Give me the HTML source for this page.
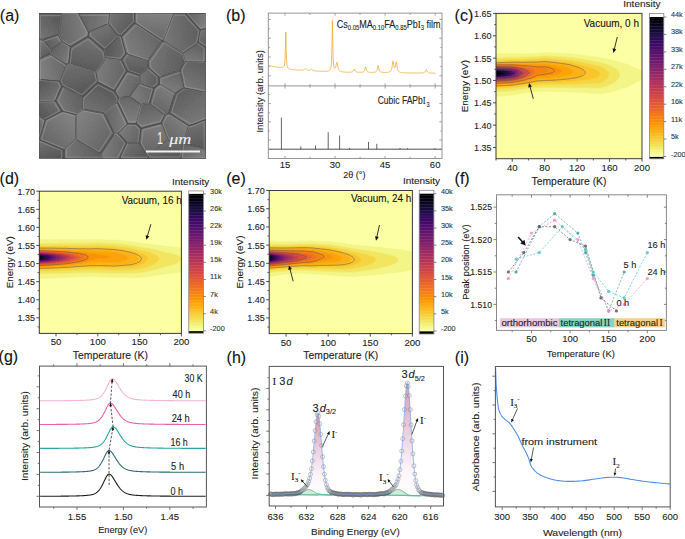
<!DOCTYPE html>
<html><head><meta charset="utf-8"><style>
html,body{margin:0;padding:0;background:#fff;}
svg{display:block;font-family:"Liberation Sans", sans-serif;}
</style></head><body>
<svg width="685" height="539" viewBox="0 0 685 539">
<rect width="685" height="539" fill="#fff"/>
<text x="-0.2" y="21.1" font-size="16" fill="#111" stroke="#111" stroke-width="0.1">(a)</text>
<text x="226" y="21.4" font-size="16" fill="#111" stroke="#111" stroke-width="0.1">(b)</text>
<text x="454.6" y="21.4" font-size="16" fill="#111" stroke="#111" stroke-width="0.1">(c)</text>
<text x="-0.4" y="184.3" font-size="16" fill="#111" stroke="#111" stroke-width="0.1">(d)</text>
<text x="226.2" y="184.1" font-size="16" fill="#111" stroke="#111" stroke-width="0.1">(e)</text>
<text x="454.6" y="184" font-size="16" fill="#111" stroke="#111" stroke-width="0.1">(f)</text>
<text x="-1.4" y="362.4" font-size="16" fill="#111" stroke="#111" stroke-width="0.1">(g)</text>
<text x="226.6" y="363.3" font-size="16" fill="#111" stroke="#111" stroke-width="0.1">(h)</text>
<text x="454.8" y="363.4" font-size="16" fill="#111" stroke="#111" stroke-width="0.1">(i)</text>
<defs><clipPath id="semclip"><rect x="39" y="13" width="167" height="146"/></clipPath><filter id="semblur" x="-5%" y="-5%" width="110%" height="110%"><feGaussianBlur stdDeviation="0.7"/></filter><filter id="semnoise" x="0" y="0" width="100%" height="100%"><feTurbulence type="fractalNoise" baseFrequency="0.7" numOctaves="2" seed="4"/><feColorMatrix type="matrix" values="0 0 0 0 0.5  0 0 0 0 0.5  0 0 0 0 0.5  0 0 0 0.5 0"/></filter><linearGradient id="sg0" x1="0.16" y1="0.86" x2="0.84" y2="0.14"><stop offset="0" stop-color="#6e6e6e"/><stop offset="1" stop-color="#525252"/></linearGradient><linearGradient id="sg1" x1="1" y1="0.46" x2="0" y2="0.54"><stop offset="0" stop-color="#7c7c7c"/><stop offset="1" stop-color="#606060"/></linearGradient><linearGradient id="sg2" x1="1" y1="0.56" x2="0" y2="0.44"><stop offset="0" stop-color="#797979"/><stop offset="1" stop-color="#5d5d5d"/></linearGradient><linearGradient id="sg3" x1="0.06" y1="0.26" x2="0.94" y2="0.74"><stop offset="0" stop-color="#6d6d6d"/><stop offset="1" stop-color="#515151"/></linearGradient><linearGradient id="sg4" x1="0.23" y1="0.08" x2="0.77" y2="0.92"><stop offset="0" stop-color="#727272"/><stop offset="1" stop-color="#565656"/></linearGradient><linearGradient id="sg5" x1="0.93" y1="0.24" x2="0.07" y2="0.76"><stop offset="0" stop-color="#6f6f6f"/><stop offset="1" stop-color="#535353"/></linearGradient><linearGradient id="sg6" x1="0.94" y1="0.74" x2="0.06" y2="0.26"><stop offset="0" stop-color="#767676"/><stop offset="1" stop-color="#5a5a5a"/></linearGradient><linearGradient id="sg7" x1="0.61" y1="0.01" x2="0.39" y2="0.99"><stop offset="0" stop-color="#6f6f6f"/><stop offset="1" stop-color="#535353"/></linearGradient><linearGradient id="sg8" x1="0.19" y1="0.11" x2="0.81" y2="0.89"><stop offset="0" stop-color="#707070"/><stop offset="1" stop-color="#545454"/></linearGradient><linearGradient id="sg9" x1="0.02" y1="0.62" x2="0.98" y2="0.38"><stop offset="0" stop-color="#7d7d7d"/><stop offset="1" stop-color="#616161"/></linearGradient><linearGradient id="sg10" x1="0.36" y1="0.02" x2="0.64" y2="0.98"><stop offset="0" stop-color="#6a6a6a"/><stop offset="1" stop-color="#4e4e4e"/></linearGradient><linearGradient id="sg11" x1="0.01" y1="0.43" x2="0.99" y2="0.57"><stop offset="0" stop-color="#797979"/><stop offset="1" stop-color="#5d5d5d"/></linearGradient><linearGradient id="sg12" x1="1" y1="0.55" x2="0" y2="0.45"><stop offset="0" stop-color="#6a6a6a"/><stop offset="1" stop-color="#4e4e4e"/></linearGradient><linearGradient id="sg13" x1="0.53" y1="0" x2="0.47" y2="1"><stop offset="0" stop-color="#7d7d7d"/><stop offset="1" stop-color="#616161"/></linearGradient><linearGradient id="sg14" x1="0.06" y1="0.73" x2="0.94" y2="0.27"><stop offset="0" stop-color="#7b7b7b"/><stop offset="1" stop-color="#5f5f5f"/></linearGradient><linearGradient id="sg15" x1="0" y1="0.56" x2="1" y2="0.44"><stop offset="0" stop-color="#737373"/><stop offset="1" stop-color="#575757"/></linearGradient><linearGradient id="sg16" x1="0.98" y1="0.64" x2="0.02" y2="0.36"><stop offset="0" stop-color="#7a7a7a"/><stop offset="1" stop-color="#5e5e5e"/></linearGradient><linearGradient id="sg17" x1="0.01" y1="0.41" x2="0.99" y2="0.59"><stop offset="0" stop-color="#737373"/><stop offset="1" stop-color="#575757"/></linearGradient><linearGradient id="sg18" x1="0.5" y1="0" x2="0.5" y2="1"><stop offset="0" stop-color="#6c6c6c"/><stop offset="1" stop-color="#505050"/></linearGradient><linearGradient id="sg19" x1="0.3" y1="0.96" x2="0.7" y2="0.04"><stop offset="0" stop-color="#767676"/><stop offset="1" stop-color="#5a5a5a"/></linearGradient><linearGradient id="sg20" x1="0.31" y1="0.96" x2="0.69" y2="0.04"><stop offset="0" stop-color="#767676"/><stop offset="1" stop-color="#5a5a5a"/></linearGradient><linearGradient id="sg21" x1="0.27" y1="0.95" x2="0.73" y2="0.05"><stop offset="0" stop-color="#7c7c7c"/><stop offset="1" stop-color="#606060"/></linearGradient><linearGradient id="sg22" x1="0.01" y1="0.39" x2="0.99" y2="0.61"><stop offset="0" stop-color="#717171"/><stop offset="1" stop-color="#555555"/></linearGradient><linearGradient id="sg23" x1="0.03" y1="0.34" x2="0.97" y2="0.66"><stop offset="0" stop-color="#797979"/><stop offset="1" stop-color="#5d5d5d"/></linearGradient><linearGradient id="sg24" x1="0.48" y1="0" x2="0.52" y2="1"><stop offset="0" stop-color="#717171"/><stop offset="1" stop-color="#555555"/></linearGradient><linearGradient id="sg25" x1="0.82" y1="0.88" x2="0.18" y2="0.12"><stop offset="0" stop-color="#717171"/><stop offset="1" stop-color="#555555"/></linearGradient><linearGradient id="sg26" x1="0.04" y1="0.69" x2="0.96" y2="0.31"><stop offset="0" stop-color="#757575"/><stop offset="1" stop-color="#595959"/></linearGradient><linearGradient id="sg27" x1="0.22" y1="0.92" x2="0.78" y2="0.08"><stop offset="0" stop-color="#6c6c6c"/><stop offset="1" stop-color="#505050"/></linearGradient><linearGradient id="sg28" x1="0.87" y1="0.17" x2="0.13" y2="0.83"><stop offset="0" stop-color="#6c6c6c"/><stop offset="1" stop-color="#505050"/></linearGradient><linearGradient id="sg29" x1="0.85" y1="0.14" x2="0.15" y2="0.86"><stop offset="0" stop-color="#7d7d7d"/><stop offset="1" stop-color="#616161"/></linearGradient><linearGradient id="sg30" x1="0.12" y1="0.18" x2="0.88" y2="0.82"><stop offset="0" stop-color="#7b7b7b"/><stop offset="1" stop-color="#5f5f5f"/></linearGradient><linearGradient id="sg31" x1="1" y1="0.55" x2="0" y2="0.45"><stop offset="0" stop-color="#7a7a7a"/><stop offset="1" stop-color="#5e5e5e"/></linearGradient><linearGradient id="sg32" x1="0" y1="0.44" x2="1" y2="0.56"><stop offset="0" stop-color="#7a7a7a"/><stop offset="1" stop-color="#5e5e5e"/></linearGradient><linearGradient id="sg33" x1="0" y1="0.55" x2="1" y2="0.45"><stop offset="0" stop-color="#727272"/><stop offset="1" stop-color="#565656"/></linearGradient><linearGradient id="sg34" x1="0.32" y1="0.03" x2="0.68" y2="0.97"><stop offset="0" stop-color="#6b6b6b"/><stop offset="1" stop-color="#4f4f4f"/></linearGradient><linearGradient id="sg35" x1="0.75" y1="0.06" x2="0.25" y2="0.94"><stop offset="0" stop-color="#787878"/><stop offset="1" stop-color="#5c5c5c"/></linearGradient><linearGradient id="sg36" x1="0.02" y1="0.64" x2="0.98" y2="0.36"><stop offset="0" stop-color="#7c7c7c"/><stop offset="1" stop-color="#606060"/></linearGradient><linearGradient id="sg37" x1="0.74" y1="0.06" x2="0.26" y2="0.94"><stop offset="0" stop-color="#7b7b7b"/><stop offset="1" stop-color="#5f5f5f"/></linearGradient><linearGradient id="sg38" x1="0.77" y1="0.92" x2="0.23" y2="0.08"><stop offset="0" stop-color="#747474"/><stop offset="1" stop-color="#585858"/></linearGradient><linearGradient id="sg39" x1="0.44" y1="1" x2="0.56" y2="0"><stop offset="0" stop-color="#7d7d7d"/><stop offset="1" stop-color="#616161"/></linearGradient><linearGradient id="sg40" x1="0.65" y1="0.98" x2="0.35" y2="0.02"><stop offset="0" stop-color="#787878"/><stop offset="1" stop-color="#5c5c5c"/></linearGradient><linearGradient id="sg41" x1="0.85" y1="0.14" x2="0.15" y2="0.86"><stop offset="0" stop-color="#7d7d7d"/><stop offset="1" stop-color="#616161"/></linearGradient><linearGradient id="sg42" x1="0.41" y1="0.01" x2="0.59" y2="0.99"><stop offset="0" stop-color="#6e6e6e"/><stop offset="1" stop-color="#525252"/></linearGradient><linearGradient id="sg43" x1="0.04" y1="0.32" x2="0.96" y2="0.68"><stop offset="0" stop-color="#7a7a7a"/><stop offset="1" stop-color="#5e5e5e"/></linearGradient><linearGradient id="sg44" x1="0.54" y1="0" x2="0.46" y2="1"><stop offset="0" stop-color="#7a7a7a"/><stop offset="1" stop-color="#5e5e5e"/></linearGradient><linearGradient id="sg45" x1="0.07" y1="0.25" x2="0.93" y2="0.75"><stop offset="0" stop-color="#6e6e6e"/><stop offset="1" stop-color="#525252"/></linearGradient><linearGradient id="sg46" x1="0.33" y1="0.03" x2="0.67" y2="0.97"><stop offset="0" stop-color="#6d6d6d"/><stop offset="1" stop-color="#515151"/></linearGradient><linearGradient id="sg47" x1="0.92" y1="0.77" x2="0.08" y2="0.23"><stop offset="0" stop-color="#7a7a7a"/><stop offset="1" stop-color="#5e5e5e"/></linearGradient></defs>
<g clip-path="url(#semclip)">
<rect x="39" y="13" width="167" height="146" fill="#5a5a5a" stroke="none" stroke-width="1" />
<g filter="url(#semblur)"><polygon points="42.5,40 39,38.8 39,13.2 61.5,13 61.7,14.2 61.3,14.5 61,19.2 60.7,19.5 58.7,34.5 58.2,35 55.2,35.7 48.8,38 47.8,38 42.5,40" fill="url(#sg0)" stroke="#4a4a4a" stroke-width="1.4" stroke-linejoin="round"/><polygon points="71.2,46.7 70.2,46.7 62.5,42 61.7,41.2 58.7,34.8 60.7,19.5 61,19.2 61.3,14.5 61.8,13 78.5,13 88.7,31.8 88.7,34.5 88.2,36.7 71.2,46.7" fill="url(#sg1)" stroke="#4a4a4a" stroke-width="1.4" stroke-linejoin="round"/><polygon points="88.8,32.3 81.7,18.5 81,17.8 78.8,13 109.7,13.2 109,22.2 108.7,23.8 108.2,24.3 105.8,25 88.8,32.3" fill="url(#sg2)" stroke="#4a4a4a" stroke-width="1.4" stroke-linejoin="round"/><polygon points="121.5,36.3 118.5,36 109,24.5 108.7,22.5 109,22.2 109.7,13.2 134.5,13 134.7,22.8 121.5,36.3" fill="url(#sg3)" stroke="#4a4a4a" stroke-width="1.4" stroke-linejoin="round"/><polygon points="104.2,50 88.3,36.5 88.7,32.5 108.8,24 118.3,36.2 104.2,50" fill="url(#sg4)" stroke="#4a4a4a" stroke-width="1.4" stroke-linejoin="round"/><polygon points="51.2,49.7 49,47.8 43.3,41.2 42.7,39.8 58.5,34.7 62,41.5 51.2,49.7" fill="url(#sg5)" stroke="#4a4a4a" stroke-width="1.4" stroke-linejoin="round"/><polygon points="67.8,64.3 66.2,64 50.3,53.8 50.7,50.2 61.8,41.7 70.7,46.8 69.3,61.2 69,61.5 69,63.2 67.8,64.3" fill="url(#sg6)" stroke="#4a4a4a" stroke-width="1.4" stroke-linejoin="round"/><polygon points="96.5,71.7 94.2,71.3 86.5,68.7 85.5,68.7 73.5,64.7 72.5,64.7 69,63.2 70.7,46.8 87.8,36.7 88.5,36.7 90.5,38.3 104.3,50.5 104.3,52.2 105.7,57.8 96.5,71.7" fill="url(#sg7)" stroke="#4a4a4a" stroke-width="1.4" stroke-linejoin="round"/><polygon points="39.2,59 39,39.2 39.5,39 42.2,39.7 51,49.8 50.7,50.2 50.3,53.5 49.8,54 39.2,59" fill="url(#sg8)" stroke="#4a4a4a" stroke-width="1.4" stroke-linejoin="round"/><polygon points="59.8,81.7 59.2,81.3 55.8,81.3 55.5,81 44.5,80.3 44.2,80 40.8,80 39,79.5 39,59.2 39.5,58.7 50.2,53.7 67.3,64.5 61.3,78.2 60.7,80.5 59.8,81.7" fill="url(#sg9)" stroke="#4a4a4a" stroke-width="1.4" stroke-linejoin="round"/><polygon points="82.8,97 79.5,95.7 73.8,92.3 63.2,87 62,86.2 60,81.8 67,64.8 68.8,63.3 96.3,71.8 97.3,78.5 98,80.5 98,82.5 82.8,97" fill="url(#sg10)" stroke="#4a4a4a" stroke-width="1.4" stroke-linejoin="round"/><polygon points="114.8,91 98,82.2 96.3,71.8 105.5,58 115.5,59 115.8,59.3 118.5,59.3 118.8,59.7 121.5,59.7 127,70.8 127,71.5 114.8,91" fill="url(#sg11)" stroke="#4a4a4a" stroke-width="1.4" stroke-linejoin="round"/><polygon points="121.8,59.7 118.8,59.7 118.5,59.3 115.8,59.3 115.5,59 105.8,58 105.3,57.5 105,54.2 104,50.2 118.5,36 121.2,36.3 121.7,37.2 126,52.8 126,54.2 121.8,59.7" fill="url(#sg12)" stroke="#4a4a4a" stroke-width="1.4" stroke-linejoin="round"/><polygon points="162.2,41.3 134.7,23.2 134.8,13 173.7,13.2 163.7,40.2 163.2,41 162.2,41.3" fill="url(#sg13)" stroke="#4a4a4a" stroke-width="1.4" stroke-linejoin="round"/><polygon points="147.8,61 126.5,54 126,53.5 121.3,36.5 134.5,23 161.7,41.2 161,42.8 147.8,61" fill="url(#sg14)" stroke="#4a4a4a" stroke-width="1.4" stroke-linejoin="round"/><polygon points="182.5,53.3 163.3,40.8 173.8,13 185.5,13 200.7,29.8 200.7,31.2 200,32.8 200,34.2 198,42.5 182.5,53.3" fill="url(#sg15)" stroke="#4a4a4a" stroke-width="1.4" stroke-linejoin="round"/><polygon points="201.5,30 200.8,30 198,27.2 187,14.8 185.8,13 206,13.2 206,28.5 201.5,30" fill="url(#sg16)" stroke="#4a4a4a" stroke-width="1.4" stroke-linejoin="round"/><polygon points="159.5,77.3 157.5,76 148.3,67.8 147.7,61.2 161.7,41.5 163.5,41 181.5,52.7 182.7,53.8 185,61.2 180.3,69.8 179.5,70.7 159.5,77.3" fill="url(#sg17)" stroke="#4a4a4a" stroke-width="1.4" stroke-linejoin="round"/><polygon points="139.2,75.3 127,71.2 121.7,60.2 122,59.2 126.2,53.7 147.2,60.7 147.7,61.2 148.3,67.8 139.2,75.3" fill="url(#sg18)" stroke="#4a4a4a" stroke-width="1.4" stroke-linejoin="round"/><polygon points="205.8,62.3 185.2,61.3 184.7,60.8 182.3,53.5 196.2,43.7 198.2,42.7 206,48.2 205.8,62.3" fill="url(#sg19)" stroke="#4a4a4a" stroke-width="1.4" stroke-linejoin="round"/><polygon points="205.8,92.7 183.7,88.2 181.3,76.5 180.7,74.8 180,70.2 184.8,61.3 204.2,62 206,62.5 205.8,92.7" fill="url(#sg20)" stroke="#4a4a4a" stroke-width="1.4" stroke-linejoin="round"/><polygon points="175.5,93.3 174.8,93.3 172.5,91.7 159.8,84.7 159,83.8 159,77.5 179.8,70.3 183.7,88.2 175.5,93.3" fill="url(#sg21)" stroke="#4a4a4a" stroke-width="1.4" stroke-linejoin="round"/><polygon points="154.5,87.7 145.2,84.7 144.2,84.7 140.2,83.3 139.7,82.8 139.3,75.2 148.2,68 150.2,69.3 159,77.2 159,84.2 154.5,87.7" fill="url(#sg22)" stroke="#4a4a4a" stroke-width="1.4" stroke-linejoin="round"/><polygon points="123.2,97.7 119.2,97.7 115.7,92.5 115,90.5 126.3,72.2 127.2,71.3 127.8,71.3 138.8,75 139.3,75.5 139.7,83.2 138.7,84.8 129.8,97 123.5,97.3 123.2,97.7" fill="url(#sg23)" stroke="#4a4a4a" stroke-width="1.4" stroke-linejoin="round"/><polygon points="205.8,48 198,42.5 200.7,30.2 205.2,28.7 206,28.8 205.8,48" fill="url(#sg24)" stroke="#4a4a4a" stroke-width="1.4" stroke-linejoin="round"/><polygon points="39.2,102 39.2,79.7 47.8,80.3 48.2,80.7 51.5,80.7 51.8,81 59.2,81.3 60.3,82.2 62,85.8 62,86.8 59.7,91.5 56.7,99.2 55.5,101 39.5,101.7 39.2,102" fill="url(#sg25)" stroke="#4a4a4a" stroke-width="1.4" stroke-linejoin="round"/><polygon points="76.2,115 62.2,111.3 55.7,100.8 62.2,86.3 82.7,97.2 82.7,109.5 76.2,115" fill="url(#sg26)" stroke="#4a4a4a" stroke-width="1.4" stroke-linejoin="round"/><polygon points="104.2,113.3 82.7,109.5 82.7,97.2 98.2,82.3 114.5,90.7 119,97.5 119,98.5 117.7,101.8 104.2,113.3" fill="url(#sg27)" stroke="#4a4a4a" stroke-width="1.4" stroke-linejoin="round"/><polygon points="45.5,119.7 43.5,119 39,116.2 39,102.2 39.5,101.7 55.8,101 62,111.2 45.5,119.7" fill="url(#sg28)" stroke="#4a4a4a" stroke-width="1.4" stroke-linejoin="round"/><polygon points="63.8,150 39,139.8 39,138.8 45,119.8 61.8,111.3 65.5,112 76.3,115.2 76.3,138.8 63.8,150" fill="url(#sg29)" stroke="#4a4a4a" stroke-width="1.4" stroke-linejoin="round"/><polygon points="100.8,153.7 76.3,139.2 76.3,114.8 82.5,109.7 84.5,109.7 86.5,110.3 88.2,110.3 90.2,111 91.8,111 93.8,111.7 104.2,113.3 114,132.8 113.7,134.2 100.8,153.7" fill="url(#sg30)" stroke="#4a4a4a" stroke-width="1.4" stroke-linejoin="round"/><polygon points="116.8,133.3 114,133.2 104.3,113.8 104.3,113.2 117.5,102 128,123.8 118.5,133 116.8,133.3" fill="url(#sg31)" stroke="#4a4a4a" stroke-width="1.4" stroke-linejoin="round"/><polygon points="119.5,159 102.2,159 101.3,156.2 101,154.5 101.3,152.8 114.2,133.3 118.2,133 127,143.2 119.5,159" fill="url(#sg32)" stroke="#4a4a4a" stroke-width="1.4" stroke-linejoin="round"/><polygon points="101.8,159 64.2,159 64,149.8 76.2,139 100.5,153.3 101.3,154.8 101.3,156.2 102,157.8 101.8,159" fill="url(#sg33)" stroke="#4a4a4a" stroke-width="1.4" stroke-linejoin="round"/><polygon points="63.8,159 39.2,159 39,140.2 39.8,140 63.8,150 63.8,159" fill="url(#sg34)" stroke="#4a4a4a" stroke-width="1.4" stroke-linejoin="round"/><polygon points="39.2,138.7 39,116.5 39.5,116.3 44.5,119.3 45,120.2 39.2,138.7" fill="url(#sg35)" stroke="#4a4a4a" stroke-width="1.4" stroke-linejoin="round"/><polygon points="141.8,104.7 140.5,104.7 130,96.8 139.8,83 154.3,87.8 149.7,103.2 141.8,104.7" fill="url(#sg36)" stroke="#4a4a4a" stroke-width="1.4" stroke-linejoin="round"/><polygon points="165.2,115 149.7,103.2 154,88.5 155.5,86.7 159.2,84 175.3,93.5 169.7,110.5 169.3,112.5 168.5,113.7 165.2,115" fill="url(#sg37)" stroke="#4a4a4a" stroke-width="1.4" stroke-linejoin="round"/><polygon points="189.2,126 169,113.5 175,93.8 183.5,88.3 201.8,92 205.2,92.3 206,92.8 206,119.5 204.8,120.3 202.2,121 189.2,126" fill="url(#sg38)" stroke="#4a4a4a" stroke-width="1.4" stroke-linejoin="round"/><polygon points="136.2,124 128,123.8 117.7,102.2 117.7,101.2 119.2,97.7 130.2,97 140.7,104.8 139,113.2 138,116.2 138,117.5 137.3,119.2 137.3,120.5 136.2,124" fill="url(#sg39)" stroke="#4a4a4a" stroke-width="1.4" stroke-linejoin="round"/><polygon points="141.5,128.7 136.3,123.8 140.8,104.7 145.8,104 147.8,103.3 149.8,103.3 165,115.2 161.2,123.3 142.8,128 141.5,128.7" fill="url(#sg40)" stroke="#4a4a4a" stroke-width="1.4" stroke-linejoin="round"/><polygon points="181.8,144 167.7,139.8 163.7,129.2 161.3,124.2 161.3,122.5 164.7,115.5 165.5,114.7 168.8,113.3 189,126.2 183.3,142.8 181.8,144" fill="url(#sg41)" stroke="#4a4a4a" stroke-width="1.4" stroke-linejoin="round"/><polygon points="205.8,149.3 183.3,142.8 188.7,126.5 189.5,125.7 191.2,125 193.8,124.3 205.8,119.7 205.8,149.3" fill="url(#sg42)" stroke="#4a4a4a" stroke-width="1.4" stroke-linejoin="round"/><polygon points="139.2,143.3 127.2,143.3 118.3,133.2 127.8,124 136.5,124 141,128.5 140.3,136.2 140,136.5 140,138.8 139.7,139.2 139.7,141.5 139.2,143.3" fill="url(#sg43)" stroke="#4a4a4a" stroke-width="1.4" stroke-linejoin="round"/><polygon points="147.8,156.7 147.3,156.5 139.3,143.2 141,128.8 142.8,128 161.2,123.3 167.7,139.2 167.7,140.2 147.8,156.7" fill="url(#sg44)" stroke="#4a4a4a" stroke-width="1.4" stroke-linejoin="round"/><polygon points="147.5,159 119.8,159 119.7,158.5 126.8,143.3 139.5,143.3 147,155.5 147.7,156.8 147.5,159" fill="url(#sg45)" stroke="#4a4a4a" stroke-width="1.4" stroke-linejoin="round"/><polygon points="180.2,159 147.8,159 147.7,156.8 166.8,140.7 168.5,140 169.8,140.7 181.7,143.8 180.7,157.8 180.2,159" fill="url(#sg46)" stroke="#4a4a4a" stroke-width="1.4" stroke-linejoin="round"/><polygon points="205.8,159 180.5,159 181.7,144.2 182.8,143 184.2,143 205.8,149.3 205.8,159" fill="url(#sg47)" stroke="#4a4a4a" stroke-width="1.4" stroke-linejoin="round"/><clipPath id="rc0"><polygon points="42.5,40 39,38.8 39,13.2 61.5,13 61.7,14.2 61.3,14.5 61,19.2 60.7,19.5 58.7,34.5 58.2,35 55.2,35.7 48.8,38 47.8,38 42.5,40"/></clipPath><polygon points="43.6,40.5 40.3,39.4 40.3,15.6 61.3,15.4 61.4,16.5 61.1,16.8 60.8,21.1 60.5,21.5 58.6,35.4 58.2,35.9 55.4,36.5 49.5,38.7 48.6,38.7 43.6,40.5" fill="none" stroke="#a4a4a4" stroke-width="1.1" opacity="0.45" clip-path="url(#rc0)"/><clipPath id="rc1"><polygon points="71.2,46.7 70.2,46.7 62.5,42 61.7,41.2 58.7,34.8 60.7,19.5 61,19.2 61.3,14.5 61.8,13 78.5,13 88.7,31.8 88.7,34.5 88.2,36.7 71.2,46.7"/></clipPath><polygon points="70,44.7 69.1,44.7 62,40.4 61.2,39.6 58.4,33.7 60.3,19.4 60.6,19.1 60.9,14.8 61.4,13.4 76.9,13.4 86.3,30.9 86.3,33.4 85.8,35.4 70,44.7" fill="none" stroke="#a4a4a4" stroke-width="1.1" opacity="0.45" clip-path="url(#rc1)"/><clipPath id="rc2"><polygon points="88.8,32.3 81.7,18.5 81,17.8 78.8,13 109.7,13.2 109,22.2 108.7,23.8 108.2,24.3 105.8,25 88.8,32.3"/></clipPath><polygon points="88.9,33 82.3,20.1 81.6,19.5 79.6,15 108.3,15.1 107.7,23.5 107.4,25.1 106.9,25.5 104.7,26.1 88.9,33" fill="none" stroke="#a4a4a4" stroke-width="1.1" opacity="0.45" clip-path="url(#rc2)"/><clipPath id="rc3"><polygon points="121.5,36.3 118.5,36 109,24.5 108.7,22.5 109,22.2 109.7,13.2 134.5,13 134.7,22.8 121.5,36.3"/></clipPath><polygon points="121.2,34.2 118.4,33.8 109.6,23.2 109.3,21.3 109.6,21 110.2,12.6 133.3,12.5 133.4,21.6 121.2,34.2" fill="none" stroke="#a4a4a4" stroke-width="1.1" opacity="0.45" clip-path="url(#rc3)"/><clipPath id="rc4"><polygon points="104.2,50 88.3,36.5 88.7,32.5 108.8,24 118.3,36.2 104.2,50"/></clipPath><polygon points="105,48.2 90.3,35.7 90.6,31.9 109.4,24 118.2,35.3 105,48.2" fill="none" stroke="#a4a4a4" stroke-width="1.1" opacity="0.45" clip-path="url(#rc4)"/><clipPath id="rc5"><polygon points="51.2,49.7 49,47.8 43.3,41.2 42.7,39.8 58.5,34.7 62,41.5 51.2,49.7"/></clipPath><polygon points="50.8,50.6 48.7,48.9 43.5,42.7 42.9,41.4 57.6,36.6 60.8,43 50.8,50.6" fill="none" stroke="#a4a4a4" stroke-width="1.1" opacity="0.45" clip-path="url(#rc5)"/><clipPath id="rc6"><polygon points="67.8,64.3 66.2,64 50.3,53.8 50.7,50.2 61.8,41.7 70.7,46.8 69.3,61.2 69,61.5 69,63.2 67.8,64.3"/></clipPath><polygon points="66.5,63 64.9,62.7 50.2,53.2 50.5,49.8 60.9,41.9 69.1,46.7 67.8,60.1 67.5,60.4 67.5,61.9 66.5,63" fill="none" stroke="#a4a4a4" stroke-width="1.1" opacity="0.45" clip-path="url(#rc6)"/><clipPath id="rc7"><polygon points="96.5,71.7 94.2,71.3 86.5,68.7 85.5,68.7 73.5,64.7 72.5,64.7 69,63.2 70.7,46.8 87.8,36.7 88.5,36.7 90.5,38.3 104.3,50.5 104.3,52.2 105.7,57.8 96.5,71.7"/></clipPath><polygon points="95.9,72.1 93.7,71.8 86.6,69.3 85.7,69.3 74.5,65.6 73.6,65.6 70.3,64.2 71.9,49 87.8,39.5 88.5,39.5 90.3,41.1 103.2,52.4 103.2,53.9 104.4,59.2 95.9,72.1" fill="none" stroke="#a4a4a4" stroke-width="1.1" opacity="0.45" clip-path="url(#rc7)"/><clipPath id="rc8"><polygon points="39.2,59 39,39.2 39.5,39 42.2,39.7 51,49.8 50.7,50.2 50.3,53.5 49.8,54 39.2,59"/></clipPath><polygon points="40.3,59.5 40.1,41.1 40.6,40.9 43,41.5 51.3,51 50.9,51.3 50.6,54.4 50.2,54.9 40.3,59.5" fill="none" stroke="#a4a4a4" stroke-width="1.1" opacity="0.45" clip-path="url(#rc8)"/><clipPath id="rc9"><polygon points="59.8,81.7 59.2,81.3 55.8,81.3 55.5,81 44.5,80.3 44.2,80 40.8,80 39,79.5 39,59.2 39.5,58.7 50.2,53.7 67.3,64.5 61.3,78.2 60.7,80.5 59.8,81.7"/></clipPath><polygon points="59.8,82.5 59.2,82.2 56.1,82.2 55.8,81.9 45.5,81.2 45.2,80.9 42.1,80.9 40.4,80.5 40.4,61.6 40.9,61.1 50.8,56.4 66.8,66.5 61.2,79.2 60.6,81.4 59.8,82.5" fill="none" stroke="#a4a4a4" stroke-width="1.1" opacity="0.45" clip-path="url(#rc9)"/><clipPath id="rc10"><polygon points="82.8,97 79.5,95.7 73.8,92.3 63.2,87 62,86.2 60,81.8 67,64.8 68.8,63.3 96.3,71.8 97.3,78.5 98,80.5 98,82.5 82.8,97"/></clipPath><polygon points="82.1,94.7 79,93.4 73.8,90.3 63.9,85.4 62.8,84.6 60.9,80.6 67.4,64.8 69.1,63.4 94.7,71.3 95.6,77.5 96.3,79.3 96.3,81.2 82.1,94.7" fill="none" stroke="#a4a4a4" stroke-width="1.1" opacity="0.45" clip-path="url(#rc10)"/><clipPath id="rc11"><polygon points="114.8,91 98,82.2 96.3,71.8 105.5,58 115.5,59 115.8,59.3 118.5,59.3 118.8,59.7 121.5,59.7 127,70.8 127,71.5 114.8,91"/></clipPath><polygon points="113.6,88.8 97.9,80.6 96.4,71 104.9,58.1 114.2,59.1 114.5,59.4 117,59.4 117.3,59.7 119.8,59.7 124.9,70.1 124.9,70.7 113.6,88.8" fill="none" stroke="#a4a4a4" stroke-width="1.1" opacity="0.45" clip-path="url(#rc11)"/><clipPath id="rc12"><polygon points="121.8,59.7 118.8,59.7 118.5,59.3 115.8,59.3 115.5,59 105.8,58 105.3,57.5 105,54.2 104,50.2 118.5,36 121.2,36.3 121.7,37.2 126,52.8 126,54.2 121.8,59.7"/></clipPath><polygon points="120.6,58.1 117.8,58.1 117.5,57.8 115,57.8 114.7,57.5 105.7,56.6 105.2,56.1 104.9,53 104,49.3 117.5,36.1 119.9,36.4 120.4,37.2 124.4,51.8 124.4,53 120.6,58.1" fill="none" stroke="#a4a4a4" stroke-width="1.1" opacity="0.45" clip-path="url(#rc12)"/><clipPath id="rc13"><polygon points="162.2,41.3 134.7,23.2 134.8,13 173.7,13.2 163.7,40.2 163.2,41 162.2,41.3"/></clipPath><polygon points="162.2,39.2 136.6,22.4 136.8,12.9 172.9,13.1 163.6,38.2 163.1,38.9 162.2,39.2" fill="none" stroke="#a4a4a4" stroke-width="1.1" opacity="0.45" clip-path="url(#rc13)"/><clipPath id="rc14"><polygon points="147.8,61 126.5,54 126,53.5 121.3,36.5 134.5,23 161.7,41.2 161,42.8 147.8,61"/></clipPath><polygon points="148.7,60 128.9,53.5 128.4,53 124.1,37.2 136.3,24.7 161.6,41.6 161,43.1 148.7,60" fill="none" stroke="#a4a4a4" stroke-width="1.1" opacity="0.45" clip-path="url(#rc14)"/><clipPath id="rc15"><polygon points="182.5,53.3 163.3,40.8 173.8,13 185.5,13 200.7,29.8 200.7,31.2 200,32.8 200,34.2 198,42.5 182.5,53.3"/></clipPath><polygon points="181.8,52.8 164,41.2 173.7,15.3 184.6,15.3 198.7,31 198.7,32.2 198.1,33.8 198.1,35 196.2,42.8 181.8,52.8" fill="none" stroke="#a4a4a4" stroke-width="1.1" opacity="0.45" clip-path="url(#rc15)"/><clipPath id="rc16"><polygon points="201.5,30 200.8,30 198,27.2 187,14.8 185.8,13 206,13.2 206,28.5 201.5,30"/></clipPath><polygon points="201.5,28.1 200.8,28.1 198.2,25.5 188,14 186.9,12.3 205.6,12.5 205.6,26.8 201.5,28.1" fill="none" stroke="#a4a4a4" stroke-width="1.1" opacity="0.45" clip-path="url(#rc16)"/><clipPath id="rc17"><polygon points="159.5,77.3 157.5,76 148.3,67.8 147.7,61.2 161.7,41.5 163.5,41 181.5,52.7 182.7,53.8 185,61.2 180.3,69.8 179.5,70.7 159.5,77.3"/></clipPath><polygon points="161.2,77 159.4,75.8 150.9,68.2 150.2,62 163.3,43.7 165,43.2 181.7,54.1 182.8,55.2 185,62 180.6,70 179.8,70.8 161.2,77" fill="none" stroke="#a4a4a4" stroke-width="1.1" opacity="0.45" clip-path="url(#rc17)"/><clipPath id="rc18"><polygon points="139.2,75.3 127,71.2 121.7,60.2 122,59.2 126.2,53.7 147.2,60.7 147.7,61.2 148.3,67.8 139.2,75.3"/></clipPath><polygon points="140.3,74.3 129,70.4 124,60.2 124.3,59.3 128.2,54.1 147.7,60.7 148.2,61.1 148.8,67.3 140.3,74.3" fill="none" stroke="#a4a4a4" stroke-width="1.1" opacity="0.45" clip-path="url(#rc18)"/><clipPath id="rc19"><polygon points="205.8,62.3 185.2,61.3 184.7,60.8 182.3,53.5 196.2,43.7 198.2,42.7 206,48.2 205.8,62.3"/></clipPath><polygon points="203.8,61.2 184.6,60.3 184.1,59.8 182,53 194.8,43.9 196.7,42.9 204,48 203.8,61.2" fill="none" stroke="#a4a4a4" stroke-width="1.1" opacity="0.45" clip-path="url(#rc19)"/><clipPath id="rc20"><polygon points="205.8,92.7 183.7,88.2 181.3,76.5 180.7,74.8 180,70.2 184.8,61.3 204.2,62 206,62.5 205.8,92.7"/></clipPath><polygon points="206.2,90.9 185.5,86.7 183.4,75.8 182.7,74.3 182.1,69.9 186.6,61.7 204.6,62.3 206.3,62.8 206.2,90.9" fill="none" stroke="#a4a4a4" stroke-width="1.1" opacity="0.45" clip-path="url(#rc20)"/><clipPath id="rc21"><polygon points="175.5,93.3 174.8,93.3 172.5,91.7 159.8,84.7 159,83.8 159,77.5 179.8,70.3 183.7,88.2 175.5,93.3"/></clipPath><polygon points="176.4,93.6 175.7,93.6 173.6,92.1 161.8,85.6 161,84.8 161,78.9 180.4,72.2 183.9,88.8 176.4,93.6" fill="none" stroke="#a4a4a4" stroke-width="1.1" opacity="0.45" clip-path="url(#rc21)"/><clipPath id="rc22"><polygon points="154.5,87.7 145.2,84.7 144.2,84.7 140.2,83.3 139.7,82.8 139.3,75.2 148.2,68 150.2,69.3 159,77.2 159,84.2 154.5,87.7"/></clipPath><polygon points="152.7,86.8 144.1,84 143.1,84 139.4,82.7 138.9,82.3 138.6,75.1 146.9,68.5 148.7,69.7 156.9,77 156.9,83.5 152.7,86.8" fill="none" stroke="#a4a4a4" stroke-width="1.1" opacity="0.45" clip-path="url(#rc22)"/><clipPath id="rc23"><polygon points="123.2,97.7 119.2,97.7 115.7,92.5 115,90.5 126.3,72.2 127.2,71.3 127.8,71.3 138.8,75 139.3,75.5 139.7,83.2 138.7,84.8 129.8,97 123.5,97.3 123.2,97.7"/></clipPath><polygon points="124,98.1 120.3,98.1 117,93.3 116.4,91.5 127,74.4 127.7,73.7 128.3,73.7 138.6,77.1 139,77.5 139.4,84.7 138.4,86.2 130.2,97.5 124.3,97.8 124,98.1" fill="none" stroke="#a4a4a4" stroke-width="1.1" opacity="0.45" clip-path="url(#rc23)"/><clipPath id="rc24"><polygon points="205.8,48 198,42.5 200.7,30.2 205.2,28.7 206,28.8 205.8,48"/></clipPath><polygon points="206.1,45.9 198.8,40.8 201.3,29.3 205.4,28 206.2,28.1 206.1,45.9" fill="none" stroke="#a4a4a4" stroke-width="1.1" opacity="0.45" clip-path="url(#rc24)"/><clipPath id="rc25"><polygon points="39.2,102 39.2,79.7 47.8,80.3 48.2,80.7 51.5,80.7 51.8,81 59.2,81.3 60.3,82.2 62,85.8 62,86.8 59.7,91.5 56.7,99.2 55.5,101 39.5,101.7 39.2,102"/></clipPath><polygon points="38.6,101.2 38.6,80.4 46.7,81 47,81.3 50.1,81.3 50.4,81.6 57.2,81.9 58.3,82.7 59.9,86.1 59.9,87 57.7,91.4 54.9,98.5 53.8,100.2 38.9,100.8 38.6,101.2" fill="none" stroke="#a4a4a4" stroke-width="1.1" opacity="0.45" clip-path="url(#rc25)"/><clipPath id="rc26"><polygon points="76.2,115 62.2,111.3 55.7,100.8 62.2,86.3 82.7,97.2 82.7,109.5 76.2,115"/></clipPath><polygon points="77.1,113.8 64.1,110.4 58.1,100.6 64.1,87.2 83.2,97.2 83.2,108.7 77.1,113.8" fill="none" stroke="#a4a4a4" stroke-width="1.1" opacity="0.45" clip-path="url(#rc26)"/><clipPath id="rc27"><polygon points="104.2,113.3 82.7,109.5 82.7,97.2 98.2,82.3 114.5,90.7 119,97.5 119,98.5 117.7,101.8 104.2,113.3"/></clipPath><polygon points="103.4,113.6 83.4,110 83.4,98.6 97.8,84.8 113,92.5 117.2,98.9 117.2,99.8 116,102.9 103.4,113.6" fill="none" stroke="#a4a4a4" stroke-width="1.1" opacity="0.45" clip-path="url(#rc27)"/><clipPath id="rc28"><polygon points="45.5,119.7 43.5,119 39,116.2 39,102.2 39.5,101.7 55.8,101 62,111.2 45.5,119.7"/></clipPath><polygon points="44.2,119 42.3,118.4 38.1,115.7 38.1,102.7 38.6,102.3 53.8,101.6 59.5,111.1 44.2,119" fill="none" stroke="#a4a4a4" stroke-width="1.1" opacity="0.45" clip-path="url(#rc28)"/><clipPath id="rc29"><polygon points="63.8,150 39,139.8 39,138.8 45,119.8 61.8,111.3 65.5,112 76.3,115.2 76.3,138.8 63.8,150"/></clipPath><polygon points="64.9,148.8 41.8,139.3 41.8,138.4 47.4,120.7 63,112.8 66.4,113.4 76.5,116.4 76.5,138.4 64.9,148.8" fill="none" stroke="#a4a4a4" stroke-width="1.1" opacity="0.45" clip-path="url(#rc29)"/><clipPath id="rc30"><polygon points="100.8,153.7 76.3,139.2 76.3,114.8 82.5,109.7 84.5,109.7 86.5,110.3 88.2,110.3 90.2,111 91.8,111 93.8,111.7 104.2,113.3 114,132.8 113.7,134.2 100.8,153.7"/></clipPath><polygon points="98.9,151.7 76.1,138.2 76.1,115.6 81.9,110.8 83.7,110.8 85.6,111.4 87.1,111.4 89,112 90.5,112 92.4,112.6 102,114.2 111.2,132.3 110.8,133.5 98.9,151.7" fill="none" stroke="#a4a4a4" stroke-width="1.1" opacity="0.45" clip-path="url(#rc30)"/><clipPath id="rc31"><polygon points="116.8,133.3 114,133.2 104.3,113.8 104.3,113.2 117.5,102 128,123.8 118.5,133 116.8,133.3"/></clipPath><polygon points="115.4,133.1 112.8,132.9 103.8,115 103.8,114.3 116,103.9 125.8,124.3 116.9,132.8 115.4,133.1" fill="none" stroke="#a4a4a4" stroke-width="1.1" opacity="0.45" clip-path="url(#rc31)"/><clipPath id="rc32"><polygon points="119.5,159 102.2,159 101.3,156.2 101,154.5 101.3,152.8 114.2,133.3 118.2,133 127,143.2 119.5,159"/></clipPath><polygon points="117.7,157.8 101.6,157.8 100.8,155.1 100.5,153.6 100.8,152 112.7,133.9 116.4,133.6 124.7,143 117.7,157.8" fill="none" stroke="#a4a4a4" stroke-width="1.1" opacity="0.45" clip-path="url(#rc32)"/><clipPath id="rc33"><polygon points="101.8,159 64.2,159 64,149.8 76.2,139 100.5,153.3 101.3,154.8 101.3,156.2 102,157.8 101.8,159"/></clipPath><polygon points="101.5,157.3 66.4,157.3 66.3,148.8 77.6,138.7 100.2,152.1 101,153.5 101,154.7 101.6,156.3 101.5,157.3" fill="none" stroke="#a4a4a4" stroke-width="1.1" opacity="0.45" clip-path="url(#rc33)"/><clipPath id="rc34"><polygon points="63.8,159 39.2,159 39,140.2 39.8,140 63.8,150 63.8,159"/></clipPath><polygon points="61.6,158.9 38.7,158.9 38.5,141.4 39.3,141.2 61.6,150.5 61.6,158.9" fill="none" stroke="#a4a4a4" stroke-width="1.1" opacity="0.45" clip-path="url(#rc34)"/><clipPath id="rc35"><polygon points="39.2,138.7 39,116.5 39.5,116.3 44.5,119.3 45,120.2 39.2,138.7"/></clipPath><polygon points="38.4,138.8 38.3,118.2 38.7,118 43.4,120.8 43.8,121.6 38.4,138.8" fill="none" stroke="#a4a4a4" stroke-width="1.1" opacity="0.45" clip-path="url(#rc35)"/><clipPath id="rc36"><polygon points="141.8,104.7 140.5,104.7 130,96.8 139.8,83 154.3,87.8 149.7,103.2 141.8,104.7"/></clipPath><polygon points="140.7,105 139.5,105 129.7,97.7 138.9,84.8 152.3,89.3 148,103.6 140.7,105" fill="none" stroke="#a4a4a4" stroke-width="1.1" opacity="0.45" clip-path="url(#rc36)"/><clipPath id="rc37"><polygon points="165.2,115 149.7,103.2 154,88.5 155.5,86.7 159.2,84 175.3,93.5 169.7,110.5 169.3,112.5 168.5,113.7 165.2,115"/></clipPath><polygon points="166.2,114.8 151.8,103.8 155.9,90.2 157.3,88.5 160.7,86 175.7,94.8 170.4,110.6 170.1,112.5 169.3,113.6 166.2,114.8" fill="none" stroke="#a4a4a4" stroke-width="1.1" opacity="0.45" clip-path="url(#rc37)"/><clipPath id="rc38"><polygon points="189.2,126 169,113.5 175,93.8 183.5,88.3 201.8,92 205.2,92.3 206,92.8 206,119.5 204.8,120.3 202.2,121 189.2,126"/></clipPath><polygon points="190.6,123.9 171.8,112.2 177.4,93.9 185.3,88.8 202.4,92.2 205.5,92.5 206.2,93 206.2,117.8 205.2,118.6 202.7,119.2 190.6,123.9" fill="none" stroke="#a4a4a4" stroke-width="1.1" opacity="0.45" clip-path="url(#rc38)"/><clipPath id="rc39"><polygon points="136.2,124 128,123.8 117.7,102.2 117.7,101.2 119.2,97.7 130.2,97 140.7,104.8 139,113.2 138,116.2 138,117.5 137.3,119.2 137.3,120.5 136.2,124"/></clipPath><polygon points="136,121.8 128.4,121.6 118.7,101.5 118.7,100.6 120.1,97.3 130.4,96.7 140.1,104 138.6,111.7 137.7,114.5 137.7,115.7 137,117.3 137,118.5 136,121.8" fill="none" stroke="#a4a4a4" stroke-width="1.1" opacity="0.45" clip-path="url(#rc39)"/><clipPath id="rc40"><polygon points="141.5,128.7 136.3,123.8 140.8,104.7 145.8,104 147.8,103.3 149.8,103.3 165,115.2 161.2,123.3 142.8,128 141.5,128.7"/></clipPath><polygon points="142.1,126.4 137.3,121.9 141.4,104.1 146.1,103.5 147.9,102.8 149.8,102.8 163.9,113.9 160.3,121.4 143.3,125.8 142.1,126.4" fill="none" stroke="#a4a4a4" stroke-width="1.1" opacity="0.45" clip-path="url(#rc40)"/><clipPath id="rc41"><polygon points="181.8,144 167.7,139.8 163.7,129.2 161.3,124.2 161.3,122.5 164.7,115.5 165.5,114.7 168.8,113.3 189,126.2 183.3,142.8 181.8,144"/></clipPath><polygon points="182.3,143.6 169.2,139.8 165.4,129.8 163.3,125.2 163.3,123.6 166.4,117.1 167.1,116.3 170.2,115.1 189,127 183.7,142.5 182.3,143.6" fill="none" stroke="#a4a4a4" stroke-width="1.1" opacity="0.45" clip-path="url(#rc41)"/><clipPath id="rc42"><polygon points="205.8,149.3 183.3,142.8 188.7,126.5 189.5,125.7 191.2,125 193.8,124.3 205.8,119.7 205.8,149.3"/></clipPath><polygon points="204.2,149.2 183.3,143.2 188.2,128 189,127.2 190.6,126.6 193,126 204.2,121.6 204.2,149.2" fill="none" stroke="#a4a4a4" stroke-width="1.1" opacity="0.45" clip-path="url(#rc42)"/><clipPath id="rc43"><polygon points="139.2,143.3 127.2,143.3 118.3,133.2 127.8,124 136.5,124 141,128.5 140.3,136.2 140,136.5 140,138.8 139.7,139.2 139.7,141.5 139.2,143.3"/></clipPath><polygon points="137.6,143.3 126.4,143.3 118.2,133.8 127.1,125.3 135.1,125.3 139.3,129.5 138.7,136.6 138.4,136.9 138.4,139.1 138.1,139.4 138.1,141.5 137.6,143.3" fill="none" stroke="#a4a4a4" stroke-width="1.1" opacity="0.45" clip-path="url(#rc43)"/><clipPath id="rc44"><polygon points="147.8,156.7 147.3,156.5 139.3,143.2 141,128.8 142.8,128 161.2,123.3 167.7,139.2 167.7,140.2 147.8,156.7"/></clipPath><polygon points="149.4,156.1 148.9,156 141.5,143.6 143,130.3 144.7,129.5 161.8,125.1 167.8,139.9 167.8,140.8 149.4,156.1" fill="none" stroke="#a4a4a4" stroke-width="1.1" opacity="0.45" clip-path="url(#rc44)"/><clipPath id="rc45"><polygon points="147.5,159 119.8,159 119.7,158.5 126.8,143.3 139.5,143.3 147,155.5 147.7,156.8 147.5,159"/></clipPath><polygon points="147.3,157.4 121.5,157.4 121.4,156.9 128,142.8 139.8,142.8 146.8,154.1 147.4,155.3 147.3,157.4" fill="none" stroke="#a4a4a4" stroke-width="1.1" opacity="0.45" clip-path="url(#rc45)"/><clipPath id="rc46"><polygon points="180.2,159 147.8,159 147.7,156.8 166.8,140.7 168.5,140 169.8,140.7 181.7,143.8 180.7,157.8 180.2,159"/></clipPath><polygon points="180,157.1 149.9,157.1 149.7,155.1 167.6,140.1 169.1,139.5 170.3,140.1 181.4,143 180.4,156.1 180,157.1" fill="none" stroke="#a4a4a4" stroke-width="1.1" opacity="0.45" clip-path="url(#rc46)"/><clipPath id="rc47"><polygon points="205.8,159 180.5,159 181.7,144.2 182.8,143 184.2,143 205.8,149.3 205.8,159"/></clipPath><polygon points="206.1,157.7 182.5,157.7 183.6,143.9 184.7,142.8 185.9,142.8 206.1,148.7 206.1,157.7" fill="none" stroke="#a4a4a4" stroke-width="1.1" opacity="0.45" clip-path="url(#rc47)"/></g>
<rect x="39" y="13" width="167" height="146" fill="#000" stroke="none" stroke-width="1" filter="url(#semnoise)" opacity="0.25"/>
</g>
<rect x="146" y="150.5" width="54" height="2" fill="#f2f2f2" stroke="none" stroke-width="1" />
<text x="157.2" y="144" font-size="16" fill="#f2f2f2" textLength="5.6" lengthAdjust="spacingAndGlyphs" stroke="#f2f2f2" stroke-width="0.1">1</text>
<text x="169.3" y="144" font-size="15.5" fill="#f2f2f2" font-family="Liberation Serif" font-style="italic" textLength="22" lengthAdjust="spacingAndGlyphs" stroke="#f2f2f2" stroke-width="0.1">μm</text>
<defs><clipPath id="hc496"><rect x="496" y="13.4" width="146" height="145.3"/></clipPath></defs>
<g clip-path="url(#hc496)">
<rect x="496" y="13.4" width="146" height="145.3" fill="#fcffa4" stroke="none" stroke-width="1" />
<path d="M497.2 158.7L498.4 158.7L499.6 158.7L500.9 158.7L502.1 158.7L503.3 158.7L504.5 158.7L505.7 158.7L506.9 158.7L508.2 158.7L509.4 158.7L510.6 158.7L511.8 158.7L513 158.7L514.2 158.7L515.5 158.7L516.7 158.7L517.9 158.7L519.1 158.7L520.3 158.7L521.5 158.7L522.8 158.7L524 158.7L525.2 158.7L526.4 158.7L527.6 158.7L528.9 158.7L530.1 158.7L531.3 158.7L532.5 158.7L533.7 158.7L534.9 158.7L536.1 158.7L537.4 158.7L538.6 158.7L539.8 158.7L541 158.7L542.2 158.7L543.5 158.7L544.7 158.7L545.9 158.7L547.1 158.7L548.3 158.7L549.5 158.7L550.8 158.7L552 158.7L553.2 158.7L554.4 158.7L555.6 158.7L556.8 158.7L558 158.7L559.3 158.7L560.5 158.7L561.7 158.7L562.9 158.7L564.1 158.7L565.4 158.7L566.6 158.7L567.8 158.7L569 158.7L570.2 158.7L571.4 158.7L572.6 158.7L573.9 158.7L575.1 158.7L576.3 158.7L577.5 158.7L578.7 158.7L580 158.7L581.2 158.7L582.4 158.7L583.6 158.7L584.8 158.7L586 158.7L587.2 158.7L588.5 158.7L589.7 158.7L590.9 158.7L592.1 158.7L593.3 158.7L594.5 158.7L595.8 158.7L597 158.7L598.2 158.7L599.4 158.7L600.6 158.7L601.9 158.7L603.1 158.7L604.3 158.7L605.5 158.7L606.7 158.7L607.9 158.7L609.1 158.7L610.4 158.7L611.6 158.7L612.8 158.7L614 158.7L615.2 158.7L616.5 158.7L617.7 158.7L618.9 158.7L620.1 158.7L621.3 158.7L622.5 158.7L623.8 158.7L625 158.7L626.2 158.7L627.4 158.7L628.6 158.7L629.8 158.7L631 158.7L632.3 158.7L633.5 158.7L634.7 158.7L635.9 158.7L637.1 158.7L638.4 158.7L639.6 158.7L640.8 158.7L642 158.7L642 158L642 157.2L642 156.5L642 155.8L642 155L642 154.3L642 153.6L642 152.9L642 152.1L642 151.4L642 150.7L642 149.9L642 149.2L642 148.5L642 147.7L642 147L642 146.3L642 145.6L642 144.8L642 144.1L642 143.4L642 142.6L642 141.9L642 141.2L642 140.4L642 139.7L642 139L642 138.3L642 137.5L642 136.8L642 136.1L642 135.3L642 134.6L642 133.9L642 133.1L642 132.4L642 131.7L642 131L642 130.2L642 129.5L642 128.8L642 128L642 127.3L642 126.6L642 125.8L642 125.1L642 124.4L642 123.7L642 122.9L642 122.2L642 121.5L642 120.7L642 120L642 119.3L642 118.5L642 117.8L642 117.1L642 116.4L642 115.6L642 114.9L642 114.2L642 113.4L642 112.7L642 112L642 111.2L642 110.5L642 109.8L642 109L642 108.3L642 107.6L642 106.9L642 106.1L642 105.4L642 104.7L642 103.9L642 103.2L642 102.5L642 101.7L642 101L642 100.3L642 99.6L642 98.8L642 98.1L642 97.4L642 96.6L642 95.9L642 95.2L642 94.4L642 93.7L642 93L642 92.3L642 91.5L642 90.8L642 90.1L642 89.3L642 88.6L642 87.9L642 87.1L642 86.4L642 85.7L642 85L642 84.2L642 83.5L642 82.8L642 82L642 81.3L642 80.6L642 79.8L642 79.1L642 79.1L642 79.1L640.9 79.8L640.8 79.9L639.7 80.6L639.6 80.6L638.4 81.2L638.2 81.3L637.1 81.8L636.5 82L635.9 82.2L634.7 82.7L634.5 82.8L633.5 83.3L633.2 83.5L632.3 84.2L632.2 84.2L631 84.9L631 85L629.8 85.6L629.6 85.7L628.6 86.2L628 86.4L627.4 86.7L626.2 87.1L626.2 87.2L625 87.6L624 87.9L623.8 88L622.5 88.3L621.5 88.6L621.3 88.7L620.1 89L618.9 89.3L618.8 89.3L617.7 89.8L616.9 90.1L616.5 90.2L615.2 90.6L614.6 90.8L614 91L612.8 91.3L611.8 91.5L611.6 91.6L610.4 91.9L609.1 92.1L608.5 92.3L607.9 92.4L606.7 92.7L605.5 92.9L605.1 93L604.3 93.1L603.1 93.4L601.9 93.6L600.6 93.7L599.4 93.7L598.2 93.6L597 93.5L595.8 93.4L594.5 93.3L593.3 93.3L592.1 93.2L590.9 93.1L589.9 93L589.7 93L588.5 92.9L587.2 92.8L586 92.7L584.8 92.6L583.6 92.6L582.4 92.5L581.2 92.5L580 92.4L578.7 92.4L577.5 92.3L576.3 92.3L576.1 92.3L575.1 92.2L573.9 92.1L572.6 92.1L571.4 92L570.2 91.9L569 91.9L567.8 91.8L566.6 91.8L565.4 91.8L564.1 91.7L562.9 91.7L561.7 91.6L560.5 91.6L559.3 91.6L558 91.6L556.8 91.5L556.3 91.5L555.6 91.5L554.4 91.5L553.2 91.5L552 91.4L550.8 91.4L549.5 91.3L548.3 91.3L547.1 91.2L545.9 91.2L544.7 91.2L543.5 91.2L542.2 91.2L541 91.3L539.8 91.3L538.6 91.4L537.4 91.4L536.1 91.5L535.6 91.5L534.9 91.6L533.7 91.8L532.5 91.9L531.3 92L530.1 92.2L529 92.3L528.9 92.3L527.6 92.4L526.4 92.6L525.2 92.8L524 93L523.8 93L522.8 93.1L521.5 93.3L520.3 93.5L519.2 93.7L519.1 93.7L517.9 94L516.7 94.2L515.5 94.4L515.5 94.5L514.2 94.7L513 95L511.8 95.2L511.6 95.2L510.6 95.3L509.4 95.4L508.2 95.5L506.9 95.7L505.7 95.8L504.5 95.9L504.3 95.9L503.3 96L502.1 96.1L500.9 96.2L499.6 96.2L498.4 96.3L497.2 96.4L496 96.5L496 96.6L496 97.4L496 98.1L496 98.8L496 99.6L496 100.3L496 101L496 101.7L496 102.5L496 103.2L496 103.9L496 104.7L496 105.4L496 106.1L496 106.9L496 107.6L496 108.3L496 109L496 109.8L496 110.5L496 111.2L496 112L496 112.7L496 113.4L496 114.2L496 114.9L496 115.6L496 116.4L496 117.1L496 117.8L496 118.5L496 119.3L496 120L496 120.7L496 121.5L496 122.2L496 122.9L496 123.7L496 124.4L496 125.1L496 125.8L496 126.6L496 127.3L496 128L496 128.8L496 129.5L496 130.2L496 131L496 131.7L496 132.4L496 133.1L496 133.9L496 134.6L496 135.3L496 136.1L496 136.8L496 137.5L496 138.3L496 139L496 139.7L496 140.4L496 141.2L496 141.9L496 142.6L496 143.4L496 144.1L496 144.8L496 145.6L496 146.3L496 147L496 147.7L496 148.5L496 149.2L496 149.9L496 150.7L496 151.4L496 152.1L496 152.9L496 153.6L496 154.3L496 155L496 155.8L496 156.5L496 157.2L496 158L496 158.7ZM642 71.4L642 71.1L642 70.4L642 69.6L642 68.9L642 68.2L642 67.4L642 66.7L642 66L642 65.2L642 64.5L642 63.8L642 63.1L642 62.3L642 61.6L642 60.9L642 60.1L642 59.4L642 58.7L642 57.9L642 57.2L642 56.5L642 55.7L642 55L642 54.3L642 53.6L642 52.8L642 52.1L642 51.4L642 50.6L642 49.9L642 49.2L642 48.4L642 47.7L642 47L642 46.3L642 45.5L642 44.8L642 44.1L642 43.3L642 42.6L642 41.9L642 41.1L642 40.4L642 39.7L642 39L642 38.2L642 37.5L642 36.8L642 36L642 35.3L642 34.6L642 33.8L642 33.1L642 32.4L642 31.7L642 30.9L642 30.2L642 29.5L642 28.7L642 28L642 27.3L642 26.5L642 25.8L642 25.1L642 24.4L642 23.6L642 22.9L642 22.2L642 21.4L642 20.7L642 20L642 19.2L642 18.5L642 17.8L642 17.1L642 16.3L642 15.6L642 14.9L642 14.1L642 13.4L640.8 13.4L639.6 13.4L638.4 13.4L637.1 13.4L635.9 13.4L634.7 13.4L633.5 13.4L632.3 13.4L631 13.4L629.8 13.4L628.6 13.4L627.4 13.4L626.2 13.4L625 13.4L623.8 13.4L622.5 13.4L621.3 13.4L620.1 13.4L618.9 13.4L617.7 13.4L616.5 13.4L615.2 13.4L614 13.4L612.8 13.4L611.6 13.4L610.4 13.4L609.1 13.4L607.9 13.4L606.7 13.4L605.5 13.4L604.3 13.4L603.1 13.4L601.9 13.4L600.6 13.4L599.4 13.4L598.2 13.4L597 13.4L595.8 13.4L594.5 13.4L593.3 13.4L592.1 13.4L590.9 13.4L589.7 13.4L588.5 13.4L587.2 13.4L586 13.4L584.8 13.4L583.6 13.4L582.4 13.4L581.2 13.4L580 13.4L578.7 13.4L577.5 13.4L576.3 13.4L575.1 13.4L573.9 13.4L572.6 13.4L571.4 13.4L570.2 13.4L569 13.4L567.8 13.4L566.6 13.4L565.4 13.4L564.1 13.4L562.9 13.4L561.7 13.4L560.5 13.4L559.3 13.4L558 13.4L556.8 13.4L555.6 13.4L554.4 13.4L553.2 13.4L552 13.4L550.8 13.4L549.5 13.4L548.3 13.4L547.1 13.4L545.9 13.4L544.7 13.4L543.5 13.4L542.2 13.4L541 13.4L539.8 13.4L538.6 13.4L537.4 13.4L536.1 13.4L534.9 13.4L533.7 13.4L532.5 13.4L531.3 13.4L530.1 13.4L528.9 13.4L527.6 13.4L526.4 13.4L525.2 13.4L524 13.4L522.8 13.4L521.5 13.4L520.3 13.4L519.1 13.4L517.9 13.4L516.7 13.4L515.5 13.4L514.2 13.4L513 13.4L511.8 13.4L510.6 13.4L509.4 13.4L508.2 13.4L506.9 13.4L505.7 13.4L504.5 13.4L503.3 13.4L502.1 13.4L500.9 13.4L499.6 13.4L498.4 13.4L497.2 13.4L496 13.4L496 14.1L496 14.9L496 15.6L496 16.3L496 17.1L496 17.8L496 18.5L496 19.2L496 20L496 20.7L496 21.4L496 22.2L496 22.9L496 23.6L496 24.4L496 25.1L496 25.8L496 26.5L496 27.3L496 28L496 28.7L496 29.5L496 30.2L496 30.9L496 31.7L496 32.4L496 33.1L496 33.8L496 34.6L496 35.3L496 36L496 36.8L496 37.5L496 38.2L496 39L496 39.7L496 40.4L496 41.1L496 41.9L496 42.6L496 43.3L496 44.1L496 44.8L496 45.5L496 46.3L496 47L496 47.7L496 48.4L496 49.2L496 49.9L496 50.6L496 51.4L496 52.1L496 52.8L496 53.6L496 53.9L497.2 53.9L498.4 53.9L499.6 53.9L500.9 53.9L502.1 53.8L503.3 53.8L504.5 53.8L505.7 53.8L506.9 53.8L508.2 53.8L509.4 53.8L510.6 53.7L511.8 53.7L513 53.7L514.2 53.8L515.5 53.8L516.7 53.9L517.9 53.9L519.1 54L520.3 54L521.5 54L522.8 53.9L524 53.9L525.2 53.9L526.4 53.9L527.6 53.8L528.9 53.8L530.1 53.7L531.3 53.7L532.5 53.6L533.7 53.6L534 53.6L534.9 53.5L536.1 53.4L537.4 53.4L538.6 53.2L539.8 53.1L541 53L542.2 52.9L543.4 52.8L543.5 52.8L544.7 52.7L545.9 52.7L547.1 52.8L548 52.8L548.3 52.8L549.5 52.9L550.8 52.9L552 53L553.2 53L554.4 53.1L555.6 53.1L556.8 53.2L558 53.2L559.3 53.3L560.5 53.4L561.7 53.4L562.9 53.5L564.1 53.5L564.6 53.6L565.4 53.6L566.6 53.6L567.8 53.7L569 53.7L570.2 53.9L571.4 54L572.6 54.1L573.9 54.2L574.2 54.3L575.1 54.4L576.3 54.5L577.5 54.6L578.7 54.8L580 54.9L580.6 55L581.2 55.1L582.4 55.2L583.6 55.4L584.8 55.5L586 55.7L586.3 55.7L587.2 55.9L588.5 56L589.7 56.2L590.9 56.3L591.8 56.5L592.1 56.5L593.3 56.7L594.5 56.9L595.8 57L596.9 57.2L597 57.2L598.2 57.4L599.4 57.6L600.6 57.8L601.1 57.9L601.9 58.1L603.1 58.3L604.3 58.5L605.2 58.7L605.5 58.7L606.7 59L607.9 59.2L608.6 59.4L609.1 59.5L610.4 59.8L611.6 60L612 60.1L612.8 60.3L614 60.6L614.9 60.9L615.2 60.9L616.5 61.3L617.3 61.6L617.7 61.7L618.9 62.1L619.6 62.3L620.1 62.5L621.3 62.8L622.4 63.1L622.5 63.1L623.8 63.4L625 63.8L625 63.8L626.2 64.2L627.2 64.5L627.4 64.6L628.6 65.1L629.1 65.2L629.8 65.6L630.7 66L631 66.2L632 66.7L632.3 66.8L633.2 67.4L633.5 67.6L634.7 68.2L634.7 68.2L635.9 68.5L636.9 68.9L637.1 69L638.4 69.5L638.8 69.6L639.6 70L640.3 70.4L640.8 70.6L641.6 71.1Z" fill="#fcffa4" stroke="#fcffa4" stroke-width="0.6" fill-rule="evenodd"/>
<path d="M497.2 96.4L498.4 96.3L499.6 96.2L500.9 96.2L502.1 96.1L503.3 96L504.3 95.9L504.5 95.9L505.7 95.8L506.9 95.7L508.2 95.5L509.4 95.4L510.6 95.3L511.6 95.2L511.8 95.2L513 95L514.2 94.7L515.5 94.5L515.5 94.4L516.7 94.2L517.9 94L519.1 93.7L519.2 93.7L520.3 93.5L521.5 93.3L522.8 93.1L523.8 93L524 93L525.2 92.8L526.4 92.6L527.6 92.4L528.9 92.3L529 92.3L530.1 92.2L531.3 92L532.5 91.9L533.7 91.8L534.9 91.6L535.6 91.5L536.1 91.5L537.4 91.4L538.6 91.4L539.8 91.3L541 91.3L542.2 91.2L543.5 91.2L544.7 91.2L545.9 91.2L547.1 91.2L548.3 91.3L549.5 91.3L550.8 91.4L552 91.4L553.2 91.5L554.4 91.5L555.6 91.5L556.3 91.5L556.8 91.5L558 91.6L559.3 91.6L560.5 91.6L561.7 91.6L562.9 91.7L564.1 91.7L565.4 91.8L566.6 91.8L567.8 91.8L569 91.9L570.2 91.9L571.4 92L572.6 92.1L573.9 92.1L575.1 92.2L576.1 92.3L576.3 92.3L577.5 92.3L578.7 92.4L580 92.4L581.2 92.5L582.4 92.5L583.6 92.6L584.8 92.6L586 92.7L587.2 92.8L588.5 92.9L589.7 93L589.9 93L590.9 93.1L592.1 93.2L593.3 93.3L594.5 93.3L595.8 93.4L597 93.5L598.2 93.6L599.4 93.7L600.6 93.7L601.9 93.6L603.1 93.4L604.3 93.1L605.1 93L605.5 92.9L606.7 92.7L607.9 92.4L608.5 92.3L609.1 92.1L610.4 91.9L611.6 91.6L611.8 91.5L612.8 91.3L614 91L614.6 90.8L615.2 90.6L616.5 90.2L616.9 90.1L617.7 89.8L618.8 89.3L618.9 89.3L620.1 89L621.3 88.7L621.5 88.6L622.5 88.3L623.8 88L624 87.9L625 87.6L626.2 87.2L626.2 87.1L627.4 86.7L628 86.4L628.6 86.2L629.6 85.7L629.8 85.6L631 85L631 84.9L632.2 84.2L632.3 84.2L633.2 83.5L633.5 83.3L634.5 82.8L634.7 82.7L635.9 82.2L636.5 82L637.1 81.8L638.2 81.3L638.4 81.2L639.6 80.6L639.7 80.6L640.8 79.9L640.9 79.8L642 79.1L642 79.1L642 78.4L642 77.7L642 76.9L642 76.2L642 75.5L642 74.7L642 74L642 73.3L642 72.5L642 71.8L642 71.4L641.6 71.1L640.8 70.6L640.3 70.4L639.6 70L638.8 69.6L638.4 69.5L637.1 69L636.9 68.9L635.9 68.5L634.7 68.2L634.7 68.2L633.5 67.6L633.2 67.4L632.3 66.8L632 66.7L631 66.2L630.7 66L629.8 65.6L629.1 65.2L628.6 65.1L627.4 64.6L627.2 64.5L626.2 64.2L625 63.8L625 63.8L623.8 63.4L622.5 63.1L622.4 63.1L621.3 62.8L620.1 62.5L619.6 62.3L618.9 62.1L617.7 61.7L617.3 61.6L616.5 61.3L615.2 60.9L614.9 60.9L614 60.6L612.8 60.3L612 60.1L611.6 60L610.4 59.8L609.1 59.5L608.6 59.4L607.9 59.2L606.7 59L605.5 58.7L605.2 58.7L604.3 58.5L603.1 58.3L601.9 58.1L601.1 57.9L600.6 57.8L599.4 57.6L598.2 57.4L597 57.2L596.9 57.2L595.8 57L594.5 56.9L593.3 56.7L592.1 56.5L591.8 56.5L590.9 56.3L589.7 56.2L588.5 56L587.2 55.9L586.3 55.7L586 55.7L584.8 55.5L583.6 55.4L582.4 55.2L581.2 55.1L580.6 55L580 54.9L578.7 54.8L577.5 54.6L576.3 54.5L575.1 54.4L574.2 54.3L573.9 54.2L572.6 54.1L571.4 54L570.2 53.9L569 53.7L567.8 53.7L566.6 53.6L565.4 53.6L564.6 53.6L564.1 53.5L562.9 53.5L561.7 53.4L560.5 53.4L559.3 53.3L558 53.2L556.8 53.2L555.6 53.1L554.4 53.1L553.2 53L552 53L550.8 52.9L549.5 52.9L548.3 52.8L548 52.8L547.1 52.8L545.9 52.7L544.7 52.7L543.5 52.8L543.4 52.8L542.2 52.9L541 53L539.8 53.1L538.6 53.2L537.4 53.4L536.1 53.4L534.9 53.5L534 53.6L533.7 53.6L532.5 53.6L531.3 53.7L530.1 53.7L528.9 53.8L527.6 53.8L526.4 53.9L525.2 53.9L524 53.9L522.8 53.9L521.5 54L520.3 54L519.1 54L517.9 53.9L516.7 53.9L515.5 53.8L514.2 53.8L513 53.7L511.8 53.7L510.6 53.7L509.4 53.8L508.2 53.8L506.9 53.8L505.7 53.8L504.5 53.8L503.3 53.8L502.1 53.8L500.9 53.9L499.6 53.9L498.4 53.9L497.2 53.9L496 53.9L496 54.3L496 55L496 55.7L496 56.5L496 57.2L496 57.9L496 58.1L497.2 58.1L498.4 58L499.6 58L500 57.9L500.9 57.9L502.1 57.8L503.3 57.8L504.5 57.7L505.7 57.7L506.9 57.6L508.2 57.6L509.4 57.5L510.6 57.4L511.8 57.4L513 57.4L514.2 57.4L515.5 57.4L516.7 57.4L517.9 57.4L519.1 57.4L520.3 57.4L521.5 57.3L522.8 57.3L524 57.2L524.7 57.2L525.2 57.2L526.4 57.1L527.6 57.1L528.9 57L530.1 57L531.3 56.9L532.5 56.9L533.7 56.8L534.9 56.7L536.1 56.7L537.4 56.6L538.6 56.5L538.9 56.5L539.8 56.4L541 56.3L542.2 56.2L543.5 56.1L544.7 56L545.9 56.1L547.1 56.1L548.3 56.2L549.5 56.3L550.8 56.3L552 56.4L553.2 56.5L553.6 56.5L554.4 56.5L555.6 56.6L556.8 56.7L558 56.8L559.3 56.9L560.5 56.9L561.7 57L562.9 57.1L564.1 57.2L564.4 57.2L565.4 57.3L566.6 57.4L567.8 57.4L569 57.5L570.2 57.7L571.4 57.8L572.1 57.9L572.6 58L573.9 58.2L575.1 58.3L576.3 58.5L577.3 58.7L577.5 58.7L578.7 58.9L580 59.1L581.2 59.3L582 59.4L582.4 59.5L583.6 59.7L584.8 59.9L586 60.1L586.3 60.1L587.2 60.3L588.5 60.5L589.7 60.7L590.6 60.9L590.9 60.9L592.1 61.1L593.3 61.3L594.5 61.6L594.7 61.6L595.8 61.8L597 62L598.2 62.3L598.5 62.3L599.4 62.5L600.6 62.8L601.3 63.1L601.9 63.2L603.1 63.5L603.9 63.8L604.3 63.9L605.5 64.3L606.3 64.5L606.7 64.7L607.9 65.1L608.3 65.2L609.1 65.6L610.2 66L610.4 66L611.6 66.5L612 66.7L612.8 67.1L613.5 67.4L614 67.7L614.7 68.2L615.2 68.5L615.8 68.9L616.5 69.4L616.7 69.6L617.5 70.4L617.7 70.6L618.1 71.1L618.6 71.8L618.9 72.5L618.9 72.5L619.3 73.3L619.4 74L619.5 74.7L619.4 75.5L619.2 76.2L618.9 76.9L618.9 76.9L618.6 77.7L618.2 78.4L617.7 79.1L617.7 79.2L617.1 79.8L616.5 80.5L616.4 80.6L615.6 81.3L615.2 81.6L614.6 82L614 82.4L613.5 82.8L612.8 83.1L612.1 83.5L611.6 83.8L610.6 84.2L610.4 84.3L609.1 84.8L608.9 85L607.9 85.3L607.1 85.7L606.7 85.8L605.5 86.3L605.1 86.4L604.3 86.7L603.1 87.1L602.8 87.1L601.9 87.4L600.6 87.6L599.4 87.7L598.2 87.7L597 87.7L595.8 87.7L594.5 87.7L593.3 87.7L592.1 87.6L590.9 87.6L589.7 87.6L588.5 87.5L587.2 87.5L586 87.4L584.8 87.4L583.6 87.4L582.4 87.4L581.2 87.5L580 87.5L578.7 87.5L577.5 87.5L576.3 87.5L575.1 87.5L573.9 87.4L572.6 87.4L571.4 87.4L570.2 87.4L569 87.3L567.8 87.3L566.6 87.3L565.4 87.3L564.1 87.3L562.9 87.3L561.7 87.3L560.5 87.3L559.3 87.3L558 87.3L556.8 87.3L555.6 87.3L554.4 87.3L553.2 87.3L552 87.3L550.8 87.3L549.5 87.3L548.3 87.3L547.1 87.2L545.9 87.2L544.7 87.2L543.5 87.2L542.2 87.3L541 87.3L539.8 87.4L538.6 87.5L537.4 87.5L536.1 87.6L534.9 87.7L533.7 87.9L533.6 87.9L532.5 88L531.3 88.1L530.1 88.3L528.9 88.4L527.6 88.5L527.1 88.6L526.4 88.7L525.2 88.8L524 89L522.8 89.1L521.5 89.3L521 89.3L520.3 89.4L519.1 89.6L517.9 89.8L516.7 90L516 90.1L515.5 90.2L514.2 90.3L513 90.5L511.8 90.6L510.6 90.7L509.5 90.8L509.4 90.8L508.2 90.9L506.9 91L505.7 91.1L504.5 91.1L503.3 91.2L502.1 91.2L500.9 91.3L499.6 91.3L498.4 91.4L497.2 91.4L496 91.5L496 91.5L496 92.3L496 93L496 93.7L496 94.4L496 95.2L496 95.9L496 96.5Z" fill="#f3f586" stroke="#f3f586" stroke-width="0.6" fill-rule="evenodd"/>
<path d="M497.2 91.4L498.4 91.4L499.6 91.3L500.9 91.3L502.1 91.2L503.3 91.2L504.5 91.1L505.7 91.1L506.9 91L508.2 90.9L509.4 90.8L509.5 90.8L510.6 90.7L511.8 90.6L513 90.5L514.2 90.3L515.5 90.2L516 90.1L516.7 90L517.9 89.8L519.1 89.6L520.3 89.4L521 89.3L521.5 89.3L522.8 89.1L524 89L525.2 88.8L526.4 88.7L527.1 88.6L527.6 88.5L528.9 88.4L530.1 88.3L531.3 88.1L532.5 88L533.6 87.9L533.7 87.9L534.9 87.7L536.1 87.6L537.4 87.5L538.6 87.5L539.8 87.4L541 87.3L542.2 87.3L543.5 87.2L544.7 87.2L545.9 87.2L547.1 87.2L548.3 87.3L549.5 87.3L550.8 87.3L552 87.3L553.2 87.3L554.4 87.3L555.6 87.3L556.8 87.3L558 87.3L559.3 87.3L560.5 87.3L561.7 87.3L562.9 87.3L564.1 87.3L565.4 87.3L566.6 87.3L567.8 87.3L569 87.3L570.2 87.4L571.4 87.4L572.6 87.4L573.9 87.4L575.1 87.5L576.3 87.5L577.5 87.5L578.7 87.5L580 87.5L581.2 87.5L582.4 87.4L583.6 87.4L584.8 87.4L586 87.4L587.2 87.5L588.5 87.5L589.7 87.6L590.9 87.6L592.1 87.6L593.3 87.7L594.5 87.7L595.8 87.7L597 87.7L598.2 87.7L599.4 87.7L600.6 87.6L601.9 87.4L602.8 87.1L603.1 87.1L604.3 86.7L605.1 86.4L605.5 86.3L606.7 85.8L607.1 85.7L607.9 85.3L608.9 85L609.1 84.8L610.4 84.3L610.6 84.2L611.6 83.8L612.1 83.5L612.8 83.1L613.5 82.8L614 82.4L614.6 82L615.2 81.6L615.6 81.3L616.4 80.6L616.5 80.5L617.1 79.8L617.7 79.2L617.7 79.1L618.2 78.4L618.6 77.7L618.9 76.9L618.9 76.9L619.2 76.2L619.4 75.5L619.5 74.7L619.4 74L619.3 73.3L618.9 72.5L618.9 72.5L618.6 71.8L618.1 71.1L617.7 70.6L617.5 70.4L616.7 69.6L616.5 69.4L615.8 68.9L615.2 68.5L614.7 68.2L614 67.7L613.5 67.4L612.8 67.1L612 66.7L611.6 66.5L610.4 66L610.2 66L609.1 65.6L608.3 65.2L607.9 65.1L606.7 64.7L606.3 64.5L605.5 64.3L604.3 63.9L603.9 63.8L603.1 63.5L601.9 63.2L601.3 63.1L600.6 62.8L599.4 62.5L598.5 62.3L598.2 62.3L597 62L595.8 61.8L594.7 61.6L594.5 61.6L593.3 61.3L592.1 61.1L590.9 60.9L590.6 60.9L589.7 60.7L588.5 60.5L587.2 60.3L586.3 60.1L586 60.1L584.8 59.9L583.6 59.7L582.4 59.5L582 59.4L581.2 59.3L580 59.1L578.7 58.9L577.5 58.7L577.3 58.7L576.3 58.5L575.1 58.3L573.9 58.2L572.6 58L572.1 57.9L571.4 57.8L570.2 57.7L569 57.5L567.8 57.4L566.6 57.4L565.4 57.3L564.4 57.2L564.1 57.2L562.9 57.1L561.7 57L560.5 56.9L559.3 56.9L558 56.8L556.8 56.7L555.6 56.6L554.4 56.5L553.6 56.5L553.2 56.5L552 56.4L550.8 56.3L549.5 56.3L548.3 56.2L547.1 56.1L545.9 56.1L544.7 56L543.5 56.1L542.2 56.2L541 56.3L539.8 56.4L538.9 56.5L538.6 56.5L537.4 56.6L536.1 56.7L534.9 56.7L533.7 56.8L532.5 56.9L531.3 56.9L530.1 57L528.9 57L527.6 57.1L526.4 57.1L525.2 57.2L524.7 57.2L524 57.2L522.8 57.3L521.5 57.3L520.3 57.4L519.1 57.4L517.9 57.4L516.7 57.4L515.5 57.4L514.2 57.4L513 57.4L511.8 57.4L510.6 57.4L509.4 57.5L508.2 57.6L506.9 57.6L505.7 57.7L504.5 57.7L503.3 57.8L502.1 57.8L500.9 57.9L500 57.9L499.6 58L498.4 58L497.2 58.1L496 58.1L496 58.7L496 59.4L496 60.1L496 60.3L497.2 60.2L498.4 60.2L499 60.1L499.6 60.1L500.9 60L502.1 60L503.3 59.9L504.5 59.8L505.7 59.8L506.9 59.7L508.2 59.7L509.4 59.6L510.6 59.6L511.8 59.5L513 59.5L514.2 59.5L515.5 59.5L516.7 59.5L517.9 59.5L519.1 59.5L520.3 59.5L521.5 59.4L522.8 59.4L522.8 59.4L524 59.4L525.2 59.3L526.4 59.3L527.6 59.2L528.9 59.2L530.1 59.1L531.3 59.1L532.5 59L533.7 59L534.9 58.9L536.1 58.9L537.4 58.8L538.6 58.7L539.1 58.7L539.8 58.6L541 58.5L542.2 58.4L543.5 58.3L544.7 58.3L545.9 58.3L547.1 58.4L548.3 58.5L549.5 58.6L550.8 58.6L551.3 58.7L552 58.7L553.2 58.8L554.4 58.9L555.6 59L556.8 59.1L558 59.2L559.3 59.3L560.2 59.4L560.5 59.4L561.7 59.5L562.9 59.6L564.1 59.7L565.4 59.8L566.6 60L567.8 60.1L568.3 60.1L569 60.2L570.2 60.4L571.4 60.6L572.6 60.8L573.1 60.9L573.9 61L575.1 61.2L576.3 61.4L577.2 61.6L577.5 61.6L578.7 61.9L580 62.1L581 62.3L581.2 62.4L582.4 62.6L583.6 62.9L584.3 63.1L584.8 63.2L586 63.4L587.2 63.7L587.8 63.8L588.5 63.9L589.7 64.2L590.9 64.5L591.1 64.5L592.1 64.7L593.3 65L594.3 65.2L594.5 65.3L595.8 65.6L597 65.9L597.2 66L598.2 66.2L599.4 66.6L599.7 66.7L600.6 67.1L601.4 67.4L601.9 67.6L603 68.2L603.1 68.2L604.3 68.9L604.3 68.9L605.5 69.6L605.5 69.6L606.4 70.4L606.7 70.6L607.2 71.1L607.8 71.8L607.9 72.1L608.2 72.5L608.5 73.3L608.7 74L608.7 74.7L608.5 75.5L608.3 76.2L608 76.9L607.9 77L607.5 77.7L607 78.4L606.7 78.7L606.3 79.1L605.5 79.8L605.5 79.8L604.5 80.6L604.3 80.7L603.3 81.3L603.1 81.5L602 82L601.9 82.1L600.6 82.6L599.8 82.8L599.4 82.9L598.2 83L597 83.1L595.8 83.1L594.5 83.2L593.3 83.3L592.1 83.3L590.9 83.3L589.7 83.4L588.5 83.4L587.2 83.4L586 83.4L584.8 83.4L584.3 83.5L583.6 83.6L582.4 83.7L581.2 83.7L580 83.8L578.7 83.9L577.5 83.9L576.3 84L575.1 84L573.9 84.1L572.6 84.1L571.4 84.1L570.2 84.1L569 84.1L567.8 84.2L566.6 84.2L566 84.2L565.4 84.2L564.1 84.3L562.9 84.3L561.7 84.3L560.5 84.4L559.3 84.4L558 84.4L556.8 84.5L555.6 84.5L554.4 84.5L553.2 84.5L552 84.5L550.8 84.5L549.5 84.5L548.3 84.5L547.1 84.5L545.9 84.5L544.7 84.5L543.5 84.6L542.2 84.6L541 84.7L539.8 84.7L538.6 84.8L537.4 84.9L536.4 85L536.1 85L534.9 85.1L533.7 85.3L532.5 85.5L531.3 85.6L530.6 85.7L530.1 85.7L528.9 85.9L527.6 86.1L526.4 86.2L525.2 86.4L524.9 86.4L524 86.5L522.8 86.7L521.5 86.8L520.3 87L519.1 87.1L519.1 87.1L517.9 87.3L516.7 87.5L515.5 87.7L514.2 87.8L514 87.9L513 88L511.8 88.1L510.6 88.2L509.4 88.3L508.2 88.4L506.9 88.4L505.7 88.5L504.5 88.6L503.8 88.6L503.3 88.6L502.1 88.7L500.9 88.7L499.6 88.8L498.4 88.8L497.2 88.9L496 88.9L496 89.3L496 90.1L496 90.8L496 91.5Z" fill="#f2e661" stroke="#f2e661" stroke-width="0.6" fill-rule="evenodd"/>
<path d="M497.2 88.9L498.4 88.8L499.6 88.8L500.9 88.7L502.1 88.7L503.3 88.6L503.8 88.6L504.5 88.6L505.7 88.5L506.9 88.4L508.2 88.4L509.4 88.3L510.6 88.2L511.8 88.1L513 88L514 87.9L514.2 87.8L515.5 87.7L516.7 87.5L517.9 87.3L519.1 87.1L519.1 87.1L520.3 87L521.5 86.8L522.8 86.7L524 86.5L524.9 86.4L525.2 86.4L526.4 86.2L527.6 86.1L528.9 85.9L530.1 85.7L530.6 85.7L531.3 85.6L532.5 85.5L533.7 85.3L534.9 85.1L536.1 85L536.4 85L537.4 84.9L538.6 84.8L539.8 84.7L541 84.7L542.2 84.6L543.5 84.6L544.7 84.5L545.9 84.5L547.1 84.5L548.3 84.5L549.5 84.5L550.8 84.5L552 84.5L553.2 84.5L554.4 84.5L555.6 84.5L556.8 84.5L558 84.4L559.3 84.4L560.5 84.4L561.7 84.3L562.9 84.3L564.1 84.3L565.4 84.2L566 84.2L566.6 84.2L567.8 84.2L569 84.1L570.2 84.1L571.4 84.1L572.6 84.1L573.9 84.1L575.1 84L576.3 84L577.5 83.9L578.7 83.9L580 83.8L581.2 83.7L582.4 83.7L583.6 83.6L584.3 83.5L584.8 83.4L586 83.4L587.2 83.4L588.5 83.4L589.7 83.4L590.9 83.3L592.1 83.3L593.3 83.3L594.5 83.2L595.8 83.1L597 83.1L598.2 83L599.4 82.9L599.8 82.8L600.6 82.6L601.9 82.1L602 82L603.1 81.5L603.3 81.3L604.3 80.7L604.5 80.6L605.5 79.8L605.5 79.8L606.3 79.1L606.7 78.7L607 78.4L607.5 77.7L607.9 77L608 76.9L608.3 76.2L608.5 75.5L608.7 74.7L608.7 74L608.5 73.3L608.2 72.5L607.9 72.1L607.8 71.8L607.2 71.1L606.7 70.6L606.4 70.4L605.5 69.6L605.5 69.6L604.3 68.9L604.3 68.9L603.1 68.2L603 68.2L601.9 67.6L601.4 67.4L600.6 67.1L599.7 66.7L599.4 66.6L598.2 66.2L597.2 66L597 65.9L595.8 65.6L594.5 65.3L594.3 65.2L593.3 65L592.1 64.7L591.1 64.5L590.9 64.5L589.7 64.2L588.5 63.9L587.8 63.8L587.2 63.7L586 63.4L584.8 63.2L584.3 63.1L583.6 62.9L582.4 62.6L581.2 62.4L581 62.3L580 62.1L578.7 61.9L577.5 61.6L577.2 61.6L576.3 61.4L575.1 61.2L573.9 61L573.1 60.9L572.6 60.8L571.4 60.6L570.2 60.4L569 60.2L568.3 60.1L567.8 60.1L566.6 60L565.4 59.8L564.1 59.7L562.9 59.6L561.7 59.5L560.5 59.4L560.2 59.4L559.3 59.3L558 59.2L556.8 59.1L555.6 59L554.4 58.9L553.2 58.8L552 58.7L551.3 58.7L550.8 58.6L549.5 58.6L548.3 58.5L547.1 58.4L545.9 58.3L544.7 58.3L543.5 58.3L542.2 58.4L541 58.5L539.8 58.6L539.1 58.7L538.6 58.7L537.4 58.8L536.1 58.9L534.9 58.9L533.7 59L532.5 59L531.3 59.1L530.1 59.1L528.9 59.2L527.6 59.2L526.4 59.3L525.2 59.3L524 59.4L522.8 59.4L522.8 59.4L521.5 59.4L520.3 59.5L519.1 59.5L517.9 59.5L516.7 59.5L515.5 59.5L514.2 59.5L513 59.5L511.8 59.5L510.6 59.6L509.4 59.6L508.2 59.7L506.9 59.7L505.7 59.8L504.5 59.8L503.3 59.9L502.1 60L500.9 60L499.6 60.1L499 60.1L498.4 60.2L497.2 60.2L496 60.3L496 60.9L496 61.6L496 61.7L497.2 61.7L498.4 61.6L499.6 61.6L499.8 61.6L500.9 61.5L502.1 61.5L503.3 61.4L504.5 61.4L505.7 61.3L506.9 61.3L508.2 61.2L509.4 61.2L510.6 61.1L511.8 61.1L513 61.1L514.2 61.1L515.5 61.1L516.7 61.1L517.9 61.1L519.1 61.1L520.3 61.1L521.5 61.1L522.8 61.1L524 61L525.2 61L526.4 61L527.6 60.9L528.9 60.9L529.8 60.9L530.1 60.9L531.3 60.8L532.5 60.8L533.7 60.7L534.9 60.7L536.1 60.7L537.4 60.6L538.6 60.5L539.8 60.4L541 60.4L542.2 60.3L543.5 60.2L544.4 60.1L544.7 60.1L545 60.1L545.9 60.2L547.1 60.3L548.3 60.4L549.5 60.5L550.8 60.6L552 60.7L553.2 60.8L554.1 60.9L554.4 60.9L555.6 61L556.8 61.1L558 61.3L559.3 61.4L560.5 61.5L561 61.6L561.7 61.7L562.9 61.8L564.1 61.9L565.4 62.1L566.6 62.2L567.3 62.3L567.8 62.4L569 62.5L570.2 62.8L571.4 63L571.6 63.1L572.6 63.3L573.9 63.5L575 63.8L575.1 63.8L576.3 64.1L577.5 64.4L578.1 64.5L578.7 64.7L580 65L580.9 65.2L581.2 65.3L582.4 65.7L583.4 66L583.6 66L584.8 66.4L585.8 66.7L586 66.8L587.2 67.1L588.2 67.4L588.5 67.5L589.7 67.9L590.5 68.2L590.9 68.3L592.1 68.7L592.5 68.9L593.3 69.2L594.4 69.6L594.5 69.7L595.8 70.3L595.9 70.4L597 70.9L597.3 71.1L598.2 71.7L598.4 71.8L599.2 72.5L599.4 72.9L599.6 73.3L599.7 74L599.6 74.7L599.4 75.3L599.3 75.5L598.5 76.2L598.2 76.4L597.3 76.9L597 77.1L595.8 77.5L595.5 77.7L594.5 77.9L593.3 78.2L592.7 78.4L592.1 78.5L590.9 78.7L589.7 78.9L588.5 79.1L588.3 79.1L587.2 79.2L586 79.4L584.8 79.5L583.6 79.8L583.3 79.8L582.4 80L581.2 80.2L580 80.4L578.7 80.5L578.4 80.6L577.5 80.7L576.3 80.8L575.1 80.9L573.9 81L572.6 81.1L571.4 81.2L570.2 81.3L569.2 81.3L569 81.3L567.8 81.4L566.6 81.5L565.4 81.6L564.1 81.6L562.9 81.7L561.7 81.8L560.5 81.8L559.3 81.9L558 82L556.8 82L556.3 82L555.6 82.1L554.4 82.1L553.2 82.2L552 82.2L550.8 82.2L549.5 82.2L548.3 82.2L547.1 82.2L545.9 82.3L544.7 82.3L543.5 82.3L542.2 82.4L541 82.5L539.8 82.6L538.6 82.6L537.4 82.7L536.8 82.8L536.1 82.8L534.9 83L533.7 83.2L532.5 83.4L532 83.5L531.3 83.6L530.1 83.8L528.9 83.9L527.6 84.1L527 84.2L526.4 84.3L525.2 84.5L524 84.7L522.8 84.8L521.8 85L521.5 85L520.3 85.2L519.1 85.4L517.9 85.5L516.9 85.7L516.7 85.7L515.5 85.9L514.2 86.1L513 86.2L511.8 86.4L510.8 86.4L510.6 86.4L509.4 86.5L508.2 86.6L506.9 86.7L505.7 86.7L504.5 86.8L503.3 86.9L502.1 86.9L500.9 86.9L499.6 87L498.4 87L497.2 87.1L496 87.1L496 87.1L496 87.9L496 88.6L496 88.9Z" fill="#f6d543" stroke="#f6d543" stroke-width="0.6" fill-rule="evenodd"/>
<path d="M497.2 87.1L498.4 87L499.6 87L500.9 86.9L502.1 86.9L503.3 86.9L504.5 86.8L505.7 86.7L506.9 86.7L508.2 86.6L509.4 86.5L510.6 86.4L510.8 86.4L511.8 86.4L513 86.2L514.2 86.1L515.5 85.9L516.7 85.7L516.9 85.7L517.9 85.5L519.1 85.4L520.3 85.2L521.5 85L521.8 85L522.8 84.8L524 84.7L525.2 84.5L526.4 84.3L527 84.2L527.6 84.1L528.9 83.9L530.1 83.8L531.3 83.6L532 83.5L532.5 83.4L533.7 83.2L534.9 83L536.1 82.8L536.8 82.8L537.4 82.7L538.6 82.6L539.8 82.6L541 82.5L542.2 82.4L543.5 82.3L544.7 82.3L545.9 82.3L547.1 82.2L548.3 82.2L549.5 82.2L550.8 82.2L552 82.2L553.2 82.2L554.4 82.1L555.6 82.1L556.3 82L556.8 82L558 82L559.3 81.9L560.5 81.8L561.7 81.8L562.9 81.7L564.1 81.6L565.4 81.6L566.6 81.5L567.8 81.4L569 81.3L569.2 81.3L570.2 81.3L571.4 81.2L572.6 81.1L573.9 81L575.1 80.9L576.3 80.8L577.5 80.7L578.4 80.6L578.7 80.5L580 80.4L581.2 80.2L582.4 80L583.3 79.8L583.6 79.8L584.8 79.5L586 79.4L587.2 79.2L588.3 79.1L588.5 79.1L589.7 78.9L590.9 78.7L592.1 78.5L592.7 78.4L593.3 78.2L594.5 77.9L595.5 77.7L595.8 77.5L597 77.1L597.3 76.9L598.2 76.4L598.5 76.2L599.3 75.5L599.4 75.3L599.6 74.7L599.7 74L599.6 73.3L599.4 72.9L599.2 72.5L598.4 71.8L598.2 71.7L597.3 71.1L597 70.9L595.9 70.4L595.8 70.3L594.5 69.7L594.4 69.6L593.3 69.2L592.5 68.9L592.1 68.7L590.9 68.3L590.5 68.2L589.7 67.9L588.5 67.5L588.2 67.4L587.2 67.1L586 66.8L585.8 66.7L584.8 66.4L583.6 66L583.4 66L582.4 65.7L581.2 65.3L580.9 65.2L580 65L578.7 64.7L578.1 64.5L577.5 64.4L576.3 64.1L575.1 63.8L575 63.8L573.9 63.5L572.6 63.3L571.6 63.1L571.4 63L570.2 62.8L569 62.5L567.8 62.4L567.3 62.3L566.6 62.2L565.4 62.1L564.1 61.9L562.9 61.8L561.7 61.7L561 61.6L560.5 61.5L559.3 61.4L558 61.3L556.8 61.1L555.6 61L554.4 60.9L554.1 60.9L553.2 60.8L552 60.7L550.8 60.6L549.5 60.5L548.3 60.4L547.1 60.3L545.9 60.2L545 60.1L544.7 60.1L544.4 60.1L543.5 60.2L542.2 60.3L541 60.4L539.8 60.4L538.6 60.5L537.4 60.6L536.1 60.7L534.9 60.7L533.7 60.7L532.5 60.8L531.3 60.8L530.1 60.9L529.8 60.9L528.9 60.9L527.6 60.9L526.4 61L525.2 61L524 61L522.8 61.1L521.5 61.1L520.3 61.1L519.1 61.1L517.9 61.1L516.7 61.1L515.5 61.1L514.2 61.1L513 61.1L511.8 61.1L510.6 61.1L509.4 61.2L508.2 61.2L506.9 61.3L505.7 61.3L504.5 61.4L503.3 61.4L502.1 61.5L500.9 61.5L499.8 61.6L499.6 61.6L498.4 61.6L497.2 61.7L496 61.7L496 62.3L496 62.9L497.2 62.8L498.4 62.8L499.6 62.7L500.9 62.7L502.1 62.6L503.3 62.6L504.5 62.6L505.7 62.5L506.9 62.5L508.2 62.5L509.4 62.4L510.6 62.4L511.8 62.3L513 62.4L514.2 62.4L515.5 62.4L516.7 62.4L517.9 62.4L519.1 62.5L520.3 62.5L521.5 62.5L522.8 62.5L524 62.5L525.2 62.5L526.4 62.4L527.6 62.4L528.9 62.4L530.1 62.4L531.3 62.4L532.5 62.4L533.7 62.3L534.9 62.3L535.1 62.3L536.1 62.3L537.4 62.2L538.6 62.2L539.8 62.1L541 62L542.2 62L543.5 61.9L544.7 61.8L545.9 61.9L547.1 62L548.3 62.1L549.5 62.2L550.3 62.3L550.8 62.4L552 62.5L553.2 62.6L554.4 62.8L555.6 62.9L556.7 63.1L556.8 63.1L558 63.2L559.3 63.4L560.5 63.6L561.7 63.7L562 63.8L562.9 63.9L564.1 64.1L565.4 64.3L566.6 64.5L566.7 64.5L567.8 64.7L569 64.9L570.2 65.2L570.3 65.2L571.4 65.6L572.6 65.9L572.9 66L573.9 66.3L575.1 66.6L575.3 66.7L576.3 67.1L577.4 67.4L577.5 67.5L578.7 68L579.2 68.2L580 68.5L580.7 68.9L581.2 69.2L581.9 69.6L582.4 70L582.9 70.4L583.5 71.1L583.6 71.2L583.9 71.8L584 72.5L583.8 73.3L583.6 73.6L583.3 74L582.5 74.7L582.4 74.8L581.4 75.5L581.2 75.6L580 76.1L579.7 76.2L578.7 76.5L577.5 76.9L577.5 76.9L576.3 77.2L575.1 77.5L574.4 77.7L573.9 77.7L572.6 78L571.4 78.1L570.2 78.3L569.6 78.4L569 78.5L567.8 78.6L566.6 78.8L565.4 78.9L564.1 79L563.5 79.1L562.9 79.2L561.7 79.3L560.5 79.4L559.3 79.5L558 79.6L556.8 79.7L555.6 79.8L554.8 79.8L554.4 79.9L553.2 80L552 80L550.8 80.1L549.5 80.1L548.3 80.1L547.1 80.2L545.9 80.2L544.7 80.2L543.5 80.3L542.2 80.4L541 80.5L539.8 80.6L539.6 80.6L538.6 80.6L537.4 80.7L536.1 80.9L534.9 81.2L534.3 81.3L533.7 81.4L532.5 81.7L531.3 81.9L530.4 82L530.1 82.1L528.9 82.3L527.6 82.5L526.4 82.7L526.3 82.8L525.2 83L524 83.2L522.8 83.4L521.8 83.5L521.5 83.5L520.3 83.7L519.1 83.9L517.9 84.1L517.2 84.2L516.7 84.3L515.5 84.5L514.2 84.7L513 84.8L512 85L511.8 85L510.6 85.1L509.4 85.1L508.2 85.2L506.9 85.3L505.7 85.4L504.5 85.4L503.3 85.5L502.1 85.5L500.9 85.6L499.6 85.6L498.4 85.7L497.4 85.7L497.2 85.7L496 85.7L496 86.4L496 87.1Z" fill="#fac42a" stroke="#fac42a" stroke-width="0.6" fill-rule="evenodd"/>
<path d="M497.2 85.7L497.4 85.7L498.4 85.7L499.6 85.6L500.9 85.6L502.1 85.5L503.3 85.5L504.5 85.4L505.7 85.4L506.9 85.3L508.2 85.2L509.4 85.1L510.6 85.1L511.8 85L512 85L513 84.8L514.2 84.7L515.5 84.5L516.7 84.3L517.2 84.2L517.9 84.1L519.1 83.9L520.3 83.7L521.5 83.5L521.8 83.5L522.8 83.4L524 83.2L525.2 83L526.3 82.8L526.4 82.7L527.6 82.5L528.9 82.3L530.1 82.1L530.4 82L531.3 81.9L532.5 81.7L533.7 81.4L534.3 81.3L534.9 81.2L536.1 80.9L537.4 80.7L538.6 80.6L539.6 80.6L539.8 80.6L541 80.5L542.2 80.4L543.5 80.3L544.7 80.2L545.9 80.2L547.1 80.2L548.3 80.1L549.5 80.1L550.8 80.1L552 80L553.2 80L554.4 79.9L554.8 79.8L555.6 79.8L556.8 79.7L558 79.6L559.3 79.5L560.5 79.4L561.7 79.3L562.9 79.2L563.5 79.1L564.1 79L565.4 78.9L566.6 78.8L567.8 78.6L569 78.5L569.6 78.4L570.2 78.3L571.4 78.1L572.6 78L573.9 77.7L574.4 77.7L575.1 77.5L576.3 77.2L577.5 76.9L577.5 76.9L578.7 76.5L579.7 76.2L580 76.1L581.2 75.6L581.4 75.5L582.4 74.8L582.5 74.7L583.3 74L583.6 73.6L583.8 73.3L584 72.5L583.9 71.8L583.6 71.2L583.5 71.1L582.9 70.4L582.4 70L581.9 69.6L581.2 69.2L580.7 68.9L580 68.5L579.2 68.2L578.7 68L577.5 67.5L577.4 67.4L576.3 67.1L575.3 66.7L575.1 66.6L573.9 66.3L572.9 66L572.6 65.9L571.4 65.6L570.3 65.2L570.2 65.2L569 64.9L567.8 64.7L566.7 64.5L566.6 64.5L565.4 64.3L564.1 64.1L562.9 63.9L562 63.8L561.7 63.7L560.5 63.6L559.3 63.4L558 63.2L556.8 63.1L556.7 63.1L555.6 62.9L554.4 62.8L553.2 62.6L552 62.5L550.8 62.4L550.3 62.3L549.5 62.2L548.3 62.1L547.1 62L545.9 61.9L544.7 61.8L543.5 61.9L542.2 62L541 62L539.8 62.1L538.6 62.2L537.4 62.2L536.1 62.3L535.1 62.3L534.9 62.3L533.7 62.3L532.5 62.4L531.3 62.4L530.1 62.4L528.9 62.4L527.6 62.4L526.4 62.4L525.2 62.5L524 62.5L522.8 62.5L521.5 62.5L520.3 62.5L519.1 62.5L517.9 62.4L516.7 62.4L515.5 62.4L514.2 62.4L513 62.4L511.8 62.3L510.6 62.4L509.4 62.4L508.2 62.5L506.9 62.5L505.7 62.5L504.5 62.6L503.3 62.6L502.1 62.6L500.9 62.7L499.6 62.7L498.4 62.8L497.2 62.8L496 62.9L496 63.1L496 63.8L497.2 63.7L498.4 63.7L499.6 63.7L500.9 63.6L502.1 63.6L503.3 63.6L504.5 63.5L505.7 63.5L506.9 63.5L508.2 63.5L509.4 63.4L510.6 63.4L511.8 63.4L513 63.4L514.2 63.5L515.5 63.5L516.7 63.5L517.9 63.6L519.1 63.6L520.3 63.7L521.5 63.7L522.8 63.7L524 63.8L525.2 63.8L525.4 63.8L526.4 63.8L527.6 63.8L528.9 63.8L530.1 63.8L531.3 63.9L532.5 63.9L533.7 63.9L534.9 63.9L536.1 63.9L537.4 63.9L538.6 63.8L539.2 63.8L539.8 63.7L541 63.7L542.2 63.6L543.5 63.6L544.7 63.5L545.9 63.6L547.1 63.8L547.3 63.8L548.3 63.9L549.5 64L550.8 64.2L552 64.3L553.2 64.5L553.2 64.5L554.4 64.7L555.6 64.9L556.8 65.1L557.6 65.2L558 65.3L559.3 65.6L560.5 65.8L561.4 66L561.7 66L562.9 66.3L564.1 66.6L564.6 66.7L565.4 66.9L566.6 67.2L567.3 67.4L567.8 67.6L569 68L569.4 68.2L570.2 68.6L570.8 68.9L571.4 69.3L571.9 69.6L572.6 70.3L572.7 70.4L573.1 71.1L573.1 71.8L572.7 72.5L572.6 72.6L572 73.3L571.4 73.7L570.9 74L570.2 74.3L569.1 74.7L569 74.8L567.8 75.2L566.7 75.5L566.6 75.5L565.4 75.8L564.1 76.1L563.5 76.2L562.9 76.3L561.7 76.5L560.5 76.7L559.3 76.9L559.2 76.9L558 77.1L556.8 77.2L555.6 77.4L554.4 77.5L553.4 77.7L553.2 77.7L552 77.8L550.8 77.9L549.5 77.9L548.3 78L547.1 78.1L545.9 78.1L544.7 78.2L543.5 78.3L542.4 78.4L542.2 78.4L541 78.5L539.8 78.6L538.6 78.7L537.4 78.8L536.1 79L535.8 79.1L534.9 79.4L533.7 79.7L533.3 79.8L532.5 80.1L531.3 80.3L530.1 80.6L530.1 80.6L528.9 80.8L527.6 81.1L526.8 81.3L526.4 81.4L525.2 81.7L524 81.9L523.1 82L522.8 82.1L521.5 82.3L520.3 82.5L519.1 82.7L518.9 82.8L517.9 83L516.7 83.2L515.5 83.4L514.5 83.5L514.2 83.5L513 83.7L511.8 83.9L510.6 84L509.4 84L508.2 84.1L506.9 84.2L506.1 84.2L505.7 84.2L504.5 84.3L503.3 84.4L502.1 84.4L500.9 84.5L499.6 84.5L498.4 84.6L497.2 84.6L496 84.7L496 85L496 85.7L496 85.7Z" fill="#fcb216" stroke="#fcb216" stroke-width="0.6" fill-rule="evenodd"/>
<path d="M497.2 84.6L498.4 84.6L499.6 84.5L500.9 84.5L502.1 84.4L503.3 84.4L504.5 84.3L505.7 84.2L506.1 84.2L506.9 84.2L508.2 84.1L509.4 84L510.6 84L511.8 83.9L513 83.7L514.2 83.5L514.5 83.5L515.5 83.4L516.7 83.2L517.9 83L518.9 82.8L519.1 82.7L520.3 82.5L521.5 82.3L522.8 82.1L523.1 82L524 81.9L525.2 81.7L526.4 81.4L526.8 81.3L527.6 81.1L528.9 80.8L530.1 80.6L530.1 80.6L531.3 80.3L532.5 80.1L533.3 79.8L533.7 79.7L534.9 79.4L535.8 79.1L536.1 79L537.4 78.8L538.6 78.7L539.8 78.6L541 78.5L542.2 78.4L542.4 78.4L543.5 78.3L544.7 78.2L545.9 78.1L547.1 78.1L548.3 78L549.5 77.9L550.8 77.9L552 77.8L553.2 77.7L553.4 77.7L554.4 77.5L555.6 77.4L556.8 77.2L558 77.1L559.2 76.9L559.3 76.9L560.5 76.7L561.7 76.5L562.9 76.3L563.5 76.2L564.1 76.1L565.4 75.8L566.6 75.5L566.7 75.5L567.8 75.2L569 74.8L569.1 74.7L570.2 74.3L570.9 74L571.4 73.7L572 73.3L572.6 72.6L572.7 72.5L573.1 71.8L573.1 71.1L572.7 70.4L572.6 70.3L571.9 69.6L571.4 69.3L570.8 68.9L570.2 68.6L569.4 68.2L569 68L567.8 67.6L567.3 67.4L566.6 67.2L565.4 66.9L564.6 66.7L564.1 66.6L562.9 66.3L561.7 66L561.4 66L560.5 65.8L559.3 65.6L558 65.3L557.6 65.2L556.8 65.1L555.6 64.9L554.4 64.7L553.2 64.5L553.2 64.5L552 64.3L550.8 64.2L549.5 64L548.3 63.9L547.3 63.8L547.1 63.8L545.9 63.6L544.7 63.5L543.5 63.6L542.2 63.6L541 63.7L539.8 63.7L539.2 63.8L538.6 63.8L537.4 63.9L536.1 63.9L534.9 63.9L533.7 63.9L532.5 63.9L531.3 63.9L530.1 63.8L528.9 63.8L527.6 63.8L526.4 63.8L525.4 63.8L525.2 63.8L524 63.8L522.8 63.7L521.5 63.7L520.3 63.7L519.1 63.6L517.9 63.6L516.7 63.5L515.5 63.5L514.2 63.5L513 63.4L511.8 63.4L510.6 63.4L509.4 63.4L508.2 63.5L506.9 63.5L505.7 63.5L504.5 63.5L503.3 63.6L502.1 63.6L500.9 63.6L499.6 63.7L498.4 63.7L497.2 63.7L496 63.8L496 63.8L496 64.5L496 64.5L496.5 64.5L497.2 64.5L498.4 64.5L499.6 64.4L500.9 64.4L502.1 64.4L503.3 64.4L504.5 64.3L505.7 64.3L506.9 64.3L508.2 64.3L509.4 64.3L510.6 64.3L511.8 64.3L513 64.3L514.2 64.4L515.5 64.5L516.4 64.5L516.7 64.5L517.9 64.6L519.1 64.7L520.3 64.8L521.5 64.8L522.8 64.9L524 64.9L525.2 65L526.4 65.1L527.6 65.1L528.9 65.2L529.4 65.2L530.1 65.3L531.3 65.3L532.5 65.4L533.7 65.5L534.9 65.6L536.1 65.6L537.4 65.7L538.6 65.6L539.8 65.6L541 65.5L542.2 65.5L543.5 65.4L544.7 65.4L545.9 65.5L547.1 65.7L548.3 65.9L548.7 66L549.5 66.1L550.8 66.3L552 66.5L552.8 66.7L553.2 66.8L554.4 67.1L555.6 67.4L555.7 67.4L556.8 67.8L557.9 68.2L558 68.2L559.3 68.7L559.6 68.9L560.5 69.4L560.8 69.6L561.5 70.4L561.6 71.1L561.2 71.8L560.5 72.4L560.3 72.5L559.3 73.1L558.9 73.3L558 73.6L556.9 74L556.8 74L555.6 74.4L554.4 74.7L554.1 74.7L553.2 74.9L552 75.1L550.8 75.3L549.5 75.5L549.5 75.5L548.3 75.6L547.1 75.7L545.9 75.8L544.7 76L543.5 76.1L542.3 76.2L542.2 76.2L541 76.3L539.8 76.4L538.6 76.5L537.4 76.6L536.4 76.9L536.1 77L534.9 77.6L534.8 77.7L533.7 78.1L532.9 78.4L532.5 78.5L531.3 78.9L530.4 79.1L530.1 79.2L528.9 79.5L527.6 79.8L527.6 79.8L526.4 80.2L525.2 80.5L524.8 80.6L524 80.8L522.8 81L521.5 81.2L521.2 81.3L520.3 81.5L519.1 81.7L517.9 82L517.5 82L516.7 82.2L515.5 82.4L514.2 82.6L513.1 82.8L513 82.8L511.8 82.9L510.6 83L509.4 83.1L508.2 83.2L506.9 83.3L505.7 83.3L504.5 83.4L503.3 83.5L502.5 83.5L502.1 83.5L500.9 83.6L499.6 83.6L498.4 83.7L497.2 83.7L496 83.8L496 84.2L496 84.7Z" fill="#fca309" stroke="#fca309" stroke-width="0.6" fill-rule="evenodd"/>
<path d="M497.2 83.7L498.4 83.7L499.6 83.6L500.9 83.6L502.1 83.5L502.5 83.5L503.3 83.5L504.5 83.4L505.7 83.3L506.9 83.3L508.2 83.2L509.4 83.1L510.6 83L511.8 82.9L513 82.8L513.1 82.8L514.2 82.6L515.5 82.4L516.7 82.2L517.5 82L517.9 82L519.1 81.7L520.3 81.5L521.2 81.3L521.5 81.2L522.8 81L524 80.8L524.8 80.6L525.2 80.5L526.4 80.2L527.6 79.8L527.6 79.8L528.9 79.5L530.1 79.2L530.4 79.1L531.3 78.9L532.5 78.5L532.9 78.4L533.7 78.1L534.8 77.7L534.9 77.6L536.1 77L536.4 76.9L537.4 76.6L538.6 76.5L539.8 76.4L541 76.3L542.2 76.2L542.3 76.2L543.5 76.1L544.7 76L545.9 75.8L547.1 75.7L548.3 75.6L549.5 75.5L549.5 75.5L550.8 75.3L552 75.1L553.2 74.9L554.1 74.7L554.4 74.7L555.6 74.4L556.8 74L556.9 74L558 73.6L558.9 73.3L559.3 73.1L560.3 72.5L560.5 72.4L561.2 71.8L561.6 71.1L561.5 70.4L560.8 69.6L560.5 69.4L559.6 68.9L559.3 68.7L558 68.2L557.9 68.2L556.8 67.8L555.7 67.4L555.6 67.4L554.4 67.1L553.2 66.8L552.8 66.7L552 66.5L550.8 66.3L549.5 66.1L548.7 66L548.3 65.9L547.1 65.7L545.9 65.5L544.7 65.4L543.5 65.4L542.2 65.5L541 65.5L539.8 65.6L538.6 65.6L537.4 65.7L536.1 65.6L534.9 65.6L533.7 65.5L532.5 65.4L531.3 65.3L530.1 65.3L529.4 65.2L528.9 65.2L527.6 65.1L526.4 65.1L525.2 65L524 64.9L522.8 64.9L521.5 64.8L520.3 64.8L519.1 64.7L517.9 64.6L516.7 64.5L516.4 64.5L515.5 64.5L514.2 64.4L513 64.3L511.8 64.3L510.6 64.3L509.4 64.3L508.2 64.3L506.9 64.3L505.7 64.3L504.5 64.3L503.3 64.4L502.1 64.4L500.9 64.4L499.6 64.4L498.4 64.5L497.2 64.5L496.5 64.5L496 64.5L496 65.1L497.2 65.1L498.4 65.1L499.6 65.1L500.9 65.1L502.1 65.1L503.3 65L504.5 65L505.7 65L506.9 65L508.2 65L509.4 65L510.6 65.1L511.8 65.1L513 65.1L514.2 65.2L514.8 65.2L515.5 65.3L516.7 65.4L517.9 65.5L519.1 65.6L520.3 65.7L521.5 65.8L522.8 65.9L523.4 66L524 66L525.2 66.1L526.4 66.3L527.6 66.4L528.9 66.6L529.9 66.7L530.1 66.7L531.3 66.9L532.5 67L533.7 67.2L534.7 67.4L534.9 67.5L536.1 67.9L537.4 68L538.6 68L539.8 68L541 68L542.2 68L543.5 68L544.7 68L545.2 68.2L545.9 68.4L547.1 68.8L547.2 68.9L548.3 69.5L548.4 69.6L548.9 70.4L548.5 71.1L548.3 71.2L547.5 71.8L547.1 72L545.9 72.4L545.6 72.5L544.7 72.8L543.5 73L542.2 73.2L541.5 73.3L541 73.3L539.8 73.5L538.6 73.7L537.4 73.8L537.1 74L536.1 74.4L535.9 74.7L535.1 75.5L534.9 75.6L534 76.2L533.7 76.3L532.5 76.9L532.5 76.9L531.3 77.4L530.6 77.7L530.1 77.8L528.9 78.2L528.4 78.4L527.6 78.6L526.4 79.1L526.3 79.1L525.2 79.4L524 79.8L523.6 79.8L522.8 80L521.5 80.3L520.3 80.5L520.2 80.6L519.1 80.8L517.9 81.1L516.8 81.3L516.7 81.3L515.5 81.6L514.2 81.8L513 82L512.5 82L511.8 82.1L510.6 82.2L509.4 82.3L508.2 82.4L506.9 82.5L505.7 82.6L504.5 82.6L503.3 82.7L502.1 82.7L501.4 82.8L500.9 82.8L499.6 82.8L498.4 82.9L497.2 82.9L496 83L496 83.5L496 83.8Z" fill="#fa9207" stroke="#fa9207" stroke-width="0.6" fill-rule="evenodd"/>
<path d="M497.2 82.9L498.4 82.9L499.6 82.8L500.9 82.8L501.4 82.8L502.1 82.7L503.3 82.7L504.5 82.6L505.7 82.6L506.9 82.5L508.2 82.4L509.4 82.3L510.6 82.2L511.8 82.1L512.5 82L513 82L514.2 81.8L515.5 81.6L516.7 81.3L516.8 81.3L517.9 81.1L519.1 80.8L520.2 80.6L520.3 80.5L521.5 80.3L522.8 80L523.6 79.8L524 79.8L525.2 79.4L526.3 79.1L526.4 79.1L527.6 78.6L528.4 78.4L528.9 78.2L530.1 77.8L530.6 77.7L531.3 77.4L532.5 76.9L532.5 76.9L533.7 76.3L534 76.2L534.9 75.6L535.1 75.5L535.9 74.7L536.1 74.4L537.1 74L537.4 73.8L538.6 73.7L539.8 73.5L541 73.3L541.5 73.3L542.2 73.2L543.5 73L544.7 72.8L545.6 72.5L545.9 72.4L547.1 72L547.5 71.8L548.3 71.2L548.5 71.1L548.9 70.4L548.4 69.6L548.3 69.5L547.2 68.9L547.1 68.8L545.9 68.4L545.2 68.2L544.7 68L543.5 68L542.2 68L541 68L539.8 68L538.6 68L537.4 68L536.1 67.9L534.9 67.5L534.7 67.4L533.7 67.2L532.5 67L531.3 66.9L530.1 66.7L529.9 66.7L528.9 66.6L527.6 66.4L526.4 66.3L525.2 66.1L524 66L523.4 66L522.8 65.9L521.5 65.8L520.3 65.7L519.1 65.6L517.9 65.5L516.7 65.4L515.5 65.3L514.8 65.2L514.2 65.2L513 65.1L511.8 65.1L510.6 65.1L509.4 65L508.2 65L506.9 65L505.7 65L504.5 65L503.3 65L502.1 65.1L500.9 65.1L499.6 65.1L498.4 65.1L497.2 65.1L496 65.1L496 65.2L496 65.7L497.2 65.7L498.4 65.7L499.6 65.7L500.9 65.7L502.1 65.6L503.3 65.6L504.5 65.6L505.7 65.7L506.9 65.7L508.2 65.7L509.4 65.7L510.6 65.7L511.8 65.7L513 65.8L514.2 65.9L514.9 66L515.5 66L516.7 66.1L517.9 66.3L519.1 66.4L520.3 66.6L521.2 66.7L521.5 66.7L522.8 66.9L524 67L525.2 67.2L526.3 67.4L526.4 67.4L527.6 67.7L528.9 68L529.6 68.2L530.1 68.3L531.3 68.6L532.2 68.9L532.5 69L533.7 69.6L533.7 69.7L534.4 70.4L534.7 71.1L534.7 71.8L534.6 72.5L534.3 73.3L533.8 74L533.7 74.1L533 74.7L532.5 75.1L532 75.5L531.3 75.9L530.6 76.2L530.1 76.4L528.9 76.9L528.8 76.9L527.6 77.5L527.3 77.7L526.4 78L525.4 78.4L525.2 78.4L524 78.8L522.9 79.1L522.8 79.1L521.5 79.4L520.3 79.7L519.8 79.8L519.1 80L517.9 80.3L516.7 80.6L516.7 80.6L515.5 80.8L514.2 81.1L513 81.3L512.6 81.3L511.8 81.4L510.6 81.5L509.4 81.6L508.2 81.7L506.9 81.8L505.7 81.9L504.5 82L503.3 82L502.7 82L502.1 82.1L500.9 82.1L499.6 82.2L498.4 82.2L497.2 82.3L496 82.3L496 82.8L496 83Z" fill="#f78212" stroke="#f78212" stroke-width="0.6" fill-rule="evenodd"/>
<path d="M497.2 82.3L498.4 82.2L499.6 82.2L500.9 82.1L502.1 82.1L502.7 82L503.3 82L504.5 82L505.7 81.9L506.9 81.8L508.2 81.7L509.4 81.6L510.6 81.5L511.8 81.4L512.6 81.3L513 81.3L514.2 81.1L515.5 80.8L516.7 80.6L516.7 80.6L517.9 80.3L519.1 80L519.8 79.8L520.3 79.7L521.5 79.4L522.8 79.1L522.9 79.1L524 78.8L525.2 78.4L525.4 78.4L526.4 78L527.3 77.7L527.6 77.5L528.8 76.9L528.9 76.9L530.1 76.4L530.6 76.2L531.3 75.9L532 75.5L532.5 75.1L533 74.7L533.7 74.1L533.8 74L534.3 73.3L534.6 72.5L534.7 71.8L534.7 71.1L534.4 70.4L533.7 69.7L533.7 69.6L532.5 69L532.2 68.9L531.3 68.6L530.1 68.3L529.6 68.2L528.9 68L527.6 67.7L526.4 67.4L526.3 67.4L525.2 67.2L524 67L522.8 66.9L521.5 66.7L521.2 66.7L520.3 66.6L519.1 66.4L517.9 66.3L516.7 66.1L515.5 66L514.9 66L514.2 65.9L513 65.8L511.8 65.7L510.6 65.7L509.4 65.7L508.2 65.7L506.9 65.7L505.7 65.7L504.5 65.6L503.3 65.6L502.1 65.6L500.9 65.7L499.6 65.7L498.4 65.7L497.2 65.7L496 65.7L496 66L496 66.2L497.2 66.2L498.4 66.2L499.6 66.2L500.9 66.2L502.1 66.2L503.3 66.2L504.5 66.2L505.7 66.2L506.9 66.2L508.2 66.2L509.4 66.3L510.6 66.3L511.8 66.3L513 66.4L514.2 66.5L515.5 66.7L515.6 66.7L516.7 66.8L517.9 67L519.1 67.2L520.3 67.4L520.5 67.4L521.5 67.6L522.8 67.8L524 68L524.7 68.2L525.2 68.3L526.4 68.6L527.2 68.9L527.6 69.1L528.9 69.6L528.9 69.6L530.1 70.1L530.5 70.4L531.3 71L531.3 71.1L531.7 71.8L531.8 72.5L531.6 73.3L531.3 73.6L531 74L530.2 74.7L530.1 74.8L528.9 75.5L528.9 75.5L527.8 76.2L527.6 76.3L526.5 76.9L526.4 77L525.2 77.5L524.8 77.7L524 77.9L522.8 78.3L522.5 78.4L521.5 78.6L520.3 78.9L519.7 79.1L519.1 79.3L517.9 79.6L516.9 79.8L516.7 79.9L515.5 80.2L514.2 80.4L513.2 80.6L513 80.6L511.8 80.8L510.6 80.9L509.4 81L508.2 81.1L506.9 81.2L505.7 81.3L505 81.3L504.5 81.3L503.3 81.4L502.1 81.5L500.9 81.5L499.6 81.6L498.4 81.6L497.2 81.7L496 81.7L496 82L496 82.3Z" fill="#f1731d" stroke="#f1731d" stroke-width="0.6" fill-rule="evenodd"/>
<path d="M497.2 81.7L498.4 81.6L499.6 81.6L500.9 81.5L502.1 81.5L503.3 81.4L504.5 81.3L505 81.3L505.7 81.3L506.9 81.2L508.2 81.1L509.4 81L510.6 80.9L511.8 80.8L513 80.6L513.2 80.6L514.2 80.4L515.5 80.2L516.7 79.9L516.9 79.8L517.9 79.6L519.1 79.3L519.7 79.1L520.3 78.9L521.5 78.6L522.5 78.4L522.8 78.3L524 77.9L524.8 77.7L525.2 77.5L526.4 77L526.5 76.9L527.6 76.3L527.8 76.2L528.9 75.5L528.9 75.5L530.1 74.8L530.2 74.7L531 74L531.3 73.6L531.6 73.3L531.8 72.5L531.7 71.8L531.3 71.1L531.3 71L530.5 70.4L530.1 70.1L528.9 69.6L528.9 69.6L527.6 69.1L527.2 68.9L526.4 68.6L525.2 68.3L524.7 68.2L524 68L522.8 67.8L521.5 67.6L520.5 67.4L520.3 67.4L519.1 67.2L517.9 67L516.7 66.8L515.6 66.7L515.5 66.7L514.2 66.5L513 66.4L511.8 66.3L510.6 66.3L509.4 66.3L508.2 66.2L506.9 66.2L505.7 66.2L504.5 66.2L503.3 66.2L502.1 66.2L500.9 66.2L499.6 66.2L498.4 66.2L497.2 66.2L496 66.2L496 66.6L497.2 66.6L498.4 66.6L499.6 66.6L500.9 66.6L502.1 66.7L503.3 66.7L504.5 66.7L505.6 66.7L505.7 66.7L506.9 66.7L508.2 66.8L509.4 66.8L510.6 66.8L511.8 66.9L513 67L514.2 67.1L515.5 67.3L516.5 67.4L516.7 67.5L517.9 67.7L519.1 67.9L520.3 68.2L520.4 68.2L521.5 68.4L522.8 68.6L523.9 68.9L524 68.9L525.2 69.3L526 69.6L526.4 69.8L527.4 70.4L527.6 70.6L528.3 71.1L528.8 71.8L528.9 72.1L529 72.5L528.9 73.2L528.8 73.3L528.5 74L527.8 74.7L527.6 74.9L527 75.5L526.4 75.9L525.9 76.2L525.2 76.5L524.3 76.9L524 77.1L522.8 77.5L522.3 77.7L521.5 77.9L520.3 78.2L519.8 78.4L519.1 78.6L517.9 79L517.3 79.1L516.7 79.3L515.5 79.5L514.2 79.8L514 79.8L513 80L511.8 80.2L510.6 80.3L509.4 80.4L508.2 80.5L507.4 80.6L506.9 80.6L505.7 80.7L504.5 80.8L503.3 80.9L502.1 80.9L500.9 81L499.6 81L498.4 81.1L497.2 81.1L496 81.2L496 81.3L496 81.7Z" fill="#eb6429" stroke="#eb6429" stroke-width="0.6" fill-rule="evenodd"/>
<path d="M497.2 81.1L498.4 81.1L499.6 81L500.9 81L502.1 80.9L503.3 80.9L504.5 80.8L505.7 80.7L506.9 80.6L507.4 80.6L508.2 80.5L509.4 80.4L510.6 80.3L511.8 80.2L513 80L514 79.8L514.2 79.8L515.5 79.5L516.7 79.3L517.3 79.1L517.9 79L519.1 78.6L519.8 78.4L520.3 78.2L521.5 77.9L522.3 77.7L522.8 77.5L524 77.1L524.3 76.9L525.2 76.5L525.9 76.2L526.4 75.9L527 75.5L527.6 74.9L527.8 74.7L528.5 74L528.8 73.3L528.9 73.2L529 72.5L528.9 72.1L528.8 71.8L528.3 71.1L527.6 70.6L527.4 70.4L526.4 69.8L526 69.6L525.2 69.3L524 68.9L523.9 68.9L522.8 68.6L521.5 68.4L520.4 68.2L520.3 68.2L519.1 67.9L517.9 67.7L516.7 67.5L516.5 67.4L515.5 67.3L514.2 67.1L513 67L511.8 66.9L510.6 66.8L509.4 66.8L508.2 66.8L506.9 66.7L505.7 66.7L505.6 66.7L504.5 66.7L503.3 66.7L502.1 66.7L500.9 66.6L499.6 66.6L498.4 66.6L497.2 66.6L496 66.6L496 66.7L496 67L497.2 67L498.4 67L499.6 67.1L500.9 67.1L502.1 67.1L503.3 67.1L504.5 67.1L505.7 67.1L506.9 67.2L508.2 67.2L509.4 67.3L510.6 67.3L511.8 67.4L512.3 67.4L513 67.5L514.2 67.7L515.5 67.8L516.7 68L517.3 68.2L517.9 68.3L519.1 68.5L520.3 68.9L520.5 68.9L521.5 69.1L522.8 69.4L523.3 69.6L524 69.8L525.2 70.4L525.2 70.4L526.3 71.1L526.4 71.2L526.9 71.8L527.2 72.5L527.1 73.3L526.8 74L526.4 74.5L526.2 74.7L525.2 75.5L525.2 75.5L524 76.2L523.9 76.2L522.8 76.7L522.2 76.9L521.5 77.1L520.3 77.5L520 77.7L519.1 78L517.9 78.3L517.7 78.4L516.7 78.7L515.5 79L514.8 79.1L514.2 79.2L513 79.5L511.8 79.7L510.6 79.8L510 79.8L509.4 79.9L508.2 80L506.9 80.1L505.7 80.2L504.5 80.3L503.3 80.4L502.1 80.4L500.9 80.5L499.6 80.5L498.6 80.6L498.4 80.6L497.2 80.6L496 80.7L496 81.2Z" fill="#e25734" stroke="#e25734" stroke-width="0.6" fill-rule="evenodd"/>
<path d="M497.2 80.6L498.4 80.6L498.6 80.6L499.6 80.5L500.9 80.5L502.1 80.4L503.3 80.4L504.5 80.3L505.7 80.2L506.9 80.1L508.2 80L509.4 79.9L510 79.8L510.6 79.8L511.8 79.7L513 79.5L514.2 79.2L514.8 79.1L515.5 79L516.7 78.7L517.7 78.4L517.9 78.3L519.1 78L520 77.7L520.3 77.5L521.5 77.1L522.2 76.9L522.8 76.7L523.9 76.2L524 76.2L525.2 75.5L525.2 75.5L526.2 74.7L526.4 74.5L526.8 74L527.1 73.3L527.2 72.5L526.9 71.8L526.4 71.2L526.3 71.1L525.2 70.4L525.2 70.4L524 69.8L523.3 69.6L522.8 69.4L521.5 69.1L520.5 68.9L520.3 68.9L519.1 68.5L517.9 68.3L517.3 68.2L516.7 68L515.5 67.8L514.2 67.7L513 67.5L512.3 67.4L511.8 67.4L510.6 67.3L509.4 67.3L508.2 67.2L506.9 67.2L505.7 67.1L504.5 67.1L503.3 67.1L502.1 67.1L500.9 67.1L499.6 67.1L498.4 67L497.2 67L496 67L496 67.4L497.2 67.4L498.1 67.4L498.4 67.4L499.6 67.4L500.9 67.5L502.1 67.5L503.3 67.5L504.5 67.5L505.7 67.6L506.9 67.6L508.2 67.7L509.4 67.7L510.6 67.8L511.8 67.8L513 68L514.2 68.2L514.3 68.2L515.5 68.4L516.7 68.6L517.9 68.9L518.1 68.9L519.1 69.2L520.3 69.5L520.6 69.6L521.5 69.9L522.8 70.3L522.9 70.4L524 70.9L524.4 71.1L525.2 71.8L525.2 71.8L525.6 72.5L525.6 73.3L525.3 74L525.2 74.1L524.6 74.7L524 75.2L523.5 75.5L522.8 75.8L522 76.2L521.5 76.4L520.3 76.8L520.1 76.9L519.1 77.3L518.1 77.7L517.9 77.7L516.7 78.1L515.6 78.4L515.5 78.4L514.2 78.7L513 79L512.2 79.1L511.8 79.2L510.6 79.3L509.4 79.4L508.2 79.5L506.9 79.6L505.7 79.7L504.5 79.8L504.1 79.8L503.3 79.9L502.1 80L500.9 80L499.6 80.1L498.4 80.1L497.2 80.2L496 80.2L496 80.6L496 80.7Z" fill="#d94d3d" stroke="#d94d3d" stroke-width="0.6" fill-rule="evenodd"/>
<path d="M497.2 80.2L498.4 80.1L499.6 80.1L500.9 80L502.1 80L503.3 79.9L504.1 79.8L504.5 79.8L505.7 79.7L506.9 79.6L508.2 79.5L509.4 79.4L510.6 79.3L511.8 79.2L512.2 79.1L513 79L514.2 78.7L515.5 78.4L515.6 78.4L516.7 78.1L517.9 77.7L518.1 77.7L519.1 77.3L520.1 76.9L520.3 76.8L521.5 76.4L522 76.2L522.8 75.8L523.5 75.5L524 75.2L524.6 74.7L525.2 74.1L525.3 74L525.6 73.3L525.6 72.5L525.2 71.8L525.2 71.8L524.4 71.1L524 70.9L522.9 70.4L522.8 70.3L521.5 69.9L520.6 69.6L520.3 69.5L519.1 69.2L518.1 68.9L517.9 68.9L516.7 68.6L515.5 68.4L514.3 68.2L514.2 68.2L513 68L511.8 67.8L510.6 67.8L509.4 67.7L508.2 67.7L506.9 67.6L505.7 67.6L504.5 67.5L503.3 67.5L502.1 67.5L500.9 67.5L499.6 67.4L498.4 67.4L498.1 67.4L497.2 67.4L496 67.4L496 67.4L496 67.7L497.2 67.8L498.4 67.8L499.6 67.8L500.9 67.8L502.1 67.8L503.3 67.9L504.5 67.9L505.7 68L506.9 68L508.2 68.1L509.4 68.1L509.8 68.2L510.6 68.2L511.8 68.3L513 68.4L514.2 68.6L515.5 68.8L515.7 68.9L516.7 69.1L517.9 69.4L518.6 69.6L519.1 69.8L520.3 70.2L520.7 70.4L521.5 70.7L522.5 71.1L522.8 71.3L523.6 71.8L524 72.4L524.1 72.5L524.1 73.3L524 73.5L523.7 74L523 74.7L522.8 74.9L521.8 75.5L521.5 75.6L520.3 76.1L520.2 76.2L519.1 76.7L518.5 76.9L517.9 77.1L516.7 77.5L516.3 77.7L515.5 77.9L514.2 78.2L513.5 78.4L513 78.5L511.8 78.7L510.6 78.8L509.4 79L508.2 79.1L507.6 79.1L506.9 79.2L505.7 79.3L504.5 79.4L503.3 79.5L502.1 79.5L500.9 79.6L499.6 79.7L498.4 79.7L497.2 79.8L496 79.8L496 79.8L496 80.2Z" fill="#ce4347" stroke="#ce4347" stroke-width="0.6" fill-rule="evenodd"/>
<path d="M497.2 79.8L498.4 79.7L499.6 79.7L500.9 79.6L502.1 79.5L503.3 79.5L504.5 79.4L505.7 79.3L506.9 79.2L507.6 79.1L508.2 79.1L509.4 79L510.6 78.8L511.8 78.7L513 78.5L513.5 78.4L514.2 78.2L515.5 77.9L516.3 77.7L516.7 77.5L517.9 77.1L518.5 76.9L519.1 76.7L520.2 76.2L520.3 76.1L521.5 75.6L521.8 75.5L522.8 74.9L523 74.7L523.7 74L524 73.5L524.1 73.3L524.1 72.5L524 72.4L523.6 71.8L522.8 71.3L522.5 71.1L521.5 70.7L520.7 70.4L520.3 70.2L519.1 69.8L518.6 69.6L517.9 69.4L516.7 69.1L515.7 68.9L515.5 68.8L514.2 68.6L513 68.4L511.8 68.3L510.6 68.2L509.8 68.2L509.4 68.1L508.2 68.1L506.9 68L505.7 68L504.5 67.9L503.3 67.9L502.1 67.8L500.9 67.8L499.6 67.8L498.4 67.8L497.2 67.8L496 67.7L496 68.1L497.2 68.1L498.4 68.1L499.6 68.2L500.1 68.2L500.9 68.2L502.1 68.2L503.3 68.2L504.5 68.3L505.7 68.3L506.9 68.4L508.2 68.5L509.4 68.5L510.6 68.6L511.8 68.7L513 68.8L513.3 68.9L514.2 69.1L515.5 69.3L516.7 69.6L516.7 69.6L517.9 70L519 70.4L519.1 70.4L520.3 71L520.6 71.1L521.5 71.6L521.9 71.8L522.5 72.5L522.6 73.3L522.2 74L521.5 74.6L521.3 74.7L520.3 75.3L520.1 75.5L519.1 76L518.8 76.2L517.9 76.6L516.9 76.9L516.7 77L515.5 77.4L514.5 77.7L514.2 77.7L513 78L511.8 78.3L510.6 78.4L510.6 78.4L509.4 78.5L508.2 78.6L506.9 78.8L505.7 78.9L504.5 79L503.3 79L502.1 79.1L502.1 79.1L500.9 79.2L499.6 79.2L498.4 79.3L497.2 79.4L496 79.4L496 79.8Z" fill="#c13a50" stroke="#c13a50" stroke-width="0.6" fill-rule="evenodd"/>
<path d="M497.2 79.4L498.4 79.3L499.6 79.2L500.9 79.2L502.1 79.1L502.1 79.1L503.3 79L504.5 79L505.7 78.9L506.9 78.8L508.2 78.6L509.4 78.5L510.6 78.4L510.6 78.4L511.8 78.3L513 78L514.2 77.7L514.5 77.7L515.5 77.4L516.7 77L516.9 76.9L517.9 76.6L518.8 76.2L519.1 76L520.1 75.5L520.3 75.3L521.3 74.7L521.5 74.6L522.2 74L522.6 73.3L522.5 72.5L521.9 71.8L521.5 71.6L520.6 71.1L520.3 71L519.1 70.4L519 70.4L517.9 70L516.7 69.6L516.7 69.6L515.5 69.3L514.2 69.1L513.3 68.9L513 68.8L511.8 68.7L510.6 68.6L509.4 68.5L508.2 68.5L506.9 68.4L505.7 68.3L504.5 68.3L503.3 68.2L502.1 68.2L500.9 68.2L500.1 68.2L499.6 68.2L498.4 68.1L497.2 68.1L496 68.1L496 68.2L496 68.4L497.2 68.4L498.4 68.4L499.6 68.5L500.9 68.5L502.1 68.5L503.3 68.6L504.5 68.6L505.7 68.7L506.9 68.7L508.2 68.8L509.2 68.9L509.4 68.9L510.6 69L511.8 69.1L513 69.3L514.2 69.5L514.8 69.6L515.5 69.8L516.7 70.1L517.4 70.4L517.9 70.5L519.1 71.1L519.1 71.1L520.2 71.8L520.3 71.9L521 72.5L521.1 73.3L520.6 74L520.3 74.3L519.9 74.7L519.1 75.3L518.8 75.5L517.9 75.9L517.4 76.2L516.7 76.5L515.5 76.9L515.3 76.9L514.2 77.3L513 77.6L512.6 77.7L511.8 77.8L510.6 78L509.4 78.1L508.2 78.2L506.9 78.3L506.5 78.4L505.7 78.5L504.5 78.6L503.3 78.7L502.1 78.7L500.9 78.8L499.6 78.9L498.4 78.9L497.2 79L496 79L496 79.1L496 79.4Z" fill="#b43359" stroke="#b43359" stroke-width="0.6" fill-rule="evenodd"/>
<path d="M497.2 79L498.4 78.9L499.6 78.9L500.9 78.8L502.1 78.7L503.3 78.7L504.5 78.6L505.7 78.5L506.5 78.4L506.9 78.3L508.2 78.2L509.4 78.1L510.6 78L511.8 77.8L512.6 77.7L513 77.6L514.2 77.3L515.3 76.9L515.5 76.9L516.7 76.5L517.4 76.2L517.9 75.9L518.8 75.5L519.1 75.3L519.9 74.7L520.3 74.3L520.6 74L521.1 73.3L521 72.5L520.3 71.9L520.2 71.8L519.1 71.1L519.1 71.1L517.9 70.5L517.4 70.4L516.7 70.1L515.5 69.8L514.8 69.6L514.2 69.5L513 69.3L511.8 69.1L510.6 69L509.4 68.9L509.2 68.9L508.2 68.8L506.9 68.7L505.7 68.7L504.5 68.6L503.3 68.6L502.1 68.5L500.9 68.5L499.6 68.5L498.4 68.4L497.2 68.4L496 68.4L496 68.7L497.2 68.7L498.4 68.7L499.6 68.8L500.9 68.8L502.1 68.9L503.3 68.9L503.3 68.9L504.5 68.9L505.7 69L506.9 69.1L508.2 69.2L509.4 69.3L510.6 69.4L511.8 69.5L512.8 69.6L513 69.7L514.2 69.9L515.5 70.3L515.8 70.4L516.7 70.7L517.8 71.1L517.9 71.1L519 71.8L519.1 71.9L519.7 72.5L519.8 73.3L519.4 74L519.1 74.3L518.7 74.7L517.9 75.3L517.6 75.5L516.7 75.9L516 76.2L515.5 76.4L514.2 76.8L513.8 76.9L513 77.1L511.8 77.4L510.6 77.5L509.6 77.7L509.4 77.7L508.2 77.8L506.9 78L505.7 78.1L504.5 78.2L503.3 78.3L502.1 78.3L501.5 78.4L500.9 78.4L499.6 78.5L498.4 78.6L497.2 78.6L496 78.7L496 79Z" fill="#a62d60" stroke="#a62d60" stroke-width="0.6" fill-rule="evenodd"/>
<path d="M497.2 78.6L498.4 78.6L499.6 78.5L500.9 78.4L501.5 78.4L502.1 78.3L503.3 78.3L504.5 78.2L505.7 78.1L506.9 78L508.2 77.8L509.4 77.7L509.6 77.7L510.6 77.5L511.8 77.4L513 77.1L513.8 76.9L514.2 76.8L515.5 76.4L516 76.2L516.7 75.9L517.6 75.5L517.9 75.3L518.7 74.7L519.1 74.3L519.4 74L519.8 73.3L519.7 72.5L519.1 71.9L519 71.8L517.9 71.1L517.8 71.1L516.7 70.7L515.8 70.4L515.5 70.3L514.2 69.9L513 69.7L512.8 69.6L511.8 69.5L510.6 69.4L509.4 69.3L508.2 69.2L506.9 69.1L505.7 69L504.5 68.9L503.3 68.9L503.3 68.9L502.1 68.9L500.9 68.8L499.6 68.8L498.4 68.7L497.2 68.7L496 68.7L496 68.9L496 69L497.2 69L498.4 69L499.6 69.1L500.9 69.1L502.1 69.2L503.3 69.2L504.5 69.3L505.7 69.3L506.9 69.4L508.2 69.5L509.4 69.6L509.4 69.6L510.6 69.7L511.8 69.8L513 70.1L514.2 70.4L514.2 70.4L515.5 70.7L516.4 71.1L516.7 71.2L517.8 71.8L517.9 71.9L518.5 72.5L518.7 73.3L518.3 74L517.9 74.4L517.5 74.7L516.7 75.3L516.3 75.5L515.5 75.8L514.5 76.2L514.2 76.3L513 76.7L512 76.9L511.8 77L510.6 77.1L509.4 77.3L508.2 77.4L506.9 77.6L506.1 77.7L505.7 77.7L504.5 77.8L503.3 77.9L502.1 78L500.9 78.1L499.6 78.1L498.4 78.2L497.2 78.3L496 78.3L496 78.4L496 78.7Z" fill="#982766" stroke="#982766" stroke-width="0.6" fill-rule="evenodd"/>
<path d="M497.2 78.3L498.4 78.2L499.6 78.1L500.9 78.1L502.1 78L503.3 77.9L504.5 77.8L505.7 77.7L506.1 77.7L506.9 77.6L508.2 77.4L509.4 77.3L510.6 77.1L511.8 77L512 76.9L513 76.7L514.2 76.3L514.5 76.2L515.5 75.8L516.3 75.5L516.7 75.3L517.5 74.7L517.9 74.4L518.3 74L518.7 73.3L518.5 72.5L517.9 71.9L517.8 71.8L516.7 71.2L516.4 71.1L515.5 70.7L514.2 70.4L514.2 70.4L513 70.1L511.8 69.8L510.6 69.7L509.4 69.6L509.4 69.6L508.2 69.5L506.9 69.4L505.7 69.3L504.5 69.3L503.3 69.2L502.1 69.2L500.9 69.1L499.6 69.1L498.4 69L497.2 69L496 69L496 69.3L497.2 69.3L498.4 69.3L499.6 69.4L500.9 69.4L502.1 69.5L503.3 69.5L504.5 69.6L505.2 69.6L505.7 69.7L506.9 69.8L508.2 69.9L509.4 70L510.6 70.1L511.8 70.2L512.5 70.4L513 70.5L514.2 70.8L515 71.1L515.5 71.3L516.6 71.8L516.7 71.9L517.4 72.5L517.6 73.3L517.2 74L516.7 74.5L516.4 74.7L515.5 75.2L515 75.5L514.2 75.8L513.1 76.2L513 76.2L511.8 76.5L510.6 76.7L509.4 76.9L509.1 76.9L508.2 77L506.9 77.2L505.7 77.3L504.5 77.5L503.3 77.6L502.1 77.6L501.8 77.7L500.9 77.7L499.6 77.8L498.4 77.9L497.2 77.9L496 78L496 78.3Z" fill="#8c2369" stroke="#8c2369" stroke-width="0.6" fill-rule="evenodd"/>
<path d="M497.2 77.9L498.4 77.9L499.6 77.8L500.9 77.7L501.8 77.7L502.1 77.6L503.3 77.6L504.5 77.5L505.7 77.3L506.9 77.2L508.2 77L509.1 76.9L509.4 76.9L510.6 76.7L511.8 76.5L513 76.2L513.1 76.2L514.2 75.8L515 75.5L515.5 75.2L516.4 74.7L516.7 74.5L517.2 74L517.6 73.3L517.4 72.5L516.7 71.9L516.6 71.8L515.5 71.3L515 71.1L514.2 70.8L513 70.5L512.5 70.4L511.8 70.2L510.6 70.1L509.4 70L508.2 69.9L506.9 69.8L505.7 69.7L505.2 69.6L504.5 69.6L503.3 69.5L502.1 69.5L500.9 69.4L499.6 69.4L498.4 69.3L497.2 69.3L496 69.3L496 69.5L497.2 69.6L498.4 69.6L498.5 69.6L499.6 69.7L500.9 69.7L502.1 69.8L503.3 69.8L504.5 69.9L505.7 70L506.9 70.1L508.2 70.2L509.4 70.3L509.7 70.4L510.6 70.5L511.8 70.6L513 70.9L513.7 71.1L514.2 71.3L515.4 71.8L515.5 71.9L516.3 72.5L516.5 73.3L516.1 74L515.5 74.5L515.2 74.7L514.2 75.2L513.8 75.5L513 75.7L511.8 76.1L511.3 76.2L510.6 76.3L509.4 76.5L508.2 76.6L506.9 76.8L506 76.9L505.7 77L504.5 77.1L503.3 77.2L502.1 77.3L500.9 77.4L499.6 77.4L498.4 77.5L497.2 77.6L496.3 77.7L496 77.7L496 78Z" fill="#7d1e6d" stroke="#7d1e6d" stroke-width="0.6" fill-rule="evenodd"/>
<path d="M496.3 77.7L497.2 77.6L498.4 77.5L499.6 77.4L500.9 77.4L502.1 77.3L503.3 77.2L504.5 77.1L505.7 77L506 76.9L506.9 76.8L508.2 76.6L509.4 76.5L510.6 76.3L511.3 76.2L511.8 76.1L513 75.7L513.8 75.5L514.2 75.2L515.2 74.7L515.5 74.5L516.1 74L516.5 73.3L516.3 72.5L515.5 71.9L515.4 71.8L514.2 71.3L513.7 71.1L513 70.9L511.8 70.6L510.6 70.5L509.7 70.4L509.4 70.3L508.2 70.2L506.9 70.1L505.7 70L504.5 69.9L503.3 69.8L502.1 69.8L500.9 69.7L499.6 69.7L498.5 69.6L498.4 69.6L497.2 69.6L496 69.5L496 69.6L496 69.8L497.2 69.8L498.4 69.9L499.6 69.9L500.9 70L502.1 70.1L503.3 70.1L504.5 70.2L505.7 70.3L506.3 70.4L506.9 70.4L508.2 70.5L509.4 70.7L510.6 70.8L511.8 71L512.1 71.1L513 71.4L514.1 71.8L514.2 71.9L515.1 72.5L515.4 73.3L515 74L514.2 74.6L514 74.7L513 75.2L512.4 75.5L511.8 75.6L510.6 75.9L509.4 76.1L508.6 76.2L508.2 76.3L506.9 76.4L505.7 76.6L504.5 76.7L503.3 76.8L502.3 76.9L502.1 76.9L500.9 77L499.6 77.1L498.4 77.2L497.2 77.3L496 77.3L496 77.7L496 77.7Z" fill="#6f196e" stroke="#6f196e" stroke-width="0.6" fill-rule="evenodd"/>
<path d="M497.2 77.3L498.4 77.2L499.6 77.1L500.9 77L502.1 76.9L502.3 76.9L503.3 76.8L504.5 76.7L505.7 76.6L506.9 76.4L508.2 76.3L508.6 76.2L509.4 76.1L510.6 75.9L511.8 75.6L512.4 75.5L513 75.2L514 74.7L514.2 74.6L515 74L515.4 73.3L515.1 72.5L514.2 71.9L514.1 71.8L513 71.4L512.1 71.1L511.8 71L510.6 70.8L509.4 70.7L508.2 70.5L506.9 70.4L506.3 70.4L505.7 70.3L504.5 70.2L503.3 70.1L502.1 70.1L500.9 70L499.6 69.9L498.4 69.9L497.2 69.8L496 69.8L496 70.1L497.2 70.1L498.4 70.2L499.6 70.2L500.9 70.3L502.1 70.3L502.1 70.4L503.3 70.4L504.5 70.5L505.7 70.6L506.9 70.8L508.2 70.9L509.4 71.1L509.6 71.1L510.6 71.2L511.8 71.5L512.9 71.8L513 71.9L514 72.5L514.2 73.3L514.3 73.3L514.2 73.3L513.8 74L513 74.6L512.8 74.7L511.8 75.1L510.6 75.4L510.3 75.5L509.4 75.6L508.2 75.8L506.9 76L505.9 76.2L505.7 76.2L504.5 76.4L503.3 76.5L502.1 76.6L500.9 76.7L499.6 76.8L498.4 76.9L497.5 76.9L497.2 76.9L496 77L496 77.3Z" fill="#61136e" stroke="#61136e" stroke-width="0.6" fill-rule="evenodd"/>
<path d="M497.2 76.9L497.5 76.9L498.4 76.9L499.6 76.8L500.9 76.7L502.1 76.6L503.3 76.5L504.5 76.4L505.7 76.2L505.9 76.2L506.9 76L508.2 75.8L509.4 75.6L510.3 75.5L510.6 75.4L511.8 75.1L512.8 74.7L513 74.6L513.8 74L514.2 73.3L514.3 73.3L514.2 73.3L514 72.5L513 71.9L512.9 71.8L511.8 71.5L510.6 71.2L509.6 71.1L509.4 71.1L508.2 70.9L506.9 70.8L505.7 70.6L504.5 70.5L503.3 70.4L502.1 70.4L502.1 70.3L500.9 70.3L499.6 70.2L498.4 70.2L497.2 70.1L496 70.1L496 70.3L496.4 70.4L497.2 70.4L498.4 70.5L499.6 70.5L500.9 70.6L502.1 70.7L503.3 70.7L504.5 70.8L505.7 71L506.8 71.1L506.9 71.1L508.2 71.3L509.4 71.5L510.6 71.7L511.2 71.8L511.8 72L512.8 72.5L513 73L513.2 73.3L513 73.5L512.7 74L511.8 74.5L511.2 74.7L510.6 74.9L509.4 75.1L508.2 75.4L507.9 75.5L506.9 75.6L505.7 75.8L504.5 76L503.3 76.1L502.6 76.2L502.1 76.2L500.9 76.3L499.6 76.4L498.4 76.5L497.2 76.6L496 76.7L496 76.9L496 77Z" fill="#520e6d" stroke="#520e6d" stroke-width="0.6" fill-rule="evenodd"/>
<path d="M497.2 76.6L498.4 76.5L499.6 76.4L500.9 76.3L502.1 76.2L502.6 76.2L503.3 76.1L504.5 76L505.7 75.8L506.9 75.6L507.9 75.5L508.2 75.4L509.4 75.1L510.6 74.9L511.2 74.7L511.8 74.5L512.7 74L513 73.5L513.2 73.3L513 73L512.8 72.5L511.8 72L511.2 71.8L510.6 71.7L509.4 71.5L508.2 71.3L506.9 71.1L506.8 71.1L505.7 71L504.5 70.8L503.3 70.7L502.1 70.7L500.9 70.6L499.6 70.5L498.4 70.5L497.2 70.4L496.4 70.4L496 70.3L496 70.4L496 70.6L497.2 70.7L498.4 70.7L499.6 70.8L500.9 70.9L502.1 71L503.3 71L503.8 71.1L504.5 71.2L505.7 71.3L506.9 71.5L508.2 71.7L508.8 71.8L509.4 72L510.6 72.3L511.3 72.5L511.8 73.2L511.9 73.3L511.8 73.3L511 74L510.6 74.2L509.4 74.6L508.9 74.7L508.2 74.9L506.9 75.2L505.7 75.4L505.4 75.5L504.5 75.6L503.3 75.7L502.1 75.9L500.9 76L499.6 76.1L498.4 76.2L498.4 76.2L497.2 76.3L496 76.4L496 76.7Z" fill="#440a68" stroke="#440a68" stroke-width="0.6" fill-rule="evenodd"/>
<path d="M497.2 76.3L498.4 76.2L498.4 76.2L499.6 76.1L500.9 76L502.1 75.9L503.3 75.7L504.5 75.6L505.4 75.5L505.7 75.4L506.9 75.2L508.2 74.9L508.9 74.7L509.4 74.6L510.6 74.2L511 74L511.8 73.3L511.9 73.3L511.8 73.2L511.3 72.5L510.6 72.3L509.4 72L508.8 71.8L508.2 71.7L506.9 71.5L505.7 71.3L504.5 71.2L503.8 71.1L503.3 71L502.1 71L500.9 70.9L499.6 70.8L498.4 70.7L497.2 70.7L496 70.6L496 70.9L497.2 71L498.4 71L499.3 71.1L499.6 71.1L500.9 71.2L502.1 71.3L503.3 71.4L504.5 71.5L505.7 71.7L506.3 71.8L506.9 72L508.2 72.3L509 72.5L509.4 72.9L509.7 73.3L509.4 73.6L508.8 74L508.2 74.2L506.9 74.6L506.6 74.7L505.7 74.9L504.5 75.2L503.3 75.3L502.3 75.5L502.1 75.5L500.9 75.6L499.6 75.7L498.4 75.8L497.2 75.9L496 76L496 76.2L496 76.4Z" fill="#360961" stroke="#360961" stroke-width="0.6" fill-rule="evenodd"/>
<path d="M497.2 75.9L498.4 75.8L499.6 75.7L500.9 75.6L502.1 75.5L502.3 75.5L503.3 75.3L504.5 75.2L505.7 74.9L506.6 74.7L506.9 74.6L508.2 74.2L508.8 74L509.4 73.6L509.7 73.3L509.4 72.9L509 72.5L508.2 72.3L506.9 72L506.3 71.8L505.7 71.7L504.5 71.5L503.3 71.4L502.1 71.3L500.9 71.2L499.6 71.1L499.3 71.1L498.4 71L497.2 71L496 70.9L496 71.1L496 71.2L497.2 71.3L498.4 71.4L499.6 71.5L500.9 71.6L502.1 71.7L503.3 71.8L503.7 71.8L504.5 72L505.7 72.3L506.8 72.5L506.9 72.7L507.6 73.3L506.9 73.8L506.7 74L505.7 74.3L504.5 74.7L504.3 74.7L503.3 74.9L502.1 75L500.9 75.2L499.6 75.3L498.5 75.5L498.4 75.5L497.2 75.6L496 75.7L496 76Z" fill="#260c51" stroke="#260c51" stroke-width="0.6" fill-rule="evenodd"/>
<path d="M497.2 75.6L498.4 75.5L498.5 75.5L499.6 75.3L500.9 75.2L502.1 75L503.3 74.9L504.3 74.7L504.5 74.7L505.7 74.3L506.7 74L506.9 73.8L507.6 73.3L506.9 72.7L506.8 72.5L505.7 72.3L504.5 72L503.7 71.8L503.3 71.8L502.1 71.7L500.9 71.6L499.6 71.5L498.4 71.4L497.2 71.3L496 71.2L496 71.5L497.2 71.6L498.4 71.7L499.6 71.8L499.8 71.8L500.9 71.9L502.1 72.1L503.3 72.3L504.5 72.5L504.6 72.5L505.4 73.3L504.5 74L504.5 74L503.3 74.3L502.1 74.5L500.9 74.7L500.9 74.7L499.6 74.9L498.4 75L497.2 75.2L496 75.3L496 75.5L496 75.7Z" fill="#180c3c" stroke="#180c3c" stroke-width="0.6" fill-rule="evenodd"/>
<path d="M497.2 75.2L498.4 75L499.6 74.9L500.9 74.7L500.9 74.7L502.1 74.5L503.3 74.3L504.5 74L504.5 74L505.4 73.3L504.6 72.5L504.5 72.5L503.3 72.3L502.1 72.1L500.9 71.9L499.8 71.8L499.6 71.8L498.4 71.7L497.2 71.6L496 71.5L496 71.8L496 71.8L497.2 72L498.4 72.1L499.6 72.3L500.9 72.5L501.3 72.5L502.1 72.9L502.8 73.3L502.1 73.6L501.3 74L500.9 74.1L499.6 74.3L498.4 74.5L497.3 74.7L497.2 74.7L496 74.9L496 75.3Z" fill="#0c0826" stroke="#0c0826" stroke-width="0.6" fill-rule="evenodd"/>
<path d="M497.2 74.7L497.3 74.7L498.4 74.5L499.6 74.3L500.9 74.1L501.3 74L502.1 73.6L502.8 73.3L502.1 72.9L501.3 72.5L500.9 72.5L499.6 72.3L498.4 72.1L497.2 72L496 71.8L496 72.3L497.2 72.5L497.8 72.5L498.4 72.8L499.4 73.3L498.4 73.7L497.9 74L497.2 74.1L496 74.3L496 74.7L496 74.9Z" fill="#040312" stroke="#040312" stroke-width="0.6" fill-rule="evenodd"/>
<path d="M497.2 74.1L497.9 74L498.4 73.7L499.4 73.3L498.4 72.8L497.8 72.5L497.2 72.5L496 72.3L496 72.5L496 73.3L496 74L496 74.3Z" fill="#000004" stroke="#000004" stroke-width="0.6" fill-rule="evenodd"/>
<path d="M496 85.9L497.2 85.8L498.4 85.8L499.6 85.7L500.9 85.7L501.3 85.7L502.1 85.7L503.3 85.6L504.5 85.6L505.7 85.5L506.9 85.4L508.2 85.4L509.4 85.3L510.6 85.2L511.8 85.1L513 85L513.2 85L514.2 84.8L515.5 84.6L516.7 84.5L517.9 84.3L518.1 84.2L519.1 84.1L520.3 83.9L521.5 83.7L522.8 83.5L522.8 83.5L524 83.3L525.2 83.1L526.4 82.9L527.2 82.8L527.6 82.7L528.9 82.5L530.1 82.3L531.3 82.1L531.5 82L532.5 81.9L533.7 81.6L534.9 81.4L535.2 81.3L536.1 81.1L537.4 80.9L538.6 80.9L539.8 80.8L541 80.7L542.2 80.6L542.9 80.6L543.5 80.5L544.7 80.5L545.9 80.4L547.1 80.4L548.3 80.4L549.5 80.3L550.8 80.3L552 80.3L553.2 80.2L554.4 80.1L555.6 80L556.8 80L558 79.9L558.4 79.8L559.3 79.8L560.5 79.7L561.7 79.6L562.9 79.5L564.1 79.3L565.4 79.2L566.4 79.1L566.6 79.1L567.8 79L569 78.8L570.2 78.7L571.4 78.5L572.4 78.4L572.6 78.3L573.9 78.2L575.1 77.9L576.3 77.7L576.5 77.7L577.5 77.4L578.7 77.1L579.3 76.9L580 76.7L581.2 76.3L581.4 76.2L582.4 75.7L582.9 75.5L583.6 75L583.9 74.7L584.6 74L584.8 73.7L585.1 73.3L585.3 72.5L585.2 71.8L584.8 71.3L584.7 71.1L584 70.4L583.6 70.1L583 69.6L582.4 69.2L581.8 68.9L581.2 68.6L580.3 68.2L580 68L578.7 67.5L578.5 67.4L577.5 67.1L576.4 66.7L576.3 66.7L575.1 66.3L574.1 66L573.9 65.9L572.6 65.6L571.4 65.2L571.4 65.2L570.2 64.9L569 64.6L568.3 64.5L567.8 64.4L566.6 64.2L565.4 64L564.1 63.8L563.7 63.8L562.9 63.7L561.7 63.5L560.5 63.3L559.3 63.2L558.4 63.1L558 63L556.8 62.8L555.6 62.7L554.4 62.5L553.2 62.4L552.4 62.3L552 62.3L550.8 62.2L549.5 62L548.3 61.9L547.1 61.8L545.9 61.7L544.7 61.6L543.5 61.7L542.2 61.8L541 61.8L539.8 61.9L538.6 62L537.4 62.1L536.1 62.1L534.9 62.1L533.7 62.2L532.5 62.2L531.3 62.2L530.1 62.2L528.9 62.2L527.6 62.3L526.4 62.3L525.2 62.3L524 62.3L523.4 62.3L522.8 62.3L521.5 62.3L520.3 62.4L519.1 62.3L518.6 62.3L517.9 62.3L516.7 62.3L515.5 62.3L514.2 62.2L513 62.2L511.8 62.2L510.6 62.3L509.4 62.3L508.8 62.3L508.2 62.3L506.9 62.4L505.7 62.4L504.5 62.4L503.3 62.5L502.1 62.5L500.9 62.6L499.6 62.6L498.4 62.7L497.2 62.7L496 62.7" fill="none" stroke="#555" stroke-width="0.6" opacity="0.9"/>
<path d="M496 83.3L497.2 83.2L498.4 83.2L499.6 83.1L500.9 83.1L502.1 83L503.3 83L504.5 82.9L505.7 82.9L506.9 82.8L507 82.8L508.2 82.7L509.4 82.6L510.6 82.5L511.8 82.4L513 82.3L514.2 82.1L514.5 82L515.5 81.9L516.7 81.7L517.9 81.4L518.5 81.3L519.1 81.2L520.3 80.9L521.5 80.7L522 80.6L522.8 80.4L524 80.1L525.2 79.8L525.2 79.8L526.4 79.5L527.6 79.1L527.6 79.1L528.9 78.7L530 78.4L530.1 78.4L531.3 78L532.3 77.7L532.5 77.6L533.7 77.1L534 76.9L534.9 76.4L535.3 76.2L536.1 75.6L536.5 75.5L537.4 75.1L538.6 75L539.8 74.9L541 74.7L541 74.7L542.2 74.6L543.5 74.4L544.7 74.3L545.9 74.1L546.5 74L547.1 73.9L548.3 73.6L549.5 73.4L550 73.3L550.8 73.1L552 72.7L552.4 72.5L553.2 72.1L553.6 71.8L554.3 71.1L554.4 70.4L553.9 69.6L553.2 69.2L552.7 68.9L552 68.6L550.8 68.2L550.7 68.2L549.5 67.9L548.3 67.5L547.9 67.4L547.1 67.3L545.9 67L544.7 66.7L543.5 66.8L542.2 66.8L541 66.8L539.8 66.9L538.6 66.9L537.4 66.9L536.1 66.9L535.2 66.7L534.9 66.7L533.7 66.5L532.5 66.4L531.3 66.2L530.1 66.1L528.9 66L528.1 66L527.6 65.9L526.4 65.8L525.2 65.7L524 65.6L522.8 65.5L521.5 65.4L520.3 65.4L519.1 65.3L518.9 65.2L517.9 65.1L516.7 65.1L515.5 65L514.2 64.9L513 64.8L511.8 64.8L510.6 64.8L509.4 64.8L508.2 64.8L506.9 64.8L505.7 64.8L504.5 64.8L503.3 64.8L502.1 64.8L500.9 64.8L499.6 64.8L498.4 64.9L497.2 64.9L496 64.9" fill="none" stroke="#555" stroke-width="0.6" opacity="0.9"/>
<path d="M496 81L497.2 81L498.4 80.9L499.6 80.9L500.9 80.8L502.1 80.8L503.3 80.7L504.5 80.6L505.1 80.6L505.7 80.5L506.9 80.4L508.2 80.3L509.4 80.2L510.6 80.1L511.8 80L513 79.8L513 79.8L514.2 79.6L515.5 79.3L516.4 79.1L516.7 79.1L517.9 78.7L519.1 78.4L519.1 78.4L520.3 78L521.5 77.7L521.5 77.6L522.8 77.2L523.6 76.9L524 76.8L525.2 76.2L525.2 76.2L526.4 75.5L526.4 75.5L527.3 74.7L527.6 74.3L527.9 74L528.2 73.3L528.3 72.5L528.1 71.8L527.6 71.2L527.5 71.1L526.6 70.4L526.4 70.2L525.2 69.6L525.1 69.6L524 69.2L522.8 68.9L522.7 68.9L521.5 68.6L520.3 68.4L519.3 68.2L519.1 68.1L517.9 67.9L516.7 67.7L515.5 67.5L515.1 67.4L514.2 67.3L513 67.2L511.8 67L510.6 67L509.4 67L508.2 66.9L506.9 66.9L505.7 66.9L504.5 66.8L503.3 66.8L502.1 66.8L500.9 66.8L499.6 66.8L498.4 66.8L497.2 66.8L496 66.8" fill="none" stroke="#555" stroke-width="0.6" opacity="0.9"/>
<path d="M496 79.1L496.5 79.1L497.2 79.1L498.4 79L499.6 79L500.9 78.9L502.1 78.8L503.3 78.8L504.5 78.7L505.7 78.6L506.9 78.4L507.6 78.4L508.2 78.3L509.4 78.2L510.6 78.1L511.8 77.9L513 77.7L513.2 77.7L514.2 77.4L515.5 77L515.7 76.9L516.7 76.6L517.7 76.2L517.9 76.1L519.1 75.5L519.2 75.5L520.2 74.7L520.3 74.6L521 74L521.5 73.3L521.4 72.5L520.6 71.8L520.3 71.7L519.5 71.1L519.1 70.9L517.9 70.4L517.8 70.4L516.7 70L515.5 69.7L515.3 69.6L514.2 69.4L513 69.2L511.8 69L510.6 68.9L510.5 68.9L509.4 68.8L508.2 68.7L506.9 68.7L505.7 68.6L504.5 68.5L503.3 68.5L502.1 68.4L500.9 68.4L499.6 68.4L498.4 68.4L497.2 68.3L496 68.3" fill="none" stroke="#555" stroke-width="0.6" opacity="0.9"/>
<path d="M496 77.5L497.2 77.4L498.4 77.4L499.6 77.3L500.9 77.2L502.1 77.1L503.3 77L504.5 76.9L504.5 76.9L505.7 76.8L506.9 76.6L508.2 76.5L509.4 76.3L509.9 76.2L510.6 76.1L511.8 75.9L513 75.5L513.1 75.5L514.2 74.9L514.6 74.7L515.5 74.1L515.5 74L515.9 73.3L515.7 72.5L515.5 72.4L514.8 71.8L514.2 71.6L513 71.1L513 71.1L511.8 70.8L510.6 70.6L509.4 70.5L508.2 70.4L508 70.4L506.9 70.2L505.7 70.1L504.5 70L503.3 70L502.1 69.9L500.9 69.9L499.6 69.8L498.4 69.8L497.2 69.7L496 69.7" fill="none" stroke="#555" stroke-width="0.6" opacity="0.9"/>
</g>
<rect x="496" y="13.4" width="146" height="145.3" fill="none" stroke="#3a3a3a" stroke-width="1" />
<line x1="493" y1="147.52" x2="496" y2="147.52" stroke="#3a3a3a" stroke-width="0.9" />
<text x="491.6" y="150.96" font-size="9.6" text-anchor="end" fill="#222" textLength="17.5" lengthAdjust="spacingAndGlyphs"  stroke="#222" stroke-width="0.1">1.35</text>
<line x1="493" y1="125.17" x2="496" y2="125.17" stroke="#3a3a3a" stroke-width="0.9" />
<text x="491.6" y="128.61" font-size="9.6" text-anchor="end" fill="#222" textLength="17.5" lengthAdjust="spacingAndGlyphs"  stroke="#222" stroke-width="0.1">1.40</text>
<line x1="493" y1="102.82" x2="496" y2="102.82" stroke="#3a3a3a" stroke-width="0.9" />
<text x="491.6" y="106.25" font-size="9.6" text-anchor="end" fill="#222" textLength="17.5" lengthAdjust="spacingAndGlyphs"  stroke="#222" stroke-width="0.1">1.45</text>
<line x1="493" y1="80.46" x2="496" y2="80.46" stroke="#3a3a3a" stroke-width="0.9" />
<text x="491.6" y="83.9" font-size="9.6" text-anchor="end" fill="#222" textLength="17.5" lengthAdjust="spacingAndGlyphs"  stroke="#222" stroke-width="0.1">1.50</text>
<line x1="493" y1="58.11" x2="496" y2="58.11" stroke="#3a3a3a" stroke-width="0.9" />
<text x="491.6" y="61.54" font-size="9.6" text-anchor="end" fill="#222" textLength="17.5" lengthAdjust="spacingAndGlyphs"  stroke="#222" stroke-width="0.1">1.55</text>
<line x1="493" y1="35.75" x2="496" y2="35.75" stroke="#3a3a3a" stroke-width="0.9" />
<text x="491.6" y="39.19" font-size="9.6" text-anchor="end" fill="#222" textLength="17.5" lengthAdjust="spacingAndGlyphs"  stroke="#222" stroke-width="0.1">1.60</text>
<line x1="493" y1="13.4" x2="496" y2="13.4" stroke="#3a3a3a" stroke-width="0.9" />
<text x="491.6" y="16.84" font-size="9.6" text-anchor="end" fill="#222" textLength="17.5" lengthAdjust="spacingAndGlyphs"  stroke="#222" stroke-width="0.1">1.65</text>
<line x1="494.2" y1="136.35" x2="496" y2="136.35" stroke="#3a3a3a" stroke-width="0.8" />
<line x1="494.2" y1="113.99" x2="496" y2="113.99" stroke="#3a3a3a" stroke-width="0.8" />
<line x1="494.2" y1="91.64" x2="496" y2="91.64" stroke="#3a3a3a" stroke-width="0.8" />
<line x1="494.2" y1="69.28" x2="496" y2="69.28" stroke="#3a3a3a" stroke-width="0.8" />
<line x1="494.2" y1="46.93" x2="496" y2="46.93" stroke="#3a3a3a" stroke-width="0.8" />
<line x1="494.2" y1="24.58" x2="496" y2="24.58" stroke="#3a3a3a" stroke-width="0.8" />
<line x1="512.22" y1="158.7" x2="512.22" y2="161.7" stroke="#3a3a3a" stroke-width="0.9" />
<text x="512.22" y="170.84" font-size="9.6" text-anchor="middle" fill="#222"  stroke="#222" stroke-width="0.1">40</text>
<line x1="544.67" y1="158.7" x2="544.67" y2="161.7" stroke="#3a3a3a" stroke-width="0.9" />
<text x="544.67" y="170.84" font-size="9.6" text-anchor="middle" fill="#222"  stroke="#222" stroke-width="0.1">80</text>
<line x1="577.11" y1="158.7" x2="577.11" y2="161.7" stroke="#3a3a3a" stroke-width="0.9" />
<text x="577.11" y="170.84" font-size="9.6" text-anchor="middle" fill="#222"  stroke="#222" stroke-width="0.1">120</text>
<line x1="609.56" y1="158.7" x2="609.56" y2="161.7" stroke="#3a3a3a" stroke-width="0.9" />
<text x="609.56" y="170.84" font-size="9.6" text-anchor="middle" fill="#222"  stroke="#222" stroke-width="0.1">160</text>
<line x1="642" y1="158.7" x2="642" y2="161.7" stroke="#3a3a3a" stroke-width="0.9" />
<text x="642" y="170.84" font-size="9.6" text-anchor="middle" fill="#222"  stroke="#222" stroke-width="0.1">200</text>
<line x1="496" y1="158.7" x2="496" y2="160.5" stroke="#3a3a3a" stroke-width="0.8" />
<line x1="528.44" y1="158.7" x2="528.44" y2="160.5" stroke="#3a3a3a" stroke-width="0.8" />
<line x1="560.89" y1="158.7" x2="560.89" y2="160.5" stroke="#3a3a3a" stroke-width="0.8" />
<line x1="593.33" y1="158.7" x2="593.33" y2="160.5" stroke="#3a3a3a" stroke-width="0.8" />
<line x1="625.78" y1="158.7" x2="625.78" y2="160.5" stroke="#3a3a3a" stroke-width="0.8" />
<rect x="649.4" y="13.4" width="14.4" height="3.6" fill="#fff" stroke="none" stroke-width="1" />
<rect x="649.4" y="156.5" width="14.4" height="2.3" fill="#000" stroke="none" stroke-width="1" />
<rect x="649.4" y="154.95" width="14.4" height="1.9" fill="#fcffa4" stroke="none" stroke-width="1" />
<rect x="649.4" y="153.4" width="14.4" height="1.9" fill="#f9fc9d" stroke="none" stroke-width="1" />
<rect x="649.4" y="151.85" width="14.4" height="1.9" fill="#f5f992" stroke="none" stroke-width="1" />
<rect x="649.4" y="150.3" width="14.4" height="1.9" fill="#f3f586" stroke="none" stroke-width="1" />
<rect x="649.4" y="148.75" width="14.4" height="1.9" fill="#f1f179" stroke="none" stroke-width="1" />
<rect x="649.4" y="147.2" width="14.4" height="1.9" fill="#f1ec6d" stroke="none" stroke-width="1" />
<rect x="649.4" y="145.65" width="14.4" height="1.9" fill="#f2e661" stroke="none" stroke-width="1" />
<rect x="649.4" y="144.1" width="14.4" height="1.9" fill="#f4e156" stroke="none" stroke-width="1" />
<rect x="649.4" y="142.55" width="14.4" height="1.9" fill="#f5db4c" stroke="none" stroke-width="1" />
<rect x="649.4" y="141" width="14.4" height="1.9" fill="#f6d746" stroke="none" stroke-width="1" />
<rect x="649.4" y="139.45" width="14.4" height="1.9" fill="#f7d13d" stroke="none" stroke-width="1" />
<rect x="649.4" y="137.9" width="14.4" height="1.9" fill="#f9cb35" stroke="none" stroke-width="1" />
<rect x="649.4" y="136.35" width="14.4" height="1.9" fill="#fac62d" stroke="none" stroke-width="1" />
<rect x="649.4" y="134.8" width="14.4" height="1.9" fill="#fac026" stroke="none" stroke-width="1" />
<rect x="649.4" y="133.25" width="14.4" height="1.9" fill="#fbba1f" stroke="none" stroke-width="1" />
<rect x="649.4" y="131.7" width="14.4" height="1.9" fill="#fcb418" stroke="none" stroke-width="1" />
<rect x="649.4" y="130.15" width="14.4" height="1.9" fill="#fcae12" stroke="none" stroke-width="1" />
<rect x="649.4" y="128.6" width="14.4" height="1.9" fill="#fcaa0f" stroke="none" stroke-width="1" />
<rect x="649.4" y="127.05" width="14.4" height="1.9" fill="#fca50a" stroke="none" stroke-width="1" />
<rect x="649.4" y="125.5" width="14.4" height="1.9" fill="#fc9f07" stroke="none" stroke-width="1" />
<rect x="649.4" y="123.95" width="14.4" height="1.9" fill="#fb9906" stroke="none" stroke-width="1" />
<rect x="649.4" y="122.4" width="14.4" height="1.9" fill="#fa9407" stroke="none" stroke-width="1" />
<rect x="649.4" y="120.85" width="14.4" height="1.9" fill="#f98e09" stroke="none" stroke-width="1" />
<rect x="649.4" y="119.3" width="14.4" height="1.9" fill="#f8890c" stroke="none" stroke-width="1" />
<rect x="649.4" y="117.75" width="14.4" height="1.9" fill="#f78410" stroke="none" stroke-width="1" />
<rect x="649.4" y="116.2" width="14.4" height="1.9" fill="#f68013" stroke="none" stroke-width="1" />
<rect x="649.4" y="114.65" width="14.4" height="1.9" fill="#f57b17" stroke="none" stroke-width="1" />
<rect x="649.4" y="113.1" width="14.4" height="1.9" fill="#f3761b" stroke="none" stroke-width="1" />
<rect x="649.4" y="111.55" width="14.4" height="1.9" fill="#f1711f" stroke="none" stroke-width="1" />
<rect x="649.4" y="110" width="14.4" height="1.9" fill="#ef6c23" stroke="none" stroke-width="1" />
<rect x="649.4" y="108.45" width="14.4" height="1.9" fill="#ec6726" stroke="none" stroke-width="1" />
<rect x="649.4" y="106.9" width="14.4" height="1.9" fill="#ea632a" stroke="none" stroke-width="1" />
<rect x="649.4" y="105.35" width="14.4" height="1.9" fill="#e75e2e" stroke="none" stroke-width="1" />
<rect x="649.4" y="103.8" width="14.4" height="1.9" fill="#e55c30" stroke="none" stroke-width="1" />
<rect x="649.4" y="102.25" width="14.4" height="1.9" fill="#e25734" stroke="none" stroke-width="1" />
<rect x="649.4" y="100.7" width="14.4" height="1.9" fill="#df5337" stroke="none" stroke-width="1" />
<rect x="649.4" y="99.15" width="14.4" height="1.9" fill="#db503b" stroke="none" stroke-width="1" />
<rect x="649.4" y="97.6" width="14.4" height="1.9" fill="#d84c3e" stroke="none" stroke-width="1" />
<rect x="649.4" y="96.05" width="14.4" height="1.9" fill="#d44842" stroke="none" stroke-width="1" />
<rect x="649.4" y="94.5" width="14.4" height="1.9" fill="#d04545" stroke="none" stroke-width="1" />
<rect x="649.4" y="92.95" width="14.4" height="1.9" fill="#cc4248" stroke="none" stroke-width="1" />
<rect x="649.4" y="91.4" width="14.4" height="1.9" fill="#ca404a" stroke="none" stroke-width="1" />
<rect x="649.4" y="89.85" width="14.4" height="1.9" fill="#c63d4d" stroke="none" stroke-width="1" />
<rect x="649.4" y="88.3" width="14.4" height="1.9" fill="#c13a50" stroke="none" stroke-width="1" />
<rect x="649.4" y="86.75" width="14.4" height="1.9" fill="#bd3853" stroke="none" stroke-width="1" />
<rect x="649.4" y="85.2" width="14.4" height="1.9" fill="#b93556" stroke="none" stroke-width="1" />
<rect x="649.4" y="83.65" width="14.4" height="1.9" fill="#b43359" stroke="none" stroke-width="1" />
<rect x="649.4" y="82.1" width="14.4" height="1.9" fill="#b0315b" stroke="none" stroke-width="1" />
<rect x="649.4" y="80.55" width="14.4" height="1.9" fill="#ab2f5e" stroke="none" stroke-width="1" />
<rect x="649.4" y="79" width="14.4" height="1.9" fill="#a82e5f" stroke="none" stroke-width="1" />
<rect x="649.4" y="77.45" width="14.4" height="1.9" fill="#a32c61" stroke="none" stroke-width="1" />
<rect x="649.4" y="75.9" width="14.4" height="1.9" fill="#9f2a63" stroke="none" stroke-width="1" />
<rect x="649.4" y="74.35" width="14.4" height="1.9" fill="#9a2865" stroke="none" stroke-width="1" />
<rect x="649.4" y="72.8" width="14.4" height="1.9" fill="#952667" stroke="none" stroke-width="1" />
<rect x="649.4" y="71.25" width="14.4" height="1.9" fill="#902568" stroke="none" stroke-width="1" />
<rect x="649.4" y="69.7" width="14.4" height="1.9" fill="#8c2369" stroke="none" stroke-width="1" />
<rect x="649.4" y="68.15" width="14.4" height="1.9" fill="#87216b" stroke="none" stroke-width="1" />
<rect x="649.4" y="66.6" width="14.4" height="1.9" fill="#84206b" stroke="none" stroke-width="1" />
<rect x="649.4" y="65.05" width="14.4" height="1.9" fill="#7f1e6c" stroke="none" stroke-width="1" />
<rect x="649.4" y="63.5" width="14.4" height="1.9" fill="#7a1d6d" stroke="none" stroke-width="1" />
<rect x="649.4" y="61.95" width="14.4" height="1.9" fill="#751b6e" stroke="none" stroke-width="1" />
<rect x="649.4" y="60.4" width="14.4" height="1.9" fill="#71196e" stroke="none" stroke-width="1" />
<rect x="649.4" y="58.85" width="14.4" height="1.9" fill="#6c186e" stroke="none" stroke-width="1" />
<rect x="649.4" y="57.3" width="14.4" height="1.9" fill="#67166e" stroke="none" stroke-width="1" />
<rect x="649.4" y="55.75" width="14.4" height="1.9" fill="#62146e" stroke="none" stroke-width="1" />
<rect x="649.4" y="54.2" width="14.4" height="1.9" fill="#5f136e" stroke="none" stroke-width="1" />
<rect x="649.4" y="52.65" width="14.4" height="1.9" fill="#5a116e" stroke="none" stroke-width="1" />
<rect x="649.4" y="51.1" width="14.4" height="1.9" fill="#550f6d" stroke="none" stroke-width="1" />
<rect x="649.4" y="49.55" width="14.4" height="1.9" fill="#510e6c" stroke="none" stroke-width="1" />
<rect x="649.4" y="48" width="14.4" height="1.9" fill="#4c0c6b" stroke="none" stroke-width="1" />
<rect x="649.4" y="46.45" width="14.4" height="1.9" fill="#470b6a" stroke="none" stroke-width="1" />
<rect x="649.4" y="44.9" width="14.4" height="1.9" fill="#420a68" stroke="none" stroke-width="1" />
<rect x="649.4" y="43.35" width="14.4" height="1.9" fill="#3d0965" stroke="none" stroke-width="1" />
<rect x="649.4" y="41.8" width="14.4" height="1.9" fill="#390963" stroke="none" stroke-width="1" />
<rect x="649.4" y="40.25" width="14.4" height="1.9" fill="#340a5f" stroke="none" stroke-width="1" />
<rect x="649.4" y="38.7" width="14.4" height="1.9" fill="#2f0a5b" stroke="none" stroke-width="1" />
<rect x="649.4" y="37.15" width="14.4" height="1.9" fill="#290b55" stroke="none" stroke-width="1" />
<rect x="649.4" y="35.6" width="14.4" height="1.9" fill="#240c4f" stroke="none" stroke-width="1" />
<rect x="649.4" y="34.05" width="14.4" height="1.9" fill="#1f0c48" stroke="none" stroke-width="1" />
<rect x="649.4" y="32.5" width="14.4" height="1.9" fill="#1b0c41" stroke="none" stroke-width="1" />
<rect x="649.4" y="30.95" width="14.4" height="1.9" fill="#160b39" stroke="none" stroke-width="1" />
<rect x="649.4" y="29.4" width="14.4" height="1.9" fill="#140b34" stroke="none" stroke-width="1" />
<rect x="649.4" y="27.85" width="14.4" height="1.9" fill="#10092d" stroke="none" stroke-width="1" />
<rect x="649.4" y="26.3" width="14.4" height="1.9" fill="#0c0826" stroke="none" stroke-width="1" />
<rect x="649.4" y="24.75" width="14.4" height="1.9" fill="#09061f" stroke="none" stroke-width="1" />
<rect x="649.4" y="23.2" width="14.4" height="1.9" fill="#060419" stroke="none" stroke-width="1" />
<rect x="649.4" y="21.65" width="14.4" height="1.9" fill="#040312" stroke="none" stroke-width="1" />
<rect x="649.4" y="20.1" width="14.4" height="1.9" fill="#02020c" stroke="none" stroke-width="1" />
<rect x="649.4" y="18.55" width="14.4" height="1.9" fill="#010106" stroke="none" stroke-width="1" />
<rect x="649.4" y="17" width="14.4" height="1.9" fill="#000004" stroke="none" stroke-width="1" />
<rect x="649.4" y="13.4" width="14.4" height="145.4" fill="none" stroke="#888" stroke-width="0.8" />
<line x1="663.8" y1="17" x2="666.3" y2="17" stroke="#666" stroke-width="0.8" />
<text x="671" y="17.01" font-size="7.3" text-anchor="start" fill="#333"  stroke="#333" stroke-width="0.1">44k</text>
<line x1="663.8" y1="34.44" x2="666.3" y2="34.44" stroke="#666" stroke-width="0.8" />
<text x="671" y="34.45" font-size="7.3" text-anchor="start" fill="#333"  stroke="#333" stroke-width="0.1">38k</text>
<line x1="663.8" y1="51.88" x2="666.3" y2="51.88" stroke="#666" stroke-width="0.8" />
<text x="671" y="51.89" font-size="7.3" text-anchor="start" fill="#333"  stroke="#333" stroke-width="0.1">33k</text>
<line x1="663.8" y1="69.31" x2="666.3" y2="69.31" stroke="#666" stroke-width="0.8" />
<text x="671" y="69.33" font-size="7.3" text-anchor="start" fill="#333"  stroke="#333" stroke-width="0.1">27k</text>
<line x1="663.8" y1="86.75" x2="666.3" y2="86.75" stroke="#666" stroke-width="0.8" />
<text x="671" y="86.76" font-size="7.3" text-anchor="start" fill="#333"  stroke="#333" stroke-width="0.1">22k</text>
<line x1="663.8" y1="104.19" x2="666.3" y2="104.19" stroke="#666" stroke-width="0.8" />
<text x="671" y="104.2" font-size="7.3" text-anchor="start" fill="#333"  stroke="#333" stroke-width="0.1">16k</text>
<line x1="663.8" y1="121.62" x2="666.3" y2="121.62" stroke="#666" stroke-width="0.8" />
<text x="671" y="121.64" font-size="7.3" text-anchor="start" fill="#333"  stroke="#333" stroke-width="0.1">11k</text>
<line x1="663.8" y1="139.06" x2="666.3" y2="139.06" stroke="#666" stroke-width="0.8" />
<text x="671" y="139.08" font-size="7.3" text-anchor="start" fill="#333"  stroke="#333" stroke-width="0.1">5k</text>
<line x1="663.8" y1="156.5" x2="666.3" y2="156.5" stroke="#666" stroke-width="0.8" />
<text x="671" y="156.51" font-size="7.3" text-anchor="start" fill="#333"  stroke="#333" stroke-width="0.1">-200</text>
<text x="641.9" y="7.11" font-size="9.8" text-anchor="middle" fill="#222" textLength="37.2" lengthAdjust="spacingAndGlyphs"  stroke="#222" stroke-width="0.1">Intensity</text>
<text x="583.7" y="26.55" font-size="10.2" text-anchor="start" fill="#111" textLength="55.3" lengthAdjust="spacingAndGlyphs"  stroke="#111" stroke-width="0.1">Vacuum, 0 h</text>
<text x="569" y="184.58" font-size="10" text-anchor="middle" fill="#222" textLength="75" lengthAdjust="spacingAndGlyphs"  stroke="#222" stroke-width="0.1">Temperature (K)</text>
<text x="464.6" y="89.49" font-size="9.6" text-anchor="middle" fill="#222" transform="rotate(-90 464.6 86.05)" textLength="52.3" lengthAdjust="spacingAndGlyphs"  stroke="#222" stroke-width="0.1">Energy (eV)</text>
<line x1="617.3" y1="37" x2="614.28" y2="49.31" stroke="#111" stroke-width="0.85" />
<polygon points="613.4,52.9 612.56,48.37 616.25,49.27" fill="#111"/>
<line x1="533.3" y1="98.8" x2="529.97" y2="86.47" stroke="#111" stroke-width="0.85" />
<polygon points="529,82.9 531.93,86.46 528.26,87.45" fill="#111"/>
<defs><clipPath id="hc39"><rect x="39.3" y="191.2" width="142.1" height="142.2"/></clipPath></defs>
<g clip-path="url(#hc39)">
<rect x="39.3" y="191.2" width="142.1" height="142.2" fill="#fcffa4" stroke="none" stroke-width="1" />
<path d="M40.5 333.4L41.7 333.4L42.9 333.4L44 333.4L45.2 333.4L46.4 333.4L47.6 333.4L48.8 333.4L50 333.4L51.1 333.4L52.3 333.4L53.5 333.4L54.7 333.4L55.9 333.4L57.1 333.4L58.2 333.4L59.4 333.4L60.6 333.4L61.8 333.4L63 333.4L64.2 333.4L65.4 333.4L66.5 333.4L67.7 333.4L68.9 333.4L70.1 333.4L71.3 333.4L72.5 333.4L73.6 333.4L74.8 333.4L76 333.4L77.2 333.4L78.4 333.4L79.6 333.4L80.7 333.4L81.9 333.4L83.1 333.4L84.3 333.4L85.5 333.4L86.7 333.4L87.9 333.4L89 333.4L90.2 333.4L91.4 333.4L92.6 333.4L93.8 333.4L95 333.4L96.1 333.4L97.3 333.4L98.5 333.4L99.7 333.4L100.9 333.4L102.1 333.4L103.2 333.4L104.4 333.4L105.6 333.4L106.8 333.4L108 333.4L109.2 333.4L110.4 333.4L111.5 333.4L112.7 333.4L113.9 333.4L115.1 333.4L116.3 333.4L117.5 333.4L118.6 333.4L119.8 333.4L121 333.4L122.2 333.4L123.4 333.4L124.6 333.4L125.7 333.4L126.9 333.4L128.1 333.4L129.3 333.4L130.5 333.4L131.7 333.4L132.8 333.4L134 333.4L135.2 333.4L136.4 333.4L137.6 333.4L138.8 333.4L140 333.4L141.1 333.4L142.3 333.4L143.5 333.4L144.7 333.4L145.9 333.4L147.1 333.4L148.2 333.4L149.4 333.4L150.6 333.4L151.8 333.4L153 333.4L154.2 333.4L155.3 333.4L156.5 333.4L157.7 333.4L158.9 333.4L160.1 333.4L161.3 333.4L162.5 333.4L163.6 333.4L164.8 333.4L166 333.4L167.2 333.4L168.4 333.4L169.6 333.4L170.7 333.4L171.9 333.4L173.1 333.4L174.3 333.4L175.5 333.4L176.7 333.4L177.8 333.4L179 333.4L180.2 333.4L181.4 333.4L181.4 332.7L181.4 332L181.4 331.3L181.4 330.5L181.4 329.8L181.4 329.1L181.4 328.4L181.4 327.7L181.4 327L181.4 326.3L181.4 325.5L181.4 324.8L181.4 324.1L181.4 323.4L181.4 322.7L181.4 322L181.4 321.3L181.4 320.5L181.4 319.8L181.4 319.1L181.4 318.4L181.4 317.7L181.4 317L181.4 316.3L181.4 315.5L181.4 314.8L181.4 314.1L181.4 313.4L181.4 312.7L181.4 312L181.4 311.2L181.4 310.5L181.4 309.8L181.4 309.1L181.4 308.4L181.4 307.7L181.4 307L181.4 306.2L181.4 305.5L181.4 304.8L181.4 304.1L181.4 303.4L181.4 302.7L181.4 302L181.4 301.2L181.4 300.5L181.4 299.8L181.4 299.1L181.4 298.4L181.4 297.7L181.4 297L181.4 296.2L181.4 295.5L181.4 294.8L181.4 294.1L181.4 293.4L181.4 292.7L181.4 292L181.4 291.2L181.4 290.5L181.4 289.8L181.4 289.1L181.4 288.4L181.4 287.7L181.4 287L181.4 286.2L181.4 285.5L181.4 284.8L181.4 284.1L181.4 283.4L181.4 282.7L181.4 282L181.4 281.2L181.4 280.5L181.4 279.8L181.4 279.1L181.4 278.4L181.4 277.7L181.4 276.9L181.4 276.2L181.4 275.5L181.4 274.8L181.4 274.1L181.4 273.4L181.4 272.7L181.4 272L180.2 272.1L179 272.3L177.8 272.4L176.7 272.6L176.1 272.7L175.5 272.7L174.3 272.9L173.1 273L171.9 273.1L170.7 273.3L169.6 273.4L169.6 273.4L168.4 273.5L167.2 273.6L166 273.7L164.8 273.8L163.6 274L163.3 274.1L162.5 274.2L161.3 274.4L160.1 274.6L158.9 274.8L158.8 274.8L157.7 275L156.5 275.1L155.3 275.3L154.2 275.5L154.1 275.5L153 275.7L151.8 275.9L150.6 276.1L149.4 276.2L149.2 276.2L148.2 276.4L147.1 276.5L145.9 276.7L144.7 276.8L143.7 276.9L143.5 277L142.3 277.1L141.1 277.2L140 277.4L138.8 277.4L137.6 277.5L136.4 277.5L135.2 277.5L134 277.6L132.8 277.6L131.7 277.6L130.5 277.6L129.3 277.6L128.1 277.5L126.9 277.5L125.7 277.5L124.6 277.4L123.4 277.4L122.2 277.4L121 277.4L119.8 277.4L118.6 277.4L117.5 277.4L116.3 277.4L115.1 277.4L113.9 277.4L112.7 277.3L111.5 277.3L110.4 277.2L109.2 277.2L108 277.1L106.8 277.1L105.6 277L104.4 277L104.3 276.9L103.2 276.9L102.1 276.9L100.9 276.8L99.7 276.8L98.5 276.7L97.3 276.7L96.1 276.6L95 276.6L93.8 276.6L92.6 276.6L91.4 276.6L90.2 276.6L89 276.6L87.9 276.6L86.7 276.6L85.5 276.6L84.3 276.7L83.1 276.7L81.9 276.7L80.7 276.7L79.6 276.8L78.4 276.8L77.2 276.9L76 276.9L74.8 276.9L74.8 276.9L73.6 277L72.5 277.1L71.3 277.1L70.1 277.2L68.9 277.3L67.7 277.4L66.5 277.4L65.4 277.5L64.2 277.6L63 277.6L61.8 277.6L60.6 277.6L59.4 277.6L58.2 277.7L57.5 277.7L57.1 277.7L55.9 277.7L54.7 277.8L53.5 277.8L52.3 277.9L51.1 278L50 278L48.8 278.1L47.6 278.2L46.4 278.2L45.2 278.2L44 278.3L42.9 278.3L41.9 278.4L41.7 278.4L40.5 278.5L39.3 278.5L39.3 279.1L39.3 279.8L39.3 280.5L39.3 281.2L39.3 282L39.3 282.7L39.3 283.4L39.3 284.1L39.3 284.8L39.3 285.5L39.3 286.2L39.3 287L39.3 287.7L39.3 288.4L39.3 289.1L39.3 289.8L39.3 290.5L39.3 291.2L39.3 292L39.3 292.7L39.3 293.4L39.3 294.1L39.3 294.8L39.3 295.5L39.3 296.2L39.3 297L39.3 297.7L39.3 298.4L39.3 299.1L39.3 299.8L39.3 300.5L39.3 301.2L39.3 302L39.3 302.7L39.3 303.4L39.3 304.1L39.3 304.8L39.3 305.5L39.3 306.2L39.3 307L39.3 307.7L39.3 308.4L39.3 309.1L39.3 309.8L39.3 310.5L39.3 311.2L39.3 312L39.3 312.7L39.3 313.4L39.3 314.1L39.3 314.8L39.3 315.5L39.3 316.3L39.3 317L39.3 317.7L39.3 318.4L39.3 319.1L39.3 319.8L39.3 320.5L39.3 321.3L39.3 322L39.3 322.7L39.3 323.4L39.3 324.1L39.3 324.8L39.3 325.5L39.3 326.3L39.3 327L39.3 327.7L39.3 328.4L39.3 329.1L39.3 329.8L39.3 330.5L39.3 331.3L39.3 332L39.3 332.7L39.3 333.4ZM179 247.7L180.2 247.8L181.4 247.9L181.4 247.7L181.4 246.9L181.4 246.2L181.4 245.5L181.4 244.8L181.4 244.1L181.4 243.4L181.4 242.6L181.4 241.9L181.4 241.2L181.4 240.5L181.4 239.8L181.4 239.1L181.4 238.4L181.4 237.6L181.4 236.9L181.4 236.2L181.4 235.5L181.4 234.8L181.4 234.1L181.4 233.4L181.4 232.6L181.4 231.9L181.4 231.2L181.4 230.5L181.4 229.8L181.4 229.1L181.4 228.4L181.4 227.6L181.4 226.9L181.4 226.2L181.4 225.5L181.4 224.8L181.4 224.1L181.4 223.4L181.4 222.6L181.4 221.9L181.4 221.2L181.4 220.5L181.4 219.8L181.4 219.1L181.4 218.4L181.4 217.6L181.4 216.9L181.4 216.2L181.4 215.5L181.4 214.8L181.4 214.1L181.4 213.4L181.4 212.6L181.4 211.9L181.4 211.2L181.4 210.5L181.4 209.8L181.4 209.1L181.4 208.3L181.4 207.6L181.4 206.9L181.4 206.2L181.4 205.5L181.4 204.8L181.4 204.1L181.4 203.3L181.4 202.6L181.4 201.9L181.4 201.2L181.4 200.5L181.4 199.8L181.4 199.1L181.4 198.3L181.4 197.6L181.4 196.9L181.4 196.2L181.4 195.5L181.4 194.8L181.4 194.1L181.4 193.3L181.4 192.6L181.4 191.9L181.4 191.2L180.2 191.2L179 191.2L177.8 191.2L176.7 191.2L175.5 191.2L174.3 191.2L173.1 191.2L171.9 191.2L170.7 191.2L169.6 191.2L168.4 191.2L167.2 191.2L166 191.2L164.8 191.2L163.6 191.2L162.5 191.2L161.3 191.2L160.1 191.2L158.9 191.2L157.7 191.2L156.5 191.2L155.3 191.2L154.2 191.2L153 191.2L151.8 191.2L150.6 191.2L149.4 191.2L148.2 191.2L147.1 191.2L145.9 191.2L144.7 191.2L143.5 191.2L142.3 191.2L141.1 191.2L140 191.2L138.8 191.2L137.6 191.2L136.4 191.2L135.2 191.2L134 191.2L132.8 191.2L131.7 191.2L130.5 191.2L129.3 191.2L128.1 191.2L126.9 191.2L125.7 191.2L124.6 191.2L123.4 191.2L122.2 191.2L121 191.2L119.8 191.2L118.6 191.2L117.5 191.2L116.3 191.2L115.1 191.2L113.9 191.2L112.7 191.2L111.5 191.2L110.4 191.2L109.2 191.2L108 191.2L106.8 191.2L105.6 191.2L104.4 191.2L103.2 191.2L102.1 191.2L100.9 191.2L99.7 191.2L98.5 191.2L97.3 191.2L96.1 191.2L95 191.2L93.8 191.2L92.6 191.2L91.4 191.2L90.2 191.2L89 191.2L87.9 191.2L86.7 191.2L85.5 191.2L84.3 191.2L83.1 191.2L81.9 191.2L80.7 191.2L79.6 191.2L78.4 191.2L77.2 191.2L76 191.2L74.8 191.2L73.6 191.2L72.5 191.2L71.3 191.2L70.1 191.2L68.9 191.2L67.7 191.2L66.5 191.2L65.4 191.2L64.2 191.2L63 191.2L61.8 191.2L60.6 191.2L59.4 191.2L58.2 191.2L57.1 191.2L55.9 191.2L54.7 191.2L53.5 191.2L52.3 191.2L51.1 191.2L50 191.2L48.8 191.2L47.6 191.2L46.4 191.2L45.2 191.2L44 191.2L42.9 191.2L41.7 191.2L40.5 191.2L39.3 191.2L39.3 191.9L39.3 192.6L39.3 193.3L39.3 194.1L39.3 194.8L39.3 195.5L39.3 196.2L39.3 196.9L39.3 197.6L39.3 198.3L39.3 199.1L39.3 199.8L39.3 200.5L39.3 201.2L39.3 201.9L39.3 202.6L39.3 203.3L39.3 204.1L39.3 204.8L39.3 205.5L39.3 206.2L39.3 206.9L39.3 207.6L39.3 208.3L39.3 209.1L39.3 209.8L39.3 210.5L39.3 211.2L39.3 211.9L39.3 212.6L39.3 213.4L39.3 214.1L39.3 214.8L39.3 215.5L39.3 216.2L39.3 216.9L39.3 217.6L39.3 218.4L39.3 219.1L39.3 219.8L39.3 220.5L39.3 221.2L39.3 221.9L39.3 222.6L39.3 223.4L39.3 224.1L39.3 224.8L39.3 225.5L39.3 226.2L39.3 226.9L39.3 227.6L39.3 228.4L39.3 229.1L39.3 229.8L39.3 230.5L39.3 231.2L39.3 231.9L39.3 232.6L39.3 233.4L39.3 234.1L39.3 234.8L39.3 235.5L39.3 236.2L39.3 236.9L39.3 237.6L39.3 238.4L39.3 239.1L39.3 239.6L40.5 239.6L41.7 239.6L42.9 239.6L44 239.7L45.2 239.7L46.4 239.7L47.6 239.7L48.8 239.7L50 239.7L51.1 239.7L52.3 239.8L53.5 239.8L54.7 239.8L55.4 239.8L55.9 239.8L56.1 239.8L57.1 239.8L58.2 239.8L59.4 239.7L60.6 239.7L61.8 239.7L63 239.7L64.2 239.6L65.4 239.7L66.5 239.7L67.7 239.7L68.9 239.7L70.1 239.8L71.3 239.8L71.4 239.8L72.5 239.8L73.6 239.8L74.8 239.8L76 239.8L77.2 239.8L78.4 239.8L79.6 239.8L80.7 239.8L81.9 239.8L83.1 239.8L83.3 239.8L84.3 239.8L85.5 239.8L86.7 239.7L87.9 239.7L89 239.7L90.2 239.7L91.4 239.6L92.6 239.6L93.8 239.5L95 239.5L96.1 239.4L97.3 239.4L98.5 239.4L99.7 239.5L100.9 239.5L102.1 239.6L103.2 239.6L104.4 239.7L105.6 239.7L106.8 239.8L107.3 239.8L108 239.8L109.2 239.9L110.4 239.9L111.5 240L112.7 240L113.9 240.1L115.1 240.1L116.3 240.2L117.5 240.3L118.6 240.4L119.7 240.5L119.8 240.5L121 240.6L122.2 240.7L123.4 240.8L124.6 241L125.7 241.1L126.7 241.2L126.9 241.2L128.1 241.4L129.3 241.5L130.5 241.7L131.7 241.8L132.4 241.9L132.8 242L134 242.2L135.2 242.4L136.4 242.6L137 242.6L137.6 242.7L138.8 242.9L140 243.1L141.1 243.2L142.3 243.4L142.4 243.4L143.5 243.5L144.7 243.6L145.9 243.7L147.1 243.9L148.2 244L148.8 244.1L149.4 244.2L150.6 244.3L151.8 244.4L153 244.6L154.2 244.8L154.3 244.8L155.3 244.9L156.5 245.1L157.7 245.3L158.9 245.4L159.6 245.5L160.1 245.6L161.3 245.7L162.5 245.9L163.6 246.1L164.5 246.2L164.8 246.3L166 246.4L167.2 246.5L168.4 246.6L169.6 246.7L170.7 246.8L171.9 246.9L172.4 246.9L173.1 247L174.3 247.1L175.5 247.2L176.7 247.4L177.8 247.5L179 247.7Z" fill="#fcffa4" stroke="#fcffa4" stroke-width="0.6" fill-rule="evenodd"/>
<path d="M40.5 278.5L41.7 278.4L41.9 278.4L42.9 278.3L44 278.3L45.2 278.2L46.4 278.2L47.6 278.2L48.8 278.1L50 278L51.1 278L52.3 277.9L53.5 277.8L54.7 277.8L55.9 277.7L57.1 277.7L57.5 277.7L58.2 277.7L59.4 277.6L60.6 277.6L61.8 277.6L63 277.6L64.2 277.6L65.4 277.5L66.5 277.4L67.7 277.4L68.9 277.3L70.1 277.2L71.3 277.1L72.5 277.1L73.6 277L74.8 276.9L74.8 276.9L76 276.9L77.2 276.9L78.4 276.8L79.6 276.8L80.7 276.7L81.9 276.7L83.1 276.7L84.3 276.7L85.5 276.6L86.7 276.6L87.9 276.6L89 276.6L90.2 276.6L91.4 276.6L92.6 276.6L93.8 276.6L95 276.6L96.1 276.6L97.3 276.7L98.5 276.7L99.7 276.8L100.9 276.8L102.1 276.9L103.2 276.9L104.3 276.9L104.4 277L105.6 277L106.8 277.1L108 277.1L109.2 277.2L110.4 277.2L111.5 277.3L112.7 277.3L113.9 277.4L115.1 277.4L116.3 277.4L117.5 277.4L118.6 277.4L119.8 277.4L121 277.4L122.2 277.4L123.4 277.4L124.6 277.4L125.7 277.5L126.9 277.5L128.1 277.5L129.3 277.6L130.5 277.6L131.7 277.6L132.8 277.6L134 277.6L135.2 277.5L136.4 277.5L137.6 277.5L138.8 277.4L140 277.4L141.1 277.2L142.3 277.1L143.5 277L143.7 276.9L144.7 276.8L145.9 276.7L147.1 276.5L148.2 276.4L149.2 276.2L149.4 276.2L150.6 276.1L151.8 275.9L153 275.7L154.1 275.5L154.2 275.5L155.3 275.3L156.5 275.1L157.7 275L158.8 274.8L158.9 274.8L160.1 274.6L161.3 274.4L162.5 274.2L163.3 274.1L163.6 274L164.8 273.8L166 273.7L167.2 273.6L168.4 273.5L169.6 273.4L169.6 273.4L170.7 273.3L171.9 273.1L173.1 273L174.3 272.9L175.5 272.7L176.1 272.7L176.7 272.6L177.8 272.4L179 272.3L180.2 272.1L181.4 272L181.4 271.9L181.4 271.2L181.4 270.5L181.4 269.8L181.4 269.1L181.4 268.4L181.4 267.7L181.4 266.9L181.4 266.2L181.4 265.5L181.4 264.8L181.4 264.1L181.4 263.4L181.4 262.7L181.4 261.9L181.4 261.2L181.4 260.5L181.4 259.8L181.4 259.1L181.4 258.4L181.4 257.7L181.4 256.9L181.4 256.2L181.4 255.5L181.4 254.8L181.4 254.1L181.4 253.4L181.4 252.7L181.4 251.9L181.4 251.2L181.4 250.5L181.4 249.8L181.4 249.1L181.4 248.4L181.4 247.9L180.2 247.8L179 247.7L179 247.7L177.8 247.5L176.7 247.4L175.5 247.2L174.3 247.1L173.1 247L172.4 246.9L171.9 246.9L170.7 246.8L169.6 246.7L168.4 246.6L167.2 246.5L166 246.4L164.8 246.3L164.5 246.2L163.6 246.1L162.5 245.9L161.3 245.7L160.1 245.6L159.6 245.5L158.9 245.4L157.7 245.3L156.5 245.1L155.3 244.9L154.3 244.8L154.2 244.8L153 244.6L151.8 244.4L150.6 244.3L149.4 244.2L148.8 244.1L148.2 244L147.1 243.9L145.9 243.7L144.7 243.6L143.5 243.5L142.4 243.4L142.3 243.4L141.1 243.2L140 243.1L138.8 242.9L137.6 242.7L137 242.6L136.4 242.6L135.2 242.4L134 242.2L132.8 242L132.4 241.9L131.7 241.8L130.5 241.7L129.3 241.5L128.1 241.4L126.9 241.2L126.7 241.2L125.7 241.1L124.6 241L123.4 240.8L122.2 240.7L121 240.6L119.8 240.5L119.7 240.5L118.6 240.4L117.5 240.3L116.3 240.2L115.1 240.1L113.9 240.1L112.7 240L111.5 240L110.4 239.9L109.2 239.9L108 239.8L107.3 239.8L106.8 239.8L105.6 239.7L104.4 239.7L103.2 239.6L102.1 239.6L100.9 239.5L99.7 239.5L98.5 239.4L97.3 239.4L96.1 239.4L95 239.5L93.8 239.5L92.6 239.6L91.4 239.6L90.2 239.7L89 239.7L87.9 239.7L86.7 239.7L85.5 239.8L84.3 239.8L83.3 239.8L83.1 239.8L81.9 239.8L80.7 239.8L79.6 239.8L78.4 239.8L77.2 239.8L76 239.8L74.8 239.8L73.6 239.8L72.5 239.8L71.4 239.8L71.3 239.8L70.1 239.8L68.9 239.7L67.7 239.7L66.5 239.7L65.4 239.7L64.2 239.6L63 239.7L61.8 239.7L60.6 239.7L59.4 239.7L58.2 239.8L57.1 239.8L56.1 239.8L55.9 239.8L55.4 239.8L54.7 239.8L53.5 239.8L52.3 239.8L51.1 239.7L50 239.7L48.8 239.7L47.6 239.7L46.4 239.7L45.2 239.7L44 239.7L42.9 239.6L41.7 239.6L40.5 239.6L39.3 239.6L39.3 239.8L39.3 240.5L39.3 241.2L39.3 241.9L39.3 242.6L39.3 243.4L39.3 243.7L40.5 243.7L41.7 243.6L42.9 243.6L44 243.6L45.2 243.6L46.4 243.6L47.6 243.6L48.8 243.6L50 243.5L51.1 243.5L52.3 243.5L53.5 243.5L54.7 243.5L55.9 243.5L57.1 243.5L58.2 243.5L59.4 243.4L60.6 243.4L61.8 243.4L62.5 243.4L63 243.4L64.2 243.3L65.4 243.3L66.5 243.3L67.7 243.4L68.9 243.4L69 243.4L70.1 243.4L71.3 243.4L72.5 243.4L73.6 243.4L74.8 243.4L76 243.4L77.2 243.4L78.4 243.4L79.6 243.4L80.7 243.4L81 243.4L81.9 243.4L83.1 243.3L84.3 243.3L85.5 243.3L86.7 243.3L87.9 243.3L89 243.2L90.2 243.2L91.4 243.2L92.6 243.1L93.8 243.1L95 243L96.1 243L97.3 242.9L98.5 243L99.7 243L100.9 243.1L102.1 243.1L103.2 243.2L104.4 243.2L105.6 243.3L106.8 243.3L107.2 243.4L108 243.4L109.2 243.5L110.4 243.5L111.5 243.6L112.7 243.6L113.9 243.7L115.1 243.7L116.3 243.9L117.5 244L118.6 244.1L118.6 244.1L119.8 244.2L121 244.3L122.2 244.4L123.4 244.5L124.6 244.7L125.2 244.8L125.7 244.9L126.9 245L128.1 245.2L129.3 245.3L130.4 245.5L130.5 245.5L131.7 245.7L132.8 245.9L134 246.1L134.5 246.2L135.2 246.3L136.4 246.6L137.6 246.8L138.2 246.9L138.8 247L140 247.3L141.1 247.4L142.3 247.6L142.7 247.7L143.5 247.8L144.7 248L145.9 248.2L147 248.4L147.1 248.4L148.2 248.6L149.4 248.8L150.6 249L150.9 249.1L151.8 249.2L153 249.5L154.2 249.8L154.3 249.8L155.3 250L156.5 250.3L157.4 250.5L157.7 250.6L158.9 250.8L160.1 251.1L160.5 251.2L161.3 251.4L162.5 251.7L163.1 251.9L163.6 252.1L164.8 252.5L165.9 252.7L166 252.7L167.2 252.9L168.4 253.1L169.6 253.4L169.6 253.4L170.7 253.6L171.9 253.9L172.6 254.1L173.1 254.2L174.3 254.6L175.1 254.8L175.5 254.9L176.7 255.4L177.1 255.5L177.8 255.9L178.6 256.2L179 256.5L179.8 256.9L180.2 257.4L180.5 257.7L180.9 258.4L181 259.1L180.8 259.8L180.4 260.5L180.2 260.7L179.7 261.2L179 261.7L178.7 261.9L177.8 262.4L177.4 262.7L176.7 263L175.9 263.4L175.5 263.5L174.3 264L174 264.1L173.1 264.4L171.9 264.7L171.6 264.8L170.7 265L169.6 265.4L168.9 265.5L168.4 265.6L167.2 265.9L166 266.2L165.6 266.2L164.8 266.4L163.6 266.8L163.3 266.9L162.5 267.2L161.3 267.6L161.1 267.7L160.1 267.9L158.9 268.3L158.5 268.4L157.7 268.6L156.5 268.9L155.7 269.1L155.3 269.2L154.2 269.5L153.1 269.8L153 269.8L151.8 270.1L150.6 270.4L150 270.5L149.4 270.6L148.2 270.9L147.1 271.1L146.5 271.2L145.9 271.4L144.7 271.6L143.5 271.8L142.7 271.9L142.3 272L141.1 272.2L140 272.4L138.8 272.5L137.6 272.6L136.6 272.7L136.4 272.7L135.2 272.8L134 272.8L132.8 272.9L131.7 272.9L130.5 273L129.3 273L128.1 273L126.9 273L125.7 273L124.6 272.9L123.4 272.9L122.2 272.9L121 273L119.8 273L118.6 273L117.5 273L116.3 273.1L115.1 273.1L113.9 273.1L112.7 273L111.5 273L110.4 272.9L109.2 272.9L108 272.8L106.8 272.8L105.6 272.7L104.4 272.7L104.2 272.7L103.2 272.6L102.1 272.6L100.9 272.5L99.7 272.5L98.5 272.4L97.3 272.4L96.1 272.4L95 272.4L93.8 272.4L92.6 272.4L91.4 272.3L90.2 272.3L89 272.3L87.9 272.3L86.7 272.4L85.5 272.4L84.3 272.4L83.1 272.4L81.9 272.5L80.7 272.5L79.6 272.5L78.4 272.6L77.2 272.6L76 272.6L74.9 272.7L74.8 272.7L73.6 272.7L72.5 272.7L71.3 272.8L70.1 272.9L68.9 272.9L67.7 273L66.5 273L65.4 273.1L64.2 273.2L63 273.2L61.8 273.2L60.6 273.2L59.4 273.2L58.2 273.2L57.1 273.2L55.9 273.2L54.7 273.2L53.5 273.3L52.3 273.3L51.1 273.3L50 273.4L49 273.4L48.8 273.4L47.6 273.4L46.4 273.4L45.2 273.4L44 273.5L42.9 273.5L41.7 273.5L40.5 273.5L39.3 273.5L39.3 274.1L39.3 274.8L39.3 275.5L39.3 276.2L39.3 276.9L39.3 277.7L39.3 278.4L39.3 278.5Z" fill="#f3f586" stroke="#f3f586" stroke-width="0.6" fill-rule="evenodd"/>
<path d="M40.5 273.5L41.7 273.5L42.9 273.5L44 273.5L45.2 273.4L46.4 273.4L47.6 273.4L48.8 273.4L49 273.4L50 273.4L51.1 273.3L52.3 273.3L53.5 273.3L54.7 273.2L55.9 273.2L57.1 273.2L58.2 273.2L59.4 273.2L60.6 273.2L61.8 273.2L63 273.2L64.2 273.2L65.4 273.1L66.5 273L67.7 273L68.9 272.9L70.1 272.9L71.3 272.8L72.5 272.7L73.6 272.7L74.8 272.7L74.9 272.7L76 272.6L77.2 272.6L78.4 272.6L79.6 272.5L80.7 272.5L81.9 272.5L83.1 272.4L84.3 272.4L85.5 272.4L86.7 272.4L87.9 272.3L89 272.3L90.2 272.3L91.4 272.3L92.6 272.4L93.8 272.4L95 272.4L96.1 272.4L97.3 272.4L98.5 272.4L99.7 272.5L100.9 272.5L102.1 272.6L103.2 272.6L104.2 272.7L104.4 272.7L105.6 272.7L106.8 272.8L108 272.8L109.2 272.9L110.4 272.9L111.5 273L112.7 273L113.9 273.1L115.1 273.1L116.3 273.1L117.5 273L118.6 273L119.8 273L121 273L122.2 272.9L123.4 272.9L124.6 272.9L125.7 273L126.9 273L128.1 273L129.3 273L130.5 273L131.7 272.9L132.8 272.9L134 272.8L135.2 272.8L136.4 272.7L136.6 272.7L137.6 272.6L138.8 272.5L140 272.4L141.1 272.2L142.3 272L142.7 271.9L143.5 271.8L144.7 271.6L145.9 271.4L146.5 271.2L147.1 271.1L148.2 270.9L149.4 270.6L150 270.5L150.6 270.4L151.8 270.1L153 269.8L153.1 269.8L154.2 269.5L155.3 269.2L155.7 269.1L156.5 268.9L157.7 268.6L158.5 268.4L158.9 268.3L160.1 267.9L161.1 267.7L161.3 267.6L162.5 267.2L163.3 266.9L163.6 266.8L164.8 266.4L165.6 266.2L166 266.2L167.2 265.9L168.4 265.6L168.9 265.5L169.6 265.4L170.7 265L171.6 264.8L171.9 264.7L173.1 264.4L174 264.1L174.3 264L175.5 263.5L175.9 263.4L176.7 263L177.4 262.7L177.8 262.4L178.7 261.9L179 261.7L179.7 261.2L180.2 260.7L180.4 260.5L180.8 259.8L181 259.1L180.9 258.4L180.5 257.7L180.2 257.4L179.8 256.9L179 256.5L178.6 256.2L177.8 255.9L177.1 255.5L176.7 255.4L175.5 254.9L175.1 254.8L174.3 254.6L173.1 254.2L172.6 254.1L171.9 253.9L170.7 253.6L169.6 253.4L169.6 253.4L168.4 253.1L167.2 252.9L166 252.7L165.9 252.7L164.8 252.5L163.6 252.1L163.1 251.9L162.5 251.7L161.3 251.4L160.5 251.2L160.1 251.1L158.9 250.8L157.7 250.6L157.4 250.5L156.5 250.3L155.3 250L154.3 249.8L154.2 249.8L153 249.5L151.8 249.2L150.9 249.1L150.6 249L149.4 248.8L148.2 248.6L147.1 248.4L147 248.4L145.9 248.2L144.7 248L143.5 247.8L142.7 247.7L142.3 247.6L141.1 247.4L140 247.3L138.8 247L138.2 246.9L137.6 246.8L136.4 246.6L135.2 246.3L134.5 246.2L134 246.1L132.8 245.9L131.7 245.7L130.5 245.5L130.4 245.5L129.3 245.3L128.1 245.2L126.9 245L125.7 244.9L125.2 244.8L124.6 244.7L123.4 244.5L122.2 244.4L121 244.3L119.8 244.2L118.6 244.1L118.6 244.1L117.5 244L116.3 243.9L115.1 243.7L113.9 243.7L112.7 243.6L111.5 243.6L110.4 243.5L109.2 243.5L108 243.4L107.2 243.4L106.8 243.3L105.6 243.3L104.4 243.2L103.2 243.2L102.1 243.1L100.9 243.1L99.7 243L98.5 243L97.3 242.9L96.1 243L95 243L93.8 243.1L92.6 243.1L91.4 243.2L90.2 243.2L89 243.2L87.9 243.3L86.7 243.3L85.5 243.3L84.3 243.3L83.1 243.3L81.9 243.4L81 243.4L80.7 243.4L79.6 243.4L78.4 243.4L77.2 243.4L76 243.4L74.8 243.4L73.6 243.4L72.5 243.4L71.3 243.4L70.1 243.4L69 243.4L68.9 243.4L67.7 243.4L66.5 243.3L65.4 243.3L64.2 243.3L63 243.4L62.5 243.4L61.8 243.4L60.6 243.4L59.4 243.4L58.2 243.5L57.1 243.5L55.9 243.5L54.7 243.5L53.5 243.5L52.3 243.5L51.1 243.5L50 243.5L48.8 243.6L47.6 243.6L46.4 243.6L45.2 243.6L44 243.6L42.9 243.6L41.7 243.6L40.5 243.7L39.3 243.7L39.3 244.1L39.3 244.8L39.3 245.5L39.3 245.8L40.5 245.8L41.7 245.8L42.9 245.8L44 245.7L45.2 245.7L46.4 245.7L47.6 245.7L48.8 245.7L50 245.7L51.1 245.7L52.3 245.7L53.5 245.7L54.7 245.7L55.9 245.7L57.1 245.7L58.2 245.7L59.4 245.7L60.6 245.6L61.8 245.6L63 245.6L64.2 245.6L65.4 245.6L66.5 245.6L67.7 245.6L68.9 245.6L70.1 245.7L71.3 245.7L72.5 245.7L73.6 245.7L74.8 245.7L76 245.7L77.2 245.7L78.4 245.7L79.6 245.7L80.7 245.7L81.9 245.7L83.1 245.7L84.3 245.7L85.5 245.7L86.7 245.6L87.9 245.6L89 245.6L90.2 245.6L91.4 245.5L92.6 245.5L92.7 245.5L93.8 245.5L95 245.4L96.1 245.4L97.3 245.4L98.5 245.4L99.7 245.4L100.9 245.5L101.3 245.5L102.1 245.5L103.2 245.6L104.4 245.7L105.6 245.7L106.8 245.8L108 245.8L109.2 245.9L110.4 245.9L111.5 246L112.7 246.1L113.9 246.1L115.1 246.2L115.1 246.2L116.3 246.3L117.5 246.5L118.6 246.6L119.8 246.7L121 246.9L121.7 246.9L122.2 247L123.4 247.1L124.6 247.3L125.7 247.5L126.8 247.7L126.9 247.7L128.1 247.9L129.3 248L130.5 248.2L131.2 248.4L131.7 248.4L132.8 248.7L134 249L134.6 249.1L135.2 249.2L136.4 249.5L137.6 249.8L137.7 249.8L138.8 250.1L140 250.4L140.8 250.5L141.1 250.6L142.3 250.8L143.5 251.1L144.1 251.2L144.7 251.4L145.9 251.7L146.9 251.9L147.1 252L148.2 252.3L149.4 252.7L149.4 252.7L150.6 253.1L151.5 253.4L151.8 253.5L153 253.9L153.3 254.1L154.2 254.5L154.8 254.8L155.3 255.1L156 255.5L156.5 255.9L157 256.2L157.7 256.8L157.9 256.9L158.5 257.7L158.8 258.4L158.8 259.1L158.6 259.8L158.2 260.5L157.7 261.1L157.6 261.2L156.8 261.9L156.5 262.2L155.9 262.7L155.3 263.1L154.9 263.4L154.2 263.9L153.8 264.1L153 264.5L152.4 264.8L151.8 265L150.7 265.5L150.6 265.5L149.4 266L148.7 266.2L148.2 266.4L147.1 266.8L146.6 266.9L145.9 267.2L144.7 267.5L144.2 267.7L143.5 267.8L142.3 268.1L141.3 268.4L141.1 268.4L140 268.7L138.8 268.9L137.6 269L137.1 269.1L136.4 269.2L135.2 269.3L134 269.4L132.8 269.5L131.7 269.6L130.5 269.7L129.3 269.7L128.1 269.8L126.9 269.8L125.7 269.8L125.2 269.8L124.6 269.8L123.4 269.8L122.2 269.9L121 269.9L119.8 270L118.6 270L117.5 270L116.3 270.1L115.1 270.1L113.9 270.1L112.7 270.1L111.5 270L110.4 270L109.2 269.9L108 269.9L106.8 269.8L105.6 269.8L105.6 269.8L104.4 269.8L103.2 269.7L102.1 269.7L100.9 269.6L99.7 269.6L98.5 269.5L97.3 269.5L96.1 269.5L95 269.5L93.8 269.5L92.6 269.5L91.4 269.5L90.2 269.5L89 269.5L87.9 269.5L86.7 269.6L85.5 269.6L84.3 269.6L83.1 269.6L81.9 269.7L80.7 269.7L79.6 269.8L78.5 269.8L78.4 269.8L77.2 269.9L76 269.9L74.8 270L73.6 270L72.5 270.1L71.3 270.1L70.1 270.2L68.9 270.3L67.7 270.3L66.5 270.4L65.4 270.4L64.2 270.5L63 270.5L62.8 270.5L61.8 270.5L60.6 270.6L59.4 270.6L58.2 270.6L57.1 270.6L55.9 270.6L54.7 270.7L53.5 270.7L52.3 270.7L51.1 270.8L50 270.8L48.8 270.9L47.6 270.9L46.4 270.9L45.2 270.9L44 270.9L42.9 271L41.7 271L40.5 271L39.3 271L39.3 271.2L39.3 271.9L39.3 272.7L39.3 273.4L39.3 273.5Z" fill="#f2e661" stroke="#f2e661" stroke-width="0.6" fill-rule="evenodd"/>
<path d="M40.5 271L41.7 271L42.9 271L44 270.9L45.2 270.9L46.4 270.9L47.6 270.9L48.8 270.9L50 270.8L51.1 270.8L52.3 270.7L53.5 270.7L54.7 270.7L55.9 270.6L57.1 270.6L58.2 270.6L59.4 270.6L60.6 270.6L61.8 270.5L62.8 270.5L63 270.5L64.2 270.5L65.4 270.4L66.5 270.4L67.7 270.3L68.9 270.3L70.1 270.2L71.3 270.1L72.5 270.1L73.6 270L74.8 270L76 269.9L77.2 269.9L78.4 269.8L78.5 269.8L79.6 269.8L80.7 269.7L81.9 269.7L83.1 269.6L84.3 269.6L85.5 269.6L86.7 269.6L87.9 269.5L89 269.5L90.2 269.5L91.4 269.5L92.6 269.5L93.8 269.5L95 269.5L96.1 269.5L97.3 269.5L98.5 269.5L99.7 269.6L100.9 269.6L102.1 269.7L103.2 269.7L104.4 269.8L105.6 269.8L105.6 269.8L106.8 269.8L108 269.9L109.2 269.9L110.4 270L111.5 270L112.7 270.1L113.9 270.1L115.1 270.1L116.3 270.1L117.5 270L118.6 270L119.8 270L121 269.9L122.2 269.9L123.4 269.8L124.6 269.8L125.2 269.8L125.7 269.8L126.9 269.8L128.1 269.8L129.3 269.7L130.5 269.7L131.7 269.6L132.8 269.5L134 269.4L135.2 269.3L136.4 269.2L137.1 269.1L137.6 269L138.8 268.9L140 268.7L141.1 268.4L141.3 268.4L142.3 268.1L143.5 267.8L144.2 267.7L144.7 267.5L145.9 267.2L146.6 266.9L147.1 266.8L148.2 266.4L148.7 266.2L149.4 266L150.6 265.5L150.7 265.5L151.8 265L152.4 264.8L153 264.5L153.8 264.1L154.2 263.9L154.9 263.4L155.3 263.1L155.9 262.7L156.5 262.2L156.8 261.9L157.6 261.2L157.7 261.1L158.2 260.5L158.6 259.8L158.8 259.1L158.8 258.4L158.5 257.7L157.9 256.9L157.7 256.8L157 256.2L156.5 255.9L156 255.5L155.3 255.1L154.8 254.8L154.2 254.5L153.3 254.1L153 253.9L151.8 253.5L151.5 253.4L150.6 253.1L149.4 252.7L149.4 252.7L148.2 252.3L147.1 252L146.9 251.9L145.9 251.7L144.7 251.4L144.1 251.2L143.5 251.1L142.3 250.8L141.1 250.6L140.8 250.5L140 250.4L138.8 250.1L137.7 249.8L137.6 249.8L136.4 249.5L135.2 249.2L134.6 249.1L134 249L132.8 248.7L131.7 248.4L131.2 248.4L130.5 248.2L129.3 248L128.1 247.9L126.9 247.7L126.8 247.7L125.7 247.5L124.6 247.3L123.4 247.1L122.2 247L121.7 246.9L121 246.9L119.8 246.7L118.6 246.6L117.5 246.5L116.3 246.3L115.1 246.2L115.1 246.2L113.9 246.1L112.7 246.1L111.5 246L110.4 245.9L109.2 245.9L108 245.8L106.8 245.8L105.6 245.7L104.4 245.7L103.2 245.6L102.1 245.5L101.3 245.5L100.9 245.5L99.7 245.4L98.5 245.4L97.3 245.4L96.1 245.4L95 245.4L93.8 245.5L92.7 245.5L92.6 245.5L91.4 245.5L90.2 245.6L89 245.6L87.9 245.6L86.7 245.6L85.5 245.7L84.3 245.7L83.1 245.7L81.9 245.7L80.7 245.7L79.6 245.7L78.4 245.7L77.2 245.7L76 245.7L74.8 245.7L73.6 245.7L72.5 245.7L71.3 245.7L70.1 245.7L68.9 245.6L67.7 245.6L66.5 245.6L65.4 245.6L64.2 245.6L63 245.6L61.8 245.6L60.6 245.6L59.4 245.7L58.2 245.7L57.1 245.7L55.9 245.7L54.7 245.7L53.5 245.7L52.3 245.7L51.1 245.7L50 245.7L48.8 245.7L47.6 245.7L46.4 245.7L45.2 245.7L44 245.7L42.9 245.8L41.7 245.8L40.5 245.8L39.3 245.8L39.3 246.2L39.3 246.9L39.3 247.3L40.5 247.3L41.7 247.3L42.9 247.3L44 247.3L45.2 247.3L46.4 247.3L47.6 247.2L48.8 247.3L50 247.3L51.1 247.3L52.3 247.3L53.5 247.3L54.7 247.3L55.9 247.3L57.1 247.3L58.2 247.3L59.4 247.3L60.6 247.3L61.8 247.3L63 247.3L64.2 247.3L65.4 247.3L66.5 247.4L67.7 247.4L68.9 247.4L70.1 247.5L71.3 247.5L72.5 247.5L73.6 247.5L74.8 247.6L76 247.6L77.2 247.6L78.4 247.6L79.6 247.6L80.7 247.6L81.9 247.6L83.1 247.6L84.3 247.6L85.5 247.6L86.7 247.6L87.9 247.6L89 247.6L90.2 247.6L91.4 247.6L92.6 247.5L93.8 247.5L95 247.5L96.1 247.4L97.3 247.4L98.5 247.4L99.7 247.5L100.9 247.5L102.1 247.6L103.2 247.7L103.2 247.7L104.4 247.7L105.6 247.8L106.8 247.8L108 247.9L109.2 248L110.4 248L111.5 248.1L112.7 248.2L113.9 248.2L115.1 248.3L115.5 248.4L116.3 248.5L117.5 248.6L118.6 248.8L119.8 248.9L121 249.1L121.1 249.1L122.2 249.2L123.4 249.4L124.6 249.6L125.7 249.8L125.7 249.8L126.9 250L128.1 250.2L129.3 250.5L129.6 250.5L130.5 250.7L131.7 250.9L132.8 251.2L132.8 251.2L134 251.6L135.2 251.9L135.3 251.9L136.4 252.3L137.6 252.7L137.6 252.7L138.8 253.1L139.7 253.4L140 253.5L141.1 253.8L141.8 254.1L142.3 254.3L143.5 254.8L143.6 254.8L144.7 255.3L145 255.5L145.9 256.1L146.1 256.2L146.9 256.9L147.1 257.1L147.4 257.7L147.7 258.4L147.7 259.1L147.5 259.8L147.1 260.5L147.1 260.6L146.6 261.2L145.9 261.9L145.8 261.9L144.8 262.7L144.7 262.7L143.6 263.4L143.5 263.4L142.3 264L142.1 264.1L141.1 264.5L140.4 264.8L140 264.9L138.8 265.3L137.9 265.5L137.6 265.6L136.4 265.8L135.2 266.1L134.3 266.2L134 266.3L132.8 266.5L131.7 266.7L130.5 266.8L129.3 266.8L128.1 266.9L127.2 266.9L126.9 267L125.7 267L124.6 267.1L123.4 267.1L122.2 267.2L121 267.3L119.8 267.3L118.6 267.4L117.5 267.5L116.3 267.5L115.1 267.6L113.9 267.6L112.7 267.6L111.5 267.5L110.4 267.5L109.2 267.4L108 267.4L106.8 267.4L105.6 267.3L104.4 267.3L103.2 267.3L102.1 267.2L100.9 267.2L99.7 267.1L98.5 267.1L97.3 267.1L96.1 267.1L95 267.1L93.8 267.1L92.6 267.1L91.4 267.1L90.2 267.1L89 267.1L87.9 267.2L86.7 267.3L85.5 267.3L84.3 267.4L83.1 267.4L81.9 267.5L80.7 267.5L79.6 267.6L78.5 267.7L78.4 267.7L77.2 267.7L76 267.8L74.8 267.9L73.6 267.9L72.5 268L71.3 268.1L70.1 268.2L68.9 268.3L67.7 268.3L67 268.4L66.5 268.4L65.4 268.5L64.2 268.6L63 268.6L61.8 268.6L60.6 268.7L59.4 268.7L58.2 268.7L57.1 268.8L55.9 268.8L54.7 268.9L53.5 268.9L52.3 269L51.1 269L50 269L48.8 269.1L48.6 269.1L47.6 269.1L46.4 269.2L45.2 269.2L44 269.2L42.9 269.2L41.7 269.3L40.5 269.3L39.3 269.3L39.3 269.8L39.3 270.5L39.3 271Z" fill="#f6d543" stroke="#f6d543" stroke-width="0.6" fill-rule="evenodd"/>
<path d="M40.5 269.3L41.7 269.3L42.9 269.2L44 269.2L45.2 269.2L46.4 269.2L47.6 269.1L48.6 269.1L48.8 269.1L50 269L51.1 269L52.3 269L53.5 268.9L54.7 268.9L55.9 268.8L57.1 268.8L58.2 268.7L59.4 268.7L60.6 268.7L61.8 268.6L63 268.6L64.2 268.6L65.4 268.5L66.5 268.4L67 268.4L67.7 268.3L68.9 268.3L70.1 268.2L71.3 268.1L72.5 268L73.6 267.9L74.8 267.9L76 267.8L77.2 267.7L78.4 267.7L78.5 267.7L79.6 267.6L80.7 267.5L81.9 267.5L83.1 267.4L84.3 267.4L85.5 267.3L86.7 267.3L87.9 267.2L89 267.1L90.2 267.1L91.4 267.1L92.6 267.1L93.8 267.1L95 267.1L96.1 267.1L97.3 267.1L98.5 267.1L99.7 267.1L100.9 267.2L102.1 267.2L103.2 267.3L104.4 267.3L105.6 267.3L106.8 267.4L108 267.4L109.2 267.4L110.4 267.5L111.5 267.5L112.7 267.6L113.9 267.6L115.1 267.6L116.3 267.5L117.5 267.5L118.6 267.4L119.8 267.3L121 267.3L122.2 267.2L123.4 267.1L124.6 267.1L125.7 267L126.9 267L127.2 266.9L128.1 266.9L129.3 266.8L130.5 266.8L131.7 266.7L132.8 266.5L134 266.3L134.3 266.2L135.2 266.1L136.4 265.8L137.6 265.6L137.9 265.5L138.8 265.3L140 264.9L140.4 264.8L141.1 264.5L142.1 264.1L142.3 264L143.5 263.4L143.6 263.4L144.7 262.7L144.8 262.7L145.8 261.9L145.9 261.9L146.6 261.2L147.1 260.6L147.1 260.5L147.5 259.8L147.7 259.1L147.7 258.4L147.4 257.7L147.1 257.1L146.9 256.9L146.1 256.2L145.9 256.1L145 255.5L144.7 255.3L143.6 254.8L143.5 254.8L142.3 254.3L141.8 254.1L141.1 253.8L140 253.5L139.7 253.4L138.8 253.1L137.6 252.7L137.6 252.7L136.4 252.3L135.3 251.9L135.2 251.9L134 251.6L132.8 251.2L132.8 251.2L131.7 250.9L130.5 250.7L129.6 250.5L129.3 250.5L128.1 250.2L126.9 250L125.7 249.8L125.7 249.8L124.6 249.6L123.4 249.4L122.2 249.2L121.1 249.1L121 249.1L119.8 248.9L118.6 248.8L117.5 248.6L116.3 248.5L115.5 248.4L115.1 248.3L113.9 248.2L112.7 248.2L111.5 248.1L110.4 248L109.2 248L108 247.9L106.8 247.8L105.6 247.8L104.4 247.7L103.2 247.7L103.2 247.7L102.1 247.6L100.9 247.5L99.7 247.5L98.5 247.4L97.3 247.4L96.1 247.4L95 247.5L93.8 247.5L92.6 247.5L91.4 247.6L90.2 247.6L89 247.6L87.9 247.6L86.7 247.6L85.5 247.6L84.3 247.6L83.1 247.6L81.9 247.6L80.7 247.6L79.6 247.6L78.4 247.6L77.2 247.6L76 247.6L74.8 247.6L73.6 247.5L72.5 247.5L71.3 247.5L70.1 247.5L68.9 247.4L67.7 247.4L66.5 247.4L65.4 247.3L64.2 247.3L63 247.3L61.8 247.3L60.6 247.3L59.4 247.3L58.2 247.3L57.1 247.3L55.9 247.3L54.7 247.3L53.5 247.3L52.3 247.3L51.1 247.3L50 247.3L48.8 247.3L47.6 247.2L46.4 247.3L45.2 247.3L44 247.3L42.9 247.3L41.7 247.3L40.5 247.3L39.3 247.3L39.3 247.7L39.3 248.4L39.3 248.4L40.5 248.4L41.7 248.4L42.9 248.4L44 248.4L45.2 248.4L46.4 248.4L47.6 248.5L48.8 248.5L50 248.5L51.1 248.5L52.3 248.5L53.5 248.6L54.7 248.6L55.9 248.6L57.1 248.6L58.2 248.7L59.4 248.7L60.6 248.7L61.8 248.7L63 248.7L64.2 248.7L65.4 248.8L66.5 248.8L67.7 248.9L68.9 248.9L70.1 249L71.3 249L72.4 249.1L72.5 249.1L73.6 249.1L74.8 249.1L76 249.2L77.2 249.2L78.4 249.3L79.6 249.3L80.7 249.3L81.9 249.4L83.1 249.4L84.3 249.4L85.5 249.4L86.7 249.4L87.9 249.5L89 249.5L90.2 249.5L91.4 249.5L92.6 249.4L93.8 249.4L95 249.4L96.1 249.4L97.3 249.3L98.5 249.4L99.7 249.4L100.9 249.5L102.1 249.6L103.2 249.6L104.4 249.7L105.6 249.8L106.3 249.8L106.8 249.8L108 249.9L109.2 250L110.4 250L111.5 250.1L112.7 250.2L113.9 250.2L115.1 250.4L116.2 250.5L116.3 250.5L117.5 250.7L118.6 250.9L119.8 251.1L120.7 251.2L121 251.3L122.2 251.5L123.4 251.7L124.5 251.9L124.6 252L125.7 252.2L126.9 252.5L127.7 252.7L128.1 252.8L129.3 253.1L130.5 253.4L130.5 253.4L131.7 253.7L132.6 254.1L132.8 254.2L134 254.7L134.2 254.8L135.2 255.3L135.6 255.5L136.4 256L136.7 256.2L137.5 256.9L137.6 257L138.1 257.7L138.4 258.4L138.3 259.1L138 259.8L137.6 260.4L137.5 260.5L136.6 261.2L136.4 261.3L135.4 261.9L135.2 262L134 262.5L133.7 262.7L132.8 262.9L131.7 263.3L131.4 263.4L130.5 263.5L129.3 263.7L128.1 263.9L126.9 264L126.2 264.1L125.7 264.1L124.6 264.2L123.4 264.3L122.2 264.5L121 264.6L119.8 264.7L119.1 264.8L118.6 264.8L117.5 264.9L116.3 265.1L115.1 265.1L113.9 265.2L112.7 265.1L111.5 265.1L110.4 265.1L109.2 265.1L108 265L106.8 265L105.6 265L104.4 264.9L103.2 264.9L102.1 264.9L100.9 264.8L99.8 264.8L99.7 264.8L98.5 264.8L97.3 264.8L96.1 264.8L95.9 264.8L95 264.8L93.8 264.9L92.6 264.9L91.4 264.9L90.2 264.9L89 265L87.9 265.1L86.7 265.2L85.5 265.3L84.3 265.4L83.1 265.5L83 265.5L81.9 265.6L80.7 265.7L79.6 265.8L78.4 265.9L77.2 266L76 266.1L74.8 266.2L74.1 266.2L73.6 266.3L72.5 266.4L71.3 266.5L70.1 266.6L68.9 266.7L67.7 266.8L66.5 266.9L65.4 266.9L65.3 266.9L64.2 267L63 267.1L61.8 267.1L60.6 267.2L59.4 267.3L58.2 267.3L57.1 267.4L55.9 267.4L54.7 267.5L53.5 267.5L52.3 267.6L51.1 267.6L50.8 267.7L50 267.7L48.8 267.8L47.6 267.8L46.4 267.9L45.2 267.9L44 267.9L42.9 268L41.7 268L40.5 268L39.3 268.1L39.3 268.4L39.3 269.1L39.3 269.3Z" fill="#fac42a" stroke="#fac42a" stroke-width="0.6" fill-rule="evenodd"/>
<path d="M40.5 268L41.7 268L42.9 268L44 267.9L45.2 267.9L46.4 267.9L47.6 267.8L48.8 267.8L50 267.7L50.8 267.7L51.1 267.6L52.3 267.6L53.5 267.5L54.7 267.5L55.9 267.4L57.1 267.4L58.2 267.3L59.4 267.3L60.6 267.2L61.8 267.1L63 267.1L64.2 267L65.3 266.9L65.4 266.9L66.5 266.9L67.7 266.8L68.9 266.7L70.1 266.6L71.3 266.5L72.5 266.4L73.6 266.3L74.1 266.2L74.8 266.2L76 266.1L77.2 266L78.4 265.9L79.6 265.8L80.7 265.7L81.9 265.6L83 265.5L83.1 265.5L84.3 265.4L85.5 265.3L86.7 265.2L87.9 265.1L89 265L90.2 264.9L91.4 264.9L92.6 264.9L93.8 264.9L95 264.8L95.9 264.8L96.1 264.8L97.3 264.8L98.5 264.8L99.7 264.8L99.8 264.8L100.9 264.8L102.1 264.9L103.2 264.9L104.4 264.9L105.6 265L106.8 265L108 265L109.2 265.1L110.4 265.1L111.5 265.1L112.7 265.1L113.9 265.2L115.1 265.1L116.3 265.1L117.5 264.9L118.6 264.8L119.1 264.8L119.8 264.7L121 264.6L122.2 264.5L123.4 264.3L124.6 264.2L125.7 264.1L126.2 264.1L126.9 264L128.1 263.9L129.3 263.7L130.5 263.5L131.4 263.4L131.7 263.3L132.8 262.9L133.7 262.7L134 262.5L135.2 262L135.4 261.9L136.4 261.3L136.6 261.2L137.5 260.5L137.6 260.4L138 259.8L138.3 259.1L138.4 258.4L138.1 257.7L137.6 257L137.5 256.9L136.7 256.2L136.4 256L135.6 255.5L135.2 255.3L134.2 254.8L134 254.7L132.8 254.2L132.6 254.1L131.7 253.7L130.5 253.4L130.5 253.4L129.3 253.1L128.1 252.8L127.7 252.7L126.9 252.5L125.7 252.2L124.6 252L124.5 251.9L123.4 251.7L122.2 251.5L121 251.3L120.7 251.2L119.8 251.1L118.6 250.9L117.5 250.7L116.3 250.5L116.2 250.5L115.1 250.4L113.9 250.2L112.7 250.2L111.5 250.1L110.4 250L109.2 250L108 249.9L106.8 249.8L106.3 249.8L105.6 249.8L104.4 249.7L103.2 249.6L102.1 249.6L100.9 249.5L99.7 249.4L98.5 249.4L97.3 249.3L96.1 249.4L95 249.4L93.8 249.4L92.6 249.4L91.4 249.5L90.2 249.5L89 249.5L87.9 249.5L86.7 249.4L85.5 249.4L84.3 249.4L83.1 249.4L81.9 249.4L80.7 249.3L79.6 249.3L78.4 249.3L77.2 249.2L76 249.2L74.8 249.1L73.6 249.1L72.5 249.1L72.4 249.1L71.3 249L70.1 249L68.9 248.9L67.7 248.9L66.5 248.8L65.4 248.8L64.2 248.7L63 248.7L61.8 248.7L60.6 248.7L59.4 248.7L58.2 248.7L57.1 248.6L55.9 248.6L54.7 248.6L53.5 248.6L52.3 248.5L51.1 248.5L50 248.5L48.8 248.5L47.6 248.5L46.4 248.4L45.2 248.4L44 248.4L42.9 248.4L41.7 248.4L40.5 248.4L39.3 248.4L39.3 249.1L39.3 249.3L40.5 249.3L41.7 249.3L42.9 249.3L44 249.3L45.2 249.4L46.4 249.4L47.6 249.4L48.8 249.4L50 249.5L51.1 249.5L52.3 249.5L53.5 249.6L54.7 249.6L55.9 249.7L57.1 249.7L58.2 249.8L59.4 249.8L59.7 249.8L60.6 249.8L61.8 249.9L63 249.9L64.2 249.9L65.4 250L66.5 250L67.7 250.1L68.9 250.2L70.1 250.3L71.3 250.3L72.5 250.4L73.6 250.5L74.2 250.5L74.8 250.5L76 250.6L77.2 250.7L78.4 250.7L79.6 250.8L80.7 250.9L81.9 251L83.1 251L84.3 251.1L85.5 251.1L86.7 251.2L86.8 251.2L87.9 251.3L89 251.4L90.2 251.4L91.4 251.4L92.6 251.4L93.8 251.4L95 251.4L96.1 251.4L97.3 251.4L98.5 251.5L99.7 251.6L100.9 251.6L102.1 251.7L103.2 251.8L104.4 251.9L105.6 251.9L105.7 251.9L106.8 252L108 252.1L109.2 252.2L110.4 252.3L111.5 252.3L112.7 252.4L113.9 252.5L115.1 252.6L115.2 252.7L116.3 252.9L117.5 253.1L118.5 253.4L118.6 253.4L119.8 253.7L121 254L121.3 254.1L122.2 254.4L123.4 254.7L123.5 254.8L124.6 255.2L125.3 255.5L125.7 255.8L126.6 256.2L126.9 256.5L127.5 256.9L127.9 257.7L127.8 258.4L127.1 259.1L126.9 259.2L126 259.8L125.7 259.9L124.6 260.3L124 260.5L123.4 260.7L122.2 261L121.4 261.2L121 261.3L119.8 261.6L118.6 261.8L118 261.9L117.5 262L116.3 262.2L115.1 262.4L113.9 262.5L112.7 262.5L111.5 262.4L110.4 262.4L109.2 262.4L108 262.4L106.8 262.4L105.6 262.3L104.4 262.3L103.2 262.3L102.1 262.3L100.9 262.3L99.7 262.2L98.5 262.2L97.3 262.3L96.1 262.4L95 262.5L93.8 262.6L92.6 262.6L92.4 262.7L91.4 262.7L90.2 262.8L89 262.9L87.9 263.2L86.7 263.3L86.5 263.4L85.5 263.5L84.3 263.7L83.1 263.8L81.9 263.9L80.7 264.1L80.7 264.1L79.6 264.2L78.4 264.4L77.2 264.5L76 264.7L74.8 264.8L74.5 264.8L73.6 264.9L72.5 265L71.3 265.1L70.1 265.3L68.9 265.4L67.7 265.5L67.6 265.5L66.5 265.6L65.4 265.7L64.2 265.8L63 265.9L61.8 266L60.6 266L59.4 266.1L58.2 266.2L57.1 266.2L57 266.2L55.9 266.3L54.7 266.4L53.5 266.5L52.3 266.5L51.1 266.6L50 266.7L48.8 266.7L47.6 266.8L46.4 266.8L45.2 266.9L44 266.9L43.1 266.9L42.9 267L41.7 267L40.5 267L39.3 267.1L39.3 267.7L39.3 268.1Z" fill="#fcb216" stroke="#fcb216" stroke-width="0.6" fill-rule="evenodd"/>
<path d="M40.5 267L41.7 267L42.9 267L43.1 266.9L44 266.9L45.2 266.9L46.4 266.8L47.6 266.8L48.8 266.7L50 266.7L51.1 266.6L52.3 266.5L53.5 266.5L54.7 266.4L55.9 266.3L57 266.2L57.1 266.2L58.2 266.2L59.4 266.1L60.6 266L61.8 266L63 265.9L64.2 265.8L65.4 265.7L66.5 265.6L67.6 265.5L67.7 265.5L68.9 265.4L70.1 265.3L71.3 265.1L72.5 265L73.6 264.9L74.5 264.8L74.8 264.8L76 264.7L77.2 264.5L78.4 264.4L79.6 264.2L80.7 264.1L80.7 264.1L81.9 263.9L83.1 263.8L84.3 263.7L85.5 263.5L86.5 263.4L86.7 263.3L87.9 263.2L89 262.9L90.2 262.8L91.4 262.7L92.4 262.7L92.6 262.6L93.8 262.6L95 262.5L96.1 262.4L97.3 262.3L98.5 262.2L99.7 262.2L100.9 262.3L102.1 262.3L103.2 262.3L104.4 262.3L105.6 262.3L106.8 262.4L108 262.4L109.2 262.4L110.4 262.4L111.5 262.4L112.7 262.5L113.9 262.5L115.1 262.4L116.3 262.2L117.5 262L118 261.9L118.6 261.8L119.8 261.6L121 261.3L121.4 261.2L122.2 261L123.4 260.7L124 260.5L124.6 260.3L125.7 259.9L126 259.8L126.9 259.2L127.1 259.1L127.8 258.4L127.9 257.7L127.5 256.9L126.9 256.5L126.6 256.2L125.7 255.8L125.3 255.5L124.6 255.2L123.5 254.8L123.4 254.7L122.2 254.4L121.3 254.1L121 254L119.8 253.7L118.6 253.4L118.5 253.4L117.5 253.1L116.3 252.9L115.2 252.7L115.1 252.6L113.9 252.5L112.7 252.4L111.5 252.3L110.4 252.3L109.2 252.2L108 252.1L106.8 252L105.7 251.9L105.6 251.9L104.4 251.9L103.2 251.8L102.1 251.7L100.9 251.6L99.7 251.6L98.5 251.5L97.3 251.4L96.1 251.4L95 251.4L93.8 251.4L92.6 251.4L91.4 251.4L90.2 251.4L89 251.4L87.9 251.3L86.8 251.2L86.7 251.2L85.5 251.1L84.3 251.1L83.1 251L81.9 251L80.7 250.9L79.6 250.8L78.4 250.7L77.2 250.7L76 250.6L74.8 250.5L74.2 250.5L73.6 250.5L72.5 250.4L71.3 250.3L70.1 250.3L68.9 250.2L67.7 250.1L66.5 250L65.4 250L64.2 249.9L63 249.9L61.8 249.9L60.6 249.8L59.7 249.8L59.4 249.8L58.2 249.8L57.1 249.7L55.9 249.7L54.7 249.6L53.5 249.6L52.3 249.5L51.1 249.5L50 249.5L48.8 249.4L47.6 249.4L46.4 249.4L45.2 249.4L44 249.3L42.9 249.3L41.7 249.3L40.5 249.3L39.3 249.3L39.3 249.8L39.3 250L40.5 250L41.7 250L42.9 250L44 250.1L45.2 250.1L46.4 250.1L47.6 250.2L48.8 250.2L50 250.3L51.1 250.3L52.3 250.4L53.5 250.4L54.7 250.5L55.1 250.5L55.9 250.5L57.1 250.6L58.2 250.6L59.4 250.7L60.6 250.7L61.8 250.8L63 250.8L64.2 250.9L65.4 251L66.5 251.1L67.7 251.2L68.6 251.2L68.9 251.2L70.1 251.3L71.3 251.4L72.5 251.6L73.6 251.6L74.8 251.7L76 251.8L77 251.9L77.2 252L78.4 252.1L79.6 252.2L80.7 252.3L81.9 252.5L83.1 252.6L83.8 252.7L84.3 252.7L85.5 252.9L86.7 253L87.9 253.3L88.4 253.4L89 253.5L90.2 253.7L91.4 253.8L92.6 253.9L93.8 254L94.7 254.1L95 254.1L96.1 254.3L97.3 254.5L98.5 254.7L99.5 254.8L99.7 254.8L100.9 255L102.1 255.2L103.2 255.3L104.4 255.4L105.1 255.5L105.6 255.6L106.8 255.8L108 256L109.1 256.2L109.2 256.3L110.4 256.8L110.6 256.9L110.4 257L109.2 257.4L108.4 257.7L108 257.7L106.8 257.8L105.6 257.9L104.4 258L103.2 258.1L102.1 258.2L100.9 258.2L99.7 258.3L98.5 258.4L98.5 258.4L97.3 258.6L96.2 259.1L96.1 259.1L95 259.5L93.8 259.8L93.7 259.8L92.6 260L91.4 260.2L90.2 260.4L90 260.5L89 260.7L87.9 261.2L87.6 261.2L86.7 261.5L85.5 261.8L84.8 261.9L84.3 262L83.1 262.3L81.9 262.5L80.7 262.7L80.7 262.7L79.6 262.9L78.4 263.1L77.2 263.3L76.3 263.4L76 263.4L74.8 263.6L73.6 263.7L72.5 263.9L71.3 264L70.8 264.1L70.1 264.2L68.9 264.3L67.7 264.5L66.5 264.6L65.4 264.7L64.3 264.8L64.2 264.8L63 264.9L61.8 265L60.6 265.1L59.4 265.2L58.2 265.3L57.1 265.3L55.9 265.4L54.7 265.5L54.2 265.5L53.5 265.6L52.3 265.7L51.1 265.7L50 265.8L48.8 265.9L47.6 266L46.4 266L45.2 266.1L44 266.1L42.9 266.2L41.7 266.2L40.6 266.2L40.5 266.2L39.3 266.3L39.3 266.9L39.3 267.1Z" fill="#fca309" stroke="#fca309" stroke-width="0.6" fill-rule="evenodd"/>
<path d="M40.5 266.2L40.6 266.2L41.7 266.2L42.9 266.2L44 266.1L45.2 266.1L46.4 266L47.6 266L48.8 265.9L50 265.8L51.1 265.7L52.3 265.7L53.5 265.6L54.2 265.5L54.7 265.5L55.9 265.4L57.1 265.3L58.2 265.3L59.4 265.2L60.6 265.1L61.8 265L63 264.9L64.2 264.8L64.3 264.8L65.4 264.7L66.5 264.6L67.7 264.5L68.9 264.3L70.1 264.2L70.8 264.1L71.3 264L72.5 263.9L73.6 263.7L74.8 263.6L76 263.4L76.3 263.4L77.2 263.3L78.4 263.1L79.6 262.9L80.7 262.7L80.7 262.7L81.9 262.5L83.1 262.3L84.3 262L84.8 261.9L85.5 261.8L86.7 261.5L87.6 261.2L87.9 261.2L89 260.7L90 260.5L90.2 260.4L91.4 260.2L92.6 260L93.7 259.8L93.8 259.8L95 259.5L96.1 259.1L96.2 259.1L97.3 258.6L98.5 258.4L98.5 258.4L99.7 258.3L100.9 258.2L102.1 258.2L103.2 258.1L104.4 258L105.6 257.9L106.8 257.8L108 257.7L108.4 257.7L109.2 257.4L110.4 257L110.6 256.9L110.4 256.8L109.2 256.3L109.1 256.2L108 256L106.8 255.8L105.6 255.6L105.1 255.5L104.4 255.4L103.2 255.3L102.1 255.2L100.9 255L99.7 254.8L99.5 254.8L98.5 254.7L97.3 254.5L96.1 254.3L95 254.1L94.7 254.1L93.8 254L92.6 253.9L91.4 253.8L90.2 253.7L89 253.5L88.4 253.4L87.9 253.3L86.7 253L85.5 252.9L84.3 252.7L83.8 252.7L83.1 252.6L81.9 252.5L80.7 252.3L79.6 252.2L78.4 252.1L77.2 252L77 251.9L76 251.8L74.8 251.7L73.6 251.6L72.5 251.6L71.3 251.4L70.1 251.3L68.9 251.2L68.6 251.2L67.7 251.2L66.5 251.1L65.4 251L64.2 250.9L63 250.8L61.8 250.8L60.6 250.7L59.4 250.7L58.2 250.6L57.1 250.6L55.9 250.5L55.1 250.5L54.7 250.5L53.5 250.4L52.3 250.4L51.1 250.3L50 250.3L48.8 250.2L47.6 250.2L46.4 250.1L45.2 250.1L44 250.1L42.9 250L41.7 250L40.5 250L39.3 250L39.3 250.5L39.3 250.6L40.5 250.6L41.7 250.6L42.9 250.7L44 250.7L45.2 250.7L46.4 250.8L47.6 250.8L48.8 250.9L50 250.9L51.1 251L52.3 251L53.5 251.1L54.7 251.2L55.2 251.2L55.9 251.3L57.1 251.3L58.2 251.4L59.4 251.4L60.6 251.5L61.8 251.6L63 251.6L64.2 251.7L65.4 251.8L66.5 251.9L66.7 251.9L67.7 252L68.9 252.1L70.1 252.3L71.3 252.4L72.5 252.5L73.4 252.7L73.6 252.7L74.8 252.8L76 252.9L77.2 253.1L78.4 253.3L79 253.4L79.6 253.5L80.7 253.7L81.9 253.9L82.9 254.1L83.1 254.1L84.3 254.4L85.5 254.7L85.8 254.8L86.7 255.1L87.4 255.5L87.9 255.8L88.3 256.2L88.6 256.9L88.5 257.7L88.1 258.4L87.9 258.6L87.2 259.1L86.7 259.4L85.9 259.8L85.5 260L84.3 260.4L83.9 260.5L83.1 260.7L81.9 261L81.1 261.2L80.7 261.3L79.6 261.6L78.4 261.9L78 261.9L77.2 262.1L76 262.3L74.8 262.5L73.7 262.7L73.6 262.7L72.5 262.9L71.3 263.1L70.1 263.2L69.1 263.4L68.9 263.4L67.7 263.6L66.5 263.7L65.4 263.8L64.2 264L63 264.1L62.8 264.1L61.8 264.2L60.6 264.3L59.4 264.4L58.2 264.5L57.1 264.6L55.9 264.6L54.7 264.7L53.8 264.8L53.5 264.8L52.3 264.9L51.1 265L50 265.1L48.8 265.2L47.6 265.3L46.4 265.3L45.2 265.4L44 265.4L42.9 265.5L41.7 265.5L41.7 265.5L40.5 265.6L39.3 265.6L39.3 266.2L39.3 266.3Z" fill="#fa9207" stroke="#fa9207" stroke-width="0.6" fill-rule="evenodd"/>
<path d="M40.5 265.6L41.7 265.5L41.7 265.5L42.9 265.5L44 265.4L45.2 265.4L46.4 265.3L47.6 265.3L48.8 265.2L50 265.1L51.1 265L52.3 264.9L53.5 264.8L53.8 264.8L54.7 264.7L55.9 264.6L57.1 264.6L58.2 264.5L59.4 264.4L60.6 264.3L61.8 264.2L62.8 264.1L63 264.1L64.2 264L65.4 263.8L66.5 263.7L67.7 263.6L68.9 263.4L69.1 263.4L70.1 263.2L71.3 263.1L72.5 262.9L73.6 262.7L73.7 262.7L74.8 262.5L76 262.3L77.2 262.1L78 261.9L78.4 261.9L79.6 261.6L80.7 261.3L81.1 261.2L81.9 261L83.1 260.7L83.9 260.5L84.3 260.4L85.5 260L85.9 259.8L86.7 259.4L87.2 259.1L87.9 258.6L88.1 258.4L88.5 257.7L88.6 256.9L88.3 256.2L87.9 255.8L87.4 255.5L86.7 255.1L85.8 254.8L85.5 254.7L84.3 254.4L83.1 254.1L82.9 254.1L81.9 253.9L80.7 253.7L79.6 253.5L79 253.4L78.4 253.3L77.2 253.1L76 252.9L74.8 252.8L73.6 252.7L73.4 252.7L72.5 252.5L71.3 252.4L70.1 252.3L68.9 252.1L67.7 252L66.7 251.9L66.5 251.9L65.4 251.8L64.2 251.7L63 251.6L61.8 251.6L60.6 251.5L59.4 251.4L58.2 251.4L57.1 251.3L55.9 251.3L55.2 251.2L54.7 251.2L53.5 251.1L52.3 251L51.1 251L50 250.9L48.8 250.9L47.6 250.8L46.4 250.8L45.2 250.7L44 250.7L42.9 250.7L41.7 250.6L40.5 250.6L39.3 250.6L39.3 251.1L40.5 251.1L41.7 251.2L42.9 251.2L43.3 251.2L44 251.2L45.2 251.3L46.4 251.3L47.6 251.4L48.8 251.4L50 251.5L51.1 251.6L52.3 251.6L53.5 251.7L54.7 251.8L55.9 251.9L56.9 251.9L57.1 252L58.2 252L59.4 252.1L60.6 252.2L61.8 252.2L63 252.3L64.2 252.4L65.4 252.5L66.4 252.7L66.5 252.7L67.7 252.8L68.9 252.9L70.1 253.1L71.3 253.2L72 253.4L72.5 253.4L73.6 253.6L74.8 253.8L76 253.9L76.8 254.1L77.2 254.2L78.4 254.4L79.6 254.7L79.9 254.8L80.7 255.1L81.9 255.4L82.2 255.5L83.1 255.9L83.7 256.2L84.3 256.8L84.5 256.9L84.5 257.7L84.3 257.9L83.9 258.4L83.1 258.9L82.8 259.1L81.9 259.4L81 259.8L80.7 259.9L79.6 260.3L79 260.5L78.4 260.7L77.2 261L76.2 261.2L76 261.3L74.8 261.5L73.6 261.7L72.5 261.9L72.4 261.9L71.3 262.2L70.1 262.4L68.9 262.6L68.4 262.7L67.7 262.8L66.5 262.9L65.4 263.1L64.2 263.2L63 263.3L62.7 263.4L61.8 263.5L60.6 263.6L59.4 263.7L58.2 263.8L57.1 263.9L55.9 264L54.7 264.1L54.6 264.1L53.5 264.2L52.3 264.3L51.1 264.4L50 264.5L48.8 264.6L47.6 264.7L46.4 264.7L45.2 264.8L44.6 264.8L44 264.8L42.9 264.9L41.7 264.9L40.5 265L39.3 265.1L39.3 265.5L39.3 265.6Z" fill="#f78212" stroke="#f78212" stroke-width="0.6" fill-rule="evenodd"/>
<path d="M40.5 265L41.7 264.9L42.9 264.9L44 264.8L44.6 264.8L45.2 264.8L46.4 264.7L47.6 264.7L48.8 264.6L50 264.5L51.1 264.4L52.3 264.3L53.5 264.2L54.6 264.1L54.7 264.1L55.9 264L57.1 263.9L58.2 263.8L59.4 263.7L60.6 263.6L61.8 263.5L62.7 263.4L63 263.3L64.2 263.2L65.4 263.1L66.5 262.9L67.7 262.8L68.4 262.7L68.9 262.6L70.1 262.4L71.3 262.2L72.4 261.9L72.5 261.9L73.6 261.7L74.8 261.5L76 261.3L76.2 261.2L77.2 261L78.4 260.7L79 260.5L79.6 260.3L80.7 259.9L81 259.8L81.9 259.4L82.8 259.1L83.1 258.9L83.9 258.4L84.3 257.9L84.5 257.7L84.5 256.9L84.3 256.8L83.7 256.2L83.1 255.9L82.2 255.5L81.9 255.4L80.7 255.1L79.9 254.8L79.6 254.7L78.4 254.4L77.2 254.2L76.8 254.1L76 253.9L74.8 253.8L73.6 253.6L72.5 253.4L72 253.4L71.3 253.2L70.1 253.1L68.9 252.9L67.7 252.8L66.5 252.7L66.4 252.7L65.4 252.5L64.2 252.4L63 252.3L61.8 252.2L60.6 252.2L59.4 252.1L58.2 252L57.1 252L56.9 251.9L55.9 251.9L54.7 251.8L53.5 251.7L52.3 251.6L51.1 251.6L50 251.5L48.8 251.4L47.6 251.4L46.4 251.3L45.2 251.3L44 251.2L43.3 251.2L42.9 251.2L41.7 251.2L40.5 251.1L39.3 251.1L39.3 251.2L39.3 251.5L40.5 251.6L41.7 251.6L42.9 251.7L44 251.7L45.2 251.7L46.4 251.8L47.6 251.8L48.8 251.9L49 251.9L50 252L51.1 252.1L52.3 252.1L53.5 252.2L54.7 252.3L55.9 252.4L57.1 252.5L58.2 252.6L59.2 252.7L59.4 252.7L60.6 252.8L61.8 252.9L63 253L64.2 253.1L65.4 253.2L66.5 253.3L66.8 253.4L67.7 253.5L68.9 253.6L70.1 253.8L71.3 254L71.6 254.1L72.5 254.3L73.6 254.5L74.8 254.7L75.4 254.8L76 254.9L77.2 255.2L78.1 255.5L78.4 255.6L79.6 256.1L79.7 256.2L80.5 256.9L80.6 257.7L80.1 258.4L79.6 258.8L79.1 259.1L78.4 259.4L77.4 259.8L77.2 259.9L76 260.2L74.9 260.5L74.8 260.5L73.6 260.8L72.5 261.1L71.8 261.2L71.3 261.3L70.1 261.6L68.9 261.8L68.2 261.9L67.7 262L66.5 262.2L65.4 262.4L64.2 262.5L63.2 262.7L63 262.7L61.8 262.8L60.6 262.9L59.4 263.1L58.2 263.2L57.1 263.3L55.9 263.4L55.9 263.4L54.7 263.5L53.5 263.6L52.3 263.7L51.1 263.8L50 263.9L48.8 264L47.9 264.1L47.6 264.1L46.4 264.2L45.2 264.3L44 264.3L42.9 264.4L41.7 264.4L40.5 264.5L39.3 264.6L39.3 264.8L39.3 265.1Z" fill="#f1731d" stroke="#f1731d" stroke-width="0.6" fill-rule="evenodd"/>
<path d="M40.5 264.5L41.7 264.4L42.9 264.4L44 264.3L45.2 264.3L46.4 264.2L47.6 264.1L47.9 264.1L48.8 264L50 263.9L51.1 263.8L52.3 263.7L53.5 263.6L54.7 263.5L55.9 263.4L55.9 263.4L57.1 263.3L58.2 263.2L59.4 263.1L60.6 262.9L61.8 262.8L63 262.7L63.2 262.7L64.2 262.5L65.4 262.4L66.5 262.2L67.7 262L68.2 261.9L68.9 261.8L70.1 261.6L71.3 261.3L71.8 261.2L72.5 261.1L73.6 260.8L74.8 260.5L74.9 260.5L76 260.2L77.2 259.9L77.4 259.8L78.4 259.4L79.1 259.1L79.6 258.8L80.1 258.4L80.6 257.7L80.5 256.9L79.7 256.2L79.6 256.1L78.4 255.6L78.1 255.5L77.2 255.2L76 254.9L75.4 254.8L74.8 254.7L73.6 254.5L72.5 254.3L71.6 254.1L71.3 254L70.1 253.8L68.9 253.6L67.7 253.5L66.8 253.4L66.5 253.3L65.4 253.2L64.2 253.1L63 253L61.8 252.9L60.6 252.8L59.4 252.7L59.2 252.7L58.2 252.6L57.1 252.5L55.9 252.4L54.7 252.3L53.5 252.2L52.3 252.1L51.1 252.1L50 252L49 251.9L48.8 251.9L47.6 251.8L46.4 251.8L45.2 251.7L44 251.7L42.9 251.7L41.7 251.6L40.5 251.6L39.3 251.5L39.3 251.9L39.3 251.9L40.5 252L41.7 252L42.9 252.1L44 252.1L45.2 252.2L46.4 252.2L47.6 252.3L48.8 252.3L50 252.4L51.1 252.5L52.3 252.6L52.8 252.7L53.5 252.7L54.7 252.8L55.9 252.9L57.1 253L58.2 253.1L59.4 253.2L60.6 253.3L61.4 253.4L61.8 253.4L63 253.5L64.2 253.6L65.4 253.8L66.5 253.9L67.5 254.1L67.7 254.1L68.9 254.3L70.1 254.5L71.3 254.8L71.4 254.8L72.5 255.1L73.6 255.3L74.4 255.5L74.8 255.7L76 256.1L76.5 256.2L77.2 256.7L77.5 256.9L77.7 257.7L77.2 258.3L77.1 258.4L76 259L75.9 259.1L74.8 259.5L73.9 259.8L73.6 259.9L72.5 260.2L71.4 260.5L71.3 260.5L70.1 260.8L68.9 261.1L68.2 261.2L67.7 261.3L66.5 261.5L65.4 261.7L64.2 261.9L63.9 261.9L63 262.1L61.8 262.2L60.6 262.4L59.4 262.5L58.2 262.6L57.8 262.7L57.1 262.7L55.9 262.8L54.7 263L53.5 263.1L52.3 263.2L51.1 263.3L50.6 263.4L50 263.4L48.8 263.5L47.6 263.6L46.4 263.7L45.2 263.8L44 263.9L42.9 263.9L41.7 264L40.5 264L39.3 264.1L39.3 264.1L39.3 264.6Z" fill="#eb6429" stroke="#eb6429" stroke-width="0.6" fill-rule="evenodd"/>
<path d="M39.3 264.1L40.5 264L41.7 264L42.9 263.9L44 263.9L45.2 263.8L46.4 263.7L47.6 263.6L48.8 263.5L50 263.4L50.6 263.4L51.1 263.3L52.3 263.2L53.5 263.1L54.7 263L55.9 262.8L57.1 262.7L57.8 262.7L58.2 262.6L59.4 262.5L60.6 262.4L61.8 262.2L63 262.1L63.9 261.9L64.2 261.9L65.4 261.7L66.5 261.5L67.7 261.3L68.2 261.2L68.9 261.1L70.1 260.8L71.3 260.5L71.4 260.5L72.5 260.2L73.6 259.9L73.9 259.8L74.8 259.5L75.9 259.1L76 259L77.1 258.4L77.2 258.3L77.7 257.7L77.5 256.9L77.2 256.7L76.5 256.2L76 256.1L74.8 255.7L74.4 255.5L73.6 255.3L72.5 255.1L71.4 254.8L71.3 254.8L70.1 254.5L68.9 254.3L67.7 254.1L67.5 254.1L66.5 253.9L65.4 253.8L64.2 253.6L63 253.5L61.8 253.4L61.4 253.4L60.6 253.3L59.4 253.2L58.2 253.1L57.1 253L55.9 252.9L54.7 252.8L53.5 252.7L52.8 252.7L52.3 252.6L51.1 252.5L50 252.4L48.8 252.3L47.6 252.3L46.4 252.2L45.2 252.2L44 252.1L42.9 252.1L41.7 252L40.5 252L39.3 251.9L39.3 252.3L40.5 252.3L41.7 252.4L42.9 252.4L44 252.5L45.2 252.6L46.4 252.6L47 252.7L47.6 252.7L48.8 252.8L50 252.8L51.1 252.9L52.3 253L53.5 253.1L54.7 253.2L55.9 253.4L56 253.4L57.1 253.5L58.2 253.6L59.4 253.7L60.6 253.8L61.8 253.9L63 254L63.3 254.1L64.2 254.2L65.4 254.4L66.5 254.5L67.7 254.7L68.1 254.8L68.9 255L70.1 255.2L71.2 255.5L71.3 255.5L72.5 256L73.2 256.2L73.6 256.4L74.5 256.9L74.8 257.7L74.1 258.4L73.6 258.6L72.8 259.1L72.5 259.2L71.3 259.7L70.9 259.8L70.1 260.1L68.9 260.4L68.3 260.5L67.7 260.7L66.5 260.9L65.4 261.1L64.7 261.2L64.2 261.3L63 261.5L61.8 261.7L60.6 261.8L59.5 261.9L59.4 262L58.2 262.1L57.1 262.2L55.9 262.3L54.7 262.5L53.5 262.6L53.2 262.7L52.3 262.7L51.1 262.9L50 263L48.8 263.1L47.6 263.2L46.4 263.3L45.2 263.3L44.7 263.4L44 263.4L42.9 263.5L41.7 263.6L40.5 263.6L39.3 263.7L39.3 264.1L39.3 264.1Z" fill="#e25734" stroke="#e25734" stroke-width="0.6" fill-rule="evenodd"/>
<path d="M40.5 263.6L41.7 263.6L42.9 263.5L44 263.4L44.7 263.4L45.2 263.3L46.4 263.3L47.6 263.2L48.8 263.1L50 263L51.1 262.9L52.3 262.7L53.2 262.7L53.5 262.6L54.7 262.5L55.9 262.3L57.1 262.2L58.2 262.1L59.4 262L59.5 261.9L60.6 261.8L61.8 261.7L63 261.5L64.2 261.3L64.7 261.2L65.4 261.1L66.5 260.9L67.7 260.7L68.3 260.5L68.9 260.4L70.1 260.1L70.9 259.8L71.3 259.7L72.5 259.2L72.8 259.1L73.6 258.6L74.1 258.4L74.8 257.7L74.5 256.9L73.6 256.4L73.2 256.2L72.5 256L71.3 255.5L71.2 255.5L70.1 255.2L68.9 255L68.1 254.8L67.7 254.7L66.5 254.5L65.4 254.4L64.2 254.2L63.3 254.1L63 254L61.8 253.9L60.6 253.8L59.4 253.7L58.2 253.6L57.1 253.5L56 253.4L55.9 253.4L54.7 253.2L53.5 253.1L52.3 253L51.1 252.9L50 252.8L48.8 252.8L47.6 252.7L47 252.7L46.4 252.6L45.2 252.6L44 252.5L42.9 252.4L41.7 252.4L40.5 252.3L39.3 252.3L39.3 252.6L39.6 252.7L40.5 252.7L41.7 252.7L42.9 252.8L44 252.8L45.2 252.9L46.4 253L47.6 253L48.8 253.1L50 253.2L51.1 253.3L51.7 253.4L52.3 253.4L53.5 253.5L54.7 253.6L55.9 253.8L57.1 253.9L58.2 254L59.1 254.1L59.4 254.1L60.6 254.2L61.8 254.4L63 254.5L64.2 254.7L64.7 254.8L65.4 254.9L66.5 255.1L67.7 255.4L68.4 255.5L68.9 255.7L70.1 256L70.7 256.2L71.3 256.6L71.8 256.9L72.1 257.7L71.6 258.4L71.3 258.5L70.3 259.1L70.1 259.2L68.9 259.6L68.3 259.8L67.7 259.9L66.5 260.2L65.4 260.5L65.3 260.5L64.2 260.7L63 260.9L61.8 261.1L61.1 261.2L60.6 261.3L59.4 261.5L58.2 261.6L57.1 261.7L55.9 261.9L55.3 261.9L54.7 262L53.5 262.2L52.3 262.3L51.1 262.4L50 262.6L48.9 262.7L48.8 262.7L47.6 262.8L46.4 262.9L45.2 262.9L44 263L42.9 263.1L41.7 263.2L40.5 263.2L39.3 263.3L39.3 263.4L39.3 263.7Z" fill="#d94d3d" stroke="#d94d3d" stroke-width="0.6" fill-rule="evenodd"/>
<path d="M40.5 263.2L41.7 263.2L42.9 263.1L44 263L45.2 262.9L46.4 262.9L47.6 262.8L48.8 262.7L48.9 262.7L50 262.6L51.1 262.4L52.3 262.3L53.5 262.2L54.7 262L55.3 261.9L55.9 261.9L57.1 261.7L58.2 261.6L59.4 261.5L60.6 261.3L61.1 261.2L61.8 261.1L63 260.9L64.2 260.7L65.3 260.5L65.4 260.5L66.5 260.2L67.7 259.9L68.3 259.8L68.9 259.6L70.1 259.2L70.3 259.1L71.3 258.5L71.6 258.4L72.1 257.7L71.8 256.9L71.3 256.6L70.7 256.2L70.1 256L68.9 255.7L68.4 255.5L67.7 255.4L66.5 255.1L65.4 254.9L64.7 254.8L64.2 254.7L63 254.5L61.8 254.4L60.6 254.2L59.4 254.1L59.1 254.1L58.2 254L57.1 253.9L55.9 253.8L54.7 253.6L53.5 253.5L52.3 253.4L51.7 253.4L51.1 253.3L50 253.2L48.8 253.1L47.6 253L46.4 253L45.2 252.9L44 252.8L42.9 252.8L41.7 252.7L40.5 252.7L39.6 252.7L39.3 252.6L39.3 252.7L39.3 252.9L40.5 253L41.7 253L42.9 253.1L44 253.2L45.2 253.2L46.4 253.3L47.4 253.4L47.6 253.4L48.8 253.5L50 253.6L51.1 253.7L52.3 253.8L53.5 253.9L54.7 254L55.1 254.1L55.9 254.2L57.1 254.3L58.2 254.4L59.4 254.6L60.6 254.7L61.3 254.8L61.8 254.9L63 255L64.2 255.2L65.4 255.5L65.6 255.5L66.5 255.7L67.7 256.1L68.2 256.2L68.9 256.6L69.6 256.9L69.9 257.7L69.3 258.4L68.9 258.6L67.9 259.1L67.7 259.2L66.5 259.5L65.6 259.8L65.4 259.9L64.2 260.1L63 260.4L62.2 260.5L61.8 260.6L60.6 260.8L59.4 261L58.2 261.1L57.4 261.2L57.1 261.3L55.9 261.4L54.7 261.6L53.5 261.7L52.3 261.9L51.9 261.9L51.1 262L50 262.2L48.8 262.3L47.6 262.4L46.4 262.5L45.2 262.6L44 262.6L43.8 262.7L42.9 262.7L41.7 262.8L40.5 262.9L39.3 262.9L39.3 263.3Z" fill="#ce4347" stroke="#ce4347" stroke-width="0.6" fill-rule="evenodd"/>
<path d="M40.5 262.9L41.7 262.8L42.9 262.7L43.8 262.7L44 262.6L45.2 262.6L46.4 262.5L47.6 262.4L48.8 262.3L50 262.2L51.1 262L51.9 261.9L52.3 261.9L53.5 261.7L54.7 261.6L55.9 261.4L57.1 261.3L57.4 261.2L58.2 261.1L59.4 261L60.6 260.8L61.8 260.6L62.2 260.5L63 260.4L64.2 260.1L65.4 259.9L65.6 259.8L66.5 259.5L67.7 259.2L67.9 259.1L68.9 258.6L69.3 258.4L69.9 257.7L69.6 256.9L68.9 256.6L68.2 256.2L67.7 256.1L66.5 255.7L65.6 255.5L65.4 255.5L64.2 255.2L63 255L61.8 254.9L61.3 254.8L60.6 254.7L59.4 254.6L58.2 254.4L57.1 254.3L55.9 254.2L55.1 254.1L54.7 254L53.5 253.9L52.3 253.8L51.1 253.7L50 253.6L48.8 253.5L47.6 253.4L47.4 253.4L46.4 253.3L45.2 253.2L44 253.2L42.9 253.1L41.7 253L40.5 253L39.3 252.9L39.3 253.2L40.5 253.3L41.7 253.4L41.8 253.4L42.9 253.4L44 253.5L45.2 253.5L46.4 253.6L47.6 253.7L48.8 253.8L50 253.9L51.1 254L51.8 254.1L52.3 254.1L53.5 254.3L54.7 254.4L55.9 254.6L57.1 254.7L57.9 254.8L58.2 254.8L59.4 255L60.6 255.2L61.8 255.3L62.8 255.5L63 255.5L64.2 255.8L65.4 256.1L65.8 256.2L66.5 256.5L67.4 256.9L67.7 257.6L67.7 257.7L67.7 257.7L67.1 258.4L66.5 258.6L65.5 259.1L65.4 259.1L64.2 259.5L63 259.8L63 259.8L61.8 260L60.6 260.3L59.4 260.5L59.1 260.5L58.2 260.7L57.1 260.8L55.9 261L54.7 261.2L54.2 261.2L53.5 261.3L52.3 261.5L51.1 261.6L50 261.8L48.8 261.9L48.4 261.9L47.6 262L46.4 262.1L45.2 262.2L44 262.3L42.9 262.4L41.7 262.5L40.5 262.5L39.3 262.6L39.3 262.7L39.3 262.9Z" fill="#c13a50" stroke="#c13a50" stroke-width="0.6" fill-rule="evenodd"/>
<path d="M40.5 262.5L41.7 262.5L42.9 262.4L44 262.3L45.2 262.2L46.4 262.1L47.6 262L48.4 261.9L48.8 261.9L50 261.8L51.1 261.6L52.3 261.5L53.5 261.3L54.2 261.2L54.7 261.2L55.9 261L57.1 260.8L58.2 260.7L59.1 260.5L59.4 260.5L60.6 260.3L61.8 260L63 259.8L63 259.8L64.2 259.5L65.4 259.1L65.5 259.1L66.5 258.6L67.1 258.4L67.7 257.7L67.7 257.7L67.7 257.6L67.4 256.9L66.5 256.5L65.8 256.2L65.4 256.1L64.2 255.8L63 255.5L62.8 255.5L61.8 255.3L60.6 255.2L59.4 255L58.2 254.8L57.9 254.8L57.1 254.7L55.9 254.6L54.7 254.4L53.5 254.3L52.3 254.1L51.8 254.1L51.1 254L50 253.9L48.8 253.8L47.6 253.7L46.4 253.6L45.2 253.5L44 253.5L42.9 253.4L41.8 253.4L41.7 253.4L40.5 253.3L39.3 253.2L39.3 253.4L39.3 253.5L40.5 253.6L41.7 253.6L42.9 253.7L44 253.8L45.2 253.8L46.4 253.9L47.6 254L48.4 254.1L48.8 254.1L50 254.2L51.1 254.3L52.3 254.5L53.5 254.6L54.7 254.8L54.9 254.8L55.9 254.9L57.1 255.1L58.2 255.3L59.4 255.4L60 255.5L60.6 255.6L61.8 255.9L63 256.1L63.4 256.2L64.2 256.5L65.2 256.9L65.4 257.2L65.6 257.7L65.4 257.9L64.9 258.4L64.2 258.7L63.1 259.1L63 259.1L61.8 259.4L60.6 259.7L60.3 259.8L59.4 260L58.2 260.2L57.1 260.4L56.1 260.5L55.9 260.5L54.7 260.7L53.5 260.9L52.3 261.1L51.4 261.2L51.1 261.3L50 261.4L48.8 261.6L47.6 261.7L46.4 261.8L45.2 261.9L44.2 261.9L44 262L42.9 262L41.7 262.1L40.5 262.2L39.3 262.3L39.3 262.6Z" fill="#b43359" stroke="#b43359" stroke-width="0.6" fill-rule="evenodd"/>
<path d="M40.5 262.2L41.7 262.1L42.9 262L44 262L44.2 261.9L45.2 261.9L46.4 261.8L47.6 261.7L48.8 261.6L50 261.4L51.1 261.3L51.4 261.2L52.3 261.1L53.5 260.9L54.7 260.7L55.9 260.5L56.1 260.5L57.1 260.4L58.2 260.2L59.4 260L60.3 259.8L60.6 259.7L61.8 259.4L63 259.1L63.1 259.1L64.2 258.7L64.9 258.4L65.4 257.9L65.6 257.7L65.4 257.2L65.2 256.9L64.2 256.5L63.4 256.2L63 256.1L61.8 255.9L60.6 255.6L60 255.5L59.4 255.4L58.2 255.3L57.1 255.1L55.9 254.9L54.9 254.8L54.7 254.8L53.5 254.6L52.3 254.5L51.1 254.3L50 254.2L48.8 254.1L48.4 254.1L47.6 254L46.4 253.9L45.2 253.8L44 253.8L42.9 253.7L41.7 253.6L40.5 253.6L39.3 253.5L39.3 253.8L40.5 253.8L41.7 253.9L42.9 254L44 254.1L44.4 254.1L45.2 254.1L46.4 254.2L47.6 254.3L48.8 254.4L50 254.5L51.1 254.7L52.2 254.8L52.3 254.8L53.5 255L54.7 255.1L55.9 255.3L57.1 255.5L57.2 255.5L58.2 255.7L59.4 255.9L60.6 256.2L60.9 256.2L61.8 256.5L62.9 256.9L63 257L63.4 257.7L63 258L62.6 258.4L61.8 258.7L60.7 259.1L60.6 259.1L59.4 259.4L58.2 259.7L57.6 259.8L57.1 259.9L55.9 260.1L54.7 260.3L53.6 260.5L53.5 260.5L52.3 260.7L51.1 260.9L50 261L48.8 261.2L48.5 261.2L47.6 261.3L46.4 261.4L45.2 261.5L44 261.6L42.9 261.7L41.7 261.8L40.5 261.9L39.8 261.9L39.3 262L39.3 262.3Z" fill="#a62d60" stroke="#a62d60" stroke-width="0.6" fill-rule="evenodd"/>
<path d="M39.8 261.9L40.5 261.9L41.7 261.8L42.9 261.7L44 261.6L45.2 261.5L46.4 261.4L47.6 261.3L48.5 261.2L48.8 261.2L50 261L51.1 260.9L52.3 260.7L53.5 260.5L53.6 260.5L54.7 260.3L55.9 260.1L57.1 259.9L57.6 259.8L58.2 259.7L59.4 259.4L60.6 259.1L60.7 259.1L61.8 258.7L62.6 258.4L63 258L63.4 257.7L63 257L62.9 256.9L61.8 256.5L60.9 256.2L60.6 256.2L59.4 255.9L58.2 255.7L57.2 255.5L57.1 255.5L55.9 255.3L54.7 255.1L53.5 255L52.3 254.8L52.2 254.8L51.1 254.7L50 254.5L48.8 254.4L47.6 254.3L46.4 254.2L45.2 254.1L44.4 254.1L44 254.1L42.9 254L41.7 253.9L40.5 253.8L39.3 253.8L39.3 254L40.1 254.1L40.5 254.1L41.7 254.2L42.9 254.2L44 254.3L45.2 254.4L46.4 254.5L47.6 254.6L48.8 254.7L49.5 254.8L50 254.8L51.1 255L52.3 255.2L53.5 255.3L54.7 255.5L54.7 255.5L55.9 255.7L57.1 256L58.2 256.2L58.5 256.2L59.4 256.5L60.6 256.9L60.7 256.9L61.2 257.7L60.6 258.2L60.4 258.4L59.4 258.7L58.3 259.1L58.2 259.1L57.1 259.4L55.9 259.6L55.1 259.8L54.7 259.9L53.5 260.1L52.3 260.3L51.2 260.5L51.1 260.5L50 260.7L48.8 260.9L47.6 261L46.4 261.1L45.2 261.2L45.1 261.2L44 261.3L42.9 261.4L41.7 261.5L40.5 261.6L39.3 261.7L39.3 261.9L39.3 262Z" fill="#982766" stroke="#982766" stroke-width="0.6" fill-rule="evenodd"/>
<path d="M40.5 261.6L41.7 261.5L42.9 261.4L44 261.3L45.1 261.2L45.2 261.2L46.4 261.1L47.6 261L48.8 260.9L50 260.7L51.1 260.5L51.2 260.5L52.3 260.3L53.5 260.1L54.7 259.9L55.1 259.8L55.9 259.6L57.1 259.4L58.2 259.1L58.3 259.1L59.4 258.7L60.4 258.4L60.6 258.2L61.2 257.7L60.7 256.9L60.6 256.9L59.4 256.5L58.5 256.2L58.2 256.2L57.1 256L55.9 255.7L54.7 255.5L54.7 255.5L53.5 255.3L52.3 255.2L51.1 255L50 254.8L49.5 254.8L48.8 254.7L47.6 254.6L46.4 254.5L45.2 254.4L44 254.3L42.9 254.2L41.7 254.2L40.5 254.1L40.1 254.1L39.3 254L39.3 254.1L39.3 254.3L40.5 254.4L41.7 254.4L42.9 254.5L44 254.6L45.2 254.7L46.4 254.8L46.6 254.8L47.6 254.9L48.8 255L50 255.2L51.1 255.3L52.3 255.5L52.5 255.5L53.5 255.7L54.7 255.9L55.9 256.2L56.1 256.2L57.1 256.5L58.2 256.9L58.4 256.9L59 257.7L58.2 258.3L58.1 258.4L57.1 258.7L55.9 259.1L55.9 259.1L54.7 259.4L53.5 259.7L53 259.8L52.3 259.9L51.1 260.1L50 260.3L48.8 260.5L48.7 260.5L47.6 260.7L46.4 260.8L45.2 260.9L44 261L42.9 261.1L41.7 261.2L41.4 261.2L40.5 261.3L39.3 261.4L39.3 261.7Z" fill="#8c2369" stroke="#8c2369" stroke-width="0.6" fill-rule="evenodd"/>
<path d="M40.5 261.3L41.4 261.2L41.7 261.2L42.9 261.1L44 261L45.2 260.9L46.4 260.8L47.6 260.7L48.7 260.5L48.8 260.5L50 260.3L51.1 260.1L52.3 259.9L53 259.8L53.5 259.7L54.7 259.4L55.9 259.1L55.9 259.1L57.1 258.7L58.1 258.4L58.2 258.3L59 257.7L58.4 256.9L58.2 256.9L57.1 256.5L56.1 256.2L55.9 256.2L54.7 255.9L53.5 255.7L52.5 255.5L52.3 255.5L51.1 255.3L50 255.2L48.8 255L47.6 254.9L46.6 254.8L46.4 254.8L45.2 254.7L44 254.6L42.9 254.5L41.7 254.4L40.5 254.4L39.3 254.3L39.3 254.5L40.5 254.6L41.7 254.7L42.9 254.8L43.2 254.8L44 254.9L45.2 255L46.4 255.1L47.6 255.2L48.8 255.3L50 255.5L50.2 255.5L51.1 255.7L52.3 255.9L53.5 256.1L54.1 256.2L54.7 256.4L55.9 256.8L56.2 256.9L56.8 257.7L55.9 258.4L55.9 258.4L54.7 258.8L54 259.1L53.5 259.2L52.3 259.5L51.1 259.7L50.9 259.8L50 260L48.8 260.1L47.6 260.3L46.4 260.5L45.9 260.5L45.2 260.6L44 260.7L42.9 260.8L41.7 260.9L40.5 261L39.3 261.1L39.3 261.2L39.3 261.4Z" fill="#7d1e6d" stroke="#7d1e6d" stroke-width="0.6" fill-rule="evenodd"/>
<path d="M40.5 261L41.7 260.9L42.9 260.8L44 260.7L45.2 260.6L45.9 260.5L46.4 260.5L47.6 260.3L48.8 260.1L50 260L50.9 259.8L51.1 259.7L52.3 259.5L53.5 259.2L54 259.1L54.7 258.8L55.9 258.4L55.9 258.4L56.8 257.7L56.2 256.9L55.9 256.8L54.7 256.4L54.1 256.2L53.5 256.1L52.3 255.9L51.1 255.7L50.2 255.5L50 255.5L48.8 255.3L47.6 255.2L46.4 255.1L45.2 255L44 254.9L43.2 254.8L42.9 254.8L41.7 254.7L40.5 254.6L39.3 254.5L39.3 254.8L39.8 254.8L40.5 254.8L41.7 254.9L42.9 255L44 255.1L45.2 255.2L46.4 255.3L47.6 255.5L48 255.5L48.8 255.6L50 255.8L51.1 256L52.1 256.2L52.3 256.3L53.5 256.6L54.4 256.9L54.7 257.4L54.9 257.7L54.7 257.9L54.1 258.4L53.5 258.6L52.3 259L52.1 259.1L51.1 259.3L50 259.6L48.8 259.8L48.7 259.8L47.6 260L46.4 260.1L45.2 260.3L44 260.4L42.9 260.5L42.8 260.5L41.7 260.6L40.5 260.7L39.3 260.8L39.3 261.1Z" fill="#6f196e" stroke="#6f196e" stroke-width="0.6" fill-rule="evenodd"/>
<path d="M40.5 260.7L41.7 260.6L42.8 260.5L42.9 260.5L44 260.4L45.2 260.3L46.4 260.1L47.6 260L48.7 259.8L48.8 259.8L50 259.6L51.1 259.3L52.1 259.1L52.3 259L53.5 258.6L54.1 258.4L54.7 257.9L54.9 257.7L54.7 257.4L54.4 256.9L53.5 256.6L52.3 256.3L52.1 256.2L51.1 256L50 255.8L48.8 255.6L48 255.5L47.6 255.5L46.4 255.3L45.2 255.2L44 255.1L42.9 255L41.7 254.9L40.5 254.8L39.8 254.8L39.3 254.8L39.3 254.8L39.3 255L40.5 255.1L41.7 255.2L42.9 255.3L44 255.4L45.2 255.5L45.2 255.5L46.4 255.6L47.6 255.8L48.8 256L50 256.2L50.2 256.2L51.1 256.5L52.3 256.9L52.6 256.9L53.2 257.7L52.3 258.4L52.3 258.4L51.1 258.8L50.2 259.1L50 259.1L48.8 259.4L47.6 259.6L46.4 259.8L46.3 259.8L45.2 259.9L44 260.1L42.9 260.2L41.7 260.3L40.5 260.4L39.7 260.5L39.3 260.6L39.3 260.8Z" fill="#61136e" stroke="#61136e" stroke-width="0.6" fill-rule="evenodd"/>
<path d="M39.7 260.5L40.5 260.4L41.7 260.3L42.9 260.2L44 260.1L45.2 259.9L46.3 259.8L46.4 259.8L47.6 259.6L48.8 259.4L50 259.1L50.2 259.1L51.1 258.8L52.3 258.4L52.3 258.4L53.2 257.7L52.6 256.9L52.3 256.9L51.1 256.5L50.2 256.2L50 256.2L48.8 256L47.6 255.8L46.4 255.6L45.2 255.5L45.2 255.5L44 255.4L42.9 255.3L41.7 255.2L40.5 255.1L39.3 255L39.3 255.2L40.5 255.3L41.7 255.4L42.4 255.5L42.9 255.6L44 255.7L45.2 255.8L46.4 256L47.6 256.1L48.2 256.2L48.8 256.4L50 256.7L50.8 256.9L51.1 257.3L51.4 257.7L51.1 257.9L50.5 258.4L50 258.6L48.8 258.9L48.2 259.1L47.6 259.2L46.4 259.4L45.2 259.6L44 259.7L43.6 259.8L42.9 259.9L41.7 260L40.5 260.1L39.3 260.3L39.3 260.5L39.3 260.6Z" fill="#520e6d" stroke="#520e6d" stroke-width="0.6" fill-rule="evenodd"/>
<path d="M40.5 260.1L41.7 260L42.9 259.9L43.6 259.8L44 259.7L45.2 259.6L46.4 259.4L47.6 259.2L48.2 259.1L48.8 258.9L50 258.6L50.5 258.4L51.1 257.9L51.4 257.7L51.1 257.3L50.8 256.9L50 256.7L48.8 256.4L48.2 256.2L47.6 256.1L46.4 256L45.2 255.8L44 255.7L42.9 255.6L42.4 255.5L41.7 255.4L40.5 255.3L39.3 255.2L39.3 255.5L39.6 255.5L40.5 255.6L41.7 255.7L42.9 255.9L44 256L45.2 256.1L46 256.2L46.4 256.3L47.6 256.6L48.8 256.9L49 256.9L49.7 257.7L48.8 258.3L48.7 258.4L47.6 258.7L46.4 259L46 259.1L45.2 259.2L44 259.4L42.9 259.5L41.7 259.7L40.9 259.8L40.5 259.8L39.3 260L39.3 260.3Z" fill="#440a68" stroke="#440a68" stroke-width="0.6" fill-rule="evenodd"/>
<path d="M40.5 259.8L40.9 259.8L41.7 259.7L42.9 259.5L44 259.4L45.2 259.2L46 259.1L46.4 259L47.6 258.7L48.7 258.4L48.8 258.3L49.7 257.7L49 256.9L48.8 256.9L47.6 256.6L46.4 256.3L46 256.2L45.2 256.1L44 256L42.9 255.9L41.7 255.7L40.5 255.6L39.6 255.5L39.3 255.5L39.3 255.5L39.3 255.8L40.5 255.9L41.7 256L42.9 256.1L43.5 256.2L44 256.3L45.2 256.5L46.4 256.8L47.1 256.9L47.6 257.3L47.9 257.7L47.6 257.9L46.8 258.4L46.4 258.5L45.2 258.7L44 259L43.6 259.1L42.9 259.2L41.7 259.4L40.5 259.5L39.3 259.7L39.3 259.8L39.3 260Z" fill="#360961" stroke="#360961" stroke-width="0.6" fill-rule="evenodd"/>
<path d="M40.5 259.5L41.7 259.4L42.9 259.2L43.6 259.1L44 259L45.2 258.7L46.4 258.5L46.8 258.4L47.6 257.9L47.9 257.7L47.6 257.3L47.1 256.9L46.4 256.8L45.2 256.5L44 256.3L43.5 256.2L42.9 256.1L41.7 256L40.5 255.9L39.3 255.8L39.3 256L40.5 256.2L41 256.2L41.7 256.3L42.9 256.5L44 256.8L44.9 256.9L45.2 257.2L45.8 257.7L45.2 258L44.5 258.4L44 258.5L42.9 258.7L41.7 259L41.1 259.1L40.5 259.2L39.3 259.3L39.3 259.7Z" fill="#260c51" stroke="#260c51" stroke-width="0.6" fill-rule="evenodd"/>
<path d="M40.5 259.2L41.1 259.1L41.7 259L42.9 258.7L44 258.5L44.5 258.4L45.2 258L45.8 257.7L45.2 257.2L44.9 256.9L44 256.8L42.9 256.5L41.7 256.3L41 256.2L40.5 256.2L39.3 256L39.3 256.2L39.3 256.3L40.5 256.5L41.7 256.8L42.6 256.9L42.9 257.1L43.6 257.7L42.9 258.1L42.3 258.4L41.7 258.5L40.5 258.7L39.3 259L39.3 259.1L39.3 259.3Z" fill="#180c3c" stroke="#180c3c" stroke-width="0.6" fill-rule="evenodd"/>
<path d="M40.5 258.7L41.7 258.5L42.3 258.4L42.9 258.1L43.6 257.7L42.9 257.1L42.6 256.9L41.7 256.8L40.5 256.5L39.3 256.3L39.3 256.7L40.4 256.9L40.5 257L41.5 257.7L40.5 258.1L40 258.4L39.3 258.5L39.3 259Z" fill="#0c0826" stroke="#0c0826" stroke-width="0.6" fill-rule="evenodd"/>
<path d="M40 258.4L40.5 258.1L41.5 257.7L40.5 257L40.4 256.9L39.3 256.7L39.3 256.9L39.3 257.7L39.3 258.4L39.3 258.5Z" fill="#040312" stroke="#040312" stroke-width="0.6" fill-rule="evenodd"/>
<path d="M39.3 268.4L40.5 268.4L41.3 268.4L41.7 268.4L42.9 268.3L44 268.3L45.2 268.3L46.4 268.2L47.6 268.2L48.8 268.2L50 268.1L51.1 268.1L52.3 268L53.5 268L54.7 267.9L55.9 267.8L57.1 267.8L58.2 267.7L59.4 267.7L60.1 267.7L60.6 267.6L61.8 267.6L63 267.5L64.2 267.5L65.4 267.4L66.5 267.3L67.7 267.3L68.9 267.2L70.1 267.1L71.3 267L71.5 266.9L72.5 266.9L73.6 266.8L74.8 266.7L76 266.6L77.2 266.5L78.4 266.5L79.6 266.4L80.7 266.3L81.2 266.2L81.9 266.2L83.1 266.1L84.3 266L85.5 266L86.7 265.9L87.9 265.8L89 265.7L90.2 265.7L91.4 265.6L92.6 265.6L93.8 265.6L95 265.6L96.1 265.6L97.3 265.5L98.5 265.5L99.7 265.6L100.9 265.6L102.1 265.6L103.2 265.7L104.4 265.7L105.6 265.8L106.8 265.8L108 265.8L109.2 265.9L110.4 265.9L111.5 265.9L112.7 266L113.9 266L115.1 266L116.3 265.9L117.5 265.8L118.6 265.7L119.8 265.6L120.9 265.5L121 265.5L122.2 265.4L123.4 265.3L124.6 265.2L125.7 265.1L126.9 265L128.1 264.9L129.3 264.8L129.5 264.8L130.5 264.7L131.7 264.5L132.8 264.2L133.5 264.1L134 263.9L135.2 263.6L135.9 263.4L136.4 263.2L137.6 262.7L137.7 262.7L138.8 262.1L139.1 261.9L140 261.3L140.1 261.2L140.8 260.5L141.1 259.9L141.2 259.8L141.4 259.1L141.4 258.4L141.1 257.7L141.1 257.7L140.5 256.9L140 256.5L139.6 256.2L138.8 255.7L138.5 255.5L137.6 255L137.1 254.8L136.4 254.5L135.5 254.1L135.2 254L134 253.5L133.6 253.4L132.8 253.1L131.7 252.7L131.5 252.7L130.5 252.4L129.3 252.1L128.4 251.9L128.1 251.9L126.9 251.6L125.7 251.4L125 251.2L124.6 251.1L123.4 250.9L122.2 250.7L121 250.5L120.9 250.5L119.8 250.3L118.6 250.2L117.5 250L116.3 249.8L116 249.8L115.1 249.7L113.9 249.6L112.7 249.5L111.5 249.4L110.4 249.4L109.2 249.3L108 249.2L106.8 249.2L105.6 249.1L105.3 249.1L104.4 249L103.2 249L102.1 248.9L100.9 248.8L99.7 248.8L98.5 248.7L97.3 248.7L96.1 248.7L95 248.7L93.8 248.8L92.6 248.8L91.4 248.8L90.2 248.9L89 248.9L87.9 248.9L86.7 248.8L85.5 248.8L84.3 248.8L83.1 248.8L81.9 248.8L80.7 248.8L79.6 248.8L78.4 248.7L77.2 248.7L76 248.7L74.8 248.6L73.6 248.6L72.5 248.6L71.3 248.5L70.1 248.5L68.9 248.5L67.7 248.4L66.5 248.4L65.9 248.4L65.4 248.3L64.2 248.3L63 248.3L61.8 248.3L60.6 248.3L59.4 248.3L58.2 248.3L57.1 248.3L55.9 248.2L54.7 248.2L53.5 248.2L52.3 248.2L51.1 248.1L50 248.1L48.8 248.1L47.6 248.1L46.4 248.1L45.2 248.1L44 248.1L42.9 248.1L41.7 248.1L40.5 248L39.3 248" fill="none" stroke="#555" stroke-width="0.6" opacity="0.9"/>
<path d="M39.3 265.5L39.5 265.5L40.5 265.5L41.7 265.4L42.9 265.4L44 265.3L45.2 265.3L46.4 265.2L47.6 265.2L48.8 265.1L50 265L51.1 264.9L52.3 264.8L52.6 264.8L53.5 264.7L54.7 264.6L55.9 264.5L57.1 264.5L58.2 264.4L59.4 264.3L60.6 264.2L61.6 264.1L61.8 264.1L63 264L64.2 263.9L65.4 263.7L66.5 263.6L67.7 263.4L68.2 263.4L68.9 263.3L70.1 263.1L71.3 262.9L72.5 262.7L72.8 262.7L73.6 262.5L74.8 262.4L76 262.2L77.2 261.9L77.2 261.9L78.4 261.7L79.6 261.4L80.3 261.2L80.7 261.1L81.9 260.8L83.1 260.5L83.1 260.5L84.3 260.1L85.2 259.8L85.5 259.7L86.6 259.1L86.7 259L87.5 258.4L87.9 257.8L87.9 257.7L88 256.9L87.9 256.6L87.6 256.2L86.7 255.5L86.7 255.5L85.5 255L84.9 254.8L84.3 254.6L83.1 254.4L81.9 254.1L81.8 254.1L80.7 253.9L79.6 253.6L78.4 253.4L77.9 253.4L77.2 253.3L76 253.1L74.8 252.9L73.6 252.8L72.5 252.7L72.2 252.7L71.3 252.5L70.1 252.4L68.9 252.3L67.7 252.1L66.5 252L65.4 251.9L65.4 251.9L64.2 251.8L63 251.8L61.8 251.7L60.6 251.6L59.4 251.5L58.2 251.5L57.1 251.4L55.9 251.4L54.7 251.3L53.7 251.2L53.5 251.2L52.3 251.1L51.1 251.1L50 251L48.8 250.9L47.6 250.9L46.4 250.9L45.2 250.8L44 250.8L42.9 250.7L41.7 250.7L40.5 250.7L39.3 250.7" fill="none" stroke="#555" stroke-width="0.6" opacity="0.9"/>
</g>
<rect x="39.3" y="191.2" width="142.1" height="142.2" fill="none" stroke="#3a3a3a" stroke-width="1" />
<line x1="36.3" y1="317.84" x2="39.3" y2="317.84" stroke="#3a3a3a" stroke-width="0.9" />
<text x="34.9" y="321.28" font-size="9.6" text-anchor="end" fill="#222" textLength="17.5" lengthAdjust="spacingAndGlyphs"  stroke="#222" stroke-width="0.1">1.35</text>
<line x1="36.3" y1="299.75" x2="39.3" y2="299.75" stroke="#3a3a3a" stroke-width="0.9" />
<text x="34.9" y="303.19" font-size="9.6" text-anchor="end" fill="#222" textLength="17.5" lengthAdjust="spacingAndGlyphs"  stroke="#222" stroke-width="0.1">1.40</text>
<line x1="36.3" y1="281.66" x2="39.3" y2="281.66" stroke="#3a3a3a" stroke-width="0.9" />
<text x="34.9" y="285.09" font-size="9.6" text-anchor="end" fill="#222" textLength="17.5" lengthAdjust="spacingAndGlyphs"  stroke="#222" stroke-width="0.1">1.45</text>
<line x1="36.3" y1="263.57" x2="39.3" y2="263.57" stroke="#3a3a3a" stroke-width="0.9" />
<text x="34.9" y="267" font-size="9.6" text-anchor="end" fill="#222" textLength="17.5" lengthAdjust="spacingAndGlyphs"  stroke="#222" stroke-width="0.1">1.50</text>
<line x1="36.3" y1="245.47" x2="39.3" y2="245.47" stroke="#3a3a3a" stroke-width="0.9" />
<text x="34.9" y="248.91" font-size="9.6" text-anchor="end" fill="#222" textLength="17.5" lengthAdjust="spacingAndGlyphs"  stroke="#222" stroke-width="0.1">1.55</text>
<line x1="36.3" y1="227.38" x2="39.3" y2="227.38" stroke="#3a3a3a" stroke-width="0.9" />
<text x="34.9" y="230.82" font-size="9.6" text-anchor="end" fill="#222" textLength="17.5" lengthAdjust="spacingAndGlyphs"  stroke="#222" stroke-width="0.1">1.60</text>
<line x1="36.3" y1="209.29" x2="39.3" y2="209.29" stroke="#3a3a3a" stroke-width="0.9" />
<text x="34.9" y="212.73" font-size="9.6" text-anchor="end" fill="#222" textLength="17.5" lengthAdjust="spacingAndGlyphs"  stroke="#222" stroke-width="0.1">1.65</text>
<line x1="36.3" y1="191.2" x2="39.3" y2="191.2" stroke="#3a3a3a" stroke-width="0.9" />
<text x="34.9" y="194.64" font-size="9.6" text-anchor="end" fill="#222" textLength="17.5" lengthAdjust="spacingAndGlyphs"  stroke="#222" stroke-width="0.1">1.70</text>
<line x1="37.5" y1="326.89" x2="39.3" y2="326.89" stroke="#3a3a3a" stroke-width="0.8" />
<line x1="37.5" y1="308.8" x2="39.3" y2="308.8" stroke="#3a3a3a" stroke-width="0.8" />
<line x1="37.5" y1="290.7" x2="39.3" y2="290.7" stroke="#3a3a3a" stroke-width="0.8" />
<line x1="37.5" y1="272.61" x2="39.3" y2="272.61" stroke="#3a3a3a" stroke-width="0.8" />
<line x1="37.5" y1="254.52" x2="39.3" y2="254.52" stroke="#3a3a3a" stroke-width="0.8" />
<line x1="37.5" y1="236.43" x2="39.3" y2="236.43" stroke="#3a3a3a" stroke-width="0.8" />
<line x1="37.5" y1="218.34" x2="39.3" y2="218.34" stroke="#3a3a3a" stroke-width="0.8" />
<line x1="37.5" y1="200.25" x2="39.3" y2="200.25" stroke="#3a3a3a" stroke-width="0.8" />
<line x1="56.02" y1="333.4" x2="56.02" y2="336.4" stroke="#3a3a3a" stroke-width="0.9" />
<text x="56.02" y="344.84" font-size="9.6" text-anchor="middle" fill="#222"  stroke="#222" stroke-width="0.1">50</text>
<line x1="97.81" y1="333.4" x2="97.81" y2="336.4" stroke="#3a3a3a" stroke-width="0.9" />
<text x="97.81" y="344.84" font-size="9.6" text-anchor="middle" fill="#222"  stroke="#222" stroke-width="0.1">100</text>
<line x1="139.61" y1="333.4" x2="139.61" y2="336.4" stroke="#3a3a3a" stroke-width="0.9" />
<text x="139.61" y="344.84" font-size="9.6" text-anchor="middle" fill="#222"  stroke="#222" stroke-width="0.1">150</text>
<line x1="181.4" y1="333.4" x2="181.4" y2="336.4" stroke="#3a3a3a" stroke-width="0.9" />
<text x="181.4" y="344.84" font-size="9.6" text-anchor="middle" fill="#222"  stroke="#222" stroke-width="0.1">200</text>
<line x1="76.91" y1="333.4" x2="76.91" y2="335.2" stroke="#3a3a3a" stroke-width="0.8" />
<line x1="118.71" y1="333.4" x2="118.71" y2="335.2" stroke="#3a3a3a" stroke-width="0.8" />
<line x1="160.5" y1="333.4" x2="160.5" y2="335.2" stroke="#3a3a3a" stroke-width="0.8" />
<rect x="188.75" y="190.9" width="14.65" height="3" fill="#fff" stroke="none" stroke-width="1" />
<rect x="188.75" y="330.8" width="14.65" height="2.4" fill="#000" stroke="none" stroke-width="1" />
<rect x="188.75" y="329.28" width="14.65" height="1.87" fill="#fcffa4" stroke="none" stroke-width="1" />
<rect x="188.75" y="327.76" width="14.65" height="1.87" fill="#f9fc9d" stroke="none" stroke-width="1" />
<rect x="188.75" y="326.24" width="14.65" height="1.87" fill="#f5f992" stroke="none" stroke-width="1" />
<rect x="188.75" y="324.72" width="14.65" height="1.87" fill="#f3f586" stroke="none" stroke-width="1" />
<rect x="188.75" y="323.19" width="14.65" height="1.87" fill="#f1f179" stroke="none" stroke-width="1" />
<rect x="188.75" y="321.67" width="14.65" height="1.87" fill="#f1ec6d" stroke="none" stroke-width="1" />
<rect x="188.75" y="320.15" width="14.65" height="1.87" fill="#f2e661" stroke="none" stroke-width="1" />
<rect x="188.75" y="318.63" width="14.65" height="1.87" fill="#f4e156" stroke="none" stroke-width="1" />
<rect x="188.75" y="317.11" width="14.65" height="1.87" fill="#f5db4c" stroke="none" stroke-width="1" />
<rect x="188.75" y="315.59" width="14.65" height="1.87" fill="#f6d746" stroke="none" stroke-width="1" />
<rect x="188.75" y="314.07" width="14.65" height="1.87" fill="#f7d13d" stroke="none" stroke-width="1" />
<rect x="188.75" y="312.55" width="14.65" height="1.87" fill="#f9cb35" stroke="none" stroke-width="1" />
<rect x="188.75" y="311.03" width="14.65" height="1.87" fill="#fac62d" stroke="none" stroke-width="1" />
<rect x="188.75" y="309.5" width="14.65" height="1.87" fill="#fac026" stroke="none" stroke-width="1" />
<rect x="188.75" y="307.98" width="14.65" height="1.87" fill="#fbba1f" stroke="none" stroke-width="1" />
<rect x="188.75" y="306.46" width="14.65" height="1.87" fill="#fcb418" stroke="none" stroke-width="1" />
<rect x="188.75" y="304.94" width="14.65" height="1.87" fill="#fcae12" stroke="none" stroke-width="1" />
<rect x="188.75" y="303.42" width="14.65" height="1.87" fill="#fcaa0f" stroke="none" stroke-width="1" />
<rect x="188.75" y="301.9" width="14.65" height="1.87" fill="#fca50a" stroke="none" stroke-width="1" />
<rect x="188.75" y="300.38" width="14.65" height="1.87" fill="#fc9f07" stroke="none" stroke-width="1" />
<rect x="188.75" y="298.86" width="14.65" height="1.87" fill="#fb9906" stroke="none" stroke-width="1" />
<rect x="188.75" y="297.34" width="14.65" height="1.87" fill="#fa9407" stroke="none" stroke-width="1" />
<rect x="188.75" y="295.81" width="14.65" height="1.87" fill="#f98e09" stroke="none" stroke-width="1" />
<rect x="188.75" y="294.29" width="14.65" height="1.87" fill="#f8890c" stroke="none" stroke-width="1" />
<rect x="188.75" y="292.77" width="14.65" height="1.87" fill="#f78410" stroke="none" stroke-width="1" />
<rect x="188.75" y="291.25" width="14.65" height="1.87" fill="#f68013" stroke="none" stroke-width="1" />
<rect x="188.75" y="289.73" width="14.65" height="1.87" fill="#f57b17" stroke="none" stroke-width="1" />
<rect x="188.75" y="288.21" width="14.65" height="1.87" fill="#f3761b" stroke="none" stroke-width="1" />
<rect x="188.75" y="286.69" width="14.65" height="1.87" fill="#f1711f" stroke="none" stroke-width="1" />
<rect x="188.75" y="285.17" width="14.65" height="1.87" fill="#ef6c23" stroke="none" stroke-width="1" />
<rect x="188.75" y="283.65" width="14.65" height="1.87" fill="#ec6726" stroke="none" stroke-width="1" />
<rect x="188.75" y="282.12" width="14.65" height="1.87" fill="#ea632a" stroke="none" stroke-width="1" />
<rect x="188.75" y="280.6" width="14.65" height="1.87" fill="#e75e2e" stroke="none" stroke-width="1" />
<rect x="188.75" y="279.08" width="14.65" height="1.87" fill="#e55c30" stroke="none" stroke-width="1" />
<rect x="188.75" y="277.56" width="14.65" height="1.87" fill="#e25734" stroke="none" stroke-width="1" />
<rect x="188.75" y="276.04" width="14.65" height="1.87" fill="#df5337" stroke="none" stroke-width="1" />
<rect x="188.75" y="274.52" width="14.65" height="1.87" fill="#db503b" stroke="none" stroke-width="1" />
<rect x="188.75" y="273" width="14.65" height="1.87" fill="#d84c3e" stroke="none" stroke-width="1" />
<rect x="188.75" y="271.48" width="14.65" height="1.87" fill="#d44842" stroke="none" stroke-width="1" />
<rect x="188.75" y="269.96" width="14.65" height="1.87" fill="#d04545" stroke="none" stroke-width="1" />
<rect x="188.75" y="268.43" width="14.65" height="1.87" fill="#cc4248" stroke="none" stroke-width="1" />
<rect x="188.75" y="266.91" width="14.65" height="1.87" fill="#ca404a" stroke="none" stroke-width="1" />
<rect x="188.75" y="265.39" width="14.65" height="1.87" fill="#c63d4d" stroke="none" stroke-width="1" />
<rect x="188.75" y="263.87" width="14.65" height="1.87" fill="#c13a50" stroke="none" stroke-width="1" />
<rect x="188.75" y="262.35" width="14.65" height="1.87" fill="#bd3853" stroke="none" stroke-width="1" />
<rect x="188.75" y="260.83" width="14.65" height="1.87" fill="#b93556" stroke="none" stroke-width="1" />
<rect x="188.75" y="259.31" width="14.65" height="1.87" fill="#b43359" stroke="none" stroke-width="1" />
<rect x="188.75" y="257.79" width="14.65" height="1.87" fill="#b0315b" stroke="none" stroke-width="1" />
<rect x="188.75" y="256.27" width="14.65" height="1.87" fill="#ab2f5e" stroke="none" stroke-width="1" />
<rect x="188.75" y="254.74" width="14.65" height="1.87" fill="#a82e5f" stroke="none" stroke-width="1" />
<rect x="188.75" y="253.22" width="14.65" height="1.87" fill="#a32c61" stroke="none" stroke-width="1" />
<rect x="188.75" y="251.7" width="14.65" height="1.87" fill="#9f2a63" stroke="none" stroke-width="1" />
<rect x="188.75" y="250.18" width="14.65" height="1.87" fill="#9a2865" stroke="none" stroke-width="1" />
<rect x="188.75" y="248.66" width="14.65" height="1.87" fill="#952667" stroke="none" stroke-width="1" />
<rect x="188.75" y="247.14" width="14.65" height="1.87" fill="#902568" stroke="none" stroke-width="1" />
<rect x="188.75" y="245.62" width="14.65" height="1.87" fill="#8c2369" stroke="none" stroke-width="1" />
<rect x="188.75" y="244.1" width="14.65" height="1.87" fill="#87216b" stroke="none" stroke-width="1" />
<rect x="188.75" y="242.58" width="14.65" height="1.87" fill="#84206b" stroke="none" stroke-width="1" />
<rect x="188.75" y="241.05" width="14.65" height="1.87" fill="#7f1e6c" stroke="none" stroke-width="1" />
<rect x="188.75" y="239.53" width="14.65" height="1.87" fill="#7a1d6d" stroke="none" stroke-width="1" />
<rect x="188.75" y="238.01" width="14.65" height="1.87" fill="#751b6e" stroke="none" stroke-width="1" />
<rect x="188.75" y="236.49" width="14.65" height="1.87" fill="#71196e" stroke="none" stroke-width="1" />
<rect x="188.75" y="234.97" width="14.65" height="1.87" fill="#6c186e" stroke="none" stroke-width="1" />
<rect x="188.75" y="233.45" width="14.65" height="1.87" fill="#67166e" stroke="none" stroke-width="1" />
<rect x="188.75" y="231.93" width="14.65" height="1.87" fill="#62146e" stroke="none" stroke-width="1" />
<rect x="188.75" y="230.41" width="14.65" height="1.87" fill="#5f136e" stroke="none" stroke-width="1" />
<rect x="188.75" y="228.89" width="14.65" height="1.87" fill="#5a116e" stroke="none" stroke-width="1" />
<rect x="188.75" y="227.36" width="14.65" height="1.87" fill="#550f6d" stroke="none" stroke-width="1" />
<rect x="188.75" y="225.84" width="14.65" height="1.87" fill="#510e6c" stroke="none" stroke-width="1" />
<rect x="188.75" y="224.32" width="14.65" height="1.87" fill="#4c0c6b" stroke="none" stroke-width="1" />
<rect x="188.75" y="222.8" width="14.65" height="1.87" fill="#470b6a" stroke="none" stroke-width="1" />
<rect x="188.75" y="221.28" width="14.65" height="1.87" fill="#420a68" stroke="none" stroke-width="1" />
<rect x="188.75" y="219.76" width="14.65" height="1.87" fill="#3d0965" stroke="none" stroke-width="1" />
<rect x="188.75" y="218.24" width="14.65" height="1.87" fill="#390963" stroke="none" stroke-width="1" />
<rect x="188.75" y="216.72" width="14.65" height="1.87" fill="#340a5f" stroke="none" stroke-width="1" />
<rect x="188.75" y="215.2" width="14.65" height="1.87" fill="#2f0a5b" stroke="none" stroke-width="1" />
<rect x="188.75" y="213.67" width="14.65" height="1.87" fill="#290b55" stroke="none" stroke-width="1" />
<rect x="188.75" y="212.15" width="14.65" height="1.87" fill="#240c4f" stroke="none" stroke-width="1" />
<rect x="188.75" y="210.63" width="14.65" height="1.87" fill="#1f0c48" stroke="none" stroke-width="1" />
<rect x="188.75" y="209.11" width="14.65" height="1.87" fill="#1b0c41" stroke="none" stroke-width="1" />
<rect x="188.75" y="207.59" width="14.65" height="1.87" fill="#160b39" stroke="none" stroke-width="1" />
<rect x="188.75" y="206.07" width="14.65" height="1.87" fill="#140b34" stroke="none" stroke-width="1" />
<rect x="188.75" y="204.55" width="14.65" height="1.87" fill="#10092d" stroke="none" stroke-width="1" />
<rect x="188.75" y="203.03" width="14.65" height="1.87" fill="#0c0826" stroke="none" stroke-width="1" />
<rect x="188.75" y="201.51" width="14.65" height="1.87" fill="#09061f" stroke="none" stroke-width="1" />
<rect x="188.75" y="199.98" width="14.65" height="1.87" fill="#060419" stroke="none" stroke-width="1" />
<rect x="188.75" y="198.46" width="14.65" height="1.87" fill="#040312" stroke="none" stroke-width="1" />
<rect x="188.75" y="196.94" width="14.65" height="1.87" fill="#02020c" stroke="none" stroke-width="1" />
<rect x="188.75" y="195.42" width="14.65" height="1.87" fill="#010106" stroke="none" stroke-width="1" />
<rect x="188.75" y="193.9" width="14.65" height="1.87" fill="#000004" stroke="none" stroke-width="1" />
<rect x="188.75" y="190.9" width="14.65" height="142.3" fill="none" stroke="#888" stroke-width="0.8" />
<line x1="203.4" y1="193.9" x2="205.9" y2="193.9" stroke="#666" stroke-width="0.8" />
<text x="210.1" y="193.91" font-size="7.3" text-anchor="start" fill="#333"  stroke="#333" stroke-width="0.1">30k</text>
<line x1="203.4" y1="211.01" x2="205.9" y2="211.01" stroke="#666" stroke-width="0.8" />
<text x="210.1" y="211.03" font-size="7.3" text-anchor="start" fill="#333"  stroke="#333" stroke-width="0.1">26k</text>
<line x1="203.4" y1="228.12" x2="205.9" y2="228.12" stroke="#666" stroke-width="0.8" />
<text x="210.1" y="228.14" font-size="7.3" text-anchor="start" fill="#333"  stroke="#333" stroke-width="0.1">22k</text>
<line x1="203.4" y1="245.24" x2="205.9" y2="245.24" stroke="#666" stroke-width="0.8" />
<text x="210.1" y="245.25" font-size="7.3" text-anchor="start" fill="#333"  stroke="#333" stroke-width="0.1">19k</text>
<line x1="203.4" y1="262.35" x2="205.9" y2="262.35" stroke="#666" stroke-width="0.8" />
<text x="210.1" y="262.36" font-size="7.3" text-anchor="start" fill="#333"  stroke="#333" stroke-width="0.1">15k</text>
<line x1="203.4" y1="279.46" x2="205.9" y2="279.46" stroke="#666" stroke-width="0.8" />
<text x="210.1" y="279.48" font-size="7.3" text-anchor="start" fill="#333"  stroke="#333" stroke-width="0.1">11k</text>
<line x1="203.4" y1="296.58" x2="205.9" y2="296.58" stroke="#666" stroke-width="0.8" />
<text x="210.1" y="296.59" font-size="7.3" text-anchor="start" fill="#333"  stroke="#333" stroke-width="0.1">7k</text>
<line x1="203.4" y1="313.69" x2="205.9" y2="313.69" stroke="#666" stroke-width="0.8" />
<text x="210.1" y="313.7" font-size="7.3" text-anchor="start" fill="#333"  stroke="#333" stroke-width="0.1">4k</text>
<line x1="203.4" y1="330.8" x2="205.9" y2="330.8" stroke="#666" stroke-width="0.8" />
<text x="210.1" y="330.81" font-size="7.3" text-anchor="start" fill="#333"  stroke="#333" stroke-width="0.1">-200</text>
<text x="190.6" y="184.51" font-size="9.8" text-anchor="middle" fill="#222" textLength="37.2" lengthAdjust="spacingAndGlyphs"  stroke="#222" stroke-width="0.1">Intensity</text>
<text x="121.7" y="203.65" font-size="10.2" text-anchor="start" fill="#111" textLength="60" lengthAdjust="spacingAndGlyphs"  stroke="#111" stroke-width="0.1">Vacuum, 16 h</text>
<text x="110.35" y="358.88" font-size="10" text-anchor="middle" fill="#222" textLength="75" lengthAdjust="spacingAndGlyphs"  stroke="#222" stroke-width="0.1">Temperature (K)</text>
<text x="9.9" y="265.74" font-size="9.6" text-anchor="middle" fill="#222" transform="rotate(-90 9.9 262.3)" textLength="52" lengthAdjust="spacingAndGlyphs"  stroke="#222" stroke-width="0.1">Energy (eV)</text>
<line x1="150.9" y1="224.2" x2="147.35" y2="236.25" stroke="#111" stroke-width="0.85" />
<polygon points="146.3,239.8 145.67,235.23 149.31,236.31" fill="#111"/>
<defs><clipPath id="hc269"><rect x="269.2" y="190.5" width="143.2" height="143.1"/></clipPath></defs>
<g clip-path="url(#hc269)">
<rect x="269.2" y="190.5" width="143.2" height="143.1" fill="#fcffa4" stroke="none" stroke-width="1" />
<path d="M270.4 333.6L271.6 333.6L272.8 333.6L274 333.6L275.2 333.6L276.4 333.6L277.6 333.6L278.7 333.6L279.9 333.6L281.1 333.6L282.3 333.6L283.5 333.6L284.7 333.6L285.9 333.6L287.1 333.6L288.3 333.6L289.5 333.6L290.7 333.6L291.9 333.6L293.1 333.6L294.3 333.6L295.5 333.6L296.6 333.6L297.8 333.6L299 333.6L300.2 333.6L301.4 333.6L302.6 333.6L303.8 333.6L305 333.6L306.2 333.6L307.4 333.6L308.6 333.6L309.8 333.6L311 333.6L312.2 333.6L313.4 333.6L314.5 333.6L315.7 333.6L316.9 333.6L318.1 333.6L319.3 333.6L320.5 333.6L321.7 333.6L322.9 333.6L324.1 333.6L325.3 333.6L326.5 333.6L327.7 333.6L328.9 333.6L330.1 333.6L331.3 333.6L332.4 333.6L333.6 333.6L334.8 333.6L336 333.6L337.2 333.6L338.4 333.6L339.6 333.6L340.8 333.6L342 333.6L343.2 333.6L344.4 333.6L345.6 333.6L346.8 333.6L348 333.6L349.2 333.6L350.3 333.6L351.5 333.6L352.7 333.6L353.9 333.6L355.1 333.6L356.3 333.6L357.5 333.6L358.7 333.6L359.9 333.6L361.1 333.6L362.3 333.6L363.5 333.6L364.7 333.6L365.9 333.6L367.1 333.6L368.2 333.6L369.4 333.6L370.6 333.6L371.8 333.6L373 333.6L374.2 333.6L375.4 333.6L376.6 333.6L377.8 333.6L379 333.6L380.2 333.6L381.4 333.6L382.6 333.6L383.8 333.6L385 333.6L386.1 333.6L387.3 333.6L388.5 333.6L389.7 333.6L390.9 333.6L392.1 333.6L393.3 333.6L394.5 333.6L395.7 333.6L396.9 333.6L398.1 333.6L399.3 333.6L400.5 333.6L401.7 333.6L402.9 333.6L404 333.6L405.2 333.6L406.4 333.6L407.6 333.6L408.8 333.6L410 333.6L411.2 333.6L412.4 333.6L412.4 332.9L412.4 332.2L412.4 331.4L412.4 330.7L412.4 330L412.4 329.3L412.4 328.6L412.4 327.8L412.4 327.1L412.4 326.4L412.4 325.7L412.4 325L412.4 324.3L412.4 323.5L412.4 322.8L412.4 322.1L412.4 321.4L412.4 320.7L412.4 319.9L412.4 319.2L412.4 318.5L412.4 317.8L412.4 317.1L412.4 316.3L412.4 315.6L412.4 314.9L412.4 314.2L412.4 313.5L412.4 312.7L412.4 312L412.4 311.3L412.4 310.6L412.4 309.9L412.4 309.2L412.4 308.4L412.4 307.7L412.4 307L412.4 306.3L412.4 305.6L412.4 304.8L412.4 304.1L412.4 303.4L412.4 302.7L412.4 302L412.4 301.2L412.4 300.5L412.4 299.8L412.4 299.1L412.4 298.4L412.4 297.6L412.4 296.9L412.4 296.2L412.4 295.5L412.4 294.8L412.4 294L412.4 293.3L412.4 292.6L412.4 291.9L412.4 291.2L412.4 290.5L412.4 289.7L412.4 289L412.4 288.3L412.4 287.6L412.4 286.9L412.4 286.1L412.4 285.4L412.4 284.7L412.4 284L412.4 283.3L412.4 282.5L412.4 281.8L412.4 281.1L412.4 280.4L412.4 279.7L412.4 278.9L412.4 278.2L412.4 277.5L412.4 276.8L412.4 276.1L412.4 275.4L412.4 274.6L412.4 273.9L412.4 273.2L412.4 272.5L412.4 271.8L412.4 271L412.4 270.3L412.4 269.6L411.2 269.9L410 270.2L409.5 270.3L408.8 270.5L407.6 270.7L406.4 270.9L405.8 271L405.2 271.1L404 271.3L402.9 271.5L401.7 271.7L401.4 271.8L400.5 271.9L399.3 272.1L398.1 272.2L396.9 272.4L396 272.5L395.7 272.5L394.5 272.6L393.3 272.8L392.1 272.9L390.9 273L389.7 273.1L389.1 273.2L388.5 273.3L387.3 273.4L386.1 273.5L385 273.7L383.8 273.8L383 273.9L382.6 274L381.4 274.1L380.2 274.2L379 274.4L377.8 274.5L376.6 274.6L376.2 274.6L375.4 274.7L374.2 274.8L373 274.9L371.8 275L370.6 275.1L369.4 275.2L368.2 275.3L367.4 275.4L367.1 275.4L365.9 275.5L364.7 275.5L363.5 275.6L362.3 275.7L361.1 275.8L359.9 275.9L358.7 276L357.5 276.1L357.5 276.1L356.3 276.2L355.1 276.2L353.9 276.3L352.7 276.3L351.5 276.3L350.3 276.3L349.2 276.2L348 276.2L346.8 276.2L345.6 276.1L345.1 276.1L344.4 276L343.2 276L342 275.9L340.8 275.8L339.6 275.8L338.4 275.7L337.2 275.6L336 275.5L334.8 275.4L334.3 275.4L333.6 275.3L332.4 275.2L331.3 275.1L330.1 275L328.9 274.9L327.7 274.8L326.5 274.7L325.7 274.6L325.3 274.6L324.1 274.5L322.9 274.4L321.7 274.3L320.5 274.2L319.3 274.1L318.1 274.1L316.9 274L315.7 273.9L315.2 273.9L314.5 273.9L313.4 273.8L312.2 273.8L311 273.7L309.8 273.6L308.6 273.5L307.4 273.4L306.2 273.3L305 273.2L304.6 273.2L303.8 273.1L302.6 273.1L301.4 273.1L300.2 273.1L299 273.2L297.8 273.2L297.2 273.2L296.6 273.2L295.5 273.2L294.3 273.3L293.1 273.4L291.9 273.5L290.7 273.6L289.5 273.7L288.3 273.8L287.2 273.9L287.1 273.9L285.9 274L284.7 274.2L283.5 274.4L282.3 274.5L281.6 274.6L281.1 274.7L279.9 274.9L278.7 275L277.6 275.2L276.8 275.4L276.4 275.4L275.2 275.7L274 275.9L273 276.1L272.8 276.1L271.6 276.4L270.4 276.6L269.5 276.8L269.2 276.9L269.2 277.5L269.2 278.2L269.2 278.9L269.2 279.7L269.2 280.4L269.2 281.1L269.2 281.8L269.2 282.5L269.2 283.3L269.2 284L269.2 284.7L269.2 285.4L269.2 286.1L269.2 286.9L269.2 287.6L269.2 288.3L269.2 289L269.2 289.7L269.2 290.5L269.2 291.2L269.2 291.9L269.2 292.6L269.2 293.3L269.2 294L269.2 294.8L269.2 295.5L269.2 296.2L269.2 296.9L269.2 297.6L269.2 298.4L269.2 299.1L269.2 299.8L269.2 300.5L269.2 301.2L269.2 302L269.2 302.7L269.2 303.4L269.2 304.1L269.2 304.8L269.2 305.6L269.2 306.3L269.2 307L269.2 307.7L269.2 308.4L269.2 309.2L269.2 309.9L269.2 310.6L269.2 311.3L269.2 312L269.2 312.7L269.2 313.5L269.2 314.2L269.2 314.9L269.2 315.6L269.2 316.3L269.2 317.1L269.2 317.8L269.2 318.5L269.2 319.2L269.2 319.9L269.2 320.7L269.2 321.4L269.2 322.1L269.2 322.8L269.2 323.5L269.2 324.3L269.2 325L269.2 325.7L269.2 326.4L269.2 327.1L269.2 327.8L269.2 328.6L269.2 329.3L269.2 330L269.2 330.7L269.2 331.4L269.2 332.2L269.2 332.9L269.2 333.6ZM411.2 251.8L412.4 252.1L412.4 251.6L412.4 250.9L412.4 250.2L412.4 249.5L412.4 248.7L412.4 248L412.4 247.3L412.4 246.6L412.4 245.9L412.4 245.2L412.4 244.4L412.4 243.7L412.4 243L412.4 242.3L412.4 241.6L412.4 240.8L412.4 240.1L412.4 239.4L412.4 238.7L412.4 238L412.4 237.2L412.4 236.5L412.4 235.8L412.4 235.1L412.4 234.4L412.4 233.6L412.4 232.9L412.4 232.2L412.4 231.5L412.4 230.8L412.4 230.1L412.4 229.3L412.4 228.6L412.4 227.9L412.4 227.2L412.4 226.5L412.4 225.7L412.4 225L412.4 224.3L412.4 223.6L412.4 222.9L412.4 222.1L412.4 221.4L412.4 220.7L412.4 220L412.4 219.3L412.4 218.5L412.4 217.8L412.4 217.1L412.4 216.4L412.4 215.7L412.4 214.9L412.4 214.2L412.4 213.5L412.4 212.8L412.4 212.1L412.4 211.4L412.4 210.6L412.4 209.9L412.4 209.2L412.4 208.5L412.4 207.8L412.4 207L412.4 206.3L412.4 205.6L412.4 204.9L412.4 204.2L412.4 203.4L412.4 202.7L412.4 202L412.4 201.3L412.4 200.6L412.4 199.8L412.4 199.1L412.4 198.4L412.4 197.7L412.4 197L412.4 196.3L412.4 195.5L412.4 194.8L412.4 194.1L412.4 193.4L412.4 192.7L412.4 191.9L412.4 191.2L412.4 190.5L411.2 190.5L410 190.5L408.8 190.5L407.6 190.5L406.4 190.5L405.2 190.5L404 190.5L402.9 190.5L401.7 190.5L400.5 190.5L399.3 190.5L398.1 190.5L396.9 190.5L395.7 190.5L394.5 190.5L393.3 190.5L392.1 190.5L390.9 190.5L389.7 190.5L388.5 190.5L387.3 190.5L386.1 190.5L385 190.5L383.8 190.5L382.6 190.5L381.4 190.5L380.2 190.5L379 190.5L377.8 190.5L376.6 190.5L375.4 190.5L374.2 190.5L373 190.5L371.8 190.5L370.6 190.5L369.4 190.5L368.2 190.5L367.1 190.5L365.9 190.5L364.7 190.5L363.5 190.5L362.3 190.5L361.1 190.5L359.9 190.5L358.7 190.5L357.5 190.5L356.3 190.5L355.1 190.5L353.9 190.5L352.7 190.5L351.5 190.5L350.3 190.5L349.2 190.5L348 190.5L346.8 190.5L345.6 190.5L344.4 190.5L343.2 190.5L342 190.5L340.8 190.5L339.6 190.5L338.4 190.5L337.2 190.5L336 190.5L334.8 190.5L333.6 190.5L332.4 190.5L331.3 190.5L330.1 190.5L328.9 190.5L327.7 190.5L326.5 190.5L325.3 190.5L324.1 190.5L322.9 190.5L321.7 190.5L320.5 190.5L319.3 190.5L318.1 190.5L316.9 190.5L315.7 190.5L314.5 190.5L313.4 190.5L312.2 190.5L311 190.5L309.8 190.5L308.6 190.5L307.4 190.5L306.2 190.5L305 190.5L303.8 190.5L302.6 190.5L301.4 190.5L300.2 190.5L299 190.5L297.8 190.5L296.6 190.5L295.5 190.5L294.3 190.5L293.1 190.5L291.9 190.5L290.7 190.5L289.5 190.5L288.3 190.5L287.1 190.5L285.9 190.5L284.7 190.5L283.5 190.5L282.3 190.5L281.1 190.5L279.9 190.5L278.7 190.5L277.6 190.5L276.4 190.5L275.2 190.5L274 190.5L272.8 190.5L271.6 190.5L270.4 190.5L269.2 190.5L269.2 191.2L269.2 191.9L269.2 192.7L269.2 193.4L269.2 194.1L269.2 194.8L269.2 195.5L269.2 196.3L269.2 197L269.2 197.7L269.2 198.4L269.2 199.1L269.2 199.8L269.2 200.6L269.2 201.3L269.2 202L269.2 202.7L269.2 203.4L269.2 204.2L269.2 204.9L269.2 205.6L269.2 206.3L269.2 207L269.2 207.8L269.2 208.5L269.2 209.2L269.2 209.9L269.2 210.6L269.2 211.4L269.2 212.1L269.2 212.8L269.2 213.5L269.2 214.2L269.2 214.9L269.2 215.7L269.2 216.4L269.2 217.1L269.2 217.8L269.2 218.5L269.2 219.3L269.2 220L269.2 220.7L269.2 221.4L269.2 222.1L269.2 222.9L269.2 223.6L269.2 224.3L269.2 225L269.2 225.7L269.2 226.5L269.2 227.2L269.2 227.9L269.2 228.6L269.2 229.3L269.2 230.1L269.2 230.8L269.2 231.5L269.2 232.2L269.2 232.9L269.2 233.6L269.2 234.4L269.2 235.1L269.2 235.8L269.2 236.5L269.2 237.2L269.2 238L269.2 238.7L269.2 239.4L269.2 240.1L269.2 240.8L269.8 240.8L270.4 240.9L271.6 241L272.8 241.1L274 241.1L275.2 241.2L276.4 241.3L277.6 241.4L278.7 241.4L279.9 241.5L281.1 241.5L282.3 241.5L282.6 241.6L283.5 241.6L284.7 241.6L285.9 241.6L287.1 241.6L288.3 241.6L289.5 241.6L290.7 241.6L291.9 241.6L293.1 241.6L294.3 241.6L295.5 241.6L295.5 241.6L296.6 241.5L297.8 241.4L299 241.3L300.2 241.3L301.4 241.2L302.6 241.1L303.8 241.1L305 241.1L306.2 241.1L307.4 241.2L308.6 241.2L309.8 241.2L311 241.2L312.2 241.2L313.4 241.3L314.5 241.3L315.7 241.3L316.9 241.4L318.1 241.4L319.3 241.5L320.5 241.5L321.7 241.6L321.7 241.6L322.9 241.6L324.1 241.6L325.3 241.6L326.5 241.7L327.7 241.7L328.9 241.8L330.1 241.9L331.3 242.1L332.4 242.2L333.1 242.3L333.6 242.3L334.8 242.5L336 242.6L337.2 242.8L338.4 242.9L339 243L339.6 243.1L340.8 243.2L342 243.4L343.2 243.5L344.4 243.7L344.4 243.7L345.6 243.9L346.8 244.1L348 244.2L349.2 244.4L349.2 244.4L350.3 244.6L351.5 244.8L352.7 245L353.8 245.2L353.9 245.2L355.1 245.3L356.3 245.3L357.5 245.4L358.7 245.5L359.9 245.7L361.1 245.8L362.2 245.9L362.3 245.9L363.5 246L364.7 246L365.9 246.1L367.1 246.2L368.2 246.3L369.4 246.4L370.6 246.6L371 246.6L371.8 246.7L373 246.8L374.2 246.9L375.4 247L376.6 247.1L377.8 247.2L378.5 247.3L379 247.4L380.2 247.5L381.4 247.6L382.6 247.8L383.8 247.9L384.6 248L385 248.1L386.1 248.2L387.3 248.4L388.5 248.5L389.7 248.6L390.9 248.7L390.9 248.7L392.1 248.9L393.3 249L394.5 249.1L395.7 249.3L396.9 249.4L397.2 249.5L398.1 249.6L399.3 249.7L400.5 249.9L401.7 250.1L402.4 250.2L402.9 250.3L404 250.4L405.2 250.6L406.4 250.8L406.8 250.9L407.6 251.1L408.8 251.3L410 251.5L410.4 251.6Z" fill="#fcffa4" stroke="#fcffa4" stroke-width="0.6" fill-rule="evenodd"/>
<path d="M269.5 276.8L270.4 276.6L271.6 276.4L272.8 276.1L273 276.1L274 275.9L275.2 275.7L276.4 275.4L276.8 275.4L277.6 275.2L278.7 275L279.9 274.9L281.1 274.7L281.6 274.6L282.3 274.5L283.5 274.4L284.7 274.2L285.9 274L287.1 273.9L287.2 273.9L288.3 273.8L289.5 273.7L290.7 273.6L291.9 273.5L293.1 273.4L294.3 273.3L295.5 273.2L296.6 273.2L297.2 273.2L297.8 273.2L299 273.2L300.2 273.1L301.4 273.1L302.6 273.1L303.8 273.1L304.6 273.2L305 273.2L306.2 273.3L307.4 273.4L308.6 273.5L309.8 273.6L311 273.7L312.2 273.8L313.4 273.8L314.5 273.9L315.2 273.9L315.7 273.9L316.9 274L318.1 274.1L319.3 274.1L320.5 274.2L321.7 274.3L322.9 274.4L324.1 274.5L325.3 274.6L325.7 274.6L326.5 274.7L327.7 274.8L328.9 274.9L330.1 275L331.3 275.1L332.4 275.2L333.6 275.3L334.3 275.4L334.8 275.4L336 275.5L337.2 275.6L338.4 275.7L339.6 275.8L340.8 275.8L342 275.9L343.2 276L344.4 276L345.1 276.1L345.6 276.1L346.8 276.2L348 276.2L349.2 276.2L350.3 276.3L351.5 276.3L352.7 276.3L353.9 276.3L355.1 276.2L356.3 276.2L357.5 276.1L357.5 276.1L358.7 276L359.9 275.9L361.1 275.8L362.3 275.7L363.5 275.6L364.7 275.5L365.9 275.5L367.1 275.4L367.4 275.4L368.2 275.3L369.4 275.2L370.6 275.1L371.8 275L373 274.9L374.2 274.8L375.4 274.7L376.2 274.6L376.6 274.6L377.8 274.5L379 274.4L380.2 274.2L381.4 274.1L382.6 274L383 273.9L383.8 273.8L385 273.7L386.1 273.5L387.3 273.4L388.5 273.3L389.1 273.2L389.7 273.1L390.9 273L392.1 272.9L393.3 272.8L394.5 272.6L395.7 272.5L396 272.5L396.9 272.4L398.1 272.2L399.3 272.1L400.5 271.9L401.4 271.8L401.7 271.7L402.9 271.5L404 271.3L405.2 271.1L405.8 271L406.4 270.9L407.6 270.7L408.8 270.5L409.5 270.3L410 270.2L411.2 269.9L412.4 269.6L412.4 269.6L412.4 268.9L412.4 268.2L412.4 267.4L412.4 266.7L412.4 266L412.4 265.3L412.4 264.6L412.4 263.8L412.4 263.1L412.4 262.4L412.4 261.7L412.4 261L412.4 260.3L412.4 259.5L412.4 258.8L412.4 258.1L412.4 257.4L412.4 256.7L412.4 255.9L412.4 255.2L412.4 254.5L412.4 253.8L412.4 253.1L412.4 252.3L412.4 252.1L411.2 251.8L410.4 251.6L410 251.5L408.8 251.3L407.6 251.1L406.8 250.9L406.4 250.8L405.2 250.6L404 250.4L402.9 250.3L402.4 250.2L401.7 250.1L400.5 249.9L399.3 249.7L398.1 249.6L397.2 249.5L396.9 249.4L395.7 249.3L394.5 249.1L393.3 249L392.1 248.9L390.9 248.7L390.9 248.7L389.7 248.6L388.5 248.5L387.3 248.4L386.1 248.2L385 248.1L384.6 248L383.8 247.9L382.6 247.8L381.4 247.6L380.2 247.5L379 247.4L378.5 247.3L377.8 247.2L376.6 247.1L375.4 247L374.2 246.9L373 246.8L371.8 246.7L371 246.6L370.6 246.6L369.4 246.4L368.2 246.3L367.1 246.2L365.9 246.1L364.7 246L363.5 246L362.3 245.9L362.2 245.9L361.1 245.8L359.9 245.7L358.7 245.5L357.5 245.4L356.3 245.3L355.1 245.3L353.9 245.2L353.8 245.2L352.7 245L351.5 244.8L350.3 244.6L349.2 244.4L349.2 244.4L348 244.2L346.8 244.1L345.6 243.9L344.4 243.7L344.4 243.7L343.2 243.5L342 243.4L340.8 243.2L339.6 243.1L339 243L338.4 242.9L337.2 242.8L336 242.6L334.8 242.5L333.6 242.3L333.1 242.3L332.4 242.2L331.3 242.1L330.1 241.9L328.9 241.8L327.7 241.7L326.5 241.7L325.3 241.6L324.1 241.6L322.9 241.6L321.7 241.6L321.7 241.6L320.5 241.5L319.3 241.5L318.1 241.4L316.9 241.4L315.7 241.3L314.5 241.3L313.4 241.3L312.2 241.2L311 241.2L309.8 241.2L308.6 241.2L307.4 241.2L306.2 241.1L305 241.1L303.8 241.1L302.6 241.1L301.4 241.2L300.2 241.3L299 241.3L297.8 241.4L296.6 241.5L295.5 241.6L295.5 241.6L294.3 241.6L293.1 241.6L291.9 241.6L290.7 241.6L289.5 241.6L288.3 241.6L287.1 241.6L285.9 241.6L284.7 241.6L283.5 241.6L282.6 241.6L282.3 241.5L281.1 241.5L279.9 241.5L278.7 241.4L277.6 241.4L276.4 241.3L275.2 241.2L274 241.1L272.8 241.1L271.6 241L270.4 240.9L269.8 240.8L269.2 240.8L269.2 240.8L269.2 241.6L269.2 242.3L269.2 243L269.2 243.7L269.2 244.1L270.4 244.2L271.6 244.2L272.8 244.2L274 244.3L275.2 244.3L276.4 244.3L277.6 244.3L278.7 244.4L279.9 244.4L281.1 244.4L282.3 244.4L283.5 244.4L284.7 244.4L285.9 244.4L287.1 244.3L288.3 244.3L289.5 244.3L290.7 244.3L291.9 244.3L293.1 244.2L294.3 244.2L295.5 244.2L296.6 244.1L297.8 244L299 244L300.2 243.9L301.4 243.8L302.6 243.8L303.8 243.8L305 243.8L306.2 243.8L307.4 243.8L308.6 243.9L309.8 243.9L311 243.9L312.2 243.9L313.4 244L314.5 244.1L315.7 244.1L316.9 244.2L318.1 244.3L319.3 244.3L320.5 244.4L321.5 244.4L321.7 244.4L322.9 244.5L324.1 244.6L325.3 244.6L326.5 244.7L327.7 244.7L328.9 244.8L330.1 245L331.1 245.2L331.3 245.2L332.4 245.3L333.6 245.5L334.8 245.7L336 245.8L336.3 245.9L337.2 246L338.4 246.2L339.6 246.4L340.8 246.6L341 246.6L342 246.7L343.2 246.9L344.4 247.1L345.3 247.3L345.6 247.4L346.8 247.6L348 247.8L349.1 248L349.2 248L350.3 248.3L351.5 248.5L352.7 248.7L352.7 248.8L353.9 249L355.1 249.1L356.3 249.3L357.5 249.4L357.8 249.5L358.7 249.6L359.9 249.8L361.1 249.9L362.3 250.1L362.8 250.2L363.5 250.3L364.7 250.4L365.9 250.6L367.1 250.8L368 250.9L368.2 250.9L369.4 251.1L370.6 251.3L371.8 251.5L372.8 251.6L373 251.7L374.2 251.8L375.4 252L376.6 252.2L377.2 252.3L377.8 252.5L379 252.7L380.2 252.9L380.8 253.1L381.4 253.2L382.6 253.5L383.8 253.7L383.9 253.8L385 254.1L386.1 254.4L386.5 254.5L387.3 254.7L388.5 255L389.4 255.2L389.7 255.3L390.9 255.6L392 255.9L392.1 256L393.3 256.4L394.1 256.7L394.5 256.8L395.7 257.4L395.7 257.4L396.9 258.1L396.9 258.1L397.7 258.8L398 259.5L398 260.3L397.8 261L397.2 261.7L396.9 261.9L396.3 262.4L395.7 262.8L395.1 263.1L394.5 263.4L393.5 263.8L393.3 263.9L392.1 264.4L391.6 264.6L390.9 264.8L389.7 265.1L389.1 265.3L388.5 265.4L387.3 265.7L386.5 266L386.1 266.1L385 266.5L384.2 266.7L383.8 266.8L382.6 267.2L381.4 267.4L381.4 267.4L380.2 267.7L379 268L378.1 268.2L377.8 268.2L376.6 268.4L375.4 268.6L374.2 268.8L374 268.9L373 269L371.8 269.2L370.6 269.4L369.4 269.6L369.4 269.6L368.2 269.8L367.1 270L365.9 270.1L364.7 270.3L364.5 270.3L363.5 270.4L362.3 270.6L361.1 270.8L359.9 271L359.4 271L358.7 271.1L357.5 271.3L356.3 271.5L355.1 271.6L353.9 271.7L353.7 271.8L352.7 271.8L351.5 271.9L350.3 271.9L349.2 271.9L348 271.9L346.8 271.9L345.6 271.9L344.4 271.9L343.2 271.9L342 271.9L340.8 271.8L339.6 271.8L338.7 271.8L338.4 271.7L337.2 271.7L336 271.7L334.8 271.6L333.6 271.5L332.4 271.5L331.3 271.4L330.1 271.3L328.9 271.2L327.7 271.2L326.5 271.1L325.3 271L325.3 271L324.1 271L322.9 270.9L321.7 270.9L320.5 270.8L319.3 270.7L318.1 270.7L316.9 270.7L315.7 270.6L314.5 270.6L313.4 270.5L312.2 270.5L311 270.4L309.8 270.4L309.2 270.3L308.6 270.3L307.4 270.2L306.2 270.1L305 270.1L303.8 270L302.6 269.9L301.4 270L300.2 270L299 270L297.8 270L296.6 270.1L295.5 270.1L294.3 270.1L293.1 270.2L291.9 270.3L291 270.3L290.7 270.3L289.5 270.4L288.3 270.5L287.1 270.6L285.9 270.7L284.7 270.8L283.5 270.9L282.3 271L281.7 271L281.1 271.1L279.9 271.2L278.7 271.3L277.6 271.4L276.4 271.6L275.2 271.7L274.5 271.8L274 271.8L272.8 272L271.6 272.1L270.4 272.2L269.2 272.4L269.2 272.5L269.2 273.2L269.2 273.9L269.2 274.6L269.2 275.4L269.2 276.1L269.2 276.8L269.2 276.9Z" fill="#f3f586" stroke="#f3f586" stroke-width="0.6" fill-rule="evenodd"/>
<path d="M270.4 272.2L271.6 272.1L272.8 272L274 271.8L274.5 271.8L275.2 271.7L276.4 271.6L277.6 271.4L278.7 271.3L279.9 271.2L281.1 271.1L281.7 271L282.3 271L283.5 270.9L284.7 270.8L285.9 270.7L287.1 270.6L288.3 270.5L289.5 270.4L290.7 270.3L291 270.3L291.9 270.3L293.1 270.2L294.3 270.1L295.5 270.1L296.6 270.1L297.8 270L299 270L300.2 270L301.4 270L302.6 269.9L303.8 270L305 270.1L306.2 270.1L307.4 270.2L308.6 270.3L309.2 270.3L309.8 270.4L311 270.4L312.2 270.5L313.4 270.5L314.5 270.6L315.7 270.6L316.9 270.7L318.1 270.7L319.3 270.7L320.5 270.8L321.7 270.9L322.9 270.9L324.1 271L325.3 271L325.3 271L326.5 271.1L327.7 271.2L328.9 271.2L330.1 271.3L331.3 271.4L332.4 271.5L333.6 271.5L334.8 271.6L336 271.7L337.2 271.7L338.4 271.7L338.7 271.8L339.6 271.8L340.8 271.8L342 271.9L343.2 271.9L344.4 271.9L345.6 271.9L346.8 271.9L348 271.9L349.2 271.9L350.3 271.9L351.5 271.9L352.7 271.8L353.7 271.8L353.9 271.7L355.1 271.6L356.3 271.5L357.5 271.3L358.7 271.1L359.4 271L359.9 271L361.1 270.8L362.3 270.6L363.5 270.4L364.5 270.3L364.7 270.3L365.9 270.1L367.1 270L368.2 269.8L369.4 269.6L369.4 269.6L370.6 269.4L371.8 269.2L373 269L374 268.9L374.2 268.8L375.4 268.6L376.6 268.4L377.8 268.2L378.1 268.2L379 268L380.2 267.7L381.4 267.4L381.4 267.4L382.6 267.2L383.8 266.8L384.2 266.7L385 266.5L386.1 266.1L386.5 266L387.3 265.7L388.5 265.4L389.1 265.3L389.7 265.1L390.9 264.8L391.6 264.6L392.1 264.4L393.3 263.9L393.5 263.8L394.5 263.4L395.1 263.1L395.7 262.8L396.3 262.4L396.9 261.9L397.2 261.7L397.8 261L398 260.3L398 259.5L397.7 258.8L396.9 258.1L396.9 258.1L395.7 257.4L395.7 257.4L394.5 256.8L394.1 256.7L393.3 256.4L392.1 256L392 255.9L390.9 255.6L389.7 255.3L389.4 255.2L388.5 255L387.3 254.7L386.5 254.5L386.1 254.4L385 254.1L383.9 253.8L383.8 253.7L382.6 253.5L381.4 253.2L380.8 253.1L380.2 252.9L379 252.7L377.8 252.5L377.2 252.3L376.6 252.2L375.4 252L374.2 251.8L373 251.7L372.8 251.6L371.8 251.5L370.6 251.3L369.4 251.1L368.2 250.9L368 250.9L367.1 250.8L365.9 250.6L364.7 250.4L363.5 250.3L362.8 250.2L362.3 250.1L361.1 249.9L359.9 249.8L358.7 249.6L357.8 249.5L357.5 249.4L356.3 249.3L355.1 249.1L353.9 249L352.7 248.8L352.7 248.7L351.5 248.5L350.3 248.3L349.2 248L349.1 248L348 247.8L346.8 247.6L345.6 247.4L345.3 247.3L344.4 247.1L343.2 246.9L342 246.7L341 246.6L340.8 246.6L339.6 246.4L338.4 246.2L337.2 246L336.3 245.9L336 245.8L334.8 245.7L333.6 245.5L332.4 245.3L331.3 245.2L331.1 245.2L330.1 245L328.9 244.8L327.7 244.7L326.5 244.7L325.3 244.6L324.1 244.6L322.9 244.5L321.7 244.4L321.5 244.4L320.5 244.4L319.3 244.3L318.1 244.3L316.9 244.2L315.7 244.1L314.5 244.1L313.4 244L312.2 243.9L311 243.9L309.8 243.9L308.6 243.9L307.4 243.8L306.2 243.8L305 243.8L303.8 243.8L302.6 243.8L301.4 243.8L300.2 243.9L299 244L297.8 244L296.6 244.1L295.5 244.2L294.3 244.2L293.1 244.2L291.9 244.3L290.7 244.3L289.5 244.3L288.3 244.3L287.1 244.3L285.9 244.4L284.7 244.4L283.5 244.4L282.3 244.4L281.1 244.4L279.9 244.4L278.7 244.4L277.6 244.3L276.4 244.3L275.2 244.3L274 244.3L272.8 244.2L271.6 244.2L270.4 244.2L269.2 244.1L269.2 244.4L269.2 245.2L269.2 245.9L269.2 245.9L270.4 245.9L271.6 245.9L272.8 246L274 246L275.2 246L276.4 246L277.6 246L278.7 246L279.9 246L281.1 246L282.3 246L283.5 246L284.7 246L285.9 246L287.1 246L288.3 246L289.5 246L290.7 245.9L291.9 245.9L293.1 245.9L294.3 245.9L294.4 245.9L295.5 245.8L296.6 245.8L297.8 245.7L299 245.7L300.2 245.6L301.4 245.5L302.6 245.5L303.8 245.5L305 245.5L306.2 245.6L307.4 245.6L308.6 245.6L309.8 245.6L311 245.7L312.2 245.7L313.4 245.8L314.2 245.9L314.5 245.9L315.7 246L316.9 246.1L318.1 246.1L319.3 246.2L320.5 246.3L321.7 246.4L322.9 246.5L324.1 246.6L324.6 246.6L325.3 246.6L326.5 246.7L327.7 246.8L328.9 247L330.1 247.1L331.2 247.3L331.3 247.3L332.4 247.5L333.6 247.7L334.8 247.9L335.8 248L336 248.1L337.2 248.3L338.4 248.5L339.6 248.7L339.9 248.7L340.8 248.9L342 249.1L343.2 249.4L343.6 249.5L344.4 249.6L345.6 249.9L346.8 250.1L347 250.2L348 250.4L349.2 250.7L350 250.9L350.3 251L351.5 251.3L352.7 251.6L352.8 251.6L353.9 251.9L355.1 252.1L356.3 252.3L356.3 252.3L357.5 252.6L358.7 252.8L359.7 253.1L359.9 253.1L361.1 253.4L362.3 253.7L362.6 253.8L363.5 254L364.7 254.3L365.6 254.5L365.9 254.6L367.1 254.9L368.1 255.2L368.2 255.3L369.4 255.7L370.1 255.9L370.6 256.2L371.8 256.6L372.1 256.7L373 257.1L373.6 257.4L374.2 257.8L374.7 258.1L375.4 258.8L375.4 258.9L375.6 259.5L375.5 260.3L375.4 260.4L375.1 261L374.3 261.7L374.2 261.8L373.3 262.4L373 262.5L371.8 263.1L371.8 263.1L370.6 263.6L370.1 263.8L369.4 264.1L368.3 264.6L368.2 264.6L367.1 265L366.1 265.3L365.9 265.4L364.7 265.7L363.5 266L363.5 266L362.3 266.3L361.1 266.6L360.7 266.7L359.9 266.9L358.7 267.2L357.8 267.4L357.5 267.5L356.3 267.8L355.1 268L354.4 268.2L353.9 268.2L352.7 268.4L351.5 268.5L350.3 268.6L349.2 268.7L348 268.8L346.8 268.9L346.3 268.9L345.6 268.9L344.4 268.9L343.2 269L342 269L340.8 269L339.6 269L338.4 269L337.2 269L336 269L334.8 268.9L333.6 268.9L333.4 268.9L332.4 268.8L331.3 268.8L330.1 268.8L328.9 268.7L327.7 268.7L326.5 268.6L325.3 268.6L324.1 268.6L322.9 268.5L321.7 268.5L320.5 268.5L319.3 268.4L318.1 268.4L316.9 268.4L315.7 268.4L314.5 268.4L313.4 268.4L312.2 268.4L311 268.4L309.8 268.3L308.6 268.2L307.4 268.2L307.3 268.2L306.2 268.1L305 268.1L303.8 268L302.6 268L301.4 268L300.2 268L299 268.1L297.8 268.1L296.6 268.2L296.6 268.2L295.5 268.2L294.3 268.2L293.1 268.3L291.9 268.4L290.7 268.5L289.5 268.6L288.3 268.6L287.1 268.7L285.9 268.8L284.7 268.9L284.7 268.9L283.5 269L282.3 269.1L281.1 269.2L279.9 269.3L278.7 269.4L277.6 269.5L276.4 269.6L276.2 269.6L275.2 269.7L274 269.8L272.8 269.9L271.6 270.1L270.4 270.2L269.2 270.3L269.2 270.3L269.2 271L269.2 271.8L269.2 272.4Z" fill="#f2e661" stroke="#f2e661" stroke-width="0.6" fill-rule="evenodd"/>
<path d="M270.4 270.2L271.6 270.1L272.8 269.9L274 269.8L275.2 269.7L276.2 269.6L276.4 269.6L277.6 269.5L278.7 269.4L279.9 269.3L281.1 269.2L282.3 269.1L283.5 269L284.7 268.9L284.7 268.9L285.9 268.8L287.1 268.7L288.3 268.6L289.5 268.6L290.7 268.5L291.9 268.4L293.1 268.3L294.3 268.2L295.5 268.2L296.6 268.2L296.6 268.2L297.8 268.1L299 268.1L300.2 268L301.4 268L302.6 268L303.8 268L305 268.1L306.2 268.1L307.3 268.2L307.4 268.2L308.6 268.2L309.8 268.3L311 268.4L312.2 268.4L313.4 268.4L314.5 268.4L315.7 268.4L316.9 268.4L318.1 268.4L319.3 268.4L320.5 268.5L321.7 268.5L322.9 268.5L324.1 268.6L325.3 268.6L326.5 268.6L327.7 268.7L328.9 268.7L330.1 268.8L331.3 268.8L332.4 268.8L333.4 268.9L333.6 268.9L334.8 268.9L336 269L337.2 269L338.4 269L339.6 269L340.8 269L342 269L343.2 269L344.4 268.9L345.6 268.9L346.3 268.9L346.8 268.9L348 268.8L349.2 268.7L350.3 268.6L351.5 268.5L352.7 268.4L353.9 268.2L354.4 268.2L355.1 268L356.3 267.8L357.5 267.5L357.8 267.4L358.7 267.2L359.9 266.9L360.7 266.7L361.1 266.6L362.3 266.3L363.5 266L363.5 266L364.7 265.7L365.9 265.4L366.1 265.3L367.1 265L368.2 264.6L368.3 264.6L369.4 264.1L370.1 263.8L370.6 263.6L371.8 263.1L371.8 263.1L373 262.5L373.3 262.4L374.2 261.8L374.3 261.7L375.1 261L375.4 260.4L375.5 260.3L375.6 259.5L375.4 258.9L375.4 258.8L374.7 258.1L374.2 257.8L373.6 257.4L373 257.1L372.1 256.7L371.8 256.6L370.6 256.2L370.1 255.9L369.4 255.7L368.2 255.3L368.1 255.2L367.1 254.9L365.9 254.6L365.6 254.5L364.7 254.3L363.5 254L362.6 253.8L362.3 253.7L361.1 253.4L359.9 253.1L359.7 253.1L358.7 252.8L357.5 252.6L356.3 252.3L356.3 252.3L355.1 252.1L353.9 251.9L352.8 251.6L352.7 251.6L351.5 251.3L350.3 251L350 250.9L349.2 250.7L348 250.4L347 250.2L346.8 250.1L345.6 249.9L344.4 249.6L343.6 249.5L343.2 249.4L342 249.1L340.8 248.9L339.9 248.7L339.6 248.7L338.4 248.5L337.2 248.3L336 248.1L335.8 248L334.8 247.9L333.6 247.7L332.4 247.5L331.3 247.3L331.2 247.3L330.1 247.1L328.9 247L327.7 246.8L326.5 246.7L325.3 246.6L324.6 246.6L324.1 246.6L322.9 246.5L321.7 246.4L320.5 246.3L319.3 246.2L318.1 246.1L316.9 246.1L315.7 246L314.5 245.9L314.2 245.9L313.4 245.8L312.2 245.7L311 245.7L309.8 245.6L308.6 245.6L307.4 245.6L306.2 245.6L305 245.5L303.8 245.5L302.6 245.5L301.4 245.5L300.2 245.6L299 245.7L297.8 245.7L296.6 245.8L295.5 245.8L294.4 245.9L294.3 245.9L293.1 245.9L291.9 245.9L290.7 245.9L289.5 246L288.3 246L287.1 246L285.9 246L284.7 246L283.5 246L282.3 246L281.1 246L279.9 246L278.7 246L277.6 246L276.4 246L275.2 246L274 246L272.8 246L271.6 245.9L270.4 245.9L269.2 245.9L269.2 246.6L269.2 247.1L270.4 247.2L271.6 247.2L272.8 247.2L274 247.2L275.2 247.3L276.4 247.3L277.6 247.3L278.7 247.3L279.9 247.3L281.1 247.3L282.3 247.3L283.5 247.3L284.7 247.3L285.9 247.3L287.1 247.3L288.3 247.3L289.5 247.2L290.7 247.2L291.9 247.2L293.1 247.2L294.3 247.2L295.5 247.1L296.6 247.1L297.8 247L299 247L300.2 247L301.4 246.9L302.6 246.9L303.8 246.9L305 246.9L306.2 247L307.4 247L308.6 247L309.8 247.1L311 247.1L312.2 247.2L313.4 247.3L313.6 247.3L314.5 247.4L315.7 247.5L316.9 247.6L318.1 247.7L319.3 247.8L320.5 247.9L321.7 248L321.7 248L322.9 248.1L324.1 248.2L325.3 248.3L326.5 248.4L327.7 248.6L328.9 248.7L329 248.7L330.1 248.9L331.3 249.1L332.4 249.3L333.1 249.5L333.6 249.6L334.8 249.8L336 250L336.9 250.2L337.2 250.2L338.4 250.5L339.6 250.8L340.3 250.9L340.8 251L342 251.3L343.2 251.6L343.4 251.6L344.4 251.9L345.6 252.2L346.2 252.3L346.8 252.5L348 252.9L348.6 253.1L349.2 253.2L350.3 253.6L350.8 253.8L351.5 254.1L352.7 254.5L352.7 254.5L353.9 255L354.8 255.2L355.1 255.4L356.3 255.8L356.7 255.9L357.5 256.3L358.2 256.7L358.7 257L359.3 257.4L359.9 257.9L360.1 258.1L360.5 258.8L360.6 259.5L360.5 260.3L360.1 261L359.9 261.2L359.5 261.7L358.7 262.3L358.6 262.4L357.5 263L357.4 263.1L356.3 263.6L355.8 263.8L355.1 264.1L354 264.6L353.9 264.6L352.7 264.9L351.5 265.2L351.2 265.3L350.3 265.5L349.2 265.7L348 265.8L346.8 266L346.8 266L345.6 266.1L344.4 266.2L343.2 266.3L342 266.4L340.8 266.5L339.6 266.5L338.4 266.6L337.2 266.6L336 266.6L334.8 266.6L333.6 266.6L332.4 266.6L331.3 266.6L330.1 266.6L328.9 266.6L327.7 266.6L326.5 266.6L325.3 266.6L324.1 266.6L322.9 266.6L321.7 266.5L320.5 266.5L319.3 266.5L318.1 266.6L316.9 266.6L315.7 266.6L314.5 266.7L313.4 266.7L312.2 266.7L311 266.7L309.8 266.7L308.6 266.6L307.4 266.6L306.2 266.6L305 266.5L303.8 266.5L302.6 266.5L301.4 266.5L300.2 266.6L299 266.7L297.8 266.7L297.7 266.7L296.6 266.8L295.5 266.8L294.3 266.9L293.1 267L291.9 267.1L290.7 267.1L289.5 267.2L288.3 267.3L287.1 267.4L286 267.4L285.9 267.5L284.7 267.6L283.5 267.7L282.3 267.8L281.1 267.9L279.9 268L278.7 268.1L277.6 268.1L277.3 268.2L276.4 268.3L275.2 268.4L274 268.5L272.8 268.6L271.6 268.7L270.4 268.8L269.3 268.9L269.2 268.9L269.2 269.6L269.2 270.3Z" fill="#f6d543" stroke="#f6d543" stroke-width="0.6" fill-rule="evenodd"/>
<path d="M269.3 268.9L270.4 268.8L271.6 268.7L272.8 268.6L274 268.5L275.2 268.4L276.4 268.3L277.3 268.2L277.6 268.1L278.7 268.1L279.9 268L281.1 267.9L282.3 267.8L283.5 267.7L284.7 267.6L285.9 267.5L286 267.4L287.1 267.4L288.3 267.3L289.5 267.2L290.7 267.1L291.9 267.1L293.1 267L294.3 266.9L295.5 266.8L296.6 266.8L297.7 266.7L297.8 266.7L299 266.7L300.2 266.6L301.4 266.5L302.6 266.5L303.8 266.5L305 266.5L306.2 266.6L307.4 266.6L308.6 266.6L309.8 266.7L311 266.7L312.2 266.7L313.4 266.7L314.5 266.7L315.7 266.6L316.9 266.6L318.1 266.6L319.3 266.5L320.5 266.5L321.7 266.5L322.9 266.6L324.1 266.6L325.3 266.6L326.5 266.6L327.7 266.6L328.9 266.6L330.1 266.6L331.3 266.6L332.4 266.6L333.6 266.6L334.8 266.6L336 266.6L337.2 266.6L338.4 266.6L339.6 266.5L340.8 266.5L342 266.4L343.2 266.3L344.4 266.2L345.6 266.1L346.8 266L346.8 266L348 265.8L349.2 265.7L350.3 265.5L351.2 265.3L351.5 265.2L352.7 264.9L353.9 264.6L354 264.6L355.1 264.1L355.8 263.8L356.3 263.6L357.4 263.1L357.5 263L358.6 262.4L358.7 262.3L359.5 261.7L359.9 261.2L360.1 261L360.5 260.3L360.6 259.5L360.5 258.8L360.1 258.1L359.9 257.9L359.3 257.4L358.7 257L358.2 256.7L357.5 256.3L356.7 255.9L356.3 255.8L355.1 255.4L354.8 255.2L353.9 255L352.7 254.5L352.7 254.5L351.5 254.1L350.8 253.8L350.3 253.6L349.2 253.2L348.6 253.1L348 252.9L346.8 252.5L346.2 252.3L345.6 252.2L344.4 251.9L343.4 251.6L343.2 251.6L342 251.3L340.8 251L340.3 250.9L339.6 250.8L338.4 250.5L337.2 250.2L336.9 250.2L336 250L334.8 249.8L333.6 249.6L333.1 249.5L332.4 249.3L331.3 249.1L330.1 248.9L329 248.7L328.9 248.7L327.7 248.6L326.5 248.4L325.3 248.3L324.1 248.2L322.9 248.1L321.7 248L321.7 248L320.5 247.9L319.3 247.8L318.1 247.7L316.9 247.6L315.7 247.5L314.5 247.4L313.6 247.3L313.4 247.3L312.2 247.2L311 247.1L309.8 247.1L308.6 247L307.4 247L306.2 247L305 246.9L303.8 246.9L302.6 246.9L301.4 246.9L300.2 247L299 247L297.8 247L296.6 247.1L295.5 247.1L294.3 247.2L293.1 247.2L291.9 247.2L290.7 247.2L289.5 247.2L288.3 247.3L287.1 247.3L285.9 247.3L284.7 247.3L283.5 247.3L282.3 247.3L281.1 247.3L279.9 247.3L278.7 247.3L277.6 247.3L276.4 247.3L275.2 247.3L274 247.2L272.8 247.2L271.6 247.2L270.4 247.2L269.2 247.1L269.2 247.3L269.2 248L269.2 248.1L270.4 248.2L271.6 248.2L272.8 248.2L274 248.2L275.2 248.3L276.4 248.3L277.6 248.3L278.7 248.3L279.9 248.3L281.1 248.3L282.3 248.3L283.5 248.3L284.7 248.4L285.9 248.4L287.1 248.4L288.3 248.3L289.5 248.3L290.7 248.3L291.9 248.3L293.1 248.3L294.3 248.3L295.5 248.2L296.6 248.2L297.8 248.2L299 248.2L300.2 248.1L301.4 248.1L302.6 248.1L303.8 248.1L305 248.1L306.2 248.2L307.4 248.2L308.6 248.3L309.8 248.3L311 248.4L312.2 248.5L313.4 248.6L314.5 248.7L314.7 248.7L315.7 248.9L316.9 249L318.1 249.1L319.3 249.3L320.5 249.4L321.1 249.5L321.7 249.5L322.9 249.7L324.1 249.8L325.3 249.9L326.5 250.1L327.4 250.2L327.7 250.2L328.9 250.4L330.1 250.7L331.3 250.9L331.3 250.9L332.4 251.1L333.6 251.4L334.7 251.6L334.8 251.7L336 251.9L337.2 252.2L337.7 252.3L338.4 252.5L339.6 252.9L340.3 253.1L340.8 253.2L342 253.6L342.6 253.8L343.2 254L344.4 254.4L344.7 254.5L345.6 254.8L346.5 255.2L346.8 255.4L347.9 255.9L348 256L349.1 256.7L349.2 256.7L350 257.4L350.3 257.8L350.6 258.1L350.9 258.8L350.9 259.5L350.6 260.3L350.3 260.5L349.9 261L349.2 261.5L348.9 261.7L348 262.1L347.3 262.4L346.8 262.6L345.6 262.9L344.9 263.1L344.4 263.2L343.2 263.5L342 263.7L340.8 263.8L340.8 263.8L339.6 264L338.4 264.1L337.2 264.2L336 264.3L334.8 264.4L333.6 264.4L332.4 264.5L331.3 264.5L330.1 264.5L328.9 264.5L328.1 264.6L327.7 264.6L326.5 264.6L325.3 264.7L324.1 264.7L322.9 264.7L321.7 264.7L320.5 264.8L319.3 264.8L318.1 264.9L316.9 265L315.7 265.1L314.5 265.1L313.4 265.2L312.2 265.3L311.2 265.3L311 265.3L309.9 265.3L309.8 265.3L308.6 265.3L307.4 265.3L306.2 265.3L305 265.3L303.8 265.2L302.6 265.3L302.3 265.3L301.4 265.3L300.2 265.4L299 265.5L297.8 265.6L296.6 265.7L295.5 265.7L294.3 265.8L293.1 265.9L291.9 266L291.5 266L290.7 266.1L289.5 266.2L288.3 266.3L287.1 266.3L285.9 266.4L284.7 266.5L283.5 266.6L282.5 266.7L282.3 266.7L281.1 266.8L279.9 266.9L278.7 267L277.6 267.1L276.4 267.3L275.2 267.4L274.2 267.4L274 267.5L272.8 267.6L271.6 267.7L270.4 267.8L269.2 267.9L269.2 268.2L269.2 268.9L269.2 268.9Z" fill="#fac42a" stroke="#fac42a" stroke-width="0.6" fill-rule="evenodd"/>
<path d="M270.4 267.8L271.6 267.7L272.8 267.6L274 267.5L274.2 267.4L275.2 267.4L276.4 267.3L277.6 267.1L278.7 267L279.9 266.9L281.1 266.8L282.3 266.7L282.5 266.7L283.5 266.6L284.7 266.5L285.9 266.4L287.1 266.3L288.3 266.3L289.5 266.2L290.7 266.1L291.5 266L291.9 266L293.1 265.9L294.3 265.8L295.5 265.7L296.6 265.7L297.8 265.6L299 265.5L300.2 265.4L301.4 265.3L302.3 265.3L302.6 265.3L303.8 265.2L305 265.3L306.2 265.3L307.4 265.3L308.6 265.3L309.8 265.3L309.9 265.3L311 265.3L311.2 265.3L312.2 265.3L313.4 265.2L314.5 265.1L315.7 265.1L316.9 265L318.1 264.9L319.3 264.8L320.5 264.8L321.7 264.7L322.9 264.7L324.1 264.7L325.3 264.7L326.5 264.6L327.7 264.6L328.1 264.6L328.9 264.5L330.1 264.5L331.3 264.5L332.4 264.5L333.6 264.4L334.8 264.4L336 264.3L337.2 264.2L338.4 264.1L339.6 264L340.8 263.8L340.8 263.8L342 263.7L343.2 263.5L344.4 263.2L344.9 263.1L345.6 262.9L346.8 262.6L347.3 262.4L348 262.1L348.9 261.7L349.2 261.5L349.9 261L350.3 260.5L350.6 260.3L350.9 259.5L350.9 258.8L350.6 258.1L350.3 257.8L350 257.4L349.2 256.7L349.1 256.7L348 256L347.9 255.9L346.8 255.4L346.5 255.2L345.6 254.8L344.7 254.5L344.4 254.4L343.2 254L342.6 253.8L342 253.6L340.8 253.2L340.3 253.1L339.6 252.9L338.4 252.5L337.7 252.3L337.2 252.2L336 251.9L334.8 251.7L334.7 251.6L333.6 251.4L332.4 251.1L331.3 250.9L331.3 250.9L330.1 250.7L328.9 250.4L327.7 250.2L327.4 250.2L326.5 250.1L325.3 249.9L324.1 249.8L322.9 249.7L321.7 249.5L321.1 249.5L320.5 249.4L319.3 249.3L318.1 249.1L316.9 249L315.7 248.9L314.7 248.7L314.5 248.7L313.4 248.6L312.2 248.5L311 248.4L309.8 248.3L308.6 248.3L307.4 248.2L306.2 248.2L305 248.1L303.8 248.1L302.6 248.1L301.4 248.1L300.2 248.1L299 248.2L297.8 248.2L296.6 248.2L295.5 248.2L294.3 248.3L293.1 248.3L291.9 248.3L290.7 248.3L289.5 248.3L288.3 248.3L287.1 248.4L285.9 248.4L284.7 248.4L283.5 248.3L282.3 248.3L281.1 248.3L279.9 248.3L278.7 248.3L277.6 248.3L276.4 248.3L275.2 248.3L274 248.2L272.8 248.2L271.6 248.2L270.4 248.2L269.2 248.1L269.2 248.7L269.2 249L270.4 249L271.6 249L272.8 249.1L274 249.1L275.2 249.1L276.4 249.1L277.6 249.2L278.7 249.2L279.9 249.2L281.1 249.2L282.3 249.2L283.5 249.3L284.7 249.3L285.9 249.3L287.1 249.3L288.3 249.3L289.5 249.3L290.7 249.3L291.9 249.3L293.1 249.3L294.3 249.3L295.5 249.3L296.6 249.2L297.8 249.2L299 249.2L300.2 249.2L301.4 249.2L302.6 249.2L303.8 249.2L305 249.3L306.2 249.3L307.4 249.4L308.6 249.5L308.7 249.5L309.8 249.5L311 249.6L312.2 249.7L313.4 249.9L314.5 250L315.7 250.2L315.8 250.2L316.9 250.3L318.1 250.5L319.3 250.7L320.5 250.9L320.6 250.9L321.7 251.1L322.9 251.2L324.1 251.4L325.3 251.6L325.6 251.6L326.5 251.8L327.7 252L328.9 252.2L329.4 252.3L330.1 252.5L331.3 252.8L332.1 253.1L332.4 253.1L333.6 253.5L334.6 253.8L334.8 253.9L336 254.2L336.8 254.5L337.2 254.7L338.4 255.2L338.5 255.2L339.6 255.8L339.9 255.9L340.8 256.6L341 256.7L341.6 257.4L341.9 258.1L341.8 258.8L341.2 259.5L340.8 259.8L340.1 260.3L339.6 260.5L338.4 261L338.4 261L337.2 261.3L336 261.6L335.3 261.7L334.8 261.8L333.6 261.9L332.4 262.1L331.3 262.2L330.1 262.3L328.9 262.4L328.6 262.4L327.7 262.5L326.5 262.6L325.3 262.7L324.1 262.8L322.9 262.8L321.7 262.9L320.5 263L319.3 263.1L319.1 263.1L318.1 263.3L316.9 263.5L315.7 263.6L314.5 263.7L313.4 263.8L313.3 263.8L312.2 263.9L311 264L309.8 264L308.6 264.1L307.4 264.1L306.2 264.1L305 264.1L303.8 264.2L302.6 264.2L301.4 264.3L300.2 264.4L299 264.5L298.3 264.6L297.8 264.6L296.6 264.7L295.5 264.8L294.3 264.9L293.1 265L291.9 265.1L290.7 265.2L289.5 265.3L289.4 265.3L288.3 265.4L287.1 265.5L285.9 265.6L284.7 265.7L283.5 265.8L282.3 265.9L281.2 266L281.1 266L279.9 266.1L278.7 266.2L277.6 266.3L276.4 266.4L275.2 266.6L274 266.7L273.2 266.7L272.8 266.8L271.6 266.9L270.4 267L269.2 267.1L269.2 267.4L269.2 267.9Z" fill="#fcb216" stroke="#fcb216" stroke-width="0.6" fill-rule="evenodd"/>
<path d="M270.4 267L271.6 266.9L272.8 266.8L273.2 266.7L274 266.7L275.2 266.6L276.4 266.4L277.6 266.3L278.7 266.2L279.9 266.1L281.1 266L281.2 266L282.3 265.9L283.5 265.8L284.7 265.7L285.9 265.6L287.1 265.5L288.3 265.4L289.4 265.3L289.5 265.3L290.7 265.2L291.9 265.1L293.1 265L294.3 264.9L295.5 264.8L296.6 264.7L297.8 264.6L298.3 264.6L299 264.5L300.2 264.4L301.4 264.3L302.6 264.2L303.8 264.2L305 264.1L306.2 264.1L307.4 264.1L308.6 264.1L309.8 264L311 264L312.2 263.9L313.3 263.8L313.4 263.8L314.5 263.7L315.7 263.6L316.9 263.5L318.1 263.3L319.1 263.1L319.3 263.1L320.5 263L321.7 262.9L322.9 262.8L324.1 262.8L325.3 262.7L326.5 262.6L327.7 262.5L328.6 262.4L328.9 262.4L330.1 262.3L331.3 262.2L332.4 262.1L333.6 261.9L334.8 261.8L335.3 261.7L336 261.6L337.2 261.3L338.4 261L338.4 261L339.6 260.5L340.1 260.3L340.8 259.8L341.2 259.5L341.8 258.8L341.9 258.1L341.6 257.4L341 256.7L340.8 256.6L339.9 255.9L339.6 255.8L338.5 255.2L338.4 255.2L337.2 254.7L336.8 254.5L336 254.2L334.8 253.9L334.6 253.8L333.6 253.5L332.4 253.1L332.1 253.1L331.3 252.8L330.1 252.5L329.4 252.3L328.9 252.2L327.7 252L326.5 251.8L325.6 251.6L325.3 251.6L324.1 251.4L322.9 251.2L321.7 251.1L320.6 250.9L320.5 250.9L319.3 250.7L318.1 250.5L316.9 250.3L315.8 250.2L315.7 250.2L314.5 250L313.4 249.9L312.2 249.7L311 249.6L309.8 249.5L308.7 249.5L308.6 249.5L307.4 249.4L306.2 249.3L305 249.3L303.8 249.2L302.6 249.2L301.4 249.2L300.2 249.2L299 249.2L297.8 249.2L296.6 249.2L295.5 249.3L294.3 249.3L293.1 249.3L291.9 249.3L290.7 249.3L289.5 249.3L288.3 249.3L287.1 249.3L285.9 249.3L284.7 249.3L283.5 249.3L282.3 249.2L281.1 249.2L279.9 249.2L278.7 249.2L277.6 249.2L276.4 249.1L275.2 249.1L274 249.1L272.8 249.1L271.6 249L270.4 249L269.2 249L269.2 249.5L269.2 249.7L270.4 249.7L271.6 249.7L272.8 249.8L274 249.8L275.2 249.9L276.4 249.9L277.6 249.9L278.7 250L279.9 250L281.1 250L282.3 250.1L283.5 250.1L284.7 250.1L285.9 250.1L287.1 250.2L288.3 250.2L289.5 250.2L290.7 250.2L291.2 250.2L291.9 250.2L293.1 250.2L294.3 250.2L295.5 250.2L296.6 250.2L297.8 250.2L299 250.2L300.2 250.2L301.4 250.2L302.6 250.2L303.8 250.3L305 250.4L306.2 250.4L307.4 250.5L308.6 250.6L309.8 250.7L311 250.8L311.9 250.9L312.2 250.9L313.4 251.1L314.5 251.3L315.7 251.5L316.2 251.6L316.9 251.8L318.1 252L319.3 252.3L319.5 252.3L320.5 252.6L321.7 252.8L322.9 253L323 253.1L324.1 253.3L325.3 253.6L326.1 253.8L326.5 253.9L327.7 254.3L328.4 254.5L328.9 254.7L330 255.2L330.1 255.3L331.2 255.9L331.3 256L331.9 256.7L332 257.4L331.6 258.1L331.3 258.3L330.5 258.8L330.1 259L328.9 259.4L328.5 259.5L327.7 259.7L326.5 260L325.4 260.3L325.3 260.3L324.1 260.5L322.9 260.7L321.7 260.8L320.5 261L320.5 261L319.3 261.2L318.1 261.6L317.7 261.7L316.9 261.9L315.7 262.1L314.5 262.3L314.1 262.4L313.4 262.5L312.2 262.7L311 262.8L309.8 262.9L308.6 263L307.4 263L306.2 263.1L305 263.1L304.9 263.1L303.8 263.2L302.6 263.2L301.4 263.4L300.2 263.5L299 263.6L297.8 263.7L296.6 263.8L296.5 263.8L295.5 263.9L294.3 264L293.1 264.2L291.9 264.3L290.7 264.4L289.5 264.5L288.9 264.6L288.3 264.6L287.1 264.7L285.9 264.8L284.7 265L283.5 265.1L282.3 265.2L281.3 265.3L281.1 265.3L279.9 265.4L278.7 265.5L277.6 265.6L276.4 265.8L275.2 265.9L274 266L273.7 266L272.8 266.1L271.6 266.2L270.4 266.3L269.2 266.4L269.2 266.7L269.2 267.1Z" fill="#fca309" stroke="#fca309" stroke-width="0.6" fill-rule="evenodd"/>
<path d="M270.4 266.3L271.6 266.2L272.8 266.1L273.7 266L274 266L275.2 265.9L276.4 265.8L277.6 265.6L278.7 265.5L279.9 265.4L281.1 265.3L281.3 265.3L282.3 265.2L283.5 265.1L284.7 265L285.9 264.8L287.1 264.7L288.3 264.6L288.9 264.6L289.5 264.5L290.7 264.4L291.9 264.3L293.1 264.2L294.3 264L295.5 263.9L296.5 263.8L296.6 263.8L297.8 263.7L299 263.6L300.2 263.5L301.4 263.4L302.6 263.2L303.8 263.2L304.9 263.1L305 263.1L306.2 263.1L307.4 263L308.6 263L309.8 262.9L311 262.8L312.2 262.7L313.4 262.5L314.1 262.4L314.5 262.3L315.7 262.1L316.9 261.9L317.7 261.7L318.1 261.6L319.3 261.2L320.5 261L320.5 261L321.7 260.8L322.9 260.7L324.1 260.5L325.3 260.3L325.4 260.3L326.5 260L327.7 259.7L328.5 259.5L328.9 259.4L330.1 259L330.5 258.8L331.3 258.3L331.6 258.1L332 257.4L331.9 256.7L331.3 256L331.2 255.9L330.1 255.3L330 255.2L328.9 254.7L328.4 254.5L327.7 254.3L326.5 253.9L326.1 253.8L325.3 253.6L324.1 253.3L323 253.1L322.9 253L321.7 252.8L320.5 252.6L319.5 252.3L319.3 252.3L318.1 252L316.9 251.8L316.2 251.6L315.7 251.5L314.5 251.3L313.4 251.1L312.2 250.9L311.9 250.9L311 250.8L309.8 250.7L308.6 250.6L307.4 250.5L306.2 250.4L305 250.4L303.8 250.3L302.6 250.2L301.4 250.2L300.2 250.2L299 250.2L297.8 250.2L296.6 250.2L295.5 250.2L294.3 250.2L293.1 250.2L291.9 250.2L291.2 250.2L290.7 250.2L289.5 250.2L288.3 250.2L287.1 250.2L285.9 250.1L284.7 250.1L283.5 250.1L282.3 250.1L281.1 250L279.9 250L278.7 250L277.6 249.9L276.4 249.9L275.2 249.9L274 249.8L272.8 249.8L271.6 249.7L270.4 249.7L269.2 249.7L269.2 250.2L269.2 250.3L270.4 250.3L271.6 250.4L272.8 250.4L274 250.5L275.2 250.5L276.4 250.6L277.6 250.6L278.7 250.7L279.9 250.7L281.1 250.7L282.3 250.8L283.5 250.8L284.7 250.9L285.8 250.9L285.9 250.9L287.1 250.9L288.3 251L289.5 251L290.7 251L291.9 251L293.1 251.1L294.3 251.1L295.5 251.1L296.6 251.1L297.8 251.2L299 251.2L300.2 251.2L301.4 251.3L302.6 251.3L303.8 251.4L305 251.5L306.2 251.6L306.8 251.6L307.4 251.7L308.6 251.8L309.8 251.9L311 252L312.2 252.2L312.7 252.3L313.4 252.5L314.5 252.8L315.7 253.1L315.7 253.1L316.9 253.5L317.8 253.8L318.1 253.9L319.2 254.5L319.3 254.6L320.4 255.2L320.5 255.3L321.3 255.9L321.5 256.7L320.9 257.4L320.5 257.6L320 258.1L319.3 258.5L319 258.8L318.1 259.5L318 259.5L316.9 260.1L316.5 260.3L315.7 260.5L314.5 260.9L314.2 261L313.4 261.2L312.2 261.4L311 261.6L310.3 261.7L309.8 261.7L308.6 261.9L307.4 262L306.2 262.1L305 262.2L303.8 262.2L302.6 262.3L302.1 262.4L301.4 262.5L300.2 262.7L299 262.8L297.8 262.9L296.6 263.1L296 263.1L295.5 263.2L294.3 263.3L293.1 263.4L291.9 263.6L290.7 263.7L289.5 263.8L289.3 263.8L288.3 263.9L287.1 264.1L285.9 264.2L284.7 264.3L283.5 264.4L282.3 264.6L282.3 264.6L281.1 264.7L279.9 264.8L278.7 264.9L277.6 265L276.4 265.2L275.2 265.3L275.1 265.3L274 265.4L272.8 265.5L271.6 265.6L270.4 265.7L269.2 265.8L269.2 266L269.2 266.4Z" fill="#fa9207" stroke="#fa9207" stroke-width="0.6" fill-rule="evenodd"/>
<path d="M270.4 265.7L271.6 265.6L272.8 265.5L274 265.4L275.1 265.3L275.2 265.3L276.4 265.2L277.6 265L278.7 264.9L279.9 264.8L281.1 264.7L282.3 264.6L282.3 264.6L283.5 264.4L284.7 264.3L285.9 264.2L287.1 264.1L288.3 263.9L289.3 263.8L289.5 263.8L290.7 263.7L291.9 263.6L293.1 263.4L294.3 263.3L295.5 263.2L296 263.1L296.6 263.1L297.8 262.9L299 262.8L300.2 262.7L301.4 262.5L302.1 262.4L302.6 262.3L303.8 262.2L305 262.2L306.2 262.1L307.4 262L308.6 261.9L309.8 261.7L310.3 261.7L311 261.6L312.2 261.4L313.4 261.2L314.2 261L314.5 260.9L315.7 260.5L316.5 260.3L316.9 260.1L318 259.5L318.1 259.5L319 258.8L319.3 258.5L320 258.1L320.5 257.6L320.9 257.4L321.5 256.7L321.3 255.9L320.5 255.3L320.4 255.2L319.3 254.6L319.2 254.5L318.1 253.9L317.8 253.8L316.9 253.5L315.7 253.1L315.7 253.1L314.5 252.8L313.4 252.5L312.7 252.3L312.2 252.2L311 252L309.8 251.9L308.6 251.8L307.4 251.7L306.8 251.6L306.2 251.6L305 251.5L303.8 251.4L302.6 251.3L301.4 251.3L300.2 251.2L299 251.2L297.8 251.2L296.6 251.1L295.5 251.1L294.3 251.1L293.1 251.1L291.9 251L290.7 251L289.5 251L288.3 251L287.1 250.9L285.9 250.9L285.8 250.9L284.7 250.9L283.5 250.8L282.3 250.8L281.1 250.7L279.9 250.7L278.7 250.7L277.6 250.6L276.4 250.6L275.2 250.5L274 250.5L272.8 250.4L271.6 250.4L270.4 250.3L269.2 250.3L269.2 250.8L270.4 250.9L271.1 250.9L271.6 250.9L272.8 251L274 251L275.2 251.1L276.4 251.2L277.6 251.2L278.7 251.3L279.9 251.3L281.1 251.4L282.3 251.4L283.5 251.5L284.7 251.5L285.9 251.6L286.4 251.6L287.1 251.6L288.3 251.7L289.5 251.7L290.7 251.8L291.9 251.8L293.1 251.9L294.3 251.9L295.5 252L296.6 252L297.8 252.1L299 252.1L300.2 252.2L301.4 252.3L302.3 252.3L302.6 252.4L303.8 252.5L305 252.6L306.2 252.8L307.4 252.9L308.6 253.1L308.6 253.1L309.8 253.2L311 253.4L312.2 253.7L312.3 253.8L313.4 254.2L314.2 254.5L314.5 254.7L315.5 255.2L315.7 255.5L316.2 255.9L316.4 256.7L316.3 257.4L315.8 258.1L315.7 258.2L314.9 258.8L314.5 259L313.5 259.5L313.4 259.6L312.2 260L311.3 260.3L311 260.3L309.8 260.6L308.6 260.7L307.4 260.9L307 261L306.2 261.1L305 261.2L303.8 261.3L302.6 261.5L301.4 261.7L301.3 261.7L300.2 261.9L299 262L297.8 262.2L296.6 262.3L296 262.4L295.5 262.5L294.3 262.6L293.1 262.8L291.9 262.9L290.7 263.1L290.1 263.1L289.5 263.2L288.3 263.3L287.1 263.5L285.9 263.6L284.7 263.7L283.7 263.8L283.5 263.9L282.3 264L281.1 264.1L279.9 264.3L278.7 264.4L277.6 264.5L276.8 264.6L276.4 264.6L275.2 264.8L274 264.9L272.8 265L271.6 265.1L270.4 265.2L269.6 265.3L269.2 265.3L269.2 265.8Z" fill="#f78212" stroke="#f78212" stroke-width="0.6" fill-rule="evenodd"/>
<path d="M269.6 265.3L270.4 265.2L271.6 265.1L272.8 265L274 264.9L275.2 264.8L276.4 264.6L276.8 264.6L277.6 264.5L278.7 264.4L279.9 264.3L281.1 264.1L282.3 264L283.5 263.9L283.7 263.8L284.7 263.7L285.9 263.6L287.1 263.5L288.3 263.3L289.5 263.2L290.1 263.1L290.7 263.1L291.9 262.9L293.1 262.8L294.3 262.6L295.5 262.5L296 262.4L296.6 262.3L297.8 262.2L299 262L300.2 261.9L301.3 261.7L301.4 261.7L302.6 261.5L303.8 261.3L305 261.2L306.2 261.1L307 261L307.4 260.9L308.6 260.7L309.8 260.6L311 260.3L311.3 260.3L312.2 260L313.4 259.6L313.5 259.5L314.5 259L314.9 258.8L315.7 258.2L315.8 258.1L316.3 257.4L316.4 256.7L316.2 255.9L315.7 255.5L315.5 255.2L314.5 254.7L314.2 254.5L313.4 254.2L312.3 253.8L312.2 253.7L311 253.4L309.8 253.2L308.6 253.1L308.6 253.1L307.4 252.9L306.2 252.8L305 252.6L303.8 252.5L302.6 252.4L302.3 252.3L301.4 252.3L300.2 252.2L299 252.1L297.8 252.1L296.6 252L295.5 252L294.3 251.9L293.1 251.9L291.9 251.8L290.7 251.8L289.5 251.7L288.3 251.7L287.1 251.6L286.4 251.6L285.9 251.6L284.7 251.5L283.5 251.5L282.3 251.4L281.1 251.4L279.9 251.3L278.7 251.3L277.6 251.2L276.4 251.2L275.2 251.1L274 251L272.8 251L271.6 250.9L271.1 250.9L270.4 250.9L269.2 250.8L269.2 250.9L269.2 251.3L270.4 251.3L271.6 251.4L272.8 251.5L274 251.5L275.2 251.6L275.2 251.6L276.4 251.7L277.6 251.8L278.7 251.8L279.9 251.9L281.1 251.9L282.3 252L283.5 252.1L284.7 252.2L285.9 252.3L287.1 252.3L287.7 252.3L288.3 252.4L289.5 252.4L290.7 252.5L291.9 252.6L293.1 252.6L294.3 252.7L295.5 252.8L296.6 252.9L297.8 253L298.7 253.1L299 253.1L300.2 253.2L301.4 253.3L302.6 253.5L303.8 253.7L304.6 253.8L305 253.8L306.2 254.1L307.4 254.3L308.4 254.5L308.6 254.6L309.8 254.9L310.7 255.2L311 255.3L311.9 255.9L312.2 256.3L312.4 256.7L312.4 257.4L312.2 257.7L311.8 258.1L311 258.6L310.6 258.8L309.8 259.1L308.6 259.5L308.4 259.5L307.4 259.8L306.2 260L305 260.2L304.7 260.3L303.8 260.4L302.6 260.6L301.4 260.8L300.7 261L300.2 261.1L299 261.3L297.8 261.5L296.6 261.6L296.2 261.7L295.5 261.8L294.3 262L293.1 262.1L291.9 262.3L291.1 262.4L290.7 262.5L289.5 262.6L288.3 262.8L287.1 262.9L285.9 263L285.1 263.1L284.7 263.2L283.5 263.3L282.3 263.5L281.1 263.6L279.9 263.8L279 263.8L278.7 263.9L277.6 264L276.4 264.1L275.2 264.3L274 264.4L272.8 264.5L272.4 264.6L271.6 264.7L270.4 264.8L269.2 264.9L269.2 265.3L269.2 265.3Z" fill="#f1731d" stroke="#f1731d" stroke-width="0.6" fill-rule="evenodd"/>
<path d="M270.4 264.8L271.6 264.7L272.4 264.6L272.8 264.5L274 264.4L275.2 264.3L276.4 264.1L277.6 264L278.7 263.9L279 263.8L279.9 263.8L281.1 263.6L282.3 263.5L283.5 263.3L284.7 263.2L285.1 263.1L285.9 263L287.1 262.9L288.3 262.8L289.5 262.6L290.7 262.5L291.1 262.4L291.9 262.3L293.1 262.1L294.3 262L295.5 261.8L296.2 261.7L296.6 261.6L297.8 261.5L299 261.3L300.2 261.1L300.7 261L301.4 260.8L302.6 260.6L303.8 260.4L304.7 260.3L305 260.2L306.2 260L307.4 259.8L308.4 259.5L308.6 259.5L309.8 259.1L310.6 258.8L311 258.6L311.8 258.1L312.2 257.7L312.4 257.4L312.4 256.7L312.2 256.3L311.9 255.9L311 255.3L310.7 255.2L309.8 254.9L308.6 254.6L308.4 254.5L307.4 254.3L306.2 254.1L305 253.8L304.6 253.8L303.8 253.7L302.6 253.5L301.4 253.3L300.2 253.2L299 253.1L298.7 253.1L297.8 253L296.6 252.9L295.5 252.8L294.3 252.7L293.1 252.6L291.9 252.6L290.7 252.5L289.5 252.4L288.3 252.4L287.7 252.3L287.1 252.3L285.9 252.3L284.7 252.2L283.5 252.1L282.3 252L281.1 251.9L279.9 251.9L278.7 251.8L277.6 251.8L276.4 251.7L275.2 251.6L275.2 251.6L274 251.5L272.8 251.5L271.6 251.4L270.4 251.3L269.2 251.3L269.2 251.6L269.2 251.7L270.4 251.8L271.6 251.9L272.8 251.9L274 252L275.2 252.1L276.4 252.2L277.6 252.3L278.7 252.3L278.8 252.3L279.9 252.4L281.1 252.5L282.3 252.6L283.5 252.7L284.7 252.7L285.9 252.9L287.1 252.9L288.3 253L289 253.1L289.5 253.1L290.7 253.2L291.9 253.3L293.1 253.4L294.3 253.5L295.5 253.6L296.6 253.8L296.9 253.8L297.8 253.9L299 254.1L300.2 254.3L301.4 254.5L301.5 254.5L302.6 254.8L303.8 255L304.6 255.2L305 255.4L306.2 255.8L306.6 255.9L307.4 256.5L307.7 256.7L307.9 257.4L307.4 257.9L307.2 258.1L306.2 258.6L305.6 258.8L305 259L303.8 259.3L302.8 259.5L302.6 259.6L301.4 259.9L300.2 260.2L300.1 260.3L299 260.5L297.8 260.7L296.6 260.9L296.4 261L295.5 261.1L294.3 261.3L293.1 261.5L292 261.7L291.9 261.7L290.7 261.9L289.5 262.1L288.3 262.2L287.1 262.4L286.6 262.4L285.9 262.5L284.7 262.7L283.5 262.8L282.3 263L281.3 263.1L281.1 263.1L279.9 263.3L278.7 263.4L277.6 263.6L276.4 263.7L275.2 263.8L275.1 263.8L274 264L272.8 264.1L271.6 264.2L270.4 264.4L269.2 264.5L269.2 264.6L269.2 264.9Z" fill="#eb6429" stroke="#eb6429" stroke-width="0.6" fill-rule="evenodd"/>
<path d="M270.4 264.4L271.6 264.2L272.8 264.1L274 264L275.1 263.8L275.2 263.8L276.4 263.7L277.6 263.6L278.7 263.4L279.9 263.3L281.1 263.1L281.3 263.1L282.3 263L283.5 262.8L284.7 262.7L285.9 262.5L286.6 262.4L287.1 262.4L288.3 262.2L289.5 262.1L290.7 261.9L291.9 261.7L292 261.7L293.1 261.5L294.3 261.3L295.5 261.1L296.4 261L296.6 260.9L297.8 260.7L299 260.5L300.1 260.3L300.2 260.2L301.4 259.9L302.6 259.6L302.8 259.5L303.8 259.3L305 259L305.6 258.8L306.2 258.6L307.2 258.1L307.4 257.9L307.9 257.4L307.7 256.7L307.4 256.5L306.6 255.9L306.2 255.8L305 255.4L304.6 255.2L303.8 255L302.6 254.8L301.5 254.5L301.4 254.5L300.2 254.3L299 254.1L297.8 253.9L296.9 253.8L296.6 253.8L295.5 253.6L294.3 253.5L293.1 253.4L291.9 253.3L290.7 253.2L289.5 253.1L289 253.1L288.3 253L287.1 252.9L285.9 252.9L284.7 252.7L283.5 252.7L282.3 252.6L281.1 252.5L279.9 252.4L278.8 252.3L278.7 252.3L277.6 252.3L276.4 252.2L275.2 252.1L274 252L272.8 251.9L271.6 251.9L270.4 251.8L269.2 251.7L269.2 252.1L270.4 252.2L271.6 252.3L272.6 252.3L272.8 252.4L274 252.4L275.2 252.5L276.4 252.6L277.6 252.7L278.7 252.8L279.9 252.9L281.1 253L282.1 253.1L282.3 253.1L283.5 253.2L284.7 253.3L285.9 253.4L287.1 253.5L288.3 253.6L289.5 253.7L290 253.8L290.7 253.9L291.9 254L293.1 254.1L294.3 254.3L295.5 254.5L295.7 254.5L296.6 254.7L297.8 254.9L299 255.1L299.5 255.2L300.2 255.4L301.4 255.9L301.6 255.9L302.6 256.6L302.8 256.7L303.2 257.4L302.6 258.1L302.6 258.1L301.4 258.8L301.4 258.8L300.2 259.2L299.4 259.5L299 259.6L297.8 259.9L296.6 260.2L296.4 260.3L295.5 260.4L294.3 260.6L293.1 260.9L292.7 261L291.9 261.1L290.7 261.3L289.5 261.5L288.3 261.7L288.2 261.7L287.1 261.8L285.9 262L284.7 262.2L283.5 262.4L283.3 262.4L282.3 262.5L281.1 262.7L279.9 262.9L278.7 263L277.6 263.1L277.5 263.1L276.4 263.3L275.2 263.4L274 263.6L272.8 263.7L271.6 263.8L271.5 263.8L270.4 264L269.2 264.1L269.2 264.5Z" fill="#e25734" stroke="#e25734" stroke-width="0.6" fill-rule="evenodd"/>
<path d="M270.4 264L271.5 263.8L271.6 263.8L272.8 263.7L274 263.6L275.2 263.4L276.4 263.3L277.5 263.1L277.6 263.1L278.7 263L279.9 262.9L281.1 262.7L282.3 262.5L283.3 262.4L283.5 262.4L284.7 262.2L285.9 262L287.1 261.8L288.2 261.7L288.3 261.7L289.5 261.5L290.7 261.3L291.9 261.1L292.7 261L293.1 260.9L294.3 260.6L295.5 260.4L296.4 260.3L296.6 260.2L297.8 259.9L299 259.6L299.4 259.5L300.2 259.2L301.4 258.8L301.4 258.8L302.6 258.1L302.6 258.1L303.2 257.4L302.8 256.7L302.6 256.6L301.6 255.9L301.4 255.9L300.2 255.4L299.5 255.2L299 255.1L297.8 254.9L296.6 254.7L295.7 254.5L295.5 254.5L294.3 254.3L293.1 254.1L291.9 254L290.7 253.9L290 253.8L289.5 253.7L288.3 253.6L287.1 253.5L285.9 253.4L284.7 253.3L283.5 253.2L282.3 253.1L282.1 253.1L281.1 253L279.9 252.9L278.7 252.8L277.6 252.7L276.4 252.6L275.2 252.5L274 252.4L272.8 252.4L272.6 252.3L271.6 252.3L270.4 252.2L269.2 252.1L269.2 252.3L269.2 252.5L270.4 252.6L271.6 252.6L272.8 252.7L274 252.8L275.2 252.9L276.4 253L276.6 253.1L277.6 253.2L278.7 253.2L279.9 253.3L281.1 253.4L282.3 253.6L283.5 253.7L284.3 253.8L284.7 253.8L285.9 254L287.1 254.1L288.3 254.2L289.5 254.4L290.6 254.5L290.7 254.5L291.9 254.7L293.1 254.9L294.3 255.1L294.8 255.2L295.5 255.4L296.6 255.7L297.7 255.9L297.8 256L299 256.5L299.3 256.7L299.9 257.4L299.5 258.1L299 258.4L298.2 258.8L297.8 258.9L296.6 259.3L296 259.5L295.5 259.7L294.3 259.9L293.1 260.2L293 260.3L291.9 260.5L290.7 260.7L289.5 261L289.4 261L288.3 261.2L287.1 261.3L285.9 261.5L284.9 261.7L284.7 261.7L283.5 261.9L282.3 262.1L281.1 262.3L280.1 262.4L279.9 262.4L278.7 262.6L277.6 262.7L276.4 262.9L275.2 263.1L274.5 263.1L274 263.2L272.8 263.3L271.6 263.5L270.4 263.6L269.2 263.7L269.2 263.8L269.2 264.1Z" fill="#d94d3d" stroke="#d94d3d" stroke-width="0.6" fill-rule="evenodd"/>
<path d="M270.4 263.6L271.6 263.5L272.8 263.3L274 263.2L274.5 263.1L275.2 263.1L276.4 262.9L277.6 262.7L278.7 262.6L279.9 262.4L280.1 262.4L281.1 262.3L282.3 262.1L283.5 261.9L284.7 261.7L284.9 261.7L285.9 261.5L287.1 261.3L288.3 261.2L289.4 261L289.5 261L290.7 260.7L291.9 260.5L293 260.3L293.1 260.2L294.3 259.9L295.5 259.7L296 259.5L296.6 259.3L297.8 258.9L298.2 258.8L299 258.4L299.5 258.1L299.9 257.4L299.3 256.7L299 256.5L297.8 256L297.7 255.9L296.6 255.7L295.5 255.4L294.8 255.2L294.3 255.1L293.1 254.9L291.9 254.7L290.7 254.5L290.6 254.5L289.5 254.4L288.3 254.2L287.1 254.1L285.9 254L284.7 253.8L284.3 253.8L283.5 253.7L282.3 253.6L281.1 253.4L279.9 253.3L278.7 253.2L277.6 253.2L276.6 253.1L276.4 253L275.2 252.9L274 252.8L272.8 252.7L271.6 252.6L270.4 252.6L269.2 252.5L269.2 252.8L270.4 252.9L271.6 253L272.3 253.1L272.8 253.1L274 253.2L275.2 253.3L276.4 253.4L277.6 253.6L278.7 253.7L279.9 253.8L280 253.8L281.1 253.9L282.3 254L283.5 254.2L284.7 254.3L285.8 254.5L285.9 254.5L287.1 254.7L288.3 254.8L289.5 255L290.7 255.2L290.9 255.2L291.9 255.4L293.1 255.7L293.9 255.9L294.3 256.1L295.5 256.5L295.9 256.7L296.6 257.3L296.7 257.4L296.6 257.6L296.4 258.1L295.5 258.6L295 258.8L294.3 259.1L293.1 259.5L293 259.5L291.9 259.8L290.7 260.1L290.2 260.3L289.5 260.4L288.3 260.6L287.1 260.8L286.2 261L285.9 261L284.7 261.3L283.5 261.5L282.3 261.7L282.2 261.7L281.1 261.9L279.9 262L278.7 262.2L277.6 262.3L277.1 262.4L276.4 262.5L275.2 262.7L274 262.8L272.8 263L271.6 263.1L271.6 263.1L270.4 263.3L269.2 263.4L269.2 263.7Z" fill="#ce4347" stroke="#ce4347" stroke-width="0.6" fill-rule="evenodd"/>
<path d="M270.4 263.3L271.6 263.1L271.6 263.1L272.8 263L274 262.8L275.2 262.7L276.4 262.5L277.1 262.4L277.6 262.3L278.7 262.2L279.9 262L281.1 261.9L282.2 261.7L282.3 261.7L283.5 261.5L284.7 261.3L285.9 261L286.2 261L287.1 260.8L288.3 260.6L289.5 260.4L290.2 260.3L290.7 260.1L291.9 259.8L293 259.5L293.1 259.5L294.3 259.1L295 258.8L295.5 258.6L296.4 258.1L296.6 257.6L296.7 257.4L296.6 257.3L295.9 256.7L295.5 256.5L294.3 256.1L293.9 255.9L293.1 255.7L291.9 255.4L290.9 255.2L290.7 255.2L289.5 255L288.3 254.8L287.1 254.7L285.9 254.5L285.8 254.5L284.7 254.3L283.5 254.2L282.3 254L281.1 253.9L280 253.8L279.9 253.8L278.7 253.7L277.6 253.6L276.4 253.4L275.2 253.3L274 253.2L272.8 253.1L272.3 253.1L271.6 253L270.4 252.9L269.2 252.8L269.2 253.1L269.2 253.1L270.4 253.2L271.6 253.3L272.8 253.4L274 253.5L275.2 253.7L276.1 253.8L276.4 253.8L277.6 253.9L278.7 254.1L279.9 254.2L281.1 254.3L282.3 254.5L282.5 254.5L283.5 254.6L284.7 254.8L285.9 255L287.1 255.2L287.1 255.2L288.3 255.4L289.5 255.6L290.7 255.9L290.8 255.9L291.9 256.3L292.9 256.7L293.1 256.8L293.8 257.4L293.6 258.1L293.1 258.4L292.5 258.8L291.9 259L290.7 259.5L290.4 259.5L289.5 259.8L288.3 260L287.3 260.3L287.1 260.3L285.9 260.5L284.7 260.8L283.8 261L283.5 261L282.3 261.3L281.1 261.4L279.9 261.6L279.5 261.7L278.7 261.8L277.6 262L276.4 262.2L275.2 262.3L274.6 262.4L274 262.5L272.8 262.7L271.6 262.8L270.4 262.9L269.2 263.1L269.2 263.1L269.2 263.4Z" fill="#c13a50" stroke="#c13a50" stroke-width="0.6" fill-rule="evenodd"/>
<path d="M270.4 262.9L271.6 262.8L272.8 262.7L274 262.5L274.6 262.4L275.2 262.3L276.4 262.2L277.6 262L278.7 261.8L279.5 261.7L279.9 261.6L281.1 261.4L282.3 261.3L283.5 261L283.8 261L284.7 260.8L285.9 260.5L287.1 260.3L287.3 260.3L288.3 260L289.5 259.8L290.4 259.5L290.7 259.5L291.9 259L292.5 258.8L293.1 258.4L293.6 258.1L293.8 257.4L293.1 256.8L292.9 256.7L291.9 256.3L290.8 255.9L290.7 255.9L289.5 255.6L288.3 255.4L287.1 255.2L287.1 255.2L285.9 255L284.7 254.8L283.5 254.6L282.5 254.5L282.3 254.5L281.1 254.3L279.9 254.2L278.7 254.1L277.6 253.9L276.4 253.8L276.1 253.8L275.2 253.7L274 253.5L272.8 253.4L271.6 253.3L270.4 253.2L269.2 253.1L269.2 253.4L270.4 253.5L271.6 253.7L272.8 253.8L272.9 253.8L274 253.9L275.2 254L276.4 254.2L277.6 254.3L278.7 254.4L279.2 254.5L279.9 254.6L281.1 254.7L282.3 254.9L283.5 255.1L284.1 255.2L284.7 255.3L285.9 255.6L287.1 255.8L287.7 255.9L288.3 256.1L289.5 256.4L290.2 256.7L290.7 256.9L291.3 257.4L291.2 258.1L290.7 258.4L290.1 258.8L289.5 259L288.3 259.4L287.9 259.5L287.1 259.7L285.9 260L285 260.3L284.7 260.3L283.5 260.6L282.3 260.8L281.5 261L281.1 261L279.9 261.2L278.7 261.4L277.6 261.6L277 261.7L276.4 261.8L275.2 262L274 262.2L272.8 262.3L272.2 262.4L271.6 262.5L270.4 262.6L269.2 262.8L269.2 263.1Z" fill="#b43359" stroke="#b43359" stroke-width="0.6" fill-rule="evenodd"/>
<path d="M270.4 262.6L271.6 262.5L272.2 262.4L272.8 262.3L274 262.2L275.2 262L276.4 261.8L277 261.7L277.6 261.6L278.7 261.4L279.9 261.2L281.1 261L281.5 261L282.3 260.8L283.5 260.6L284.7 260.3L285 260.3L285.9 260L287.1 259.7L287.9 259.5L288.3 259.4L289.5 259L290.1 258.8L290.7 258.4L291.2 258.1L291.3 257.4L290.7 256.9L290.2 256.7L289.5 256.4L288.3 256.1L287.7 255.9L287.1 255.8L285.9 255.6L284.7 255.3L284.1 255.2L283.5 255.1L282.3 254.9L281.1 254.7L279.9 254.6L279.2 254.5L278.7 254.4L277.6 254.3L276.4 254.2L275.2 254L274 253.9L272.9 253.8L272.8 253.8L271.6 253.7L270.4 253.5L269.2 253.4L269.2 253.7L269.6 253.8L270.4 253.8L271.6 254L272.8 254.1L274 254.2L275.2 254.3L276.3 254.5L276.4 254.5L277.6 254.7L278.7 254.8L279.9 255L281.1 255.2L281.5 255.2L282.3 255.4L283.5 255.6L284.7 255.9L285 255.9L285.9 256.2L287.1 256.5L287.5 256.7L288.3 257L288.9 257.4L288.9 258.1L288.3 258.4L287.6 258.8L287.1 259L285.9 259.4L285.5 259.5L284.7 259.8L283.5 260.1L282.9 260.3L282.3 260.4L281.1 260.6L279.9 260.9L279.3 261L278.7 261.1L277.6 261.2L276.4 261.5L275.2 261.7L275 261.7L274 261.8L272.8 262L271.6 262.2L270.4 262.3L269.7 262.4L269.2 262.5L269.2 262.8Z" fill="#a62d60" stroke="#a62d60" stroke-width="0.6" fill-rule="evenodd"/>
<path d="M269.7 262.4L270.4 262.3L271.6 262.2L272.8 262L274 261.8L275 261.7L275.2 261.7L276.4 261.5L277.6 261.2L278.7 261.1L279.3 261L279.9 260.9L281.1 260.6L282.3 260.4L282.9 260.3L283.5 260.1L284.7 259.8L285.5 259.5L285.9 259.4L287.1 259L287.6 258.8L288.3 258.4L288.9 258.1L288.9 257.4L288.3 257L287.5 256.7L287.1 256.5L285.9 256.2L285 255.9L284.7 255.9L283.5 255.6L282.3 255.4L281.5 255.2L281.1 255.2L279.9 255L278.7 254.8L277.6 254.7L276.4 254.5L276.3 254.5L275.2 254.3L274 254.2L272.8 254.1L271.6 254L270.4 253.8L269.6 253.8L269.2 253.7L269.2 253.8L269.2 254L270.4 254.1L271.6 254.2L272.8 254.4L273.8 254.5L274 254.5L275.2 254.7L276.4 254.8L277.6 255L278.7 255.2L278.9 255.2L279.9 255.4L281.1 255.6L282.3 255.8L282.8 255.9L283.5 256.1L284.7 256.5L285.2 256.7L285.9 257.1L286.5 257.4L286.5 258.1L285.9 258.5L285.5 258.8L284.7 259.1L283.7 259.5L283.5 259.6L282.3 259.9L281.1 260.2L280.9 260.3L279.9 260.4L278.7 260.7L277.6 260.9L277.1 261L276.4 261.1L275.2 261.3L274 261.5L272.9 261.7L272.8 261.7L271.6 261.9L270.4 262L269.2 262.2L269.2 262.4L269.2 262.5Z" fill="#982766" stroke="#982766" stroke-width="0.6" fill-rule="evenodd"/>
<path d="M270.4 262L271.6 261.9L272.8 261.7L272.9 261.7L274 261.5L275.2 261.3L276.4 261.1L277.1 261L277.6 260.9L278.7 260.7L279.9 260.4L280.9 260.3L281.1 260.2L282.3 259.9L283.5 259.6L283.7 259.5L284.7 259.1L285.5 258.8L285.9 258.5L286.5 258.1L286.5 257.4L285.9 257.1L285.2 256.7L284.7 256.5L283.5 256.1L282.8 255.9L282.3 255.8L281.1 255.6L279.9 255.4L278.9 255.2L278.7 255.2L277.6 255L276.4 254.8L275.2 254.7L274 254.5L273.8 254.5L272.8 254.4L271.6 254.2L270.4 254.1L269.2 254L269.2 254.3L270.4 254.4L271.3 254.5L271.6 254.5L272.8 254.7L274 254.8L275.2 255L276.4 255.2L276.6 255.2L277.6 255.4L278.7 255.6L279.9 255.8L280.7 255.9L281.1 256L282.3 256.4L283.3 256.7L283.5 256.8L284.6 257.4L284.7 258.1L283.8 258.8L283.5 258.9L282.3 259.4L281.9 259.5L281.1 259.7L279.9 260L278.9 260.3L278.7 260.3L277.6 260.5L276.4 260.8L275.3 261L275.2 261L274 261.2L272.8 261.4L271.6 261.6L270.8 261.7L270.4 261.8L269.2 261.9L269.2 262.2Z" fill="#8c2369" stroke="#8c2369" stroke-width="0.6" fill-rule="evenodd"/>
<path d="M270.4 261.8L270.8 261.7L271.6 261.6L272.8 261.4L274 261.2L275.2 261L275.3 261L276.4 260.8L277.6 260.5L278.7 260.3L278.9 260.3L279.9 260L281.1 259.7L281.9 259.5L282.3 259.4L283.5 258.9L283.8 258.8L284.7 258.1L284.6 257.4L283.5 256.8L283.3 256.7L282.3 256.4L281.1 256L280.7 255.9L279.9 255.8L278.7 255.6L277.6 255.4L276.6 255.2L276.4 255.2L275.2 255L274 254.8L272.8 254.7L271.6 254.5L271.3 254.5L270.4 254.4L269.2 254.3L269.2 254.5L269.2 254.5L270.4 254.7L271.6 254.8L272.8 255L274 255.1L274.6 255.2L275.2 255.3L276.4 255.5L277.6 255.8L278.5 255.9L278.7 256L279.9 256.3L281.1 256.6L281.4 256.7L282.3 257.1L282.9 257.4L283 258.1L282.3 258.6L282 258.8L281.1 259.2L280 259.5L279.9 259.6L278.7 259.8L277.6 260.1L277.1 260.3L276.4 260.4L275.2 260.7L274 260.9L273.6 261L272.8 261.1L271.6 261.3L270.4 261.5L269.2 261.6L269.2 261.7L269.2 261.9Z" fill="#7d1e6d" stroke="#7d1e6d" stroke-width="0.6" fill-rule="evenodd"/>
<path d="M270.4 261.5L271.6 261.3L272.8 261.1L273.6 261L274 260.9L275.2 260.7L276.4 260.4L277.1 260.3L277.6 260.1L278.7 259.8L279.9 259.6L280 259.5L281.1 259.2L282 258.8L282.3 258.6L283 258.1L282.9 257.4L282.3 257.1L281.4 256.7L281.1 256.6L279.9 256.3L278.7 256L278.5 255.9L277.6 255.8L276.4 255.5L275.2 255.3L274.6 255.2L274 255.1L272.8 255L271.6 254.8L270.4 254.7L269.2 254.5L269.2 254.8L270.4 254.9L271.6 255.1L272.5 255.2L272.8 255.3L274 255.4L275.2 255.7L276.4 255.9L276.6 255.9L277.6 256.2L278.7 256.5L279.6 256.7L279.9 256.8L281.1 257.4L281.2 257.4L281.4 258.1L281.1 258.3L280.3 258.8L279.9 259L278.7 259.4L278.2 259.5L277.6 259.7L276.4 260L275.5 260.3L275.2 260.3L274 260.6L272.8 260.8L271.8 261L271.6 261L270.4 261.2L269.2 261.4L269.2 261.6Z" fill="#6f196e" stroke="#6f196e" stroke-width="0.6" fill-rule="evenodd"/>
<path d="M270.4 261.2L271.6 261L271.8 261L272.8 260.8L274 260.6L275.2 260.3L275.5 260.3L276.4 260L277.6 259.7L278.2 259.5L278.7 259.4L279.9 259L280.3 258.8L281.1 258.3L281.4 258.1L281.2 257.4L281.1 257.4L279.9 256.8L279.6 256.7L278.7 256.5L277.6 256.2L276.6 255.9L276.4 255.9L275.2 255.7L274 255.4L272.8 255.3L272.5 255.2L271.6 255.1L270.4 254.9L269.2 254.8L269.2 255.1L270.4 255.2L270.5 255.2L271.6 255.4L272.8 255.6L274 255.8L274.9 255.9L275.2 256L276.4 256.3L277.6 256.6L277.7 256.7L278.7 257.1L279.5 257.4L279.7 258.1L278.7 258.7L278.6 258.8L277.6 259.2L276.7 259.5L276.4 259.6L275.2 259.9L274 260.2L273.9 260.3L272.8 260.5L271.6 260.7L270.4 260.9L270 261L269.2 261.1L269.2 261.4Z" fill="#61136e" stroke="#61136e" stroke-width="0.6" fill-rule="evenodd"/>
<path d="M270 261L270.4 260.9L271.6 260.7L272.8 260.5L273.9 260.3L274 260.2L275.2 259.9L276.4 259.6L276.7 259.5L277.6 259.2L278.6 258.8L278.7 258.7L279.7 258.1L279.5 257.4L278.7 257.1L277.7 256.7L277.6 256.6L276.4 256.3L275.2 256L274.9 255.9L274 255.8L272.8 255.6L271.6 255.4L270.5 255.2L270.4 255.2L269.2 255.1L269.2 255.2L269.2 255.3L270.4 255.5L271.6 255.7L272.8 255.8L273.3 255.9L274 256.1L275.2 256.4L276.2 256.7L276.4 256.7L277.6 257.3L277.8 257.4L278 258.1L277.6 258.4L277.1 258.8L276.4 259.1L275.3 259.5L275.2 259.6L274 259.9L272.8 260.2L272.4 260.3L271.6 260.4L270.4 260.6L269.2 260.8L269.2 261L269.2 261.1Z" fill="#520e6d" stroke="#520e6d" stroke-width="0.6" fill-rule="evenodd"/>
<path d="M270.4 260.6L271.6 260.4L272.4 260.3L272.8 260.2L274 259.9L275.2 259.6L275.3 259.5L276.4 259.1L277.1 258.8L277.6 258.4L278 258.1L277.8 257.4L277.6 257.3L276.4 256.7L276.2 256.7L275.2 256.4L274 256.1L273.3 255.9L272.8 255.8L271.6 255.7L270.4 255.5L269.2 255.3L269.2 255.6L270.4 255.7L271.6 255.9L271.6 255.9L272.8 256.2L274 256.5L274.8 256.7L275.2 256.8L276.4 257.4L276.4 257.4L276.6 258.1L276.4 258.3L275.8 258.8L275.2 259L274 259.5L273.9 259.5L272.8 259.8L271.6 260.1L270.8 260.3L270.4 260.3L269.2 260.5L269.2 260.8Z" fill="#440a68" stroke="#440a68" stroke-width="0.6" fill-rule="evenodd"/>
<path d="M270.4 260.3L270.8 260.3L271.6 260.1L272.8 259.8L273.9 259.5L274 259.5L275.2 259L275.8 258.8L276.4 258.3L276.6 258.1L276.4 257.4L276.4 257.4L275.2 256.8L274.8 256.7L274 256.5L272.8 256.2L271.6 255.9L271.6 255.9L270.4 255.7L269.2 255.6L269.2 255.8L269.9 255.9L270.4 256L271.6 256.3L272.8 256.5L273.3 256.7L274 256.9L275.1 257.4L275.2 257.6L275.3 258.1L275.2 258.2L274.4 258.8L274 259L272.8 259.4L272.4 259.5L271.6 259.7L270.4 260L269.3 260.3L269.2 260.3L269.2 260.5Z" fill="#360961" stroke="#360961" stroke-width="0.6" fill-rule="evenodd"/>
<path d="M269.3 260.3L270.4 260L271.6 259.7L272.4 259.5L272.8 259.4L274 259L274.4 258.8L275.2 258.2L275.3 258.1L275.2 257.6L275.1 257.4L274 256.9L273.3 256.7L272.8 256.5L271.6 256.3L270.4 256L269.9 255.9L269.2 255.8L269.2 255.9L269.2 256.1L270.4 256.3L271.6 256.6L271.9 256.7L272.8 257L273.7 257.4L274 257.9L274.1 258.1L274 258.2L273.1 258.8L272.8 258.9L271.6 259.4L271 259.5L270.4 259.7L269.2 259.9L269.2 260.3L269.2 260.3Z" fill="#260c51" stroke="#260c51" stroke-width="0.6" fill-rule="evenodd"/>
<path d="M270.4 259.7L271 259.5L271.6 259.4L272.8 258.9L273.1 258.8L274 258.2L274.1 258.1L274 257.9L273.7 257.4L272.8 257L271.9 256.7L271.6 256.6L270.4 256.3L269.2 256.1L269.2 256.4L270.4 256.7L270.4 256.7L271.6 257.1L272.4 257.4L272.8 258.1L271.8 258.8L271.6 258.9L270.4 259.3L269.6 259.5L269.2 259.6L269.2 259.9Z" fill="#180c3c" stroke="#180c3c" stroke-width="0.6" fill-rule="evenodd"/>
<path d="M269.6 259.5L270.4 259.3L271.6 258.9L271.8 258.8L272.8 258.1L272.4 257.4L271.6 257.1L270.4 256.7L270.4 256.7L269.2 256.4L269.2 256.7L269.2 256.7L270.4 257.1L271.1 257.4L271.5 258.1L270.5 258.8L270.4 258.8L269.2 259.2L269.2 259.5L269.2 259.6Z" fill="#0c0826" stroke="#0c0826" stroke-width="0.6" fill-rule="evenodd"/>
<path d="M270.4 258.8L270.5 258.8L271.5 258.1L271.1 257.4L270.4 257.1L269.2 256.7L269.2 257.2L269.8 257.4L270.2 258.1L269.2 258.8L269.2 258.8L269.2 259.2Z" fill="#040312" stroke="#040312" stroke-width="0.6" fill-rule="evenodd"/>
<path d="M270.2 258.1L269.8 257.4L269.2 257.2L269.2 257.4L269.2 258.1L269.2 258.8Z" fill="#000004" stroke="#000004" stroke-width="0.6" fill-rule="evenodd"/>
<path d="M269.2 268.2L270 268.2L270.4 268.1L271.6 268L272.8 267.9L274 267.8L275.2 267.7L276.4 267.6L277.6 267.5L278 267.4L278.7 267.4L279.9 267.3L281.1 267.2L282.3 267.1L283.5 267L284.7 266.9L285.9 266.8L286.7 266.7L287.1 266.7L288.3 266.6L289.5 266.5L290.7 266.5L291.9 266.4L293.1 266.3L294.3 266.2L295.5 266.1L296.6 266L297.3 266L297.8 266L299 265.9L300.2 265.8L301.4 265.8L302.6 265.7L303.8 265.7L305 265.7L306.2 265.7L307.4 265.7L308.6 265.8L309.8 265.8L311 265.8L312.2 265.8L313.4 265.7L314.5 265.7L315.7 265.6L316.9 265.6L318.1 265.5L319.3 265.4L320.5 265.4L321.7 265.4L322.9 265.4L324.1 265.4L325.3 265.4L326.5 265.3L327.7 265.3L328.9 265.3L330.1 265.3L331.3 265.3L332.4 265.3L332.4 265.3L333.6 265.3L334.8 265.2L336 265.2L337.2 265.1L338.4 265.1L339.6 265L340.8 264.9L342 264.8L343.2 264.6L343.6 264.6L344.4 264.5L345.6 264.3L346.8 264L347.5 263.8L348 263.7L349.2 263.4L350 263.1L350.3 263L351.5 262.5L351.7 262.4L352.7 261.8L352.9 261.7L353.6 261L353.9 260.5L354.1 260.3L354.3 259.5L354.2 258.8L353.9 258.4L353.8 258.1L353.1 257.4L352.7 257.1L352.1 256.7L351.5 256.3L350.9 255.9L350.3 255.7L349.4 255.2L349.2 255.1L348 254.6L347.7 254.5L346.8 254.2L345.7 253.8L345.6 253.7L344.4 253.4L343.4 253.1L343.2 253L342 252.7L340.8 252.4L340.8 252.3L339.6 252L338.4 251.8L337.9 251.6L337.2 251.5L336 251.2L334.8 250.9L334.6 250.9L333.6 250.7L332.4 250.5L331.3 250.2L331 250.2L330.1 250L328.9 249.8L327.7 249.6L326.5 249.5L326.5 249.5L325.3 249.3L324.1 249.2L322.9 249.1L321.7 249L320.5 248.9L319.4 248.7L319.3 248.7L318.1 248.6L316.9 248.5L315.7 248.4L314.5 248.2L313.4 248.1L312.3 248L312.2 248L311 247.9L309.8 247.9L308.6 247.8L307.4 247.8L306.2 247.7L305 247.7L303.8 247.7L302.6 247.6L301.4 247.7L300.2 247.7L299 247.7L297.8 247.8L296.6 247.8L295.5 247.8L294.3 247.9L293.1 247.9L291.9 247.9L290.7 247.9L289.5 247.9L288.3 248L287.1 248L285.9 248L284.7 248L283.5 248L282.3 248L281.1 248L279.9 248L278.7 248L277.6 248L276.4 247.9L275.2 247.9L274 247.9L272.8 247.9L271.6 247.8L270.4 247.8L269.2 247.8" fill="none" stroke="#555" stroke-width="0.6" opacity="0.9"/>
<path d="M269.2 266L270.4 265.9L271.6 265.8L272.8 265.7L274 265.5L275.2 265.4L276.3 265.3L276.4 265.3L277.6 265.2L278.7 265.1L279.9 265L281.1 264.8L282.3 264.7L283.5 264.6L283.7 264.6L284.7 264.5L285.9 264.3L287.1 264.2L288.3 264.1L289.5 264L290.7 263.9L290.9 263.8L291.9 263.7L293.1 263.6L294.3 263.5L295.5 263.4L296.6 263.2L297.8 263.1L297.8 263.1L299 263L300.2 262.9L301.4 262.7L302.6 262.6L303.8 262.5L304.7 262.4L305 262.4L306.2 262.3L307.4 262.2L308.6 262.1L309.8 262L311 261.9L312.2 261.7L312.3 261.7L313.4 261.5L314.5 261.2L315.6 261L315.7 260.9L316.9 260.5L317.7 260.3L318.1 260L319.1 259.5L319.3 259.4L320.5 258.8L320.6 258.8L321.7 258.4L322.6 258.1L322.9 257.9L323.7 257.4L324 256.7L323.7 255.9L322.9 255.3L322.7 255.2L321.7 254.8L321 254.5L320.5 254.4L319.3 253.9L319.1 253.8L318.1 253.4L317.1 253.1L316.9 253L315.7 252.7L314.5 252.4L314.3 252.3L313.4 252.1L312.2 251.9L311 251.7L309.9 251.6L309.8 251.6L308.6 251.5L307.4 251.4L306.2 251.3L305 251.2L303.8 251.1L302.6 251L301.4 251L300.2 251L299 251L297.8 250.9L296.6 250.9L296 250.9L295.5 250.9L294.3 250.9L293.1 250.9L291.9 250.8L290.7 250.8L289.5 250.8L288.3 250.8L287.1 250.7L285.9 250.7L284.7 250.7L283.5 250.6L282.3 250.6L281.1 250.6L279.9 250.5L278.7 250.5L277.6 250.5L276.4 250.4L275.2 250.4L274 250.3L272.8 250.3L271.6 250.2L270.4 250.2L270.2 250.2L269.2 250.1" fill="none" stroke="#555" stroke-width="0.6" opacity="0.9"/>
<path d="M269.2 264.3L270.4 264.2L271.6 264.1L272.8 264L273.8 263.8L274 263.8L275.2 263.7L276.4 263.6L277.6 263.4L278.7 263.3L279.9 263.1L280 263.1L281.1 263L282.3 262.8L283.5 262.7L284.7 262.5L285.3 262.4L285.9 262.3L287.1 262.2L288.3 262L289.5 261.9L290.7 261.7L290.7 261.7L291.9 261.5L293.1 261.3L294.3 261.1L294.9 261L295.5 260.9L296.6 260.7L297.8 260.5L298.8 260.3L299 260.2L300.2 259.9L301.4 259.6L301.6 259.5L302.6 259.2L303.8 258.8L303.8 258.8L305 258.3L305.6 258.1L306.2 257.5L306.3 257.4L306.2 257.2L306 256.7L305 256.1L304.7 255.9L303.8 255.6L302.6 255.2L302.5 255.2L301.4 254.9L300.2 254.6L299.5 254.5L299 254.4L297.8 254.2L296.6 254.1L295.5 253.9L294.3 253.8L294.3 253.8L293.1 253.6L291.9 253.5L290.7 253.4L289.5 253.3L288.3 253.2L287.1 253.1L285.9 253.1L285.9 253.1L284.7 252.9L283.5 252.8L282.3 252.7L281.1 252.7L279.9 252.6L278.7 252.5L277.6 252.4L276.4 252.3L276.4 252.3L275.2 252.2L274 252.2L272.8 252.1L271.6 252L270.4 251.9L269.2 251.9" fill="none" stroke="#555" stroke-width="0.6" opacity="0.9"/>
</g>
<rect x="269.2" y="190.5" width="143.2" height="143.1" fill="none" stroke="#3a3a3a" stroke-width="1" />
<line x1="266.2" y1="317.94" x2="269.2" y2="317.94" stroke="#3a3a3a" stroke-width="0.9" />
<text x="264.8" y="321.38" font-size="9.6" text-anchor="end" fill="#222" textLength="17.5" lengthAdjust="spacingAndGlyphs"  stroke="#222" stroke-width="0.1">1.35</text>
<line x1="266.2" y1="299.74" x2="269.2" y2="299.74" stroke="#3a3a3a" stroke-width="0.9" />
<text x="264.8" y="303.17" font-size="9.6" text-anchor="end" fill="#222" textLength="17.5" lengthAdjust="spacingAndGlyphs"  stroke="#222" stroke-width="0.1">1.40</text>
<line x1="266.2" y1="281.53" x2="269.2" y2="281.53" stroke="#3a3a3a" stroke-width="0.9" />
<text x="264.8" y="284.97" font-size="9.6" text-anchor="end" fill="#222" textLength="17.5" lengthAdjust="spacingAndGlyphs"  stroke="#222" stroke-width="0.1">1.45</text>
<line x1="266.2" y1="263.32" x2="269.2" y2="263.32" stroke="#3a3a3a" stroke-width="0.9" />
<text x="264.8" y="266.76" font-size="9.6" text-anchor="end" fill="#222" textLength="17.5" lengthAdjust="spacingAndGlyphs"  stroke="#222" stroke-width="0.1">1.50</text>
<line x1="266.2" y1="245.12" x2="269.2" y2="245.12" stroke="#3a3a3a" stroke-width="0.9" />
<text x="264.8" y="248.56" font-size="9.6" text-anchor="end" fill="#222" textLength="17.5" lengthAdjust="spacingAndGlyphs"  stroke="#222" stroke-width="0.1">1.55</text>
<line x1="266.2" y1="226.91" x2="269.2" y2="226.91" stroke="#3a3a3a" stroke-width="0.9" />
<text x="264.8" y="230.35" font-size="9.6" text-anchor="end" fill="#222" textLength="17.5" lengthAdjust="spacingAndGlyphs"  stroke="#222" stroke-width="0.1">1.60</text>
<line x1="266.2" y1="208.71" x2="269.2" y2="208.71" stroke="#3a3a3a" stroke-width="0.9" />
<text x="264.8" y="212.14" font-size="9.6" text-anchor="end" fill="#222" textLength="17.5" lengthAdjust="spacingAndGlyphs"  stroke="#222" stroke-width="0.1">1.65</text>
<line x1="266.2" y1="190.5" x2="269.2" y2="190.5" stroke="#3a3a3a" stroke-width="0.9" />
<text x="264.8" y="193.94" font-size="9.6" text-anchor="end" fill="#222" textLength="17.5" lengthAdjust="spacingAndGlyphs"  stroke="#222" stroke-width="0.1">1.70</text>
<line x1="267.4" y1="327.05" x2="269.2" y2="327.05" stroke="#3a3a3a" stroke-width="0.8" />
<line x1="267.4" y1="308.84" x2="269.2" y2="308.84" stroke="#3a3a3a" stroke-width="0.8" />
<line x1="267.4" y1="290.63" x2="269.2" y2="290.63" stroke="#3a3a3a" stroke-width="0.8" />
<line x1="267.4" y1="272.43" x2="269.2" y2="272.43" stroke="#3a3a3a" stroke-width="0.8" />
<line x1="267.4" y1="254.22" x2="269.2" y2="254.22" stroke="#3a3a3a" stroke-width="0.8" />
<line x1="267.4" y1="236.02" x2="269.2" y2="236.02" stroke="#3a3a3a" stroke-width="0.8" />
<line x1="267.4" y1="217.81" x2="269.2" y2="217.81" stroke="#3a3a3a" stroke-width="0.8" />
<line x1="267.4" y1="199.6" x2="269.2" y2="199.6" stroke="#3a3a3a" stroke-width="0.8" />
<line x1="286.05" y1="333.6" x2="286.05" y2="336.6" stroke="#3a3a3a" stroke-width="0.9" />
<text x="286.05" y="345.74" font-size="9.6" text-anchor="middle" fill="#222"  stroke="#222" stroke-width="0.1">50</text>
<line x1="328.16" y1="333.6" x2="328.16" y2="336.6" stroke="#3a3a3a" stroke-width="0.9" />
<text x="328.16" y="345.74" font-size="9.6" text-anchor="middle" fill="#222"  stroke="#222" stroke-width="0.1">100</text>
<line x1="370.28" y1="333.6" x2="370.28" y2="336.6" stroke="#3a3a3a" stroke-width="0.9" />
<text x="370.28" y="345.74" font-size="9.6" text-anchor="middle" fill="#222"  stroke="#222" stroke-width="0.1">150</text>
<line x1="412.4" y1="333.6" x2="412.4" y2="336.6" stroke="#3a3a3a" stroke-width="0.9" />
<text x="412.4" y="345.74" font-size="9.6" text-anchor="middle" fill="#222"  stroke="#222" stroke-width="0.1">200</text>
<line x1="307.11" y1="333.6" x2="307.11" y2="335.4" stroke="#3a3a3a" stroke-width="0.8" />
<line x1="349.22" y1="333.6" x2="349.22" y2="335.4" stroke="#3a3a3a" stroke-width="0.8" />
<line x1="391.34" y1="333.6" x2="391.34" y2="335.4" stroke="#3a3a3a" stroke-width="0.8" />
<rect x="419.2" y="190.3" width="14.7" height="3.4" fill="#fff" stroke="none" stroke-width="1" />
<rect x="419.2" y="331" width="14.7" height="3" fill="#000" stroke="none" stroke-width="1" />
<rect x="419.2" y="329.47" width="14.7" height="1.88" fill="#fcffa4" stroke="none" stroke-width="1" />
<rect x="419.2" y="327.95" width="14.7" height="1.88" fill="#f9fc9d" stroke="none" stroke-width="1" />
<rect x="419.2" y="326.42" width="14.7" height="1.88" fill="#f5f992" stroke="none" stroke-width="1" />
<rect x="419.2" y="324.9" width="14.7" height="1.88" fill="#f3f586" stroke="none" stroke-width="1" />
<rect x="419.2" y="323.37" width="14.7" height="1.88" fill="#f1f179" stroke="none" stroke-width="1" />
<rect x="419.2" y="321.85" width="14.7" height="1.88" fill="#f1ec6d" stroke="none" stroke-width="1" />
<rect x="419.2" y="320.32" width="14.7" height="1.88" fill="#f2e661" stroke="none" stroke-width="1" />
<rect x="419.2" y="318.8" width="14.7" height="1.88" fill="#f4e156" stroke="none" stroke-width="1" />
<rect x="419.2" y="317.27" width="14.7" height="1.88" fill="#f5db4c" stroke="none" stroke-width="1" />
<rect x="419.2" y="315.74" width="14.7" height="1.88" fill="#f6d746" stroke="none" stroke-width="1" />
<rect x="419.2" y="314.22" width="14.7" height="1.88" fill="#f7d13d" stroke="none" stroke-width="1" />
<rect x="419.2" y="312.69" width="14.7" height="1.88" fill="#f9cb35" stroke="none" stroke-width="1" />
<rect x="419.2" y="311.17" width="14.7" height="1.88" fill="#fac62d" stroke="none" stroke-width="1" />
<rect x="419.2" y="309.64" width="14.7" height="1.88" fill="#fac026" stroke="none" stroke-width="1" />
<rect x="419.2" y="308.12" width="14.7" height="1.88" fill="#fbba1f" stroke="none" stroke-width="1" />
<rect x="419.2" y="306.59" width="14.7" height="1.88" fill="#fcb418" stroke="none" stroke-width="1" />
<rect x="419.2" y="305.07" width="14.7" height="1.88" fill="#fcae12" stroke="none" stroke-width="1" />
<rect x="419.2" y="303.54" width="14.7" height="1.88" fill="#fcaa0f" stroke="none" stroke-width="1" />
<rect x="419.2" y="302.01" width="14.7" height="1.88" fill="#fca50a" stroke="none" stroke-width="1" />
<rect x="419.2" y="300.49" width="14.7" height="1.88" fill="#fc9f07" stroke="none" stroke-width="1" />
<rect x="419.2" y="298.96" width="14.7" height="1.88" fill="#fb9906" stroke="none" stroke-width="1" />
<rect x="419.2" y="297.44" width="14.7" height="1.88" fill="#fa9407" stroke="none" stroke-width="1" />
<rect x="419.2" y="295.91" width="14.7" height="1.88" fill="#f98e09" stroke="none" stroke-width="1" />
<rect x="419.2" y="294.39" width="14.7" height="1.88" fill="#f8890c" stroke="none" stroke-width="1" />
<rect x="419.2" y="292.86" width="14.7" height="1.88" fill="#f78410" stroke="none" stroke-width="1" />
<rect x="419.2" y="291.34" width="14.7" height="1.88" fill="#f68013" stroke="none" stroke-width="1" />
<rect x="419.2" y="289.81" width="14.7" height="1.88" fill="#f57b17" stroke="none" stroke-width="1" />
<rect x="419.2" y="288.28" width="14.7" height="1.88" fill="#f3761b" stroke="none" stroke-width="1" />
<rect x="419.2" y="286.76" width="14.7" height="1.88" fill="#f1711f" stroke="none" stroke-width="1" />
<rect x="419.2" y="285.23" width="14.7" height="1.88" fill="#ef6c23" stroke="none" stroke-width="1" />
<rect x="419.2" y="283.71" width="14.7" height="1.88" fill="#ec6726" stroke="none" stroke-width="1" />
<rect x="419.2" y="282.18" width="14.7" height="1.88" fill="#ea632a" stroke="none" stroke-width="1" />
<rect x="419.2" y="280.66" width="14.7" height="1.88" fill="#e75e2e" stroke="none" stroke-width="1" />
<rect x="419.2" y="279.13" width="14.7" height="1.88" fill="#e55c30" stroke="none" stroke-width="1" />
<rect x="419.2" y="277.61" width="14.7" height="1.88" fill="#e25734" stroke="none" stroke-width="1" />
<rect x="419.2" y="276.08" width="14.7" height="1.88" fill="#df5337" stroke="none" stroke-width="1" />
<rect x="419.2" y="274.55" width="14.7" height="1.88" fill="#db503b" stroke="none" stroke-width="1" />
<rect x="419.2" y="273.03" width="14.7" height="1.88" fill="#d84c3e" stroke="none" stroke-width="1" />
<rect x="419.2" y="271.5" width="14.7" height="1.88" fill="#d44842" stroke="none" stroke-width="1" />
<rect x="419.2" y="269.98" width="14.7" height="1.88" fill="#d04545" stroke="none" stroke-width="1" />
<rect x="419.2" y="268.45" width="14.7" height="1.88" fill="#cc4248" stroke="none" stroke-width="1" />
<rect x="419.2" y="266.93" width="14.7" height="1.88" fill="#ca404a" stroke="none" stroke-width="1" />
<rect x="419.2" y="265.4" width="14.7" height="1.88" fill="#c63d4d" stroke="none" stroke-width="1" />
<rect x="419.2" y="263.88" width="14.7" height="1.88" fill="#c13a50" stroke="none" stroke-width="1" />
<rect x="419.2" y="262.35" width="14.7" height="1.88" fill="#bd3853" stroke="none" stroke-width="1" />
<rect x="419.2" y="260.82" width="14.7" height="1.88" fill="#b93556" stroke="none" stroke-width="1" />
<rect x="419.2" y="259.3" width="14.7" height="1.88" fill="#b43359" stroke="none" stroke-width="1" />
<rect x="419.2" y="257.77" width="14.7" height="1.88" fill="#b0315b" stroke="none" stroke-width="1" />
<rect x="419.2" y="256.25" width="14.7" height="1.88" fill="#ab2f5e" stroke="none" stroke-width="1" />
<rect x="419.2" y="254.72" width="14.7" height="1.88" fill="#a82e5f" stroke="none" stroke-width="1" />
<rect x="419.2" y="253.2" width="14.7" height="1.88" fill="#a32c61" stroke="none" stroke-width="1" />
<rect x="419.2" y="251.67" width="14.7" height="1.88" fill="#9f2a63" stroke="none" stroke-width="1" />
<rect x="419.2" y="250.15" width="14.7" height="1.88" fill="#9a2865" stroke="none" stroke-width="1" />
<rect x="419.2" y="248.62" width="14.7" height="1.88" fill="#952667" stroke="none" stroke-width="1" />
<rect x="419.2" y="247.09" width="14.7" height="1.88" fill="#902568" stroke="none" stroke-width="1" />
<rect x="419.2" y="245.57" width="14.7" height="1.88" fill="#8c2369" stroke="none" stroke-width="1" />
<rect x="419.2" y="244.04" width="14.7" height="1.88" fill="#87216b" stroke="none" stroke-width="1" />
<rect x="419.2" y="242.52" width="14.7" height="1.88" fill="#84206b" stroke="none" stroke-width="1" />
<rect x="419.2" y="240.99" width="14.7" height="1.88" fill="#7f1e6c" stroke="none" stroke-width="1" />
<rect x="419.2" y="239.47" width="14.7" height="1.88" fill="#7a1d6d" stroke="none" stroke-width="1" />
<rect x="419.2" y="237.94" width="14.7" height="1.88" fill="#751b6e" stroke="none" stroke-width="1" />
<rect x="419.2" y="236.42" width="14.7" height="1.88" fill="#71196e" stroke="none" stroke-width="1" />
<rect x="419.2" y="234.89" width="14.7" height="1.88" fill="#6c186e" stroke="none" stroke-width="1" />
<rect x="419.2" y="233.36" width="14.7" height="1.88" fill="#67166e" stroke="none" stroke-width="1" />
<rect x="419.2" y="231.84" width="14.7" height="1.88" fill="#62146e" stroke="none" stroke-width="1" />
<rect x="419.2" y="230.31" width="14.7" height="1.88" fill="#5f136e" stroke="none" stroke-width="1" />
<rect x="419.2" y="228.79" width="14.7" height="1.88" fill="#5a116e" stroke="none" stroke-width="1" />
<rect x="419.2" y="227.26" width="14.7" height="1.88" fill="#550f6d" stroke="none" stroke-width="1" />
<rect x="419.2" y="225.74" width="14.7" height="1.88" fill="#510e6c" stroke="none" stroke-width="1" />
<rect x="419.2" y="224.21" width="14.7" height="1.88" fill="#4c0c6b" stroke="none" stroke-width="1" />
<rect x="419.2" y="222.69" width="14.7" height="1.88" fill="#470b6a" stroke="none" stroke-width="1" />
<rect x="419.2" y="221.16" width="14.7" height="1.88" fill="#420a68" stroke="none" stroke-width="1" />
<rect x="419.2" y="219.63" width="14.7" height="1.88" fill="#3d0965" stroke="none" stroke-width="1" />
<rect x="419.2" y="218.11" width="14.7" height="1.88" fill="#390963" stroke="none" stroke-width="1" />
<rect x="419.2" y="216.58" width="14.7" height="1.88" fill="#340a5f" stroke="none" stroke-width="1" />
<rect x="419.2" y="215.06" width="14.7" height="1.88" fill="#2f0a5b" stroke="none" stroke-width="1" />
<rect x="419.2" y="213.53" width="14.7" height="1.88" fill="#290b55" stroke="none" stroke-width="1" />
<rect x="419.2" y="212.01" width="14.7" height="1.88" fill="#240c4f" stroke="none" stroke-width="1" />
<rect x="419.2" y="210.48" width="14.7" height="1.88" fill="#1f0c48" stroke="none" stroke-width="1" />
<rect x="419.2" y="208.96" width="14.7" height="1.88" fill="#1b0c41" stroke="none" stroke-width="1" />
<rect x="419.2" y="207.43" width="14.7" height="1.88" fill="#160b39" stroke="none" stroke-width="1" />
<rect x="419.2" y="205.9" width="14.7" height="1.88" fill="#140b34" stroke="none" stroke-width="1" />
<rect x="419.2" y="204.38" width="14.7" height="1.88" fill="#10092d" stroke="none" stroke-width="1" />
<rect x="419.2" y="202.85" width="14.7" height="1.88" fill="#0c0826" stroke="none" stroke-width="1" />
<rect x="419.2" y="201.33" width="14.7" height="1.88" fill="#09061f" stroke="none" stroke-width="1" />
<rect x="419.2" y="199.8" width="14.7" height="1.88" fill="#060419" stroke="none" stroke-width="1" />
<rect x="419.2" y="198.28" width="14.7" height="1.88" fill="#040312" stroke="none" stroke-width="1" />
<rect x="419.2" y="196.75" width="14.7" height="1.88" fill="#02020c" stroke="none" stroke-width="1" />
<rect x="419.2" y="195.23" width="14.7" height="1.88" fill="#010106" stroke="none" stroke-width="1" />
<rect x="419.2" y="193.7" width="14.7" height="1.88" fill="#000004" stroke="none" stroke-width="1" />
<rect x="419.2" y="190.3" width="14.7" height="143.7" fill="none" stroke="#888" stroke-width="0.8" />
<line x1="433.9" y1="193.7" x2="436.4" y2="193.7" stroke="#666" stroke-width="0.8" />
<text x="441" y="193.71" font-size="7.3" text-anchor="start" fill="#333"  stroke="#333" stroke-width="0.1">40k</text>
<line x1="433.9" y1="210.86" x2="436.4" y2="210.86" stroke="#666" stroke-width="0.8" />
<text x="441" y="210.88" font-size="7.3" text-anchor="start" fill="#333"  stroke="#333" stroke-width="0.1">35k</text>
<line x1="433.9" y1="228.02" x2="436.4" y2="228.02" stroke="#666" stroke-width="0.8" />
<text x="441" y="228.04" font-size="7.3" text-anchor="start" fill="#333"  stroke="#333" stroke-width="0.1">30k</text>
<line x1="433.9" y1="245.19" x2="436.4" y2="245.19" stroke="#666" stroke-width="0.8" />
<text x="441" y="245.2" font-size="7.3" text-anchor="start" fill="#333"  stroke="#333" stroke-width="0.1">25k</text>
<line x1="433.9" y1="262.35" x2="436.4" y2="262.35" stroke="#666" stroke-width="0.8" />
<text x="441" y="262.36" font-size="7.3" text-anchor="start" fill="#333"  stroke="#333" stroke-width="0.1">20k</text>
<line x1="433.9" y1="279.51" x2="436.4" y2="279.51" stroke="#666" stroke-width="0.8" />
<text x="441" y="279.53" font-size="7.3" text-anchor="start" fill="#333"  stroke="#333" stroke-width="0.1">15k</text>
<line x1="433.9" y1="296.68" x2="436.4" y2="296.68" stroke="#666" stroke-width="0.8" />
<text x="441" y="296.69" font-size="7.3" text-anchor="start" fill="#333"  stroke="#333" stroke-width="0.1">10k</text>
<line x1="433.9" y1="313.84" x2="436.4" y2="313.84" stroke="#666" stroke-width="0.8" />
<text x="441" y="313.85" font-size="7.3" text-anchor="start" fill="#333"  stroke="#333" stroke-width="0.1">5k</text>
<line x1="433.9" y1="331" x2="436.4" y2="331" stroke="#666" stroke-width="0.8" />
<text x="441" y="331.01" font-size="7.3" text-anchor="start" fill="#333"  stroke="#333" stroke-width="0.1">-200</text>
<text x="421.5" y="184.21" font-size="9.8" text-anchor="middle" fill="#222" textLength="37.2" lengthAdjust="spacingAndGlyphs"  stroke="#222" stroke-width="0.1">Intensity</text>
<text x="350.9" y="201.85" font-size="10.2" text-anchor="start" fill="#111" textLength="60.5" lengthAdjust="spacingAndGlyphs"  stroke="#111" stroke-width="0.1">Vacuum, 24 h</text>
<text x="340.8" y="359.08" font-size="10" text-anchor="middle" fill="#222" textLength="75" lengthAdjust="spacingAndGlyphs"  stroke="#222" stroke-width="0.1">Temperature (K)</text>
<text x="239.1" y="265.49" font-size="9.6" text-anchor="middle" fill="#222" transform="rotate(-90 239.1 262.05)" textLength="53" lengthAdjust="spacingAndGlyphs"  stroke="#222" stroke-width="0.1">Energy (eV)</text>
<line x1="379.5" y1="225" x2="376.8" y2="237.19" stroke="#111" stroke-width="0.85" />
<polygon points="376,240.8 375.05,236.29 378.76,237.11" fill="#111"/>
<line x1="293.2" y1="281.3" x2="289.94" y2="268.98" stroke="#111" stroke-width="0.85" />
<polygon points="289,265.4 291.91,268.98 288.24,269.95" fill="#111"/>
<polyline points="268.8,65.75 269.1,65.79 269.4,65.84 269.7,65.89 270,65.93 270.3,65.98 270.6,66.03 270.9,66.07 271.2,66.12 271.5,66.17 271.8,66.21 272.1,66.26 272.4,66.31 272.7,66.35 273,66.4 273.3,66.44 273.6,66.49 273.9,66.53 274.2,66.58 274.5,66.62 274.8,66.67 275.1,66.71 275.4,66.76 275.7,66.8 276,66.85 276.3,66.89 276.6,66.93 276.9,66.98 277.2,67.02 277.5,67.06 277.8,67.1 278.1,67.14 278.4,67.18 278.7,67.21 279,67.25 279.3,67.29 279.6,67.32 279.9,67.35 280.2,67.38 280.5,67.4 280.8,67.42 281.1,67.43 281.4,67.44 281.7,67.44 282,67.42 282.3,67.39 282.6,67.34 282.9,67.26 283.2,67.13 283.5,66.92 283.8,66.61 284.1,66.11 284.4,65.26 284.7,63.7 285,60.53 285.3,53.38 285.6,38.8 285.8,32.1 285.9,34.08 286.2,49.55 286.5,59.1 286.8,63.36 287.1,65.45 287.4,66.62 287.7,67.34 288,67.83 288.3,68.18 288.6,68.45 288.9,68.66 289.2,68.84 289.5,68.99 289.8,69.13 290.1,69.23 290.4,69.29 290.7,69.35 291,69.39 291.3,69.44 291.6,69.48 291.9,69.51 292.2,69.54 292.5,69.57 292.8,69.6 293.1,69.63 293.4,69.66 293.7,69.68 294,69.71 294.3,69.73 294.6,69.75 294.9,69.77 295.2,69.8 295.5,69.82 295.8,69.84 296.1,69.86 296.4,69.88 296.7,69.89 297,69.91 297.3,69.93 297.6,69.95 297.9,69.97 298.2,69.98 298.5,70 298.8,70.01 299.1,70.03 299.4,70.04 299.7,70.05 300,70.07 300.3,70.08 300.6,70.09 300.9,70.09 301.2,70.1 301.5,70.1 301.8,70.1 302.1,70.09 302.4,70.08 302.7,70.06 303,70.03 303.3,69.98 303.6,69.91 303.9,69.8 304.2,69.63 304.5,69.4 304.8,69.07 305.1,68.66 305.4,68.32 305.7,68.27 306,68.57 306.3,69 306.6,69.39 306.9,69.68 307.2,69.89 307.5,70.03 307.8,70.14 308.1,70.21 308.4,70.25 308.7,70.28 309,70.28 309.3,70.26 309.6,70.21 309.9,70.11 310.2,69.94 310.5,69.69 310.8,69.38 311.1,69.16 311.4,69.24 311.7,69.56 312,69.91 312.3,70.19 312.6,70.38 312.9,70.52 313.2,70.62 313.5,70.7 313.8,70.76 314.1,70.81 314.4,70.85 314.7,70.89 315,70.92 315.3,70.95 315.6,70.97 315.9,71 316.2,71.02 316.5,71.04 316.8,71.06 317.1,71.09 317.4,71.1 317.7,71.12 318,71.14 318.3,71.16 318.6,71.18 318.9,71.19 319.2,71.21 319.5,71.23 319.8,71.24 320.1,71.26 320.4,71.27 320.7,71.28 321,71.29 321.3,71.3 321.6,71.31 321.9,71.32 322.2,71.32 322.5,71.33 322.8,71.34 323.1,71.34 323.4,71.35 323.7,71.35 324,71.36 324.3,71.36 324.6,71.36 324.9,71.35 325.2,71.35 325.5,71.34 325.8,71.33 326.1,71.32 326.4,71.31 326.7,71.28 327,71.26 327.3,71.22 327.6,71.18 327.9,71.12 328.2,71.06 328.5,70.97 328.8,70.86 329.1,70.71 329.4,70.52 329.7,70.27 330,69.91 330.3,69.39 330.6,68.62 330.9,67.4 331.2,65.31 331.5,61.37 331.8,53.18 332.1,36.2 332.4,20.45 332.4,20.45 332.7,36.08 333,52.95 333.3,61 333.6,64.79 333.9,66.7 334.2,67.69 334.5,68.16 334.8,68.28 335.1,68.11 335.4,67.63 335.7,66.82 336,65.62 336.3,64.11 336.6,62.69 336.9,62.12 337.2,62.84 337.5,64.42 337.8,66.11 338.1,67.5 338.4,68.56 338.7,69.33 339,69.9 339.3,70.33 339.6,70.65 339.9,70.9 340.2,71.1 340.5,71.26 340.8,71.39 341.1,71.5 341.4,71.59 341.7,71.67 342,71.73 342.3,71.79 342.6,71.84 342.9,71.89 343.2,71.93 343.5,71.97 343.8,72 344.1,72.03 344.4,72.06 344.7,72.08 345,72.11 345.3,72.12 345.6,72.14 345.9,72.15 346.2,72.16 346.5,72.17 346.8,72.18 347.1,72.18 347.4,72.19 347.7,72.19 348,72.2 348.3,72.2 348.6,72.2 348.9,72.2 349.2,72.2 349.5,72.19 349.8,72.18 350.1,72.17 350.4,72.15 350.7,72.13 351,72.1 351.3,72.06 351.6,72.01 351.9,71.93 352.2,71.83 352.5,71.68 352.8,71.46 353.1,71.14 353.4,70.67 353.7,70.02 354,69.32 354.3,68.98 354.6,69.32 354.9,70.03 355.2,70.69 355.5,71.17 355.8,71.49 356.1,71.72 356.4,71.87 356.7,71.98 357,72.06 357.3,72.12 357.6,72.16 357.9,72.2 358.2,72.22 358.5,72.24 358.8,72.26 359.1,72.27 359.4,72.28 359.7,72.28 360,72.28 360.3,72.28 360.6,72.28 360.9,72.27 361.2,72.25 361.5,72.23 361.8,72.21 362.1,72.17 362.4,72.13 362.7,72.06 363,71.98 363.3,71.86 363.6,71.7 363.9,71.45 364.2,71.09 364.5,70.52 364.8,69.65 365.1,68.4 365.4,67.14 365.7,66.89 366,67.95 366.3,69.28 366.6,70.29 366.9,70.95 367.2,71.38 367.5,71.66 367.8,71.85 368.1,71.99 368.4,72.09 368.7,72.16 369,72.22 369.3,72.26 369.6,72.3 369.9,72.33 370.2,72.35 370.5,72.36 370.8,72.38 371.1,72.38 371.4,72.39 371.7,72.39 372,72.39 372.3,72.39 372.6,72.38 372.9,72.38 373.2,72.36 373.5,72.34 373.8,72.32 374.1,72.29 374.4,72.25 374.7,72.2 375,72.13 375.3,72.04 375.6,71.92 375.9,71.75 376.2,71.5 376.5,71.15 376.8,70.6 377.1,69.76 377.4,68.48 377.7,66.78 378,65.43 378.3,65.75 378.6,67.37 378.9,68.97 379.2,70.1 379.5,70.83 379.8,71.3 380.1,71.62 380.4,71.84 380.7,71.99 381,72.11 381.3,72.19 381.6,72.26 381.9,72.31 382.2,72.35 382.5,72.38 382.8,72.41 383.1,72.43 383.4,72.44 383.7,72.45 384,72.46 384.3,72.47 384.6,72.47 384.9,72.47 385.2,72.47 385.5,72.46 385.8,72.45 386.1,72.44 386.4,72.43 386.7,72.41 387,72.39 387.3,72.36 387.6,72.33 387.9,72.3 388.2,72.25 388.5,72.2 388.8,72.13 389.1,72.05 389.4,71.95 389.7,71.82 390,71.65 390.3,71.44 390.6,71.16 390.9,70.78 391.2,70.24 391.5,69.47 391.8,68.36 392.1,66.72 392.4,64.48 392.7,62.06 393,60.82 393.3,61.82 393.6,63.99 393.9,65.93 394.2,67.19 394.5,67.8 394.8,67.87 395.1,67.4 395.4,66.32 395.7,64.61 396,62.67 396.3,61.79 396.6,62.95 396.9,65.18 397.2,67.24 397.5,68.75 397.8,69.78 398.1,70.5 398.4,71 398.7,71.36 399,71.63 399.3,71.83 399.6,71.99 399.9,72.12 400.2,72.23 400.5,72.31 400.8,72.38 401.1,72.44 401.4,72.49 401.7,72.54 402,72.58 402.3,72.61 402.6,72.64 402.9,72.67 403.2,72.69 403.5,72.71 403.8,72.73 404.1,72.75 404.4,72.77 404.7,72.78 405,72.8 405.3,72.81 405.6,72.82 405.9,72.83 406.2,72.85 406.5,72.86 406.8,72.86 407.1,72.87 407.4,72.88 407.7,72.89 408,72.9 408.3,72.91 408.6,72.91 408.9,72.92 409.2,72.93 409.5,72.93 409.8,72.94 410.1,72.94 410.4,72.95 410.7,72.95 411,72.96 411.3,72.96 411.6,72.97 411.9,72.97 412.2,72.98 412.5,72.98 412.8,72.99 413.1,72.99 413.4,72.99 413.7,73 414,73 414.3,73 414.6,73.01 414.9,73.01 415.2,73.01 415.5,73.02 415.8,73.02 416.1,73.02 416.4,73.02 416.7,73.03 417,73.03 417.3,73.03 417.6,73.03 417.9,73.03 418.2,73.03 418.5,73.03 418.8,73.03 419.1,73.03 419.4,73.02 419.7,73.02 420,73.02 420.3,73.01 420.6,73.01 420.9,73 421.2,72.99 421.5,72.97 421.8,72.96 422.1,72.94 422.4,72.91 422.7,72.88 423,72.84 423.3,72.79 423.6,72.71 423.9,72.62 424.2,72.49 424.5,72.31 424.8,72.06 425.1,71.69 425.4,71.18 425.7,70.53 426,69.87 426.3,69.58 426.6,69.88 426.9,70.54 427.2,71.2 427.5,71.72 427.8,72.09 428.1,72.35 428.4,72.54 428.7,72.67 429,72.78 429.3,72.85 429.6,72.91 429.9,72.96 430.2,73 430.5,73.03 430.8,73.06 431.1,73.08 431.4,73.1 431.7,73.12 432,73.13 432.3,73.15 432.6,73.16 432.9,73.17 433.2,73.18 433.5,73.19 433.8,73.2 434.1,73.21 434.4,73.21 434.7,73.22 435,73.23 435.3,73.23 435.6,73.24" fill="none" stroke="#f0a62a" stroke-width="0.75" stroke-linejoin="round"/>
<line x1="281.4" y1="149.2" x2="281.4" y2="117.7" stroke="#333" stroke-width="0.75" />
<line x1="300.8" y1="149.2" x2="300.8" y2="146.4" stroke="#333" stroke-width="0.75" />
<line x1="315.5" y1="149.2" x2="315.5" y2="145.5" stroke="#333" stroke-width="0.75" />
<line x1="328.2" y1="149.2" x2="328.2" y2="132.2" stroke="#333" stroke-width="0.75" />
<line x1="339.6" y1="149.2" x2="339.6" y2="135.5" stroke="#333" stroke-width="0.75" />
<line x1="349.6" y1="149.2" x2="349.6" y2="148" stroke="#333" stroke-width="0.75" />
<line x1="368.5" y1="149.2" x2="368.5" y2="141.9" stroke="#333" stroke-width="0.75" />
<line x1="376.8" y1="149.2" x2="376.8" y2="143.8" stroke="#333" stroke-width="0.75" />
<line x1="400" y1="149.2" x2="400" y2="148" stroke="#333" stroke-width="0.75" />
<line x1="407.6" y1="149.2" x2="407.6" y2="148.2" stroke="#333" stroke-width="0.75" />
<line x1="434.8" y1="149.2" x2="434.8" y2="148.2" stroke="#333" stroke-width="0.75" />
<line x1="268.3" y1="149.2" x2="442" y2="149.2" stroke="#222" stroke-width="0.8" />
<rect x="268.3" y="13.1" width="173.7" height="145.4" fill="none" stroke="#8a8a8a" stroke-width="0.9" />
<line x1="268.3" y1="85.9" x2="442" y2="85.9" stroke="#8a8a8a" stroke-width="0.9" />
<line x1="268.3" y1="19.4" x2="270.9" y2="19.4" stroke="#8a8a8a" stroke-width="0.8" />
<line x1="442" y1="19.4" x2="439.4" y2="19.4" stroke="#8a8a8a" stroke-width="0.8" />
<line x1="268.3" y1="28.8" x2="269.9" y2="28.8" stroke="#8a8a8a" stroke-width="0.8" />
<line x1="442" y1="28.8" x2="440.4" y2="28.8" stroke="#8a8a8a" stroke-width="0.8" />
<line x1="268.3" y1="38.2" x2="270.9" y2="38.2" stroke="#8a8a8a" stroke-width="0.8" />
<line x1="442" y1="38.2" x2="439.4" y2="38.2" stroke="#8a8a8a" stroke-width="0.8" />
<line x1="268.3" y1="47.6" x2="269.9" y2="47.6" stroke="#8a8a8a" stroke-width="0.8" />
<line x1="442" y1="47.6" x2="440.4" y2="47.6" stroke="#8a8a8a" stroke-width="0.8" />
<line x1="268.3" y1="57" x2="270.9" y2="57" stroke="#8a8a8a" stroke-width="0.8" />
<line x1="442" y1="57" x2="439.4" y2="57" stroke="#8a8a8a" stroke-width="0.8" />
<line x1="268.3" y1="66.4" x2="269.9" y2="66.4" stroke="#8a8a8a" stroke-width="0.8" />
<line x1="442" y1="66.4" x2="440.4" y2="66.4" stroke="#8a8a8a" stroke-width="0.8" />
<line x1="268.3" y1="75.8" x2="270.9" y2="75.8" stroke="#8a8a8a" stroke-width="0.8" />
<line x1="442" y1="75.8" x2="439.4" y2="75.8" stroke="#8a8a8a" stroke-width="0.8" />
<line x1="268.3" y1="94.5" x2="269.9" y2="94.5" stroke="#8a8a8a" stroke-width="0.8" />
<line x1="442" y1="94.5" x2="440.4" y2="94.5" stroke="#8a8a8a" stroke-width="0.8" />
<line x1="268.3" y1="103.6" x2="270.9" y2="103.6" stroke="#8a8a8a" stroke-width="0.8" />
<line x1="442" y1="103.6" x2="439.4" y2="103.6" stroke="#8a8a8a" stroke-width="0.8" />
<line x1="268.3" y1="112.7" x2="269.9" y2="112.7" stroke="#8a8a8a" stroke-width="0.8" />
<line x1="442" y1="112.7" x2="440.4" y2="112.7" stroke="#8a8a8a" stroke-width="0.8" />
<line x1="268.3" y1="121.8" x2="270.9" y2="121.8" stroke="#8a8a8a" stroke-width="0.8" />
<line x1="442" y1="121.8" x2="439.4" y2="121.8" stroke="#8a8a8a" stroke-width="0.8" />
<line x1="268.3" y1="130.9" x2="269.9" y2="130.9" stroke="#8a8a8a" stroke-width="0.8" />
<line x1="442" y1="130.9" x2="440.4" y2="130.9" stroke="#8a8a8a" stroke-width="0.8" />
<line x1="268.3" y1="140" x2="270.9" y2="140" stroke="#8a8a8a" stroke-width="0.8" />
<line x1="442" y1="140" x2="439.4" y2="140" stroke="#8a8a8a" stroke-width="0.8" />
<line x1="284.99" y1="13.1" x2="284.99" y2="15.7" stroke="#8a8a8a" stroke-width="0.8" />
<line x1="284.99" y1="85.9" x2="284.99" y2="83.3" stroke="#8a8a8a" stroke-width="0.8" />
<line x1="284.99" y1="85.9" x2="284.99" y2="88.5" stroke="#8a8a8a" stroke-width="0.8" />
<line x1="284.99" y1="158.5" x2="284.99" y2="155.9" stroke="#8a8a8a" stroke-width="0.8" />
<line x1="310.01" y1="13.1" x2="310.01" y2="14.9" stroke="#8a8a8a" stroke-width="0.8" />
<line x1="310.01" y1="85.9" x2="310.01" y2="84.1" stroke="#8a8a8a" stroke-width="0.8" />
<line x1="310.01" y1="85.9" x2="310.01" y2="87.7" stroke="#8a8a8a" stroke-width="0.8" />
<line x1="310.01" y1="158.5" x2="310.01" y2="156.7" stroke="#8a8a8a" stroke-width="0.8" />
<line x1="335.04" y1="13.1" x2="335.04" y2="15.7" stroke="#8a8a8a" stroke-width="0.8" />
<line x1="335.04" y1="85.9" x2="335.04" y2="83.3" stroke="#8a8a8a" stroke-width="0.8" />
<line x1="335.04" y1="85.9" x2="335.04" y2="88.5" stroke="#8a8a8a" stroke-width="0.8" />
<line x1="335.04" y1="158.5" x2="335.04" y2="155.9" stroke="#8a8a8a" stroke-width="0.8" />
<line x1="360.07" y1="13.1" x2="360.07" y2="14.9" stroke="#8a8a8a" stroke-width="0.8" />
<line x1="360.07" y1="85.9" x2="360.07" y2="84.1" stroke="#8a8a8a" stroke-width="0.8" />
<line x1="360.07" y1="85.9" x2="360.07" y2="87.7" stroke="#8a8a8a" stroke-width="0.8" />
<line x1="360.07" y1="158.5" x2="360.07" y2="156.7" stroke="#8a8a8a" stroke-width="0.8" />
<line x1="385.1" y1="13.1" x2="385.1" y2="15.7" stroke="#8a8a8a" stroke-width="0.8" />
<line x1="385.1" y1="85.9" x2="385.1" y2="83.3" stroke="#8a8a8a" stroke-width="0.8" />
<line x1="385.1" y1="85.9" x2="385.1" y2="88.5" stroke="#8a8a8a" stroke-width="0.8" />
<line x1="385.1" y1="158.5" x2="385.1" y2="155.9" stroke="#8a8a8a" stroke-width="0.8" />
<line x1="410.12" y1="13.1" x2="410.12" y2="14.9" stroke="#8a8a8a" stroke-width="0.8" />
<line x1="410.12" y1="85.9" x2="410.12" y2="84.1" stroke="#8a8a8a" stroke-width="0.8" />
<line x1="410.12" y1="85.9" x2="410.12" y2="87.7" stroke="#8a8a8a" stroke-width="0.8" />
<line x1="410.12" y1="158.5" x2="410.12" y2="156.7" stroke="#8a8a8a" stroke-width="0.8" />
<line x1="435.15" y1="13.1" x2="435.15" y2="15.7" stroke="#8a8a8a" stroke-width="0.8" />
<line x1="435.15" y1="85.9" x2="435.15" y2="83.3" stroke="#8a8a8a" stroke-width="0.8" />
<line x1="435.15" y1="85.9" x2="435.15" y2="88.5" stroke="#8a8a8a" stroke-width="0.8" />
<line x1="435.15" y1="158.5" x2="435.15" y2="155.9" stroke="#8a8a8a" stroke-width="0.8" />
<text x="284.99" y="168.2" font-size="9.5" text-anchor="middle" fill="#222"  stroke="#222" stroke-width="0.1">15</text>
<text x="335.04" y="168.2" font-size="9.5" text-anchor="middle" fill="#222"  stroke="#222" stroke-width="0.1">30</text>
<text x="385.1" y="168.2" font-size="9.5" text-anchor="middle" fill="#222"  stroke="#222" stroke-width="0.1">45</text>
<text x="435.15" y="168.2" font-size="9.5" text-anchor="middle" fill="#222"  stroke="#222" stroke-width="0.1">60</text>
<text x="354.4" y="177.52" font-size="9" text-anchor="middle" fill="#222"  stroke="#222" stroke-width="0.1">2θ (°)</text>
<text x="259.8" y="94.73" font-size="9.3" text-anchor="middle" fill="#222" transform="rotate(-90 259.8 91.4)" textLength="82.4" lengthAdjust="spacingAndGlyphs"  stroke="#222" stroke-width="0.1">Intensity (arb. units)</text>
<text x="336.7" y="27.6" font-size="10" fill="#222" textLength="103.9" lengthAdjust="spacingAndGlyphs" stroke="#222" stroke-width="0.1">Cs<tspan font-size="6.5" dy="2.4">0.05</tspan><tspan dy="-2.4">MA</tspan><tspan font-size="6.5" dy="2.4">0.10</tspan><tspan dy="-2.4">FA</tspan><tspan font-size="6.5" dy="2.4">0.85</tspan><tspan dy="-2.4">Pb</tspan><tspan font-family="Liberation Serif">I</tspan><tspan font-size="6.5" dy="2.4">3</tspan><tspan dy="-2.4"> film</tspan></text>
<text x="377.7" y="104.0" font-size="10" fill="#222" textLength="51.9" lengthAdjust="spacingAndGlyphs" stroke="#222" stroke-width="0.1">Cubic FAPb<tspan font-family="Liberation Serif">I</tspan><tspan font-size="6.5" dx="1" dy="3">3</tspan></text>
<rect x="500.1" y="318.2" width="58.8" height="9.2" fill="#ecc6df" stroke="none" stroke-width="1" />
<rect x="558.9" y="318.2" width="55.7" height="9.2" fill="#85d4bd" stroke="none" stroke-width="1" />
<rect x="614.6" y="318.2" width="50.3" height="9.2" fill="#f4d189" stroke="none" stroke-width="1" />
<text x="529.5" y="326.09" font-size="9.2" text-anchor="middle" fill="#222" textLength="56" lengthAdjust="spacingAndGlyphs"  stroke="#222" stroke-width="0.1">orthorhombic</text>
<text x="560.6" y="326.1" font-size="9.4" fill="#222" stroke="#222" stroke-width="0.1">tetragonal<tspan font-family="Liberation Serif" dx="1.5">II</tspan></text>
<text x="616.3" y="326.1" font-size="9.4" fill="#222" stroke="#222" stroke-width="0.1">tetragonal<tspan font-family="Liberation Serif" dx="1.5">I</tspan></text>
<polyline points="516.06,272 539.22,226.64 554.66,213.68 577.82,233.12 585.54,252.56 593.26,275.24 608.7,310.88 624.14,272" fill="none" stroke="#3f9f9f" stroke-width="0.75" stroke-dasharray="2 1.6" opacity="0.9"/>
<polyline points="516.06,259.04 539.22,252.56 562.38,226.64 585.54,249.32 593.26,272 608.7,291.44 624.14,297.92 647.3,252.56" fill="none" stroke="#4cc3c8" stroke-width="0.75" stroke-dasharray="2 1.6" opacity="0.9"/>
<polyline points="508.34,278.48 531.5,233.12 554.66,220.16 577.82,239.6 593.26,278.48 608.7,310.88 624.14,304.4 647.3,278.48" fill="none" stroke="#f28ac8" stroke-width="0.75" stroke-dasharray="2 1.6" opacity="0.9"/>
<polyline points="508.34,272 523.78,252.56 539.22,226.64 554.66,226.64 570.1,239.6 585.54,246.08 600.98,297.92 616.42,310.88" fill="none" stroke="#5a5a5a" stroke-width="0.75" stroke-dasharray="2 1.6" opacity="0.9"/>
<circle cx="516.06" cy="272" r="1.6" fill="#3f9f9f" opacity="0.85"/>
<circle cx="539.22" cy="226.64" r="1.6" fill="#3f9f9f" opacity="0.85"/>
<circle cx="554.66" cy="213.68" r="1.6" fill="#3f9f9f" opacity="0.85"/>
<circle cx="577.82" cy="233.12" r="1.6" fill="#3f9f9f" opacity="0.85"/>
<circle cx="585.54" cy="252.56" r="1.6" fill="#3f9f9f" opacity="0.85"/>
<circle cx="593.26" cy="275.24" r="1.6" fill="#3f9f9f" opacity="0.85"/>
<circle cx="608.7" cy="310.88" r="1.6" fill="#3f9f9f" opacity="0.85"/>
<circle cx="624.14" cy="272" r="1.6" fill="#3f9f9f" opacity="0.85"/>
<circle cx="516.06" cy="259.04" r="1.6" fill="#4cc3c8" opacity="0.85"/>
<circle cx="539.22" cy="252.56" r="1.6" fill="#4cc3c8" opacity="0.85"/>
<circle cx="562.38" cy="226.64" r="1.6" fill="#4cc3c8" opacity="0.85"/>
<circle cx="585.54" cy="249.32" r="1.6" fill="#4cc3c8" opacity="0.85"/>
<circle cx="593.26" cy="272" r="1.6" fill="#4cc3c8" opacity="0.85"/>
<circle cx="608.7" cy="291.44" r="1.6" fill="#4cc3c8" opacity="0.85"/>
<circle cx="624.14" cy="297.92" r="1.6" fill="#4cc3c8" opacity="0.85"/>
<circle cx="647.3" cy="252.56" r="1.6" fill="#4cc3c8" opacity="0.85"/>
<circle cx="508.34" cy="278.48" r="1.6" fill="#f28ac8" opacity="0.85"/>
<circle cx="531.5" cy="233.12" r="1.6" fill="#f28ac8" opacity="0.85"/>
<circle cx="554.66" cy="220.16" r="1.6" fill="#f28ac8" opacity="0.85"/>
<circle cx="577.82" cy="239.6" r="1.6" fill="#f28ac8" opacity="0.85"/>
<circle cx="593.26" cy="278.48" r="1.6" fill="#f28ac8" opacity="0.85"/>
<circle cx="608.7" cy="310.88" r="1.6" fill="#f28ac8" opacity="0.85"/>
<circle cx="624.14" cy="304.4" r="1.6" fill="#f28ac8" opacity="0.85"/>
<circle cx="647.3" cy="278.48" r="1.6" fill="#f28ac8" opacity="0.85"/>
<circle cx="508.34" cy="272" r="1.6" fill="#5a5a5a" opacity="0.85"/>
<circle cx="523.78" cy="252.56" r="1.6" fill="#5a5a5a" opacity="0.85"/>
<circle cx="539.22" cy="226.64" r="1.6" fill="#5a5a5a" opacity="0.85"/>
<circle cx="554.66" cy="226.64" r="1.6" fill="#5a5a5a" opacity="0.85"/>
<circle cx="570.1" cy="239.6" r="1.6" fill="#5a5a5a" opacity="0.85"/>
<circle cx="585.54" cy="246.08" r="1.6" fill="#5a5a5a" opacity="0.85"/>
<circle cx="600.98" cy="297.92" r="1.6" fill="#5a5a5a" opacity="0.85"/>
<circle cx="616.42" cy="310.88" r="1.6" fill="#5a5a5a" opacity="0.85"/>
<rect x="496.5" y="194.8" width="169.9" height="135.6" fill="none" stroke="#8a8a8a" stroke-width="1" />
<line x1="493.5" y1="304.4" x2="496.5" y2="304.4" stroke="#666" stroke-width="0.8" />
<line x1="666.4" y1="304.4" x2="663.9" y2="304.4" stroke="#666" stroke-width="0.8" />
<text x="492" y="307.51" font-size="8.7" text-anchor="end" fill="#222"  stroke="#222" stroke-width="0.1">1.510</text>
<line x1="493.5" y1="272" x2="496.5" y2="272" stroke="#666" stroke-width="0.8" />
<line x1="666.4" y1="272" x2="663.9" y2="272" stroke="#666" stroke-width="0.8" />
<text x="492" y="275.11" font-size="8.7" text-anchor="end" fill="#222"  stroke="#222" stroke-width="0.1">1.515</text>
<line x1="493.5" y1="239.6" x2="496.5" y2="239.6" stroke="#666" stroke-width="0.8" />
<line x1="666.4" y1="239.6" x2="663.9" y2="239.6" stroke="#666" stroke-width="0.8" />
<text x="492" y="242.71" font-size="8.7" text-anchor="end" fill="#222"  stroke="#222" stroke-width="0.1">1.520</text>
<line x1="493.5" y1="207.2" x2="496.5" y2="207.2" stroke="#666" stroke-width="0.8" />
<line x1="666.4" y1="207.2" x2="663.9" y2="207.2" stroke="#666" stroke-width="0.8" />
<text x="492" y="210.31" font-size="8.7" text-anchor="end" fill="#222"  stroke="#222" stroke-width="0.1">1.525</text>
<line x1="494.7" y1="320.6" x2="496.5" y2="320.6" stroke="#666" stroke-width="0.8" />
<line x1="666.4" y1="320.6" x2="664.9" y2="320.6" stroke="#666" stroke-width="0.8" />
<line x1="494.7" y1="288.2" x2="496.5" y2="288.2" stroke="#666" stroke-width="0.8" />
<line x1="666.4" y1="288.2" x2="664.9" y2="288.2" stroke="#666" stroke-width="0.8" />
<line x1="494.7" y1="255.8" x2="496.5" y2="255.8" stroke="#666" stroke-width="0.8" />
<line x1="666.4" y1="255.8" x2="664.9" y2="255.8" stroke="#666" stroke-width="0.8" />
<line x1="494.7" y1="223.4" x2="496.5" y2="223.4" stroke="#666" stroke-width="0.8" />
<line x1="666.4" y1="223.4" x2="664.9" y2="223.4" stroke="#666" stroke-width="0.8" />
<line x1="512.2" y1="330.4" x2="512.2" y2="332.2" stroke="#666" stroke-width="0.8" />
<line x1="512.2" y1="194.8" x2="512.2" y2="196.6" stroke="#666" stroke-width="0.8" />
<line x1="531.5" y1="330.4" x2="531.5" y2="333.2" stroke="#666" stroke-width="0.8" />
<line x1="531.5" y1="194.8" x2="531.5" y2="197.6" stroke="#666" stroke-width="0.8" />
<line x1="550.8" y1="330.4" x2="550.8" y2="332.2" stroke="#666" stroke-width="0.8" />
<line x1="550.8" y1="194.8" x2="550.8" y2="196.6" stroke="#666" stroke-width="0.8" />
<line x1="570.1" y1="330.4" x2="570.1" y2="333.2" stroke="#666" stroke-width="0.8" />
<line x1="570.1" y1="194.8" x2="570.1" y2="197.6" stroke="#666" stroke-width="0.8" />
<line x1="589.4" y1="330.4" x2="589.4" y2="332.2" stroke="#666" stroke-width="0.8" />
<line x1="589.4" y1="194.8" x2="589.4" y2="196.6" stroke="#666" stroke-width="0.8" />
<line x1="608.7" y1="330.4" x2="608.7" y2="333.2" stroke="#666" stroke-width="0.8" />
<line x1="608.7" y1="194.8" x2="608.7" y2="197.6" stroke="#666" stroke-width="0.8" />
<line x1="628" y1="330.4" x2="628" y2="332.2" stroke="#666" stroke-width="0.8" />
<line x1="628" y1="194.8" x2="628" y2="196.6" stroke="#666" stroke-width="0.8" />
<line x1="647.3" y1="330.4" x2="647.3" y2="333.2" stroke="#666" stroke-width="0.8" />
<line x1="647.3" y1="194.8" x2="647.3" y2="197.6" stroke="#666" stroke-width="0.8" />
<text x="531.5" y="342" font-size="9.5" text-anchor="middle" fill="#222"  stroke="#222" stroke-width="0.1">50</text>
<text x="570.1" y="342" font-size="9.5" text-anchor="middle" fill="#222"  stroke="#222" stroke-width="0.1">100</text>
<text x="608.7" y="342" font-size="9.5" text-anchor="middle" fill="#222"  stroke="#222" stroke-width="0.1">150</text>
<text x="647.3" y="342" font-size="9.5" text-anchor="middle" fill="#222"  stroke="#222" stroke-width="0.1">200</text>
<text x="580.8" y="356.8" font-size="9.5" text-anchor="middle" fill="#222" textLength="68" lengthAdjust="spacingAndGlyphs"  stroke="#222" stroke-width="0.1">Temperature (K)</text>
<text x="465.5" y="265.43" font-size="9.3" text-anchor="middle" fill="#222" transform="rotate(-90 465.5 262.1)" textLength="75.4" lengthAdjust="spacingAndGlyphs"  stroke="#222" stroke-width="0.1">Peak position (eV)</text>
<text x="647.5" y="248.49" font-size="9.2" text-anchor="start" fill="#222"  stroke="#222" stroke-width="0.1">16 h</text>
<text x="623.5" y="267.89" font-size="9.2" text-anchor="start" fill="#222"  stroke="#222" stroke-width="0.1">5 h</text>
<text x="647.5" y="274.59" font-size="9.2" text-anchor="start" fill="#222"  stroke="#222" stroke-width="0.1">24 h</text>
<text x="616.4" y="306.39" font-size="9.2" text-anchor="start" fill="#222"  stroke="#222" stroke-width="0.1">0 h</text>
<line x1="518.1" y1="237" x2="522.68" y2="242.06" stroke="#111" stroke-width="1.5" />
<polygon points="525.7,245.4 520.27,243.57 524.42,239.81" fill="#111"/>
<polyline points="40.1,496.29 40.6,496.29 41.1,496.29 41.6,496.28 42.1,496.28 42.6,496.28 43.1,496.28 43.6,496.28 44.1,496.27 44.6,496.27 45.1,496.27 45.6,496.27 46.1,496.27 46.6,496.26 47.1,496.26 47.6,496.26 48.1,496.26 48.6,496.26 49.1,496.25 49.6,496.25 50.1,496.25 50.6,496.25 51.1,496.24 51.6,496.24 52.1,496.24 52.6,496.23 53.1,496.23 53.6,496.23 54.1,496.23 54.6,496.22 55.1,496.22 55.6,496.22 56.1,496.21 56.6,496.21 57.1,496.2 57.6,496.2 58.1,496.2 58.6,496.19 59.1,496.19 59.6,496.18 60.1,496.18 60.6,496.18 61.1,496.17 61.6,496.17 62.1,496.16 62.6,496.16 63.1,496.15 63.6,496.15 64.1,496.14 64.6,496.13 65.1,496.13 65.6,496.12 66.1,496.12 66.6,496.11 67.1,496.1 67.6,496.1 68.1,496.09 68.6,496.08 69.1,496.07 69.6,496.07 70.1,496.06 70.6,496.05 71.1,496.04 71.6,496.03 72.1,496.02 72.6,496.01 73.1,496 73.6,495.99 74.1,495.98 74.6,495.96 75.1,495.95 75.6,495.94 76.1,495.93 76.6,495.91 77.1,495.9 77.6,495.88 78.1,495.86 78.6,495.85 79.1,495.83 79.6,495.81 80.1,495.79 80.6,495.77 81.1,495.75 81.6,495.73 82.1,495.7 82.6,495.68 83.1,495.65 83.6,495.62 84.1,495.59 84.6,495.56 85.1,495.53 85.6,495.49 86.1,495.45 86.6,495.41 87.1,495.37 87.6,495.32 88.1,495.27 88.6,495.21 89.1,495.15 89.6,495.08 90.1,495 90.6,494.92 91.1,494.83 91.6,494.72 92.1,494.6 92.6,494.47 93.1,494.32 93.6,494.15 94.1,493.96 94.6,493.74 95.1,493.49 95.6,493.22 96.1,492.91 96.6,492.56 97.1,492.17 97.6,491.73 98.1,491.25 98.6,490.71 99.1,490.12 99.6,489.48 100.1,488.78 100.6,488.03 101.1,487.21 101.6,486.35 102.1,485.43 102.6,484.46 103.1,483.46 103.6,482.41 104.1,481.35 104.6,480.28 105.1,479.22 105.6,478.19 106.1,477.21 106.6,476.32 107.1,475.54 107.6,474.9 108.1,474.44 108.6,474.17 109.1,474.1 109.6,474.19 110.1,474.41 110.6,474.75 111.1,475.2 111.6,475.75 112.1,476.38 112.6,477.08 113.1,477.83 113.6,478.63 114.1,479.45 114.6,480.28 115.1,481.12 115.6,481.96 116.1,482.79 116.6,483.6 117.1,484.39 117.6,485.16 118.1,485.89 118.6,486.6 119.1,487.27 119.6,487.91 120.1,488.52 120.6,489.09 121.1,489.62 121.6,490.12 122.1,490.59 122.6,491.02 123.1,491.42 123.6,491.8 124.1,492.14 124.6,492.45 125.1,492.74 125.6,493 126.1,493.24 126.6,493.46 127.1,493.66 127.6,493.84 128.1,494 128.6,494.15 129.1,494.28 129.6,494.41 130.1,494.52 130.6,494.62 131.1,494.71 131.6,494.8 132.1,494.87 132.6,494.94 133.1,495.01 133.6,495.07 134.1,495.12 134.6,495.18 135.1,495.22 135.6,495.27 136.1,495.31 136.6,495.35 137.1,495.38 137.6,495.42 138.1,495.45 138.6,495.48 139.1,495.51 139.6,495.54 140.1,495.56 140.6,495.59 141.1,495.61 141.6,495.64 142.1,495.66 142.6,495.68 143.1,495.7 143.6,495.72 144.1,495.74 144.6,495.75 145.1,495.77 145.6,495.79 146.1,495.8 146.6,495.82 147.1,495.83 147.6,495.85 148.1,495.86 148.6,495.87 149.1,495.88 149.6,495.9 150.1,495.91 150.6,495.92 151.1,495.93 151.6,495.94 152.1,495.95 152.6,495.96 153.1,495.97 153.6,495.98 154.1,495.99 154.6,496 155.1,496.01 155.6,496.01 156.1,496.02 156.6,496.03 157.1,496.04 157.6,496.04 158.1,496.05 158.6,496.06 159.1,496.06 159.6,496.07 160.1,496.08 160.6,496.08 161.1,496.09 161.6,496.09 162.1,496.1 162.6,496.11 163.1,496.11 163.6,496.12 164.1,496.12 164.6,496.13 165.1,496.13 165.6,496.14 166.1,496.14 166.6,496.14 167.1,496.15 167.6,496.15 168.1,496.16 168.6,496.16 169.1,496.16 169.6,496.17 170.1,496.17 170.6,496.18 171.1,496.18 171.6,496.18 172.1,496.19 172.6,496.19 173.1,496.19 173.6,496.2 174.1,496.2 174.6,496.2 175.1,496.21 175.6,496.21 176.1,496.21 176.6,496.21 177.1,496.22 177.6,496.22 178.1,496.22 178.6,496.22 179.1,496.23 179.6,496.23 180.1,496.23 180.6,496.23 181.1,496.24 181.6,496.24 182.1,496.24 182.6,496.24 183.1,496.24 183.6,496.25 184.1,496.25 184.6,496.25 185.1,496.25 185.6,496.25 186.1,496.26 186.6,496.26 187.1,496.26 187.6,496.26 188.1,496.26 188.6,496.26 189.1,496.27 189.6,496.27 190.1,496.27 190.6,496.27 191.1,496.27 191.6,496.27 192.1,496.28 192.6,496.28 193.1,496.28 193.6,496.28 194.1,496.28 194.6,496.28 195.1,496.28 195.6,496.29 196.1,496.29 196.6,496.29 197.1,496.29 197.6,496.29 198.1,496.29 198.6,496.29 199.1,496.29 199.6,496.3 200.1,496.3 200.6,496.3 201.1,496.3 201.6,496.3 202.1,496.3 202.6,496.3 203.1,496.3 203.6,496.3 204.1,496.31 204.6,496.31 205.1,496.31 205.6,496.31" fill="none" stroke="#1e1e1e" stroke-width="1.1" stroke-linejoin="round"/>
<polyline points="40.1,472.29 40.6,472.29 41.1,472.29 41.6,472.29 42.1,472.28 42.6,472.28 43.1,472.28 43.6,472.28 44.1,472.28 44.6,472.27 45.1,472.27 45.6,472.27 46.1,472.27 46.6,472.27 47.1,472.26 47.6,472.26 48.1,472.26 48.6,472.26 49.1,472.26 49.6,472.25 50.1,472.25 50.6,472.25 51.1,472.25 51.6,472.24 52.1,472.24 52.6,472.24 53.1,472.23 53.6,472.23 54.1,472.23 54.6,472.23 55.1,472.22 55.6,472.22 56.1,472.22 56.6,472.21 57.1,472.21 57.6,472.2 58.1,472.2 58.6,472.2 59.1,472.19 59.6,472.19 60.1,472.18 60.6,472.18 61.1,472.18 61.6,472.17 62.1,472.17 62.6,472.16 63.1,472.16 63.6,472.15 64.1,472.15 64.6,472.14 65.1,472.13 65.6,472.13 66.1,472.12 66.6,472.12 67.1,472.11 67.6,472.1 68.1,472.09 68.6,472.09 69.1,472.08 69.6,472.07 70.1,472.06 70.6,472.05 71.1,472.05 71.6,472.04 72.1,472.03 72.6,472.02 73.1,472.01 73.6,472 74.1,471.98 74.6,471.97 75.1,471.96 75.6,471.95 76.1,471.93 76.6,471.92 77.1,471.91 77.6,471.89 78.1,471.87 78.6,471.86 79.1,471.84 79.6,471.82 80.1,471.8 80.6,471.78 81.1,471.76 81.6,471.74 82.1,471.72 82.6,471.69 83.1,471.66 83.6,471.64 84.1,471.61 84.6,471.58 85.1,471.54 85.6,471.51 86.1,471.47 86.6,471.43 87.1,471.39 87.6,471.34 88.1,471.29 88.6,471.23 89.1,471.17 89.6,471.1 90.1,471.03 90.6,470.95 91.1,470.85 91.6,470.75 92.1,470.63 92.6,470.5 93.1,470.36 93.6,470.19 94.1,470 94.6,469.79 95.1,469.55 95.6,469.27 96.1,468.97 96.6,468.63 97.1,468.24 97.6,467.81 98.1,467.34 98.6,466.81 99.1,466.24 99.6,465.61 100.1,464.92 100.6,464.18 101.1,463.38 101.6,462.53 102.1,461.63 102.6,460.68 103.1,459.69 103.6,458.67 104.1,457.62 104.6,456.57 105.1,455.53 105.6,454.52 106.1,453.56 106.6,452.68 107.1,451.91 107.6,451.29 108.1,450.83 108.6,450.57 109.1,450.5 109.6,450.59 110.1,450.81 110.6,451.14 111.1,451.58 111.6,452.12 112.1,452.74 112.6,453.43 113.1,454.17 113.6,454.94 114.1,455.75 114.6,456.57 115.1,457.4 115.6,458.22 116.1,459.03 116.6,459.83 117.1,460.61 117.6,461.36 118.1,462.08 118.6,462.78 119.1,463.44 119.6,464.07 120.1,464.66 120.6,465.22 121.1,465.75 121.6,466.24 122.1,466.69 122.6,467.12 123.1,467.51 123.6,467.88 124.1,468.21 124.6,468.52 125.1,468.8 125.6,469.06 126.1,469.3 126.6,469.51 127.1,469.7 127.6,469.88 128.1,470.04 128.6,470.19 129.1,470.32 129.6,470.44 130.1,470.55 130.6,470.65 131.1,470.74 131.6,470.82 132.1,470.9 132.6,470.97 133.1,471.03 133.6,471.09 134.1,471.15 134.6,471.2 135.1,471.24 135.6,471.29 136.1,471.33 136.6,471.37 137.1,471.4 137.6,471.44 138.1,471.47 138.6,471.5 139.1,471.53 139.6,471.55 140.1,471.58 140.6,471.6 141.1,471.63 141.6,471.65 142.1,471.67 142.6,471.69 143.1,471.71 143.6,471.73 144.1,471.75 144.6,471.76 145.1,471.78 145.6,471.8 146.1,471.81 146.6,471.83 147.1,471.84 147.6,471.86 148.1,471.87 148.6,471.88 149.1,471.89 149.6,471.91 150.1,471.92 150.6,471.93 151.1,471.94 151.6,471.95 152.1,471.96 152.6,471.97 153.1,471.98 153.6,471.99 154.1,472 154.6,472 155.1,472.01 155.6,472.02 156.1,472.03 156.6,472.04 157.1,472.04 157.6,472.05 158.1,472.06 158.6,472.06 159.1,472.07 159.6,472.08 160.1,472.08 160.6,472.09 161.1,472.09 161.6,472.1 162.1,472.11 162.6,472.11 163.1,472.12 163.6,472.12 164.1,472.13 164.6,472.13 165.1,472.14 165.6,472.14 166.1,472.14 166.6,472.15 167.1,472.15 167.6,472.16 168.1,472.16 168.6,472.17 169.1,472.17 169.6,472.17 170.1,472.18 170.6,472.18 171.1,472.18 171.6,472.19 172.1,472.19 172.6,472.19 173.1,472.2 173.6,472.2 174.1,472.2 174.6,472.21 175.1,472.21 175.6,472.21 176.1,472.21 176.6,472.22 177.1,472.22 177.6,472.22 178.1,472.22 178.6,472.23 179.1,472.23 179.6,472.23 180.1,472.23 180.6,472.24 181.1,472.24 181.6,472.24 182.1,472.24 182.6,472.25 183.1,472.25 183.6,472.25 184.1,472.25 184.6,472.25 185.1,472.26 185.6,472.26 186.1,472.26 186.6,472.26 187.1,472.26 187.6,472.26 188.1,472.27 188.6,472.27 189.1,472.27 189.6,472.27 190.1,472.27 190.6,472.27 191.1,472.28 191.6,472.28 192.1,472.28 192.6,472.28 193.1,472.28 193.6,472.28 194.1,472.28 194.6,472.29 195.1,472.29 195.6,472.29 196.1,472.29 196.6,472.29 197.1,472.29 197.6,472.29 198.1,472.29 198.6,472.3 199.1,472.3 199.6,472.3 200.1,472.3 200.6,472.3 201.1,472.3 201.6,472.3 202.1,472.3 202.6,472.3 203.1,472.3 203.6,472.31 204.1,472.31 204.6,472.31 205.1,472.31 205.6,472.31" fill="none" stroke="#2c6d70" stroke-width="1.1" stroke-linejoin="round"/>
<polyline points="40.1,448.4 40.6,448.4 41.1,448.4 41.6,448.4 42.1,448.4 42.6,448.4 43.1,448.39 43.6,448.39 44.1,448.39 44.6,448.39 45.1,448.39 45.6,448.39 46.1,448.39 46.6,448.38 47.1,448.38 47.6,448.38 48.1,448.38 48.6,448.38 49.1,448.37 49.6,448.37 50.1,448.37 50.6,448.37 51.1,448.37 51.6,448.36 52.1,448.36 52.6,448.36 53.1,448.36 53.6,448.35 54.1,448.35 54.6,448.35 55.1,448.35 55.6,448.34 56.1,448.34 56.6,448.34 57.1,448.34 57.6,448.33 58.1,448.33 58.6,448.33 59.1,448.32 59.6,448.32 60.1,448.32 60.6,448.31 61.1,448.31 61.6,448.31 62.1,448.3 62.6,448.3 63.1,448.3 63.6,448.29 64.1,448.29 64.6,448.28 65.1,448.28 65.6,448.27 66.1,448.27 66.6,448.26 67.1,448.26 67.6,448.25 68.1,448.25 68.6,448.24 69.1,448.24 69.6,448.23 70.1,448.23 70.6,448.22 71.1,448.21 71.6,448.21 72.1,448.2 72.6,448.19 73.1,448.18 73.6,448.18 74.1,448.17 74.6,448.16 75.1,448.15 75.6,448.14 76.1,448.13 76.6,448.12 77.1,448.11 77.6,448.1 78.1,448.09 78.6,448.08 79.1,448.07 79.6,448.05 80.1,448.04 80.6,448.03 81.1,448.01 81.6,448 82.1,447.98 82.6,447.97 83.1,447.95 83.6,447.93 84.1,447.91 84.6,447.89 85.1,447.87 85.6,447.85 86.1,447.83 86.6,447.8 87.1,447.78 87.6,447.75 88.1,447.72 88.6,447.69 89.1,447.66 89.6,447.62 90.1,447.59 90.6,447.55 91.1,447.5 91.6,447.46 92.1,447.41 92.6,447.35 93.1,447.29 93.6,447.23 94.1,447.16 94.6,447.08 95.1,446.99 95.6,446.89 96.1,446.77 96.6,446.65 97.1,446.5 97.6,446.34 98.1,446.16 98.6,445.96 99.1,445.72 99.6,445.46 100.1,445.16 100.6,444.83 101.1,444.46 101.6,444.04 102.1,443.58 102.6,443.07 103.1,442.51 103.6,441.9 104.1,441.23 104.6,440.5 105.1,439.72 105.6,438.89 106.1,438.01 106.6,437.08 107.1,436.1 107.6,435.1 108.1,434.07 108.6,433.02 109.1,431.99 109.6,430.98 110.1,430.01 110.6,429.13 111.1,428.34 111.6,427.69 112.1,427.21 112.6,426.9 113.1,426.8 113.6,426.86 114.1,427.05 114.6,427.36 115.1,427.78 115.6,428.29 116.1,428.89 116.6,429.56 117.1,430.28 117.6,431.05 118.1,431.84 118.6,432.65 119.1,433.47 119.6,434.29 120.1,435.1 120.6,435.89 121.1,436.66 121.6,437.41 122.1,438.14 122.6,438.83 123.1,439.49 123.6,440.12 124.1,440.72 124.6,441.28 125.1,441.8 125.6,442.3 126.1,442.76 126.6,443.19 127.1,443.58 127.6,443.95 128.1,444.29 128.6,444.6 129.1,444.88 129.6,445.14 130.1,445.38 130.6,445.6 131.1,445.79 131.6,445.97 132.1,446.13 132.6,446.28 133.1,446.42 133.6,446.54 134.1,446.65 134.6,446.75 135.1,446.84 135.6,446.92 136.1,447 136.6,447.07 137.1,447.13 137.6,447.19 138.1,447.25 138.6,447.3 139.1,447.35 139.6,447.39 140.1,447.43 140.6,447.47 141.1,447.5 141.6,447.54 142.1,447.57 142.6,447.6 143.1,447.63 143.6,447.66 144.1,447.68 144.6,447.71 145.1,447.73 145.6,447.75 146.1,447.77 146.6,447.79 147.1,447.81 147.6,447.83 148.1,447.85 148.6,447.87 149.1,447.88 149.6,447.9 150.1,447.91 150.6,447.93 151.1,447.94 151.6,447.96 152.1,447.97 152.6,447.98 153.1,448 153.6,448.01 154.1,448.02 154.6,448.03 155.1,448.04 155.6,448.05 156.1,448.06 156.6,448.07 157.1,448.08 157.6,448.09 158.1,448.1 158.6,448.11 159.1,448.11 159.6,448.12 160.1,448.13 160.6,448.14 161.1,448.15 161.6,448.15 162.1,448.16 162.6,448.17 163.1,448.17 163.6,448.18 164.1,448.18 164.6,448.19 165.1,448.2 165.6,448.2 166.1,448.21 166.6,448.21 167.1,448.22 167.6,448.22 168.1,448.23 168.6,448.23 169.1,448.24 169.6,448.24 170.1,448.25 170.6,448.25 171.1,448.25 171.6,448.26 172.1,448.26 172.6,448.27 173.1,448.27 173.6,448.27 174.1,448.28 174.6,448.28 175.1,448.28 175.6,448.29 176.1,448.29 176.6,448.29 177.1,448.3 177.6,448.3 178.1,448.3 178.6,448.31 179.1,448.31 179.6,448.31 180.1,448.32 180.6,448.32 181.1,448.32 181.6,448.32 182.1,448.33 182.6,448.33 183.1,448.33 183.6,448.33 184.1,448.34 184.6,448.34 185.1,448.34 185.6,448.34 186.1,448.34 186.6,448.35 187.1,448.35 187.6,448.35 188.1,448.35 188.6,448.35 189.1,448.36 189.6,448.36 190.1,448.36 190.6,448.36 191.1,448.36 191.6,448.36 192.1,448.37 192.6,448.37 193.1,448.37 193.6,448.37 194.1,448.37 194.6,448.37 195.1,448.38 195.6,448.38 196.1,448.38 196.6,448.38 197.1,448.38 197.6,448.38 198.1,448.38 198.6,448.39 199.1,448.39 199.6,448.39 200.1,448.39 200.6,448.39 201.1,448.39 201.6,448.39 202.1,448.39 202.6,448.4 203.1,448.4 203.6,448.4 204.1,448.4 204.6,448.4 205.1,448.4 205.6,448.4" fill="none" stroke="#27a3a6" stroke-width="1.1" stroke-linejoin="round"/>
<polyline points="40.1,424.5 40.6,424.5 41.1,424.49 41.6,424.49 42.1,424.49 42.6,424.49 43.1,424.49 43.6,424.49 44.1,424.48 44.6,424.48 45.1,424.48 45.6,424.48 46.1,424.48 46.6,424.47 47.1,424.47 47.6,424.47 48.1,424.47 48.6,424.47 49.1,424.46 49.6,424.46 50.1,424.46 50.6,424.46 51.1,424.46 51.6,424.45 52.1,424.45 52.6,424.45 53.1,424.45 53.6,424.44 54.1,424.44 54.6,424.44 55.1,424.43 55.6,424.43 56.1,424.43 56.6,424.42 57.1,424.42 57.6,424.42 58.1,424.41 58.6,424.41 59.1,424.41 59.6,424.4 60.1,424.4 60.6,424.4 61.1,424.39 61.6,424.39 62.1,424.38 62.6,424.38 63.1,424.37 63.6,424.37 64.1,424.36 64.6,424.36 65.1,424.35 65.6,424.35 66.1,424.34 66.6,424.34 67.1,424.33 67.6,424.33 68.1,424.32 68.6,424.31 69.1,424.31 69.6,424.3 70.1,424.29 70.6,424.28 71.1,424.28 71.6,424.27 72.1,424.26 72.6,424.25 73.1,424.24 73.6,424.23 74.1,424.22 74.6,424.21 75.1,424.2 75.6,424.19 76.1,424.18 76.6,424.17 77.1,424.15 77.6,424.14 78.1,424.13 78.6,424.11 79.1,424.1 79.6,424.08 80.1,424.06 80.6,424.05 81.1,424.03 81.6,424.01 82.1,423.99 82.6,423.97 83.1,423.95 83.6,423.92 84.1,423.9 84.6,423.87 85.1,423.85 85.6,423.82 86.1,423.79 86.6,423.75 87.1,423.72 87.6,423.68 88.1,423.64 88.6,423.6 89.1,423.55 89.6,423.5 90.1,423.44 90.6,423.38 91.1,423.31 91.6,423.24 92.1,423.15 92.6,423.06 93.1,422.96 93.6,422.84 94.1,422.71 94.6,422.56 95.1,422.39 95.6,422.2 96.1,421.99 96.6,421.75 97.1,421.47 97.6,421.17 98.1,420.82 98.6,420.44 99.1,420.01 99.6,419.53 100.1,419.01 100.6,418.43 101.1,417.8 101.6,417.11 102.1,416.37 102.6,415.58 103.1,414.73 103.6,413.84 104.1,412.9 104.6,411.92 105.1,410.91 105.6,409.89 106.1,408.85 106.6,407.83 107.1,406.85 107.6,405.92 108.1,405.08 108.6,404.35 109.1,403.77 109.6,403.36 110.1,403.14 110.6,403.11 111.1,403.22 111.6,403.46 112.1,403.81 112.6,404.26 113.1,404.81 113.6,405.43 114.1,406.11 114.6,406.85 115.1,407.62 115.6,408.41 116.1,409.22 116.6,410.03 117.1,410.84 117.6,411.64 118.1,412.41 118.6,413.17 119.1,413.91 119.6,414.61 120.1,415.28 120.6,415.93 121.1,416.54 121.6,417.11 122.1,417.66 122.6,418.17 123.1,418.64 123.6,419.08 124.1,419.5 124.6,419.88 125.1,420.23 125.6,420.55 126.1,420.85 126.6,421.12 127.1,421.37 127.6,421.6 128.1,421.8 128.6,421.99 129.1,422.16 129.6,422.32 130.1,422.46 130.6,422.58 131.1,422.7 131.6,422.81 132.1,422.9 132.6,422.99 133.1,423.07 133.6,423.14 134.1,423.21 134.6,423.27 135.1,423.33 135.6,423.38 136.1,423.43 136.6,423.47 137.1,423.52 137.6,423.56 138.1,423.59 138.6,423.63 139.1,423.66 139.6,423.69 140.1,423.72 140.6,423.75 141.1,423.77 141.6,423.8 142.1,423.82 142.6,423.85 143.1,423.87 143.6,423.89 144.1,423.91 144.6,423.93 145.1,423.95 145.6,423.96 146.1,423.98 146.6,424 147.1,424.01 147.6,424.03 148.1,424.04 148.6,424.05 149.1,424.07 149.6,424.08 150.1,424.09 150.6,424.11 151.1,424.12 151.6,424.13 152.1,424.14 152.6,424.15 153.1,424.16 153.6,424.17 154.1,424.18 154.6,424.19 155.1,424.2 155.6,424.21 156.1,424.21 156.6,424.22 157.1,424.23 157.6,424.24 158.1,424.24 158.6,424.25 159.1,424.26 159.6,424.27 160.1,424.27 160.6,424.28 161.1,424.28 161.6,424.29 162.1,424.3 162.6,424.3 163.1,424.31 163.6,424.31 164.1,424.32 164.6,424.32 165.1,424.33 165.6,424.33 166.1,424.34 166.6,424.34 167.1,424.35 167.6,424.35 168.1,424.35 168.6,424.36 169.1,424.36 169.6,424.37 170.1,424.37 170.6,424.37 171.1,424.38 171.6,424.38 172.1,424.38 172.6,424.39 173.1,424.39 173.6,424.39 174.1,424.4 174.6,424.4 175.1,424.4 175.6,424.41 176.1,424.41 176.6,424.41 177.1,424.42 177.6,424.42 178.1,424.42 178.6,424.42 179.1,424.43 179.6,424.43 180.1,424.43 180.6,424.43 181.1,424.44 181.6,424.44 182.1,424.44 182.6,424.44 183.1,424.44 183.6,424.45 184.1,424.45 184.6,424.45 185.1,424.45 185.6,424.45 186.1,424.46 186.6,424.46 187.1,424.46 187.6,424.46 188.1,424.46 188.6,424.47 189.1,424.47 189.6,424.47 190.1,424.47 190.6,424.47 191.1,424.47 191.6,424.47 192.1,424.48 192.6,424.48 193.1,424.48 193.6,424.48 194.1,424.48 194.6,424.48 195.1,424.48 195.6,424.49 196.1,424.49 196.6,424.49 197.1,424.49 197.6,424.49 198.1,424.49 198.6,424.49 199.1,424.49 199.6,424.5 200.1,424.5 200.6,424.5 201.1,424.5 201.6,424.5 202.1,424.5 202.6,424.5 203.1,424.5 203.6,424.5 204.1,424.51 204.6,424.51 205.1,424.51 205.6,424.51" fill="none" stroke="#ec5fae" stroke-width="1.1" stroke-linejoin="round"/>
<polyline points="40.1,400.8 40.6,400.8 41.1,400.8 41.6,400.8 42.1,400.79 42.6,400.79 43.1,400.79 43.6,400.79 44.1,400.79 44.6,400.79 45.1,400.78 45.6,400.78 46.1,400.78 46.6,400.78 47.1,400.78 47.6,400.78 48.1,400.77 48.6,400.77 49.1,400.77 49.6,400.77 50.1,400.77 50.6,400.76 51.1,400.76 51.6,400.76 52.1,400.76 52.6,400.75 53.1,400.75 53.6,400.75 54.1,400.75 54.6,400.74 55.1,400.74 55.6,400.74 56.1,400.74 56.6,400.73 57.1,400.73 57.6,400.73 58.1,400.72 58.6,400.72 59.1,400.72 59.6,400.71 60.1,400.71 60.6,400.71 61.1,400.7 61.6,400.7 62.1,400.69 62.6,400.69 63.1,400.69 63.6,400.68 64.1,400.68 64.6,400.67 65.1,400.67 65.6,400.66 66.1,400.66 66.6,400.65 67.1,400.65 67.6,400.64 68.1,400.64 68.6,400.63 69.1,400.62 69.6,400.62 70.1,400.61 70.6,400.6 71.1,400.6 71.6,400.59 72.1,400.58 72.6,400.57 73.1,400.57 73.6,400.56 74.1,400.55 74.6,400.54 75.1,400.53 75.6,400.52 76.1,400.51 76.6,400.5 77.1,400.49 77.6,400.48 78.1,400.47 78.6,400.45 79.1,400.44 79.6,400.43 80.1,400.41 80.6,400.4 81.1,400.38 81.6,400.37 82.1,400.35 82.6,400.33 83.1,400.31 83.6,400.29 84.1,400.27 84.6,400.25 85.1,400.23 85.6,400.2 86.1,400.18 86.6,400.15 87.1,400.12 87.6,400.09 88.1,400.06 88.6,400.03 89.1,399.99 89.6,399.95 90.1,399.91 90.6,399.86 91.1,399.81 91.6,399.76 92.1,399.7 92.6,399.64 93.1,399.57 93.6,399.49 94.1,399.4 94.6,399.31 95.1,399.2 95.6,399.08 96.1,398.94 96.6,398.78 97.1,398.61 97.6,398.41 98.1,398.18 98.6,397.93 99.1,397.64 99.6,397.32 100.1,396.96 100.6,396.56 101.1,396.11 101.6,395.61 102.1,395.06 102.6,394.46 103.1,393.81 103.6,393.09 104.1,392.33 104.6,391.5 105.1,390.63 105.6,389.7 106.1,388.73 106.6,387.72 107.1,386.69 107.6,385.63 108.1,384.58 108.6,383.54 109.1,382.54 109.6,381.61 110.1,380.77 110.6,380.05 111.1,379.49 111.6,379.1 112.1,378.92 112.6,378.92 113.1,379.06 113.6,379.33 114.1,379.71 114.6,380.19 115.1,380.77 115.6,381.42 116.1,382.13 116.6,382.89 117.1,383.69 117.6,384.5 118.1,385.33 118.6,386.16 119.1,386.98 119.6,387.8 120.1,388.59 120.6,389.36 121.1,390.1 121.6,390.82 122.1,391.5 122.6,392.15 123.1,392.77 123.6,393.35 124.1,393.9 124.6,394.42 125.1,394.9 125.6,395.34 126.1,395.76 126.6,396.14 127.1,396.5 127.6,396.82 128.1,397.12 128.6,397.39 129.1,397.64 129.6,397.87 130.1,398.08 130.6,398.27 131.1,398.44 131.6,398.59 132.1,398.73 132.6,398.86 133.1,398.98 133.6,399.08 134.1,399.18 134.6,399.27 135.1,399.35 135.6,399.42 136.1,399.49 136.6,399.55 137.1,399.61 137.6,399.66 138.1,399.71 138.6,399.76 139.1,399.8 139.6,399.84 140.1,399.88 140.6,399.91 141.1,399.94 141.6,399.98 142.1,400.01 142.6,400.03 143.1,400.06 143.6,400.09 144.1,400.11 144.6,400.13 145.1,400.15 145.6,400.18 146.1,400.2 146.6,400.22 147.1,400.23 147.6,400.25 148.1,400.27 148.6,400.28 149.1,400.3 149.6,400.32 150.1,400.33 150.6,400.34 151.1,400.36 151.6,400.37 152.1,400.38 152.6,400.4 153.1,400.41 153.6,400.42 154.1,400.43 154.6,400.44 155.1,400.45 155.6,400.46 156.1,400.47 156.6,400.48 157.1,400.49 157.6,400.5 158.1,400.51 158.6,400.51 159.1,400.52 159.6,400.53 160.1,400.54 160.6,400.54 161.1,400.55 161.6,400.56 162.1,400.57 162.6,400.57 163.1,400.58 163.6,400.58 164.1,400.59 164.6,400.6 165.1,400.6 165.6,400.61 166.1,400.61 166.6,400.62 167.1,400.62 167.6,400.63 168.1,400.63 168.6,400.64 169.1,400.64 169.6,400.65 170.1,400.65 170.6,400.65 171.1,400.66 171.6,400.66 172.1,400.67 172.6,400.67 173.1,400.67 173.6,400.68 174.1,400.68 174.6,400.68 175.1,400.69 175.6,400.69 176.1,400.69 176.6,400.7 177.1,400.7 177.6,400.7 178.1,400.71 178.6,400.71 179.1,400.71 179.6,400.71 180.1,400.72 180.6,400.72 181.1,400.72 181.6,400.72 182.1,400.73 182.6,400.73 183.1,400.73 183.6,400.73 184.1,400.74 184.6,400.74 185.1,400.74 185.6,400.74 186.1,400.75 186.6,400.75 187.1,400.75 187.6,400.75 188.1,400.75 188.6,400.76 189.1,400.76 189.6,400.76 190.1,400.76 190.6,400.76 191.1,400.76 191.6,400.77 192.1,400.77 192.6,400.77 193.1,400.77 193.6,400.77 194.1,400.77 194.6,400.78 195.1,400.78 195.6,400.78 196.1,400.78 196.6,400.78 197.1,400.78 197.6,400.78 198.1,400.79 198.6,400.79 199.1,400.79 199.6,400.79 200.1,400.79 200.6,400.79 201.1,400.79 201.6,400.79 202.1,400.8 202.6,400.8 203.1,400.8 203.6,400.8 204.1,400.8 204.6,400.8 205.1,400.8 205.6,400.8" fill="none" stroke="#f7b3d6" stroke-width="1.1" stroke-linejoin="round"/>
<text x="184.6" y="381.5" font-size="10" fill="#222" textLength="18" lengthAdjust="spacingAndGlyphs" stroke="#222" stroke-width="0.1">30 K</text>
<text x="172.6" y="398.4" font-size="10" fill="#222" textLength="17.8" lengthAdjust="spacingAndGlyphs" stroke="#222" stroke-width="0.1">40 h</text>
<text x="171.7" y="422.3" font-size="10" fill="#222" textLength="18.1" lengthAdjust="spacingAndGlyphs" stroke="#222" stroke-width="0.1">24 h</text>
<text x="170.5" y="446.1" font-size="10" fill="#222" textLength="17.2" lengthAdjust="spacingAndGlyphs" stroke="#222" stroke-width="0.1">16 h</text>
<text x="171.1" y="470.3" font-size="10" fill="#222" textLength="13" lengthAdjust="spacingAndGlyphs" stroke="#222" stroke-width="0.1">5 h</text>
<text x="170.5" y="494.5" font-size="10" fill="#222" textLength="12.6" lengthAdjust="spacingAndGlyphs" stroke="#222" stroke-width="0.1">0 h</text>
<polyline points="109.2,485 109,474.1 109,450.5 113.1,426.8 110.4,403.1 112.3,378.9" fill="none" stroke="#111" stroke-width="0.7" stroke-dasharray="2.4 1.5"/>
<line x1="109" y1="455" x2="109" y2="453" stroke="#111" stroke-width="0.6" />
<polygon points="109,450.3 110.4,453.5 107.6,453.5" fill="#111"/>
<line x1="112.6" y1="431" x2="112.8" y2="429.28" stroke="#111" stroke-width="0.6" />
<polygon points="113.1,426.6 114.13,429.94 111.35,429.62" fill="#111"/>
<line x1="110.7" y1="407" x2="110.6" y2="405.59" stroke="#111" stroke-width="0.6" />
<polygon points="110.4,402.9 112.03,405.99 109.24,406.19" fill="#111"/>
<line x1="112.1" y1="383" x2="112.17" y2="381.4" stroke="#111" stroke-width="0.6" />
<polygon points="112.3,378.7 113.55,381.96 110.75,381.83" fill="#111"/>
<rect x="39.5" y="366.1" width="166.9" height="140.9" fill="none" stroke="#555" stroke-width="1" />
<line x1="37.7" y1="375.85" x2="39.5" y2="375.85" stroke="#555" stroke-width="0.8" />
<line x1="36.5" y1="386.8" x2="39.5" y2="386.8" stroke="#555" stroke-width="0.8" />
<line x1="37.7" y1="397.75" x2="39.5" y2="397.75" stroke="#555" stroke-width="0.8" />
<line x1="36.5" y1="408.7" x2="39.5" y2="408.7" stroke="#555" stroke-width="0.8" />
<line x1="37.7" y1="419.65" x2="39.5" y2="419.65" stroke="#555" stroke-width="0.8" />
<line x1="36.5" y1="430.6" x2="39.5" y2="430.6" stroke="#555" stroke-width="0.8" />
<line x1="37.7" y1="441.55" x2="39.5" y2="441.55" stroke="#555" stroke-width="0.8" />
<line x1="36.5" y1="452.5" x2="39.5" y2="452.5" stroke="#555" stroke-width="0.8" />
<line x1="37.7" y1="463.45" x2="39.5" y2="463.45" stroke="#555" stroke-width="0.8" />
<line x1="36.5" y1="474.4" x2="39.5" y2="474.4" stroke="#555" stroke-width="0.8" />
<line x1="37.7" y1="485.35" x2="39.5" y2="485.35" stroke="#555" stroke-width="0.8" />
<line x1="36.5" y1="496.3" x2="39.5" y2="496.3" stroke="#555" stroke-width="0.8" />
<line x1="193.07" y1="507" x2="193.07" y2="508.8" stroke="#555" stroke-width="0.8" />
<line x1="193.07" y1="366.1" x2="193.07" y2="364.3" stroke="#555" stroke-width="0.8" />
<line x1="169.85" y1="507" x2="169.85" y2="510" stroke="#555" stroke-width="0.8" />
<line x1="169.85" y1="366.1" x2="169.85" y2="363.1" stroke="#555" stroke-width="0.8" />
<line x1="146.63" y1="507" x2="146.63" y2="508.8" stroke="#555" stroke-width="0.8" />
<line x1="146.63" y1="366.1" x2="146.63" y2="364.3" stroke="#555" stroke-width="0.8" />
<line x1="123.4" y1="507" x2="123.4" y2="510" stroke="#555" stroke-width="0.8" />
<line x1="123.4" y1="366.1" x2="123.4" y2="363.1" stroke="#555" stroke-width="0.8" />
<line x1="100.18" y1="507" x2="100.18" y2="508.8" stroke="#555" stroke-width="0.8" />
<line x1="100.18" y1="366.1" x2="100.18" y2="364.3" stroke="#555" stroke-width="0.8" />
<line x1="76.95" y1="507" x2="76.95" y2="510" stroke="#555" stroke-width="0.8" />
<line x1="76.95" y1="366.1" x2="76.95" y2="363.1" stroke="#555" stroke-width="0.8" />
<line x1="53.73" y1="507" x2="53.73" y2="508.8" stroke="#555" stroke-width="0.8" />
<line x1="53.73" y1="366.1" x2="53.73" y2="364.3" stroke="#555" stroke-width="0.8" />
<text x="76.95" y="519.8" font-size="9.5" text-anchor="middle" fill="#222"  stroke="#222" stroke-width="0.1">1.55</text>
<text x="123.4" y="519.8" font-size="9.5" text-anchor="middle" fill="#222"  stroke="#222" stroke-width="0.1">1.50</text>
<text x="169.85" y="519.8" font-size="9.5" text-anchor="middle" fill="#222"  stroke="#222" stroke-width="0.1">1.45</text>
<text x="122.7" y="532.9" font-size="9.5" text-anchor="middle" fill="#222" textLength="49" lengthAdjust="spacingAndGlyphs"  stroke="#222" stroke-width="0.1">Energy (eV)</text>
<text x="24.6" y="439.54" font-size="9.6" text-anchor="middle" fill="#222" transform="rotate(-90 24.6 436.1)" textLength="90" lengthAdjust="spacingAndGlyphs"  stroke="#222" stroke-width="0.1">Intensity (arb. units)</text>
<defs><linearGradient id="pkg" x1="0" y1="0" x2="0" y2="1"><stop offset="0" stop-color="#cf95b8"/><stop offset="0.4" stop-color="#e8cadc"/><stop offset="0.75" stop-color="#fbf3f8"/><stop offset="1" stop-color="#ffffff"/></linearGradient></defs>
<path d="M339.52 494.2 L339.13 494.16 L338.74 494.13 L338.36 494.09 L337.97 494.05 L337.58 494 L337.19 493.95 L336.8 493.89 L336.42 493.83 L336.03 493.76 L335.64 493.69 L335.25 493.62 L334.86 493.54 L334.48 493.46 L334.09 493.38 L333.7 493.28 L333.31 493.18 L332.92 493.07 L332.54 492.96 L332.15 492.82 L331.76 492.68 L331.37 492.51 L330.98 492.33 L330.6 492.11 L330.21 491.87 L329.82 491.57 L329.43 491.23 L329.04 490.82 L328.66 490.34 L328.27 489.75 L327.88 489.06 L327.49 488.23 L327.1 487.25 L326.72 486.08 L326.33 484.71 L325.94 483.1 L325.55 481.24 L325.16 479.09 L324.78 476.65 L324.39 473.89 L324 470.81 L323.61 467.41 L323.22 463.7 L322.84 459.7 L322.45 455.43 L322.06 450.96 L321.67 446.34 L321.28 441.63 L320.9 436.95 L320.51 432.38 L320.12 428.04 L319.73 424.08 L319.34 420.61 L318.96 417.78 L318.57 415.71 L318.18 414.5 L317.79 414.81 L317.4 415.45 L317.02 417 L316.63 419.36 L316.24 422.44 L315.85 426.11 L315.46 430.22 L315.08 434.64 L314.69 439.25 L314.3 443.93 L313.91 448.59 L313.52 453.15 L313.14 457.52 L312.75 461.67 L312.36 465.54 L311.97 469.11 L311.58 472.36 L311.2 475.29 L310.81 477.9 L310.42 480.2 L310.03 482.21 L309.64 483.95 L309.26 485.44 L308.87 486.71 L308.48 487.78 L308.09 488.68 L307.7 489.43 L307.32 490.06 L306.93 490.58 L306.54 491.01 L306.15 491.37 L305.76 491.67 L305.38 491.93 L304.99 492.14 L304.6 492.32 L304.21 492.48 L303.82 492.62 L303.44 492.73 L303.05 492.84 L302.66 492.93 L302.27 493.02 L301.88 493.1 L301.5 493.17 L301.11 493.23 L300.72 493.29 L300.33 493.35 L299.94 493.4 L299.56 493.44 L299.17 493.49 L298.78 493.53 L298.39 493.57 L298 493.6 L297.62 493.63 L297.23 493.66 L296.84 493.69 L296.45 493.72 L296.06 493.74 L295.68 493.77 L295.29 493.79 L294.9 493.81 L294.51 493.83 L294.12 493.84 L293.74 493.86 L293.35 493.87 L293.35 494.66 L293.74 494.67 L294.12 494.68 L294.51 494.69 L294.9 494.7 L295.29 494.71 L295.68 494.72 L296.06 494.73 L296.45 494.74 L296.84 494.75 L297.23 494.76 L297.62 494.77 L298 494.78 L298.39 494.79 L298.78 494.8 L299.17 494.81 L299.56 494.82 L299.94 494.83 L300.33 494.84 L300.72 494.85 L301.11 494.86 L301.5 494.87 L301.88 494.88 L302.27 494.89 L302.66 494.9 L303.05 494.91 L303.44 494.92 L303.82 494.93 L304.21 494.94 L304.6 494.95 L304.99 494.96 L305.38 494.97 L305.76 494.98 L306.15 494.99 L306.54 495 L306.93 495.01 L307.32 495.02 L307.7 495.03 L308.09 495.04 L308.48 495.05 L308.87 495.06 L309.26 495.07 L309.64 495.08 L310.03 495.09 L310.42 495.1 L310.81 495.11 L311.2 495.12 L311.58 495.13 L311.97 495.14 L312.36 495.15 L312.75 495.16 L313.14 495.17 L313.52 495.18 L313.91 495.19 L314.3 495.2 L314.69 495.21 L315.08 495.22 L315.46 495.23 L315.85 495.24 L316.24 495.25 L316.63 495.26 L317.02 495.27 L317.4 495.28 L317.79 495.29 L318.18 494.7 L318.57 494.71 L318.96 494.72 L319.34 494.73 L319.73 494.74 L320.12 494.75 L320.51 494.76 L320.9 494.77 L321.28 494.78 L321.67 494.79 L322.06 494.8 L322.45 494.81 L322.84 494.82 L323.22 494.83 L323.61 494.84 L324 494.85 L324.39 494.86 L324.78 494.87 L325.16 494.88 L325.55 494.89 L325.94 494.9 L326.33 494.91 L326.72 494.92 L327.1 494.93 L327.49 494.94 L327.88 494.95 L328.27 494.96 L328.66 494.97 L329.04 494.98 L329.43 494.99 L329.82 495 L330.21 495.01 L330.6 495.02 L330.98 495.03 L331.37 495.04 L331.76 495.05 L332.15 495.06 L332.54 495.07 L332.92 495.08 L333.31 495.09 L333.7 495.1 L334.09 495.11 L334.48 495.12 L334.86 495.13 L335.25 495.14 L335.64 495.15 L336.03 495.16 L336.42 495.17 L336.8 495.18 L337.19 495.19 L337.58 495.2 L337.97 495.2 L338.36 495.2 L338.74 495.2 L339.13 495.2 L339.52 495.2Z" fill="url(#pkg)" opacity="0.95"/>
<path d="M427.98 494.27 L427.6 494.21 L427.21 494.15 L426.82 494.09 L426.43 494.02 L426.04 493.95 L425.66 493.87 L425.27 493.79 L424.88 493.71 L424.49 493.62 L424.1 493.52 L423.72 493.41 L423.33 493.3 L422.94 493.18 L422.55 493.04 L422.16 492.89 L421.78 492.73 L421.39 492.55 L421 492.34 L420.61 492.1 L420.22 491.82 L419.84 491.5 L419.45 491.13 L419.06 490.68 L418.67 490.14 L418.28 489.51 L417.9 488.74 L417.51 487.82 L417.12 486.73 L416.73 485.42 L416.34 483.87 L415.96 482.03 L415.57 479.88 L415.18 477.38 L414.79 474.5 L414.4 471.21 L414.02 467.48 L413.63 463.31 L413.24 458.68 L412.85 453.63 L412.46 448.16 L412.08 442.32 L411.69 436.17 L411.3 429.8 L410.91 423.3 L410.52 416.79 L410.14 410.41 L409.75 404.32 L409.36 398.71 L408.97 393.75 L408.58 389.65 L408.2 386.56 L407.81 384.65 L407.42 384 L407.03 384.05 L406.64 385.96 L406.26 389.05 L405.87 393.15 L405.48 398.11 L405.09 403.72 L404.7 409.81 L404.32 416.19 L403.93 422.7 L403.54 429.2 L403.15 435.57 L402.76 441.72 L402.38 447.56 L401.99 453.03 L401.6 458.08 L401.21 462.71 L400.82 466.88 L400.44 470.61 L400.05 473.9 L399.66 476.78 L399.27 479.28 L398.88 481.43 L398.5 483.27 L398.11 484.82 L397.72 486.13 L397.33 487.22 L396.94 488.14 L396.56 488.91 L396.17 489.54 L395.78 490.08 L395.39 490.53 L395 490.9 L394.62 491.22 L394.23 491.5 L393.84 491.74 L393.45 491.95 L393.06 492.13 L392.68 492.29 L392.29 492.44 L391.9 492.58 L391.51 492.7 L391.12 492.81 L390.74 492.92 L390.35 493.02 L389.96 493.11 L389.57 493.19 L389.18 493.27 L388.8 493.35 L388.41 493.42 L388.02 493.49 L387.63 493.55 L387.24 493.61 L386.86 493.67 L386.47 493.72 L386.08 493.77 L385.69 493.82 L385.3 493.87 L384.92 493.91 L384.53 493.95 L384.14 493.99 L383.75 494.03 L383.36 494.07 L382.98 494.1 L382.59 494.13 L382.2 494.16 L381.81 494.19 L381.81 495.2 L382.2 495.2 L382.59 495.2 L382.98 495.2 L383.36 495.2 L383.75 495.2 L384.14 495.2 L384.53 495.2 L384.92 495.2 L385.3 495.2 L385.69 495.2 L386.08 495.2 L386.47 495.2 L386.86 495.2 L387.24 495.2 L387.63 495.2 L388.02 495.2 L388.41 495.2 L388.8 495.2 L389.18 495.2 L389.57 495.2 L389.96 495.2 L390.35 495.2 L390.74 495.2 L391.12 495.2 L391.51 495.2 L391.9 495.2 L392.29 495.2 L392.68 495.2 L393.06 495.2 L393.45 495.2 L393.84 495.2 L394.23 495.2 L394.62 495.2 L395 495.2 L395.39 495.2 L395.78 495.2 L396.17 495.2 L396.56 495.2 L396.94 495.2 L397.33 495.2 L397.72 495.2 L398.11 495.2 L398.5 495.2 L398.88 495.2 L399.27 495.2 L399.66 495.2 L400.05 495.2 L400.44 495.2 L400.82 495.2 L401.21 495.2 L401.6 495.2 L401.99 495.2 L402.38 495.2 L402.76 495.2 L403.15 495.2 L403.54 495.2 L403.93 495.2 L404.32 495.2 L404.7 495.2 L405.09 495.2 L405.48 495.2 L405.87 495.2 L406.26 495.2 L406.64 495.2 L407.03 495.2 L407.42 495.8 L407.81 495.8 L408.2 495.8 L408.58 495.8 L408.97 495.8 L409.36 495.8 L409.75 495.8 L410.14 495.8 L410.52 495.8 L410.91 495.8 L411.3 495.8 L411.69 495.8 L412.08 495.8 L412.46 495.8 L412.85 495.8 L413.24 495.8 L413.63 495.8 L414.02 495.8 L414.4 495.8 L414.79 495.8 L415.18 495.8 L415.57 495.8 L415.96 495.8 L416.34 495.8 L416.73 495.8 L417.12 495.8 L417.51 495.8 L417.9 495.8 L418.28 495.8 L418.67 495.8 L419.06 495.8 L419.45 495.8 L419.84 495.8 L420.22 495.8 L420.61 495.8 L421 495.8 L421.39 495.8 L421.78 495.8 L422.16 495.8 L422.55 495.8 L422.94 495.8 L423.33 495.8 L423.72 495.8 L424.1 495.8 L424.49 495.8 L424.88 495.8 L425.27 495.8 L425.66 495.8 L426.04 495.8 L426.43 495.8 L426.82 495.8 L427.21 495.8 L427.6 495.8 L427.98 495.8Z" fill="url(#pkg)" opacity="0.95"/>
<path d="M331.76 494.97 L331.37 494.96 L330.98 494.95 L330.6 494.94 L330.21 494.92 L329.82 494.91 L329.43 494.9 L329.04 494.88 L328.66 494.87 L328.27 494.85 L327.88 494.84 L327.49 494.82 L327.1 494.8 L326.72 494.79 L326.33 494.77 L325.94 494.75 L325.55 494.73 L325.16 494.7 L324.78 494.68 L324.39 494.65 L324 494.62 L323.61 494.59 L323.22 494.55 L322.84 494.51 L322.45 494.46 L322.06 494.41 L321.67 494.35 L321.28 494.28 L320.9 494.21 L320.51 494.13 L320.12 494.04 L319.73 493.94 L319.34 493.83 L318.96 493.71 L318.57 493.58 L318.18 493.44 L317.79 493.88 L317.4 493.71 L317.02 493.53 L316.63 493.34 L316.24 493.14 L315.85 492.92 L315.46 492.7 L315.08 492.47 L314.69 492.23 L314.3 491.99 L313.91 491.74 L313.52 491.5 L313.14 491.25 L312.75 491.01 L312.36 490.78 L311.97 490.56 L311.58 490.35 L311.2 490.16 L310.81 490 L310.42 489.85 L310.03 489.73 L309.64 489.64 L309.26 489.59 L308.87 489.56 L308.48 489.57 L308.09 489.6 L307.7 489.67 L307.32 489.77 L306.93 489.9 L306.54 490.04 L306.15 490.21 L305.76 490.4 L305.38 490.6 L304.99 490.81 L304.6 491.03 L304.21 491.26 L303.82 491.48 L303.44 491.71 L303.05 491.93 L302.66 492.15 L302.27 492.36 L301.88 492.56 L301.5 492.76 L301.11 492.94 L300.72 493.11 L300.33 493.27 L299.94 493.42 L299.56 493.56 L299.17 493.68 L298.78 493.79 L298.39 493.89 L298 493.98 L297.62 494.06 L297.23 494.13 L296.84 494.19 L296.45 494.24 L296.06 494.29 L295.68 494.33 L295.29 494.36 L294.9 494.39 L294.51 494.41 L294.12 494.43 L293.74 494.44 L293.35 494.45 L292.96 494.46 L292.57 494.46 L292.18 494.47 L291.8 494.47 L291.41 494.47 L291.02 494.47 L290.63 494.47 L290.24 494.48 L289.86 494.49 L289.47 494.49 L289.08 494.5 L288.69 494.5 L288.3 494.51 L287.92 494.51 L287.53 494.51 L287.14 494.52 L286.75 494.52 L286.36 494.52 L285.98 494.52 L285.59 494.53Z" fill="#cfe9d2" stroke="#3aa36a" stroke-width="0.8" opacity="0.9"/>
<path d="M421 495.72 L420.61 495.72 L420.22 495.71 L419.84 495.71 L419.45 495.71 L419.06 495.7 L418.67 495.7 L418.28 495.7 L417.9 495.69 L417.51 495.69 L417.12 495.68 L416.73 495.67 L416.34 495.67 L415.96 495.66 L415.57 495.65 L415.18 495.64 L414.79 495.63 L414.4 495.61 L414.02 495.6 L413.63 495.58 L413.24 495.56 L412.85 495.53 L412.46 495.5 L412.08 495.47 L411.69 495.43 L411.3 495.39 L410.91 495.34 L410.52 495.28 L410.14 495.21 L409.75 495.14 L409.36 495.05 L408.97 494.96 L408.58 494.85 L408.2 494.74 L407.81 494.61 L407.42 494.47 L407.03 493.71 L406.64 493.55 L406.26 493.37 L405.87 493.18 L405.48 492.97 L405.09 492.76 L404.7 492.53 L404.32 492.3 L403.93 492.06 L403.54 491.81 L403.15 491.56 L402.76 491.32 L402.38 491.07 L401.99 490.83 L401.6 490.59 L401.21 490.37 L400.82 490.16 L400.44 489.97 L400.05 489.81 L399.66 489.66 L399.27 489.55 L398.88 489.47 L398.5 489.42 L398.11 489.4 L397.72 489.42 L397.33 489.47 L396.94 489.55 L396.56 489.66 L396.17 489.81 L395.78 489.97 L395.39 490.16 L395 490.37 L394.62 490.59 L394.23 490.83 L393.84 491.07 L393.45 491.32 L393.06 491.56 L392.68 491.81 L392.29 492.06 L391.9 492.3 L391.51 492.53 L391.12 492.76 L390.74 492.97 L390.35 493.18 L389.96 493.37 L389.57 493.55 L389.18 493.71 L388.8 493.87 L388.41 494.01 L388.02 494.14 L387.63 494.25 L387.24 494.36 L386.86 494.45 L386.47 494.54 L386.08 494.61 L385.69 494.68 L385.3 494.74 L384.92 494.79 L384.53 494.83 L384.14 494.87 L383.75 494.9 L383.36 494.93 L382.98 494.96 L382.59 494.98 L382.2 495 L381.81 495.01 L381.42 495.03 L381.04 495.04 L380.65 495.05 L380.26 495.06 L379.87 495.07 L379.48 495.07 L379.1 495.08 L378.71 495.09 L378.32 495.09 L377.93 495.1 L377.54 495.1 L377.16 495.1 L376.77 495.11 L376.38 495.11 L375.99 495.11 L375.6 495.12 L375.22 495.12 L374.83 495.12Z" fill="#cfe9d2" stroke="#3aa36a" stroke-width="0.8" opacity="0.9"/>
<polyline points="443.89,495.8 443.5,495.8 443.12,495.8 442.73,495.8 442.34,495.8 441.95,495.8 441.56,495.8 441.18,495.8 440.79,495.8 440.4,495.8 440.01,495.8 439.62,495.8 439.24,495.8 438.85,495.8 438.46,495.8 438.07,495.8 437.68,495.8 437.3,495.8 436.91,495.8 436.52,495.8 436.13,495.8 435.74,495.8 435.36,495.8 434.97,495.8 434.58,495.8 434.19,495.8 433.8,495.8 433.42,495.8 433.03,495.8 432.64,495.8 432.25,495.8 431.86,495.8 431.48,495.8 431.09,495.8 430.7,495.8 430.31,495.8 429.92,495.8 429.54,495.8 429.15,495.8 428.76,495.8 428.37,495.8 427.98,495.8 427.6,495.8 427.21,495.8 426.82,495.8 426.43,495.8 426.04,495.8 425.66,495.8 425.27,495.8 424.88,495.8 424.49,495.8 424.1,495.8 423.72,495.8 423.33,495.8 422.94,495.8 422.55,495.8 422.16,495.8 421.78,495.8 421.39,495.8 421,495.8 420.61,495.8 420.22,495.8 419.84,495.8 419.45,495.8 419.06,495.8 418.67,495.8 418.28,495.8 417.9,495.8 417.51,495.8 417.12,495.8 416.73,495.8 416.34,495.8 415.96,495.8 415.57,495.8 415.18,495.8 414.79,495.8 414.4,495.8 414.02,495.8 413.63,495.8 413.24,495.8 412.85,495.8 412.46,495.8 412.08,495.8 411.69,495.8 411.3,495.8 410.91,495.8 410.52,495.8 410.14,495.8 409.75,495.8 409.36,495.8 408.97,495.8 408.58,495.8 408.2,495.8 407.81,495.8 407.42,495.8 407.03,495.2 406.64,495.2 406.26,495.2 405.87,495.2 405.48,495.2 405.09,495.2 404.7,495.2 404.32,495.2 403.93,495.2 403.54,495.2 403.15,495.2 402.76,495.2 402.38,495.2 401.99,495.2 401.6,495.2 401.21,495.2 400.82,495.2 400.44,495.2 400.05,495.2 399.66,495.2 399.27,495.2 398.88,495.2 398.5,495.2 398.11,495.2 397.72,495.2 397.33,495.2 396.94,495.2 396.56,495.2 396.17,495.2 395.78,495.2 395.39,495.2 395,495.2 394.62,495.2 394.23,495.2 393.84,495.2 393.45,495.2 393.06,495.2 392.68,495.2 392.29,495.2 391.9,495.2 391.51,495.2 391.12,495.2 390.74,495.2 390.35,495.2 389.96,495.2 389.57,495.2 389.18,495.2 388.8,495.2 388.41,495.2 388.02,495.2 387.63,495.2 387.24,495.2 386.86,495.2 386.47,495.2 386.08,495.2 385.69,495.2 385.3,495.2 384.92,495.2 384.53,495.2 384.14,495.2 383.75,495.2 383.36,495.2 382.98,495.2 382.59,495.2 382.2,495.2 381.81,495.2 381.42,495.2 381.04,495.2 380.65,495.2 380.26,495.2 379.87,495.2 379.48,495.2 379.1,495.2 378.71,495.2 378.32,495.2 377.93,495.2 377.54,495.2 377.16,495.2 376.77,495.2 376.38,495.2 375.99,495.2 375.6,495.2 375.22,495.2 374.83,495.2 374.44,495.2 374.05,495.2 373.66,495.2 373.28,495.2 372.89,495.2 372.5,495.2 372.11,495.2 371.72,495.2 371.34,495.2 370.95,495.2 370.56,495.2 370.17,495.2 369.78,495.2 369.4,495.2 369.01,495.2 368.62,495.2 368.23,495.2 367.84,495.2 367.46,495.2 367.07,495.2 366.68,495.2 366.29,495.2 365.9,495.2 365.52,495.2 365.13,495.2 364.74,495.2 364.35,495.2 363.96,495.2 363.58,495.2 363.19,495.2 362.8,495.2 362.41,495.2 362.02,495.2 361.64,495.2 361.25,495.2 360.86,495.2 360.47,495.2 360.08,495.2 359.7,495.2 359.31,495.2 358.92,495.2 358.53,495.2 358.14,495.2 357.76,495.2 357.37,495.2 356.98,495.2 356.59,495.2 356.2,495.2 355.82,495.2 355.43,495.2 355.04,495.2 354.65,495.2 354.26,495.2 353.88,495.2 353.49,495.2 353.1,495.2 352.71,495.2 352.32,495.2 351.94,495.2 351.55,495.2 351.16,495.2 350.77,495.2 350.38,495.2 350,495.2 349.61,495.2 349.22,495.2 348.83,495.2 348.44,495.2 348.06,495.2 347.67,495.2 347.28,495.2 346.89,495.2 346.5,495.2 346.12,495.2 345.73,495.2 345.34,495.2 344.95,495.2 344.56,495.2 344.18,495.2 343.79,495.2 343.4,495.2 343.01,495.2 342.62,495.2 342.24,495.2 341.85,495.2 341.46,495.2 341.07,495.2 340.68,495.2 340.3,495.2 339.91,495.2 339.52,495.2 339.13,495.2 338.74,495.2 338.36,495.2 337.97,495.2 337.58,495.2 337.19,495.19 336.8,495.18 336.42,495.17 336.03,495.16 335.64,495.15 335.25,495.14 334.86,495.13 334.48,495.12 334.09,495.11 333.7,495.1 333.31,495.09 332.92,495.08 332.54,495.07 332.15,495.06 331.76,495.05 331.37,495.04 330.98,495.03 330.6,495.02 330.21,495.01 329.82,495 329.43,494.99 329.04,494.98 328.66,494.97 328.27,494.96 327.88,494.95 327.49,494.94 327.1,494.93 326.72,494.92 326.33,494.91 325.94,494.9 325.55,494.89 325.16,494.88 324.78,494.87 324.39,494.86 324,494.85 323.61,494.84 323.22,494.83 322.84,494.82 322.45,494.81 322.06,494.8 321.67,494.79 321.28,494.78 320.9,494.77 320.51,494.76 320.12,494.75 319.73,494.74 319.34,494.73 318.96,494.72 318.57,494.71 318.18,494.7 317.79,495.29 317.4,495.28 317.02,495.27 316.63,495.26 316.24,495.25 315.85,495.24 315.46,495.23 315.08,495.22 314.69,495.21 314.3,495.2 313.91,495.19 313.52,495.18 313.14,495.17 312.75,495.16 312.36,495.15 311.97,495.14 311.58,495.13 311.2,495.12 310.81,495.11 310.42,495.1 310.03,495.09 309.64,495.08 309.26,495.07 308.87,495.06 308.48,495.05 308.09,495.04 307.7,495.03 307.32,495.02 306.93,495.01 306.54,495 306.15,494.99 305.76,494.98 305.38,494.97 304.99,494.96 304.6,494.95 304.21,494.94 303.82,494.93 303.44,494.92 303.05,494.91 302.66,494.9 302.27,494.89 301.88,494.88 301.5,494.87 301.11,494.86 300.72,494.85 300.33,494.84 299.94,494.83 299.56,494.82 299.17,494.81 298.78,494.8 298.39,494.79 298,494.78 297.62,494.77 297.23,494.76 296.84,494.75 296.45,494.74 296.06,494.73 295.68,494.72 295.29,494.71 294.9,494.7 294.51,494.69 294.12,494.68 293.74,494.67 293.35,494.66 292.96,494.65 292.57,494.64 292.18,494.63 291.8,494.62 291.41,494.61 291.02,494.6 290.63,494.6 290.24,494.6 289.86,494.6 289.47,494.6 289.08,494.6 288.69,494.6 288.3,494.6 287.92,494.6 287.53,494.6 287.14,494.6 286.75,494.6 286.36,494.6 285.98,494.6 285.59,494.6 285.2,494.6 284.81,494.6 284.42,494.6 284.04,494.6 283.65,494.6 283.26,494.6 282.87,494.6 282.48,494.6 282.1,494.6 281.71,494.6 281.32,494.6 280.93,494.6 280.54,494.6 280.16,494.6 279.77,494.6 279.38,494.6 278.99,494.6 278.6,494.6 278.22,494.6 277.83,494.6 277.44,494.6 277.05,494.6 276.66,494.6 276.28,494.6 275.89,494.6 275.5,494.6 275.11,494.6 274.72,494.6 274.34,494.6 273.95,494.6 273.56,494.6 273.17,494.6 272.78,494.6 272.4,494.6 272.01,494.6 271.62,494.6 271.23,494.6 270.84,494.6 270.46,494.6 270.07,494.6 269.68,494.6 269.29,494.6 268.9,494.6" fill="none" stroke="#4fc6c0" stroke-width="0.8" />
<g fill="none" stroke="#5a5a5a" stroke-width="0.6" opacity="0.9"><circle cx="442.73" cy="495.63" r="2.0"/><circle cx="441.8" cy="495.06" r="2.0"/><circle cx="440.87" cy="495.15" r="2.0"/><circle cx="439.93" cy="495.21" r="2.0"/><circle cx="439" cy="494.87" r="2.0"/><circle cx="438.07" cy="495.03" r="2.0"/><circle cx="437.14" cy="494.98" r="2.0"/><circle cx="436.21" cy="494.49" r="2.0"/><circle cx="435.28" cy="495.13" r="2.0"/><circle cx="434.35" cy="494.97" r="2.0"/><circle cx="433.42" cy="494.59" r="2.0"/><circle cx="432.48" cy="494.63" r="2.0"/><circle cx="431.55" cy="494.72" r="2.0"/><circle cx="430.62" cy="494.44" r="2.0"/><circle cx="429.69" cy="494.34" r="2.0"/><circle cx="428.76" cy="493.92" r="2.0"/><circle cx="427.83" cy="494.29" r="2.0"/><circle cx="426.9" cy="494.03" r="2.0"/><circle cx="425.97" cy="493.9" r="2.0"/><circle cx="425.04" cy="493.26" r="2.0"/><circle cx="424.1" cy="493.82" r="2.0"/><circle cx="423.17" cy="493.18" r="2.0"/><circle cx="422.24" cy="492.71" r="2.0"/><circle cx="421.31" cy="492.89" r="2.0"/><circle cx="389.65" cy="491.51" r="2.0"/><circle cx="388.72" cy="491.93" r="2.0"/><circle cx="387.79" cy="492.72" r="2.0"/><circle cx="386.86" cy="492.72" r="2.0"/><circle cx="385.92" cy="492.64" r="2.0"/><circle cx="384.99" cy="493.34" r="2.0"/><circle cx="384.06" cy="493.98" r="2.0"/><circle cx="383.13" cy="493.62" r="2.0"/><circle cx="382.2" cy="493.61" r="2.0"/><circle cx="381.27" cy="493.64" r="2.0"/><circle cx="380.34" cy="493.76" r="2.0"/><circle cx="379.41" cy="494.02" r="2.0"/><circle cx="378.48" cy="493.86" r="2.0"/><circle cx="377.54" cy="494.59" r="2.0"/><circle cx="376.61" cy="494.19" r="2.0"/><circle cx="375.68" cy="494.33" r="2.0"/><circle cx="374.75" cy="494.7" r="2.0"/><circle cx="373.82" cy="494.75" r="2.0"/><circle cx="372.89" cy="494.35" r="2.0"/><circle cx="371.96" cy="494.51" r="2.0"/><circle cx="371.03" cy="494.64" r="2.0"/><circle cx="370.09" cy="494.43" r="2.0"/><circle cx="369.16" cy="494.05" r="2.0"/><circle cx="368.23" cy="494.68" r="2.0"/><circle cx="367.3" cy="494.75" r="2.0"/><circle cx="366.37" cy="494.64" r="2.0"/><circle cx="365.44" cy="494.32" r="2.0"/><circle cx="364.51" cy="494.51" r="2.0"/><circle cx="363.58" cy="494.42" r="2.0"/><circle cx="362.64" cy="494.5" r="2.0"/><circle cx="361.71" cy="494.9" r="2.0"/><circle cx="360.78" cy="494.96" r="2.0"/><circle cx="359.85" cy="494.75" r="2.0"/><circle cx="358.92" cy="494.72" r="2.0"/><circle cx="357.99" cy="494.75" r="2.0"/><circle cx="357.06" cy="494.57" r="2.0"/><circle cx="356.13" cy="494.55" r="2.0"/><circle cx="355.2" cy="494.39" r="2.0"/><circle cx="354.26" cy="494.54" r="2.0"/><circle cx="353.33" cy="495.11" r="2.0"/><circle cx="352.4" cy="494.75" r="2.0"/><circle cx="351.47" cy="494.43" r="2.0"/><circle cx="350.54" cy="494.38" r="2.0"/><circle cx="349.61" cy="494.26" r="2.0"/><circle cx="348.68" cy="494.55" r="2.0"/><circle cx="347.75" cy="494.53" r="2.0"/><circle cx="346.81" cy="494.04" r="2.0"/><circle cx="345.88" cy="494.49" r="2.0"/><circle cx="344.95" cy="494.19" r="2.0"/><circle cx="344.02" cy="494.65" r="2.0"/><circle cx="343.09" cy="494.28" r="2.0"/><circle cx="342.16" cy="494.62" r="2.0"/><circle cx="341.23" cy="494.01" r="2.0"/><circle cx="340.3" cy="493.99" r="2.0"/><circle cx="339.36" cy="494.06" r="2.0"/><circle cx="338.43" cy="494.16" r="2.0"/><circle cx="337.5" cy="493.93" r="2.0"/><circle cx="336.57" cy="493.34" r="2.0"/><circle cx="335.64" cy="493.54" r="2.0"/><circle cx="334.71" cy="493.32" r="2.0"/><circle cx="333.78" cy="492.99" r="2.0"/><circle cx="332.85" cy="492.69" r="2.0"/><circle cx="331.92" cy="492.97" r="2.0"/><circle cx="330.98" cy="492.02" r="2.0"/><circle cx="330.05" cy="491.33" r="2.0"/><circle cx="301.19" cy="491.15" r="2.0"/><circle cx="300.25" cy="491.93" r="2.0"/><circle cx="299.32" cy="492.5" r="2.0"/><circle cx="298.39" cy="493.04" r="2.0"/><circle cx="297.46" cy="492.52" r="2.0"/><circle cx="296.53" cy="493.34" r="2.0"/><circle cx="295.6" cy="493.63" r="2.0"/><circle cx="294.67" cy="493.71" r="2.0"/><circle cx="293.74" cy="493.34" r="2.0"/><circle cx="292.8" cy="493.75" r="2.0"/><circle cx="291.87" cy="494.18" r="2.0"/><circle cx="290.94" cy="493.38" r="2.0"/><circle cx="290.01" cy="493.94" r="2.0"/><circle cx="289.08" cy="494.15" r="2.0"/><circle cx="288.15" cy="493.74" r="2.0"/><circle cx="287.22" cy="494.1" r="2.0"/><circle cx="286.29" cy="493.72" r="2.0"/><circle cx="285.36" cy="493.82" r="2.0"/><circle cx="284.42" cy="493.85" r="2.0"/><circle cx="283.49" cy="494.13" r="2.0"/><circle cx="282.56" cy="494.09" r="2.0"/><circle cx="281.63" cy="494.37" r="2.0"/><circle cx="280.7" cy="493.92" r="2.0"/><circle cx="279.77" cy="494.14" r="2.0"/><circle cx="278.84" cy="494.43" r="2.0"/><circle cx="277.91" cy="494.35" r="2.0"/><circle cx="276.97" cy="493.9" r="2.0"/><circle cx="276.04" cy="494.41" r="2.0"/><circle cx="275.11" cy="494.14" r="2.0"/><circle cx="274.18" cy="494.37" r="2.0"/><circle cx="273.25" cy="494.36" r="2.0"/><circle cx="272.32" cy="494.6" r="2.0"/><circle cx="271.39" cy="494.34" r="2.0"/><circle cx="270.46" cy="493.85" r="2.0"/></g>
<g fill="none" stroke="#8e8e8e" stroke-width="0.6" opacity="0.9"><circle cx="420.38" cy="491.79" r="2.0"/><circle cx="419.45" cy="490.62" r="2.0"/><circle cx="418.52" cy="489.64" r="2.0"/><circle cx="417.59" cy="487.27" r="2.0"/><circle cx="416.65" cy="485.19" r="2.0"/><circle cx="415.72" cy="480.44" r="2.0"/><circle cx="414.79" cy="474.09" r="2.0"/><circle cx="413.86" cy="465.81" r="2.0"/><circle cx="412.93" cy="453.9" r="2.0"/><circle cx="412" cy="440.83" r="2.0"/><circle cx="411.07" cy="424.88" r="2.0"/><circle cx="410.14" cy="409.59" r="2.0"/><circle cx="409.2" cy="395.58" r="2.0"/><circle cx="408.27" cy="386.44" r="2.0"/><circle cx="407.34" cy="383.02" r="2.0"/><circle cx="406.41" cy="385.9" r="2.0"/><circle cx="405.48" cy="396.02" r="2.0"/><circle cx="404.55" cy="409.48" r="2.0"/><circle cx="403.62" cy="424.63" r="2.0"/><circle cx="402.69" cy="438.69" r="2.0"/><circle cx="401.76" cy="451.05" r="2.0"/><circle cx="400.82" cy="461.31" r="2.0"/><circle cx="399.89" cy="469.62" r="2.0"/><circle cx="398.96" cy="475.77" r="2.0"/><circle cx="398.03" cy="479.27" r="2.0"/><circle cx="397.1" cy="481.88" r="2.0"/><circle cx="396.17" cy="484.54" r="2.0"/><circle cx="395.24" cy="485.69" r="2.0"/><circle cx="394.31" cy="486.96" r="2.0"/><circle cx="393.37" cy="488.12" r="2.0"/><circle cx="392.44" cy="489.02" r="2.0"/><circle cx="391.51" cy="489.86" r="2.0"/><circle cx="390.58" cy="490.35" r="2.0"/><circle cx="329.12" cy="490.85" r="2.0"/><circle cx="328.19" cy="489.42" r="2.0"/><circle cx="327.26" cy="487.39" r="2.0"/><circle cx="326.33" cy="484.65" r="2.0"/><circle cx="325.4" cy="480.22" r="2.0"/><circle cx="324.47" cy="474.22" r="2.0"/><circle cx="323.53" cy="466.55" r="2.0"/><circle cx="322.6" cy="456.77" r="2.0"/><circle cx="321.67" cy="445.64" r="2.0"/><circle cx="320.74" cy="434.35" r="2.0"/><circle cx="319.81" cy="423.86" r="2.0"/><circle cx="318.88" cy="416.29" r="2.0"/><circle cx="317.95" cy="412.97" r="2.0"/><circle cx="317.02" cy="414.71" r="2.0"/><circle cx="316.08" cy="421.65" r="2.0"/><circle cx="315.15" cy="430.63" r="2.0"/><circle cx="314.22" cy="441.04" r="2.0"/><circle cx="313.29" cy="451.96" r="2.0"/><circle cx="312.36" cy="460.91" r="2.0"/><circle cx="311.43" cy="468.73" r="2.0"/><circle cx="310.5" cy="474.31" r="2.0"/><circle cx="309.57" cy="478.44" r="2.0"/><circle cx="308.64" cy="481.47" r="2.0"/><circle cx="307.7" cy="483.87" r="2.0"/><circle cx="306.77" cy="485.56" r="2.0"/><circle cx="305.84" cy="486.72" r="2.0"/><circle cx="304.91" cy="487.93" r="2.0"/><circle cx="303.98" cy="488.57" r="2.0"/><circle cx="303.05" cy="489.8" r="2.0"/><circle cx="302.12" cy="490.09" r="2.0"/></g>
<polyline points="443.89,495.24 443.5,495.23 443.12,495.22 442.73,495.21 442.34,495.2 441.95,495.18 441.56,495.17 441.18,495.16 440.79,495.14 440.4,495.13 440.01,495.11 439.62,495.1 439.24,495.08 438.85,495.06 438.46,495.05 438.07,495.03 437.68,495.01 437.3,494.99 436.91,494.97 436.52,494.95 436.13,494.93 435.74,494.91 435.36,494.88 434.97,494.86 434.58,494.83 434.19,494.81 433.8,494.78 433.42,494.75 433.03,494.72 432.64,494.69 432.25,494.66 431.86,494.62 431.48,494.59 431.09,494.55 430.7,494.51 430.31,494.47 429.92,494.43 429.54,494.38 429.15,494.33 428.76,494.28 428.37,494.23 427.98,494.18 427.6,494.12 427.21,494.06 426.82,493.99 426.43,493.92 426.04,493.85 425.66,493.77 425.27,493.69 424.88,493.6 424.49,493.51 424.1,493.41 423.72,493.3 423.33,493.19 422.94,493.06 422.55,492.92 422.16,492.77 421.78,492.61 421.39,492.42 421,492.21 420.61,491.97 420.22,491.69 419.84,491.36 419.45,490.98 419.06,490.53 418.67,489.99 418.28,489.35 417.9,488.58 417.51,487.66 417.12,486.56 416.73,485.24 416.34,483.68 415.96,481.84 415.57,479.68 415.18,477.17 414.79,474.27 414.4,470.96 414.02,467.22 413.63,463.03 413.24,458.38 412.85,453.3 412.46,447.8 412.08,441.93 411.69,435.75 411.3,429.33 410.91,422.77 410.52,416.2 410.14,409.76 409.75,403.6 409.36,397.9 408.97,392.85 408.58,388.64 408.2,385.44 407.81,383.39 407.42,382.6 407.03,382.5 406.64,384.24 406.26,387.15 405.87,391.06 405.48,395.81 405.09,401.21 404.7,407.07 404.32,413.22 403.93,419.49 403.54,425.74 403.15,431.87 402.76,437.76 402.38,443.35 401.99,448.58 401.6,453.4 401.21,457.8 400.82,461.77 400.44,465.3 400.05,468.43 399.66,471.17 399.27,473.56 398.88,475.62 398.5,477.4 398.11,478.94 397.72,480.26 397.33,481.41 396.94,482.41 396.56,483.29 396.17,484.07 395.78,484.77 395.39,485.4 395,485.99 394.62,486.53 394.23,487.04 393.84,487.52 393.45,487.97 393.06,488.4 392.68,488.82 392.29,489.21 391.9,489.58 391.51,489.94 391.12,490.27 390.74,490.59 390.35,490.89 389.96,491.18 389.57,491.44 389.18,491.68 388.8,491.91 388.41,492.12 388.02,492.32 387.63,492.5 387.24,492.66 386.86,492.81 386.47,492.95 386.08,493.07 385.69,493.18 385.3,493.29 384.92,493.38 384.53,493.47 384.14,493.54 383.75,493.61 383.36,493.68 382.98,493.73 382.59,493.79 382.2,493.84 381.81,493.88 381.42,493.92 381.04,493.96 380.65,494 380.26,494.03 379.87,494.06 379.48,494.09 379.1,494.12 378.71,494.14 378.32,494.17 377.93,494.19 377.54,494.21 377.16,494.23 376.77,494.25 376.38,494.27 375.99,494.29 375.6,494.3 375.22,494.32 374.83,494.34 374.44,494.35 374.05,494.36 373.66,494.38 373.28,494.39 372.89,494.4 372.5,494.41 372.11,494.43 371.72,494.44 371.34,494.45 370.95,494.46 370.56,494.47 370.17,494.47 369.78,494.48 369.4,494.49 369.01,494.5 368.62,494.51 368.23,494.51 367.84,494.52 367.46,494.52 367.07,494.53 366.68,494.54 366.29,494.54 365.9,494.55 365.52,494.55 365.13,494.55 364.74,494.56 364.35,494.56 363.96,494.57 363.58,494.57 363.19,494.57 362.8,494.57 362.41,494.58 362.02,494.58 361.64,494.58 361.25,494.58 360.86,494.58 360.47,494.58 360.08,494.58 359.7,494.58 359.31,494.58 358.92,494.58 358.53,494.58 358.14,494.58 357.76,494.58 357.37,494.58 356.98,494.58 356.59,494.57 356.2,494.57 355.82,494.57 355.43,494.57 355.04,494.56 354.65,494.56 354.26,494.55 353.88,494.55 353.49,494.55 353.1,494.54 352.71,494.54 352.32,494.53 351.94,494.52 351.55,494.52 351.16,494.51 350.77,494.5 350.38,494.5 350,494.49 349.61,494.48 349.22,494.47 348.83,494.46 348.44,494.45 348.06,494.44 347.67,494.43 347.28,494.42 346.89,494.4 346.5,494.39 346.12,494.38 345.73,494.36 345.34,494.35 344.95,494.33 344.56,494.31 344.18,494.3 343.79,494.28 343.4,494.26 343.01,494.24 342.62,494.22 342.24,494.19 341.85,494.17 341.46,494.14 341.07,494.12 340.68,494.09 340.3,494.06 339.91,494.03 339.52,494 339.13,493.96 338.74,493.93 338.36,493.89 337.97,493.85 337.58,493.8 337.19,493.75 336.8,493.69 336.42,493.63 336.03,493.56 335.64,493.49 335.25,493.42 334.86,493.35 334.48,493.26 334.09,493.18 333.7,493.08 333.31,492.98 332.92,492.87 332.54,492.75 332.15,492.62 331.76,492.47 331.37,492.31 330.98,492.12 330.6,491.91 330.21,491.66 329.82,491.36 329.43,491.02 329.04,490.6 328.66,490.12 328.27,489.53 327.88,488.83 327.49,488 327.1,487.01 326.72,485.83 326.33,484.45 325.94,482.84 325.55,480.96 325.16,478.81 324.78,476.35 324.39,473.58 324,470.48 323.61,467.05 323.22,463.31 322.84,459.28 322.45,454.98 322.06,450.47 321.67,445.8 321.28,441.04 320.9,436.29 320.51,431.65 320.12,427.24 319.73,423.18 319.34,419.62 318.96,416.68 318.57,414.49 318.18,413.14 317.79,413.31 317.4,413.79 317.02,415.17 316.63,417.35 316.24,420.24 315.85,423.7 315.46,427.6 315.08,431.8 314.69,436.19 314.3,440.64 313.91,445.06 313.52,449.38 313.14,453.52 312.75,457.44 312.36,461.09 311.97,464.45 311.58,467.5 311.2,470.25 310.81,472.71 310.42,474.87 310.03,476.78 309.64,478.44 309.26,479.88 308.87,481.13 308.48,482.22 308.09,483.17 307.7,484 307.32,484.73 306.93,485.39 306.54,485.98 306.15,486.52 305.76,487.02 305.38,487.49 304.99,487.92 304.6,488.33 304.21,488.73 303.82,489.1 303.44,489.46 303.05,489.79 302.66,490.12 302.27,490.42 301.88,490.72 301.5,490.99 301.11,491.25 300.72,491.49 300.33,491.71 299.94,491.92 299.56,492.12 299.17,492.3 298.78,492.46 298.39,492.61 298,492.74 297.62,492.86 297.23,492.98 296.84,493.07 296.45,493.16 296.06,493.24 295.68,493.32 295.29,493.38 294.9,493.44 294.51,493.49 294.12,493.53 293.74,493.57 293.35,493.61 292.96,493.64 292.57,493.67 292.18,493.69 291.8,493.71 291.41,493.73 291.02,493.75 290.63,493.78 290.24,493.8 289.86,493.83 289.47,493.85 289.08,493.87 288.69,493.89 288.3,493.91 287.92,493.93 287.53,493.94 287.14,493.96 286.75,493.97 286.36,493.99 285.98,494 285.59,494.02 285.2,494.03 284.81,494.04 284.42,494.06 284.04,494.07 283.65,494.08 283.26,494.09 282.87,494.1 282.48,494.11 282.1,494.12 281.71,494.13 281.32,494.14 280.93,494.15 280.54,494.16 280.16,494.17 279.77,494.17 279.38,494.18 278.99,494.19 278.6,494.2 278.22,494.21 277.83,494.21 277.44,494.22 277.05,494.23 276.66,494.23 276.28,494.24 275.89,494.25 275.5,494.25 275.11,494.26 274.72,494.26 274.34,494.27 273.95,494.27 273.56,494.28 273.17,494.28 272.78,494.29 272.4,494.29 272.01,494.3 271.62,494.3 271.23,494.31 270.84,494.31 270.46,494.32 270.07,494.32 269.68,494.33 269.29,494.33 268.9,494.33" fill="none" stroke="#6a9ae6" stroke-width="0.65" stroke-linejoin="round"/>
<rect x="269.2" y="366.4" width="174.3" height="139.6" fill="none" stroke="#555" stroke-width="1" />
<line x1="267.4" y1="377.7" x2="269.2" y2="377.7" stroke="#555" stroke-width="0.8" />
<line x1="266.2" y1="388.4" x2="269.2" y2="388.4" stroke="#555" stroke-width="0.8" />
<line x1="267.4" y1="399.1" x2="269.2" y2="399.1" stroke="#555" stroke-width="0.8" />
<line x1="266.2" y1="409.8" x2="269.2" y2="409.8" stroke="#555" stroke-width="0.8" />
<line x1="267.4" y1="420.5" x2="269.2" y2="420.5" stroke="#555" stroke-width="0.8" />
<line x1="266.2" y1="431.2" x2="269.2" y2="431.2" stroke="#555" stroke-width="0.8" />
<line x1="267.4" y1="441.9" x2="269.2" y2="441.9" stroke="#555" stroke-width="0.8" />
<line x1="266.2" y1="452.6" x2="269.2" y2="452.6" stroke="#555" stroke-width="0.8" />
<line x1="267.4" y1="463.3" x2="269.2" y2="463.3" stroke="#555" stroke-width="0.8" />
<line x1="266.2" y1="474" x2="269.2" y2="474" stroke="#555" stroke-width="0.8" />
<line x1="267.4" y1="484.7" x2="269.2" y2="484.7" stroke="#555" stroke-width="0.8" />
<line x1="266.2" y1="495.4" x2="269.2" y2="495.4" stroke="#555" stroke-width="0.8" />
<line x1="430.7" y1="506" x2="430.7" y2="509" stroke="#555" stroke-width="0.8" />
<line x1="415.18" y1="506" x2="415.18" y2="507.8" stroke="#555" stroke-width="0.8" />
<line x1="399.66" y1="506" x2="399.66" y2="509" stroke="#555" stroke-width="0.8" />
<line x1="384.14" y1="506" x2="384.14" y2="507.8" stroke="#555" stroke-width="0.8" />
<line x1="368.62" y1="506" x2="368.62" y2="509" stroke="#555" stroke-width="0.8" />
<line x1="353.1" y1="506" x2="353.1" y2="507.8" stroke="#555" stroke-width="0.8" />
<line x1="337.58" y1="506" x2="337.58" y2="509" stroke="#555" stroke-width="0.8" />
<line x1="322.06" y1="506" x2="322.06" y2="507.8" stroke="#555" stroke-width="0.8" />
<line x1="306.54" y1="506" x2="306.54" y2="509" stroke="#555" stroke-width="0.8" />
<line x1="291.02" y1="506" x2="291.02" y2="507.8" stroke="#555" stroke-width="0.8" />
<line x1="275.5" y1="506" x2="275.5" y2="509" stroke="#555" stroke-width="0.8" />
<text x="275.5" y="519.6" font-size="9.5" text-anchor="middle" fill="#222"  stroke="#222" stroke-width="0.1">636</text>
<text x="306.54" y="519.6" font-size="9.5" text-anchor="middle" fill="#222"  stroke="#222" stroke-width="0.1">632</text>
<text x="337.58" y="519.6" font-size="9.5" text-anchor="middle" fill="#222"  stroke="#222" stroke-width="0.1">628</text>
<text x="368.62" y="519.6" font-size="9.5" text-anchor="middle" fill="#222"  stroke="#222" stroke-width="0.1">624</text>
<text x="399.66" y="519.6" font-size="9.5" text-anchor="middle" fill="#222"  stroke="#222" stroke-width="0.1">620</text>
<text x="430.7" y="519.6" font-size="9.5" text-anchor="middle" fill="#222"  stroke="#222" stroke-width="0.1">616</text>
<text x="355.4" y="535.24" font-size="9.6" text-anchor="middle" fill="#222" textLength="88.7" lengthAdjust="spacingAndGlyphs"  stroke="#222" stroke-width="0.1">Binding Energy (eV)</text>
<text x="255" y="436.94" font-size="9.6" text-anchor="middle" fill="#222" transform="rotate(-90 255 433.5)" textLength="92" lengthAdjust="spacingAndGlyphs"  stroke="#222" stroke-width="0.1">Intensity (arb. units)</text>
<text x="272.6" y="385.3" font-size="11" fill="#222" stroke="#222" stroke-width="0.1"><tspan font-family="Liberation Serif">I</tspan> 3<tspan dx="1" font-style="italic">d</tspan></text>
<text x="312.6" y="411.6" font-size="11" fill="#222" stroke="#222" stroke-width="0.1">3<tspan dx="1" font-style="italic">d</tspan><tspan font-size="7.3" dy="2.4">3/2</tspan></text>
<text x="401.4" y="378.2" font-size="11" fill="#222" stroke="#222" stroke-width="0.1">3<tspan dx="1" font-style="italic">d</tspan><tspan font-size="7.3" dy="2.4">5/2</tspan></text>
<text x="331.4" y="437.9" font-size="11" fill="#222" font-family="Liberation Serif" stroke="#222" stroke-width="0.1">I<tspan font-size="7" dy="-4">-</tspan></text>
<text x="420" y="423.8" font-size="11" fill="#222" font-family="Liberation Serif" stroke="#222" stroke-width="0.1">I<tspan font-size="7" dy="-4">-</tspan></text>
<text x="291" y="480" font-size="11" fill="#222" font-family="Liberation Serif" stroke="#222" stroke-width="0.1">I<tspan font-size="7" dy="2.2">3</tspan><tspan font-size="7" dy="-7.5">-</tspan></text>
<text x="379" y="481.4" font-size="11" fill="#222" font-family="Liberation Serif" stroke="#222" stroke-width="0.1">I<tspan font-size="7" dy="2.2">3</tspan><tspan font-size="7" dy="-7.5">-</tspan></text>
<line x1="322.3" y1="446.7" x2="328.41" y2="433.81" stroke="#111" stroke-width="0.7" />
<polygon points="329.7,431.1 329.56,434.91 326.84,433.62" fill="#111"/>
<line x1="411.8" y1="434.5" x2="416.94" y2="420.81" stroke="#111" stroke-width="0.7" />
<polygon points="418,418 418.17,421.8 415.36,420.75" fill="#111"/>
<line x1="307.4" y1="486.8" x2="302.58" y2="481.33" stroke="#111" stroke-width="0.7" />
<polygon points="300.8,479.3 303.97,480.78 301.86,482.63" fill="#111"/>
<line x1="393.2" y1="486.5" x2="389.22" y2="481.16" stroke="#111" stroke-width="0.7" />
<polygon points="387.6,479 390.64,480.73 388.39,482.4" fill="#111"/>
<polyline points="495.6,368 495.62,368.73 495.64,369.7 495.68,370.88 495.71,372.19 495.75,373.58 495.8,375 495.85,376.53 495.91,378.22 495.98,380 496.05,381.78 496.13,383.47 496.2,385 496.27,386.32 496.35,387.48 496.42,388.56 496.51,389.63 496.6,390.75 496.7,392 496.81,393.4 496.93,394.9 497.06,396.45 497.2,398.01 497.35,399.55 497.5,401 497.66,402.41 497.83,403.81 498,405.18 498.19,406.49 498.38,407.7 498.6,408.8 498.83,409.75 499.08,410.59 499.34,411.33 499.61,412.01 499.9,412.66 500.2,413.3 500.51,413.92 500.82,414.49 501.15,415.03 501.5,415.55 501.88,416.07 502.3,416.6 502.76,417.14 503.25,417.66 503.77,418.19 504.32,418.71 504.9,419.25 505.5,419.8 506.16,420.36 506.87,420.93 507.61,421.5 508.35,422.09 509.06,422.68 509.7,423.3 510.27,423.94 510.8,424.59 511.3,425.26 511.77,425.93 512.24,426.62 512.7,427.3 513.15,427.98 513.59,428.66 514.01,429.34 514.43,430.03 514.85,430.75 515.3,431.5 515.77,432.28 516.26,433.08 516.75,433.91 517.24,434.75 517.73,435.62 518.2,436.5 518.65,437.41 519.07,438.34 519.49,439.29 519.91,440.25 520.35,441.22 520.8,442.2 521.28,443.19 521.79,444.21 522.3,445.24 522.81,446.26 523.32,447.25 523.8,448.2 524.26,449.1 524.7,449.95 525.14,450.78 525.56,451.6 525.98,452.44 526.4,453.3 526.82,454.19 527.23,455.08 527.64,455.98 528.04,456.9 528.43,457.84 528.8,458.8 529.14,459.81 529.44,460.89 529.73,461.98 530.02,463.05 530.34,464.07 530.7,465 531.1,465.83 531.52,466.59 531.97,467.29 532.44,467.97 532.95,468.63 533.5,469.3 534.07,469.98 534.67,470.65 535.29,471.31 535.97,471.95 536.7,472.58 537.5,473.2 538.37,473.8 539.29,474.4 540.28,474.97 541.32,475.54 542.43,476.08 543.6,476.6 544.87,477.1 546.24,477.6 547.68,478.07 549.14,478.51 550.6,478.93 552,479.3 553.38,479.63 554.77,479.93 556.15,480.19 557.5,480.42 558.79,480.62 560,480.8 561.08,480.95 562.04,481.06 562.94,481.14 563.85,481.21 564.85,481.26 566,481.3 567.32,481.34 568.77,481.36 570.3,481.38 571.87,481.37 573.45,481.35 575,481.3 576.5,481.23 577.99,481.15 579.49,481.05 581.01,480.93 582.57,480.78 584.2,480.6 585.92,480.38 587.71,480.13 589.55,479.84 591.4,479.55 593.23,479.27 595,479 596.73,478.74 598.44,478.48 600.13,478.23 601.79,477.99 603.42,477.77 605,477.6 606.53,477.46 608.01,477.36 609.46,477.28 610.88,477.22 612.29,477.2 613.7,477.2 615.08,477.23 616.43,477.29 617.76,477.37 619.11,477.48 620.51,477.62 622,477.8 623.56,478.02 625.16,478.27 626.82,478.56 628.54,478.87 630.33,479.19 632.2,479.5 634.19,479.82 636.3,480.17 638.49,480.52 640.7,480.87 642.88,481.2 645,481.5 647.03,481.76 649.02,481.99 650.99,482.2 652.96,482.4 654.95,482.6 657,482.8 659.26,483.02 661.74,483.25 664.25,483.48 666.59,483.69 668.57,483.87 670,484" fill="none" stroke="#4d8fe6" stroke-width="1.1" stroke-linejoin="round"/>
<rect x="495.4" y="366.5" width="174.8" height="140.4" fill="none" stroke="#555" stroke-width="1" />
<line x1="492.4" y1="376.2" x2="495.4" y2="376.2" stroke="#555" stroke-width="0.8" />
<line x1="493.6" y1="390.6" x2="495.4" y2="390.6" stroke="#555" stroke-width="0.8" />
<line x1="492.4" y1="405" x2="495.4" y2="405" stroke="#555" stroke-width="0.8" />
<line x1="493.6" y1="419.4" x2="495.4" y2="419.4" stroke="#555" stroke-width="0.8" />
<line x1="492.4" y1="433.8" x2="495.4" y2="433.8" stroke="#555" stroke-width="0.8" />
<line x1="493.6" y1="448.2" x2="495.4" y2="448.2" stroke="#555" stroke-width="0.8" />
<line x1="492.4" y1="462.6" x2="495.4" y2="462.6" stroke="#555" stroke-width="0.8" />
<line x1="493.6" y1="477" x2="495.4" y2="477" stroke="#555" stroke-width="0.8" />
<line x1="492.4" y1="491.4" x2="495.4" y2="491.4" stroke="#555" stroke-width="0.8" />
<line x1="502.2" y1="506.9" x2="502.2" y2="509.9" stroke="#555" stroke-width="0.8" />
<line x1="516.2" y1="506.9" x2="516.2" y2="508.7" stroke="#555" stroke-width="0.8" />
<line x1="530.2" y1="506.9" x2="530.2" y2="509.9" stroke="#555" stroke-width="0.8" />
<line x1="544.2" y1="506.9" x2="544.2" y2="508.7" stroke="#555" stroke-width="0.8" />
<line x1="558.2" y1="506.9" x2="558.2" y2="509.9" stroke="#555" stroke-width="0.8" />
<line x1="572.2" y1="506.9" x2="572.2" y2="508.7" stroke="#555" stroke-width="0.8" />
<line x1="586.2" y1="506.9" x2="586.2" y2="509.9" stroke="#555" stroke-width="0.8" />
<line x1="600.2" y1="506.9" x2="600.2" y2="508.7" stroke="#555" stroke-width="0.8" />
<line x1="614.2" y1="506.9" x2="614.2" y2="509.9" stroke="#555" stroke-width="0.8" />
<line x1="628.2" y1="506.9" x2="628.2" y2="508.7" stroke="#555" stroke-width="0.8" />
<line x1="642.2" y1="506.9" x2="642.2" y2="509.9" stroke="#555" stroke-width="0.8" />
<line x1="656.2" y1="506.9" x2="656.2" y2="508.7" stroke="#555" stroke-width="0.8" />
<line x1="670.2" y1="506.9" x2="670.2" y2="509.9" stroke="#555" stroke-width="0.8" />
<text x="502.2" y="519.8" font-size="9.5" text-anchor="middle" fill="#222"  stroke="#222" stroke-width="0.1">300</text>
<text x="530.2" y="519.8" font-size="9.5" text-anchor="middle" fill="#222"  stroke="#222" stroke-width="0.1">350</text>
<text x="558.2" y="519.8" font-size="9.5" text-anchor="middle" fill="#222"  stroke="#222" stroke-width="0.1">400</text>
<text x="586.2" y="519.8" font-size="9.5" text-anchor="middle" fill="#222"  stroke="#222" stroke-width="0.1">450</text>
<text x="614.2" y="519.8" font-size="9.5" text-anchor="middle" fill="#222"  stroke="#222" stroke-width="0.1">500</text>
<text x="642.2" y="519.8" font-size="9.5" text-anchor="middle" fill="#222"  stroke="#222" stroke-width="0.1">550</text>
<text x="670.2" y="519.8" font-size="9.5" text-anchor="middle" fill="#222"  stroke="#222" stroke-width="0.1">600</text>
<text x="582.4" y="536.21" font-size="9.8" text-anchor="middle" fill="#222" textLength="79" lengthAdjust="spacingAndGlyphs"  stroke="#222" stroke-width="0.1">Wavelength (nm)</text>
<text x="475.3" y="440.44" font-size="9.6" text-anchor="middle" fill="#222" transform="rotate(-90 475.3 437)" textLength="108.8" lengthAdjust="spacingAndGlyphs"  stroke="#222" stroke-width="0.1">Absorbance (arb. units)</text>
<text x="510.2" y="405.8" font-size="11" fill="#222" font-family="Liberation Serif" stroke="#222" stroke-width="0.1">I<tspan font-size="7" dy="2.2">3</tspan><tspan font-size="7" dy="-7.5">-</tspan></text>
<line x1="517.5" y1="408.5" x2="512.43" y2="419.76" stroke="#111" stroke-width="0.7" />
<polygon points="511.2,422.5 511.27,418.69 514,419.92" fill="#111"/>
<text x="521.4" y="444.94" font-size="9.6" text-anchor="start" fill="#222" textLength="75.7" lengthAdjust="spacingAndGlyphs"  stroke="#222" stroke-width="0.1">from instrument</text>
<line x1="533.5" y1="447.5" x2="531.33" y2="459.55" stroke="#111" stroke-width="0.7" />
<polygon points="530.8,462.5 529.94,458.79 532.9,459.32" fill="#111"/>
<text x="612.6" y="465.3" font-size="11" fill="#222" font-family="Liberation Serif" stroke="#222" stroke-width="0.1">I<tspan font-size="7" dy="2.2">2</tspan></text>
<line x1="615.5" y1="468.5" x2="614.92" y2="473.32" stroke="#111" stroke-width="0.7" />
<polygon points="614.6,476 613.59,472.66 616.37,472.99" fill="#111"/>
</svg></body></html>
